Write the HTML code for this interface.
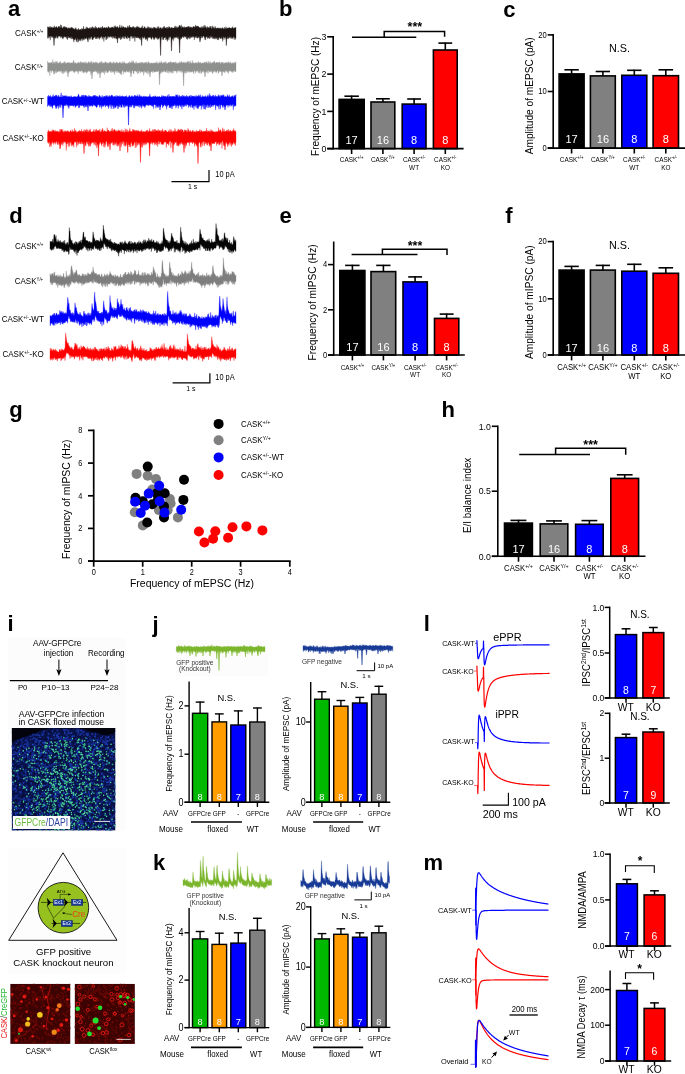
<!DOCTYPE html>
<html><head><meta charset="utf-8"><title>figure</title>
<style>html,body{margin:0;padding:0;background:#fff}svg{display:block;filter:grayscale(0)}text{font-family:"Liberation Sans",sans-serif}</style></head>
<body>
<svg width="685" height="1074" viewBox="0 0 685 1074" font-family='"Liberation Sans", sans-serif'>
<rect width="685" height="1074" fill="#fff"/>
<text x="7.9" y="15.9" font-size="22.00" font-weight="bold" fill="#000">a</text>
<text x="279.0" y="16.1" font-size="22.00" font-weight="bold" fill="#000">b</text>
<text x="503.3" y="16.6" font-size="22.00" font-weight="bold" fill="#000">c</text>
<text x="9.2" y="222.7" font-size="22.00" font-weight="bold" fill="#000">d</text>
<text x="279.6" y="223.2" font-size="22.00" font-weight="bold" fill="#000">e</text>
<text x="505.2" y="222.7" font-size="22.00" font-weight="bold" fill="#000">f</text>
<text x="9.2" y="417.2" font-size="22.00" font-weight="bold" fill="#000">g</text>
<text x="441.5" y="416.9" font-size="22.00" font-weight="bold" fill="#000">h</text>
<text x="7.5" y="630.8" font-size="22.00" font-weight="bold" fill="#000">i</text>
<text x="152.5" y="631.7" font-size="22.00" font-weight="bold" fill="#000">j</text>
<text x="423.7" y="631.0" font-size="22.00" font-weight="bold" fill="#000">l</text>
<text x="153.0" y="869.9" font-size="22.00" font-weight="bold" fill="#000">k</text>
<text x="423.6" y="869.9" font-size="22.00" font-weight="bold" fill="#000">m</text>
<path d="M47.5,26.6 L47.8,28.1 L48.2,26.8 L48.5,26.9 L48.8,28.0 L49.2,27.5 L49.5,28.2 L49.8,26.2 L50.2,27.8 L50.5,27.9 L50.8,26.6 L51.2,27.0 L51.5,27.9 L51.8,27.3 L52.2,26.8 L52.5,28.1 L52.8,27.9 L53.2,28.1 L53.5,27.3 L53.8,27.7 L54.2,25.6 L54.5,27.4 L54.8,27.8 L55.2,27.0 L55.5,27.3 L55.8,27.7 L56.2,26.4 L56.5,26.5 L56.8,27.3 L57.2,27.9 L57.5,27.5 L57.8,27.7 L58.2,27.3 L58.5,26.0 L58.8,27.0 L59.2,28.0 L59.5,26.3 L59.8,26.6 L60.2,27.7 L60.5,24.6 L60.8,28.1 L61.2,27.7 L61.5,25.1 L61.8,27.1 L62.2,28.2 L62.5,28.2 L62.8,27.9 L63.2,26.8 L63.5,27.8 L63.8,27.1 L64.2,26.0 L64.5,27.7 L64.8,27.0 L65.2,27.7 L65.5,26.7 L65.8,27.4 L66.2,27.6 L66.5,27.8 L66.9,27.1 L67.2,27.9 L67.5,28.5 L67.9,28.4 L68.2,28.4 L68.5,28.6 L68.9,27.3 L69.2,28.4 L69.5,27.9 L69.9,28.3 L70.2,28.5 L70.5,28.2 L70.9,27.6 L71.2,28.2 L71.5,26.9 L71.9,28.2 L72.2,27.3 L72.5,29.0 L72.9,28.0 L73.2,28.3 L73.5,28.7 L73.9,28.9 L74.2,29.2 L74.5,29.4 L74.9,28.4 L75.2,29.1 L75.5,28.9 L75.9,27.4 L76.2,29.2 L76.5,29.1 L76.9,30.2 L77.2,30.3 L77.5,30.1 L77.9,29.0 L78.2,29.7 L78.5,28.1 L78.9,30.1 L79.2,29.7 L79.5,30.0 L79.9,29.7 L80.2,29.0 L80.5,30.0 L80.9,29.2 L81.2,30.2 L81.5,29.9 L81.9,28.0 L82.2,29.7 L82.5,29.0 L82.9,28.9 L83.2,28.5 L83.5,26.1 L83.9,29.6 L84.2,29.1 L84.5,28.9 L84.9,29.5 L85.2,28.9 L85.5,28.9 L85.9,28.2 L86.2,26.8 L86.5,28.2 L86.9,29.0 L87.2,26.9 L87.5,28.6 L87.9,28.2 L88.2,28.9 L88.5,28.3 L88.9,28.2 L89.2,27.8 L89.5,27.8 L89.9,28.7 L90.2,28.9 L90.5,28.7 L90.9,27.0 L91.2,28.1 L91.5,27.6 L91.9,28.4 L92.2,28.8 L92.5,26.7 L92.9,26.5 L93.2,28.0 L93.5,28.9 L93.9,27.4 L94.2,28.7 L94.5,27.8 L94.9,27.7 L95.2,28.7 L95.5,25.9 L95.9,28.2 L96.2,28.5 L96.5,27.2 L96.9,28.1 L97.2,28.7 L97.5,28.5 L97.9,27.9 L98.2,27.4 L98.5,27.7 L98.9,27.6 L99.2,28.4 L99.5,27.7 L99.9,27.9 L100.2,27.9 L100.5,27.2 L100.9,28.7 L101.2,28.7 L101.5,28.2 L101.9,27.0 L102.2,28.1 L102.5,26.1 L102.9,27.8 L103.2,28.5 L103.5,27.8 L103.9,28.0 L104.2,28.1 L104.6,27.3 L104.9,27.6 L105.2,28.0 L105.6,28.3 L105.9,27.4 L106.2,27.6 L106.6,27.3 L106.9,28.2 L107.2,27.8 L107.6,28.0 L107.9,28.4 L108.2,26.1 L108.6,26.9 L108.9,27.6 L109.2,27.5 L109.6,28.4 L109.9,27.6 L110.2,28.0 L110.6,27.9 L110.9,27.6 L111.2,27.7 L111.6,26.9 L111.9,28.3 L112.2,26.8 L112.6,27.5 L112.9,27.5 L113.2,28.2 L113.6,27.4 L113.9,26.9 L114.2,25.8 L114.6,28.0 L114.9,27.8 L115.2,25.6 L115.6,27.1 L115.9,27.4 L116.2,27.3 L116.6,26.8 L116.9,28.1 L117.2,26.5 L117.6,26.6 L117.9,27.8 L118.2,27.9 L118.6,28.2 L118.9,27.3 L119.2,27.3 L119.6,27.1 L119.9,24.7 L120.2,27.5 L120.6,27.9 L120.9,27.5 L121.2,27.8 L121.6,27.1 L121.9,25.4 L122.2,26.9 L122.6,27.8 L122.9,27.6 L123.2,26.2 L123.6,27.6 L123.9,27.1 L124.2,27.4 L124.6,28.2 L124.9,27.4 L125.2,28.0 L125.6,27.0 L125.9,27.8 L126.2,27.9 L126.6,28.0 L126.9,28.2 L127.2,27.7 L127.6,26.7 L127.9,25.7 L128.2,28.1 L128.6,27.5 L128.9,26.5 L129.2,26.7 L129.6,25.1 L129.9,28.1 L130.2,27.3 L130.6,27.3 L130.9,27.1 L131.2,28.3 L131.6,27.0 L131.9,27.9 L132.2,28.0 L132.6,26.5 L132.9,27.8 L133.2,27.4 L133.6,26.2 L133.9,27.7 L134.2,27.0 L134.6,27.8 L134.9,28.4 L135.2,28.2 L135.6,27.3 L135.9,28.4 L136.2,27.5 L136.6,26.4 L136.9,26.7 L137.2,26.8 L137.6,26.4 L137.9,27.4 L138.2,27.7 L138.6,27.3 L138.9,26.5 L139.2,27.4 L139.6,27.9 L139.9,28.1 L140.2,28.0 L140.6,28.0 L140.9,28.0 L141.2,28.3 L141.6,26.6 L141.9,27.7 L142.3,28.6 L142.6,25.6 L142.9,28.3 L143.3,28.1 L143.6,28.6 L143.9,28.0 L144.3,26.6 L144.6,27.6 L144.9,26.7 L145.3,27.9 L145.6,28.3 L145.9,28.6 L146.3,28.7 L146.6,27.8 L146.9,28.1 L147.3,28.3 L147.6,28.2 L147.9,26.2 L148.3,28.1 L148.6,26.9 L148.9,28.7 L149.3,28.4 L149.6,27.6 L149.9,27.2 L150.3,28.2 L150.6,28.3 L150.9,27.6 L151.3,27.6 L151.6,28.9 L151.9,28.8 L152.3,28.0 L152.6,28.4 L152.9,28.8 L153.3,26.8 L153.6,28.9 L153.9,28.3 L154.3,27.3 L154.6,27.6 L154.9,27.5 L155.3,27.9 L155.6,27.7 L155.9,28.5 L156.3,28.4 L156.6,28.2 L156.9,28.7 L157.3,26.6 L157.6,28.6 L157.9,28.2 L158.3,28.4 L158.6,26.4 L158.9,26.8 L159.3,28.9 L159.6,28.8 L159.9,27.8 L160.3,27.8 L160.6,28.0 L160.9,27.4 L161.3,28.5 L161.6,28.7 L161.9,28.8 L162.3,28.7 L162.6,27.5 L162.9,27.9 L163.3,28.2 L163.6,26.6 L163.9,28.3 L164.3,26.1 L164.6,27.9 L164.9,27.5 L165.3,28.4 L165.6,28.0 L165.9,28.0 L166.3,27.1 L166.6,28.3 L166.9,28.4 L167.3,28.8 L167.6,27.1 L167.9,27.2 L168.3,28.2 L168.6,28.2 L168.9,26.2 L169.3,27.2 L169.6,28.1 L169.9,27.1 L170.3,28.5 L170.6,28.1 L170.9,28.5 L171.3,27.4 L171.6,28.5 L171.9,27.0 L172.3,27.7 L172.6,28.2 L172.9,28.5 L173.3,28.0 L173.6,27.9 L173.9,28.0 L174.3,27.7 L174.6,26.5 L174.9,27.5 L175.3,25.8 L175.6,28.0 L175.9,27.8 L176.3,27.9 L176.6,27.5 L176.9,26.2 L177.3,27.8 L177.6,28.1 L177.9,27.4 L178.3,26.8 L178.6,26.7 L178.9,27.9 L179.3,25.1 L179.6,25.5 L180.0,25.3 L180.3,27.2 L180.6,26.3 L181.0,27.3 L181.3,24.7 L181.6,27.9 L182.0,28.3 L182.3,26.6 L182.6,27.1 L183.0,26.7 L183.3,27.9 L183.6,27.6 L184.0,27.6 L184.3,26.5 L184.6,27.7 L185.0,27.3 L185.3,27.4 L185.6,27.2 L186.0,27.8 L186.3,27.1 L186.6,27.0 L187.0,27.0 L187.3,27.0 L187.6,27.6 L188.0,26.1 L188.3,27.1 L188.6,27.5 L189.0,26.0 L189.3,27.8 L189.6,27.2 L190.0,27.6 L190.3,28.0 L190.6,26.9 L191.0,26.5 L191.3,27.9 L191.6,27.3 L192.0,27.8 L192.3,28.2 L192.6,27.4 L193.0,26.6 L193.3,26.6 L193.6,26.7 L194.0,26.6 L194.3,26.9 L194.6,26.7 L195.0,27.8 L195.3,26.5 L195.6,24.9 L196.0,27.3 L196.3,26.1 L196.6,27.1 L197.0,25.8 L197.3,26.8 L197.6,25.9 L198.0,27.6 L198.3,26.0 L198.6,26.8 L199.0,27.2 L199.3,27.7 L199.6,27.5 L200.0,27.6 L200.3,28.2 L200.6,27.5 L201.0,27.4 L201.3,26.3 L201.6,27.9 L202.0,28.2 L202.3,28.1 L202.6,26.4 L203.0,27.9 L203.3,27.5 L203.6,27.5 L204.0,25.3 L204.3,26.8 L204.6,28.2 L205.0,25.2 L205.3,27.0 L205.6,26.7 L206.0,28.0 L206.3,27.3 L206.6,28.3 L207.0,28.5 L207.3,26.3 L207.6,27.2 L208.0,28.4 L208.3,27.1 L208.6,28.2 L209.0,28.1 L209.3,28.3 L209.6,26.5 L210.0,28.2 L210.3,26.4 L210.6,27.6 L211.0,26.0 L211.3,27.9 L211.6,28.7 L212.0,28.6 L212.3,26.9 L212.6,25.7 L213.0,28.6 L213.3,26.8 L213.6,28.3 L214.0,28.5 L214.3,28.3 L214.6,28.3 L215.0,26.2 L215.3,27.1 L215.6,28.1 L216.0,28.5 L216.3,28.8 L216.6,27.9 L217.0,28.0 L217.3,27.8 L217.7,28.4 L218.0,27.9 L218.3,28.2 L218.7,27.9 L219.0,28.3 L219.3,28.6 L219.7,28.3 L220.0,27.6 L220.3,28.5 L220.7,28.6 L221.0,28.5 L221.3,28.0 L221.7,28.7 L222.0,28.4 L222.3,28.2 L222.7,27.4 L223.0,28.0 L223.3,28.7 L223.7,28.7 L224.0,29.0 L224.3,28.8 L224.7,27.2 L225.0,28.1 L225.3,28.9 L225.7,28.3 L226.0,26.6 L226.3,28.4 L226.7,28.5 L227.0,27.9 L227.3,27.8 L227.7,28.4 L228.0,28.0 L228.3,28.1 L228.7,28.2 L229.0,27.3 L229.3,27.7 L229.7,27.5 L230.0,28.5 L230.3,28.1 L230.7,28.6 L231.0,28.0 L231.3,28.7 L231.7,27.6 L232.0,27.9 L232.3,28.0 L232.7,26.5 L233.0,28.6 L233.3,27.8 L233.7,28.6 L234.0,28.2 L234.3,28.2 L234.7,27.5 L235.0,27.4 L235.3,27.5 L235.7,27.8 L236.0,27.5 L236.0,38.0 L235.7,37.6 L235.3,39.4 L235.0,39.7 L234.7,39.4 L234.3,37.2 L234.0,36.8 L233.7,37.3 L233.3,36.6 L233.0,39.2 L232.7,37.3 L232.3,38.3 L232.0,37.5 L231.7,36.7 L231.3,38.7 L231.0,36.8 L230.7,38.4 L230.3,36.4 L230.0,36.6 L229.7,38.0 L229.3,36.8 L229.0,36.8 L228.7,38.8 L228.3,37.8 L228.0,38.6 L227.7,39.0 L227.3,37.0 L227.0,36.6 L226.7,37.8 L226.3,37.5 L226.0,39.1 L225.7,36.6 L225.3,37.0 L225.0,37.4 L224.7,37.9 L224.3,36.9 L224.0,39.7 L223.7,37.3 L223.3,36.4 L223.0,38.6 L222.7,41.5 L222.3,37.1 L222.0,38.9 L221.7,36.4 L221.3,37.7 L221.0,38.8 L220.7,37.7 L220.3,38.8 L220.0,37.6 L219.7,37.5 L219.3,37.2 L219.0,38.4 L218.7,40.1 L218.3,38.9 L218.0,36.9 L217.7,38.6 L217.3,40.0 L217.0,38.6 L216.6,37.9 L216.3,37.6 L216.0,39.2 L215.6,37.9 L215.3,36.8 L215.0,39.1 L214.6,38.6 L214.3,36.8 L214.0,39.2 L213.6,37.4 L213.3,37.4 L213.0,38.6 L212.6,38.5 L212.3,36.4 L212.0,36.2 L211.6,37.9 L211.3,36.5 L211.0,36.3 L210.6,36.2 L210.3,38.1 L210.0,38.3 L209.6,38.9 L209.3,36.8 L209.0,36.6 L208.6,38.3 L208.3,37.9 L208.0,36.8 L207.6,38.7 L207.3,36.4 L207.0,37.6 L206.6,36.8 L206.3,36.6 L206.0,36.1 L205.6,39.8 L205.3,36.7 L205.0,40.1 L204.6,36.6 L204.3,37.7 L204.0,36.5 L203.6,36.1 L203.3,36.2 L203.0,36.4 L202.6,36.4 L202.3,38.0 L202.0,38.0 L201.6,37.7 L201.3,36.1 L201.0,35.8 L200.6,36.6 L200.3,39.6 L200.0,35.9 L199.6,37.3 L199.3,36.0 L199.0,35.9 L198.6,38.0 L198.3,36.5 L198.0,37.3 L197.6,38.3 L197.3,37.5 L197.0,38.3 L196.6,36.4 L196.3,35.8 L196.0,38.0 L195.6,37.3 L195.3,35.7 L195.0,37.2 L194.6,37.1 L194.3,40.0 L194.0,36.0 L193.6,36.7 L193.3,36.1 L193.0,37.7 L192.6,36.7 L192.3,35.8 L192.0,37.1 L191.6,37.3 L191.3,35.9 L191.0,37.9 L190.6,35.8 L190.3,37.9 L190.0,38.7 L189.6,35.6 L189.3,39.1 L189.0,36.8 L188.6,37.8 L188.3,36.9 L188.0,37.9 L187.6,39.6 L187.3,38.1 L187.0,35.9 L186.6,39.1 L186.3,37.9 L186.0,36.0 L185.6,37.4 L185.3,36.6 L185.0,36.1 L184.6,35.9 L184.3,37.3 L184.0,36.3 L183.6,38.0 L183.3,36.6 L183.0,36.0 L182.6,36.9 L182.3,36.7 L182.0,37.6 L181.6,38.7 L181.3,38.5 L181.0,37.5 L180.6,37.4 L180.3,39.8 L180.0,38.0 L179.6,36.3 L179.3,38.1 L178.9,37.3 L178.6,39.3 L178.3,35.8 L177.9,38.7 L177.6,37.6 L177.3,37.2 L176.9,36.8 L176.6,38.0 L176.3,36.0 L175.9,37.5 L175.6,37.3 L175.3,36.8 L174.9,38.5 L174.6,36.2 L174.3,37.7 L173.9,36.4 L173.6,40.7 L173.3,37.5 L172.9,38.5 L172.6,37.9 L172.3,39.6 L171.9,38.6 L171.6,37.7 L171.3,36.5 L170.9,36.9 L170.6,36.2 L170.3,36.4 L169.9,38.0 L169.6,36.5 L169.3,36.7 L168.9,40.2 L168.6,38.2 L168.3,36.4 L167.9,39.2 L167.6,39.7 L167.3,41.5 L166.9,39.4 L166.6,39.3 L166.3,37.5 L165.9,40.0 L165.6,37.8 L165.3,36.3 L164.9,37.8 L164.6,37.2 L164.3,38.0 L163.9,37.4 L163.6,40.1 L163.3,38.0 L162.9,39.8 L162.6,38.8 L162.3,36.6 L161.9,37.3 L161.6,36.8 L161.3,36.5 L160.9,39.9 L160.6,37.9 L160.3,37.0 L159.9,38.6 L159.6,36.5 L159.3,37.5 L158.9,38.7 L158.6,38.5 L158.3,38.1 L157.9,40.1 L157.6,36.4 L157.3,38.8 L156.9,38.1 L156.6,37.0 L156.3,38.4 L155.9,37.6 L155.6,36.5 L155.3,37.5 L154.9,38.4 L154.6,39.5 L154.3,37.0 L153.9,39.8 L153.6,36.9 L153.3,38.7 L152.9,37.0 L152.6,36.4 L152.3,37.6 L151.9,38.0 L151.6,39.5 L151.3,38.9 L150.9,38.7 L150.6,36.5 L150.3,37.3 L149.9,38.0 L149.6,36.7 L149.3,37.2 L148.9,37.6 L148.6,37.7 L148.3,37.5 L147.9,37.1 L147.6,39.9 L147.3,41.2 L146.9,37.6 L146.6,39.3 L146.3,38.8 L145.9,38.9 L145.6,39.7 L145.3,38.7 L144.9,36.5 L144.6,36.5 L144.3,37.9 L143.9,37.2 L143.6,37.5 L143.3,38.6 L142.9,38.0 L142.6,36.4 L142.3,36.5 L141.9,37.0 L141.6,36.3 L141.2,36.2 L140.9,38.0 L140.6,36.4 L140.2,39.9 L139.9,37.3 L139.6,38.5 L139.2,38.8 L138.9,37.3 L138.6,38.0 L138.2,37.5 L137.9,38.2 L137.6,36.1 L137.2,37.9 L136.9,37.6 L136.6,38.1 L136.2,37.2 L135.9,36.0 L135.6,37.5 L135.2,37.0 L134.9,41.7 L134.6,37.6 L134.2,36.0 L133.9,37.9 L133.6,38.2 L133.2,35.9 L132.9,36.7 L132.6,35.9 L132.2,38.7 L131.9,37.6 L131.6,36.5 L131.2,35.8 L130.9,35.8 L130.6,36.5 L130.2,37.5 L129.9,41.0 L129.6,37.1 L129.2,37.9 L128.9,37.9 L128.6,36.8 L128.2,38.2 L127.9,35.9 L127.6,36.1 L127.2,39.1 L126.9,38.6 L126.6,38.2 L126.2,38.0 L125.9,36.8 L125.6,37.5 L125.2,35.8 L124.9,35.7 L124.6,38.9 L124.2,36.7 L123.9,36.8 L123.6,35.9 L123.2,38.7 L122.9,37.1 L122.6,37.6 L122.2,35.9 L121.9,37.1 L121.6,38.2 L121.2,39.3 L120.9,35.9 L120.6,39.9 L120.2,38.2 L119.9,37.0 L119.6,38.3 L119.2,37.5 L118.9,38.4 L118.6,36.2 L118.2,38.1 L117.9,36.9 L117.6,36.2 L117.2,38.9 L116.9,38.2 L116.6,37.8 L116.2,39.2 L115.9,36.8 L115.6,38.4 L115.2,35.9 L114.9,35.9 L114.6,38.4 L114.2,38.1 L113.9,37.0 L113.6,35.9 L113.2,38.0 L112.9,38.6 L112.6,37.4 L112.2,36.1 L111.9,36.0 L111.6,37.3 L111.2,37.5 L110.9,36.8 L110.6,36.6 L110.2,36.1 L109.9,37.4 L109.6,36.2 L109.2,36.9 L108.9,37.5 L108.6,36.6 L108.2,36.6 L107.9,36.6 L107.6,38.7 L107.2,36.3 L106.9,37.0 L106.6,38.6 L106.2,39.9 L105.9,39.8 L105.6,36.2 L105.2,36.6 L104.9,36.7 L104.6,37.4 L104.2,37.5 L103.9,41.6 L103.5,36.4 L103.2,36.8 L102.9,37.9 L102.5,36.2 L102.2,39.4 L101.9,37.3 L101.5,36.3 L101.2,36.8 L100.9,36.5 L100.5,37.4 L100.2,38.2 L99.9,37.2 L99.5,39.6 L99.2,37.8 L98.9,36.9 L98.5,38.5 L98.2,36.4 L97.9,37.0 L97.5,37.6 L97.2,38.7 L96.9,38.9 L96.5,36.5 L96.2,38.9 L95.9,36.4 L95.5,38.9 L95.2,36.9 L94.9,37.5 L94.5,36.5 L94.2,36.4 L93.9,38.0 L93.5,38.5 L93.2,37.2 L92.9,39.9 L92.5,38.9 L92.2,39.6 L91.9,37.2 L91.5,36.5 L91.2,36.7 L90.9,39.1 L90.5,37.2 L90.2,36.7 L89.9,39.8 L89.5,37.4 L89.2,38.1 L88.9,37.3 L88.5,37.1 L88.2,38.4 L87.9,38.8 L87.5,40.2 L87.2,38.4 L86.9,37.0 L86.5,38.6 L86.2,37.9 L85.9,38.8 L85.5,38.3 L85.2,38.5 L84.9,39.6 L84.5,37.8 L84.2,37.8 L83.9,40.3 L83.5,37.8 L83.2,39.4 L82.9,38.2 L82.5,40.8 L82.2,38.7 L81.9,37.9 L81.5,39.4 L81.2,38.0 L80.9,41.3 L80.5,40.0 L80.2,39.6 L79.9,38.4 L79.5,40.7 L79.2,39.2 L78.9,40.1 L78.5,41.8 L78.2,38.4 L77.9,42.4 L77.5,38.2 L77.2,38.0 L76.9,39.7 L76.5,41.9 L76.2,41.1 L75.9,38.2 L75.5,38.0 L75.2,39.8 L74.9,38.8 L74.5,39.9 L74.2,39.3 L73.9,42.2 L73.5,39.1 L73.2,39.3 L72.9,39.2 L72.5,36.7 L72.2,38.8 L71.9,36.6 L71.5,39.1 L71.2,37.0 L70.9,36.6 L70.5,38.3 L70.2,38.3 L69.9,37.5 L69.5,38.2 L69.2,36.7 L68.9,37.8 L68.5,37.5 L68.2,36.1 L67.9,36.7 L67.5,39.7 L67.2,39.4 L66.9,38.6 L66.5,38.2 L66.2,36.2 L65.8,37.3 L65.5,36.5 L65.2,37.3 L64.8,35.9 L64.5,36.4 L64.2,37.2 L63.8,36.6 L63.5,38.0 L63.2,37.9 L62.8,39.3 L62.5,35.8 L62.2,38.2 L61.8,36.8 L61.5,36.2 L61.2,36.8 L60.8,38.1 L60.5,35.8 L60.2,36.4 L59.8,36.0 L59.5,36.5 L59.2,35.7 L58.8,35.9 L58.5,35.9 L58.2,37.1 L57.8,38.5 L57.5,37.8 L57.2,37.6 L56.8,36.0 L56.5,35.7 L56.2,38.2 L55.8,38.1 L55.5,38.2 L55.2,36.4 L54.8,38.6 L54.5,36.8 L54.2,35.8 L53.8,36.6 L53.5,37.7 L53.2,36.0 L52.8,37.7 L52.5,37.0 L52.2,36.5 L51.8,35.9 L51.5,37.6 L51.2,36.3 L50.8,36.0 L50.5,35.9 L50.2,40.3 L49.8,36.7 L49.5,35.7 L49.2,37.4 L48.8,35.9 L48.5,38.4 L48.2,35.7 L47.8,37.1 L47.5,38.5Z" fill="#1c1412" stroke="#1c1412" stroke-width="0.3" stroke-linejoin="round"/>
<path d="M53.5,36.0 L54.0,45.6 L54.5,36.0Z M117.0,36.0 L117.5,43.0 L118.0,36.0Z M141.0,36.0 L141.6,45.6 L142.2,36.0Z M160.0,36.0 L160.6,55.5 L161.2,36.0Z M170.9,36.0 L171.5,51.0 L172.1,36.0Z M179.0,36.0 L179.6,53.0 L180.2,36.0Z M225.8,36.0 L226.3,45.6 L226.9,36.0Z M87.5,36.0 L88.0,42.0 L88.5,36.0Z M199.4,36.0 L200.0,42.0 L200.6,36.0Z " fill="#1c1412" stroke="#1c1412" stroke-width="0.45"/>
<path d="M47.5,61.0 L47.8,63.3 L48.2,62.8 L48.5,63.3 L48.8,62.5 L49.2,63.2 L49.5,62.7 L49.8,63.1 L50.2,62.4 L50.5,62.9 L50.8,63.5 L51.2,62.8 L51.5,62.0 L51.8,62.3 L52.2,63.8 L52.5,63.5 L52.8,59.4 L53.2,63.5 L53.5,62.1 L53.8,63.5 L54.2,63.6 L54.5,61.8 L54.8,63.1 L55.2,63.8 L55.5,62.4 L55.8,61.1 L56.2,61.5 L56.5,62.3 L56.8,62.7 L57.2,61.3 L57.5,63.6 L57.8,63.6 L58.2,63.6 L58.5,63.0 L58.8,62.9 L59.2,62.0 L59.5,62.4 L59.8,62.9 L60.2,63.5 L60.5,61.0 L60.8,63.5 L61.2,63.0 L61.5,63.1 L61.8,63.8 L62.2,63.3 L62.5,63.4 L62.8,62.7 L63.2,63.3 L63.5,63.2 L63.8,62.1 L64.2,62.7 L64.5,63.0 L64.8,61.2 L65.2,61.9 L65.5,62.9 L65.8,63.5 L66.2,63.1 L66.5,63.5 L66.9,63.1 L67.2,62.7 L67.5,62.3 L67.9,63.0 L68.2,62.5 L68.5,63.6 L68.9,62.2 L69.2,62.6 L69.5,63.0 L69.9,63.2 L70.2,62.8 L70.5,63.4 L70.9,62.8 L71.2,63.1 L71.5,62.9 L71.9,62.8 L72.2,62.3 L72.5,63.5 L72.9,63.1 L73.2,62.4 L73.5,60.4 L73.9,60.3 L74.2,63.7 L74.5,63.8 L74.9,62.3 L75.2,63.6 L75.5,62.5 L75.9,63.5 L76.2,63.3 L76.5,63.7 L76.9,63.2 L77.2,63.7 L77.5,62.5 L77.9,63.2 L78.2,63.2 L78.5,61.9 L78.9,62.5 L79.2,63.5 L79.5,62.5 L79.9,63.6 L80.2,63.4 L80.5,61.1 L80.9,63.0 L81.2,62.6 L81.5,62.0 L81.9,63.0 L82.2,62.8 L82.5,62.5 L82.9,62.6 L83.2,63.4 L83.5,62.9 L83.9,61.8 L84.2,62.0 L84.5,63.2 L84.9,62.8 L85.2,63.8 L85.5,63.4 L85.9,61.8 L86.2,61.9 L86.5,63.7 L86.9,62.7 L87.2,63.6 L87.5,63.0 L87.9,63.5 L88.2,62.5 L88.5,61.7 L88.9,61.7 L89.2,63.5 L89.5,62.9 L89.9,62.2 L90.2,62.4 L90.5,63.6 L90.9,61.2 L91.2,63.0 L91.5,63.3 L91.9,61.0 L92.2,63.4 L92.5,63.5 L92.9,62.9 L93.2,62.4 L93.5,62.7 L93.9,61.9 L94.2,62.6 L94.5,63.6 L94.9,62.7 L95.2,63.4 L95.5,61.7 L95.9,63.2 L96.2,63.5 L96.5,61.8 L96.9,63.2 L97.2,62.6 L97.5,63.1 L97.9,63.4 L98.2,62.8 L98.5,63.8 L98.9,63.6 L99.2,63.5 L99.5,62.3 L99.9,62.1 L100.2,62.5 L100.5,63.2 L100.9,62.5 L101.2,60.9 L101.5,63.6 L101.9,61.7 L102.2,62.0 L102.5,63.7 L102.9,63.7 L103.2,63.0 L103.5,62.7 L103.9,63.0 L104.2,62.6 L104.6,62.9 L104.9,63.7 L105.2,61.5 L105.6,62.7 L105.9,62.0 L106.2,63.3 L106.6,63.5 L106.9,62.0 L107.2,62.9 L107.6,63.5 L107.9,62.8 L108.2,63.4 L108.6,63.2 L108.9,62.8 L109.2,62.3 L109.6,62.7 L109.9,62.7 L110.2,61.5 L110.6,63.2 L110.9,62.3 L111.2,63.4 L111.6,63.3 L111.9,62.5 L112.2,63.1 L112.6,63.5 L112.9,63.0 L113.2,61.5 L113.6,63.3 L113.9,63.5 L114.2,63.0 L114.6,63.3 L114.9,62.1 L115.2,63.0 L115.6,63.6 L115.9,63.1 L116.2,62.9 L116.6,61.7 L116.9,62.2 L117.2,62.8 L117.6,63.1 L117.9,63.1 L118.2,63.0 L118.6,63.6 L118.9,63.2 L119.2,62.0 L119.6,62.5 L119.9,62.5 L120.2,62.7 L120.6,63.7 L120.9,61.9 L121.2,63.7 L121.6,63.4 L121.9,63.3 L122.2,63.2 L122.6,62.7 L122.9,61.3 L123.2,62.6 L123.6,63.6 L123.9,63.1 L124.2,61.6 L124.6,63.7 L124.9,62.9 L125.2,63.2 L125.6,63.4 L125.9,63.2 L126.2,63.3 L126.6,63.3 L126.9,63.8 L127.2,63.8 L127.6,63.8 L127.9,63.0 L128.2,62.4 L128.6,63.2 L128.9,63.0 L129.2,63.7 L129.6,61.5 L129.9,62.7 L130.2,62.9 L130.6,62.6 L130.9,62.2 L131.2,62.9 L131.6,62.5 L131.9,60.4 L132.2,61.5 L132.6,62.6 L132.9,63.4 L133.2,60.7 L133.6,61.8 L133.9,62.7 L134.2,62.9 L134.6,63.8 L134.9,62.9 L135.2,63.5 L135.6,63.5 L135.9,62.1 L136.2,61.4 L136.6,63.7 L136.9,63.2 L137.2,63.4 L137.6,63.0 L137.9,63.2 L138.2,62.8 L138.6,62.9 L138.9,63.4 L139.2,63.2 L139.6,63.0 L139.9,62.6 L140.2,62.2 L140.6,63.5 L140.9,63.2 L141.2,62.1 L141.6,63.2 L141.9,63.1 L142.3,62.6 L142.6,62.1 L142.9,63.2 L143.3,62.8 L143.6,63.5 L143.9,63.6 L144.3,63.2 L144.6,62.3 L144.9,63.6 L145.3,62.3 L145.6,62.4 L145.9,63.4 L146.3,61.8 L146.6,62.8 L146.9,63.5 L147.3,63.6 L147.6,62.8 L147.9,62.6 L148.3,61.3 L148.6,62.8 L148.9,63.2 L149.3,63.5 L149.6,62.5 L149.9,62.7 L150.3,63.6 L150.6,63.5 L150.9,63.5 L151.3,63.1 L151.6,63.1 L151.9,62.7 L152.3,63.1 L152.6,63.5 L152.9,63.5 L153.3,62.7 L153.6,62.9 L153.9,63.3 L154.3,63.3 L154.6,62.9 L154.9,63.0 L155.3,63.3 L155.6,62.5 L155.9,62.4 L156.3,63.5 L156.6,63.3 L156.9,61.4 L157.3,63.5 L157.6,63.4 L157.9,63.6 L158.3,62.6 L158.6,63.7 L158.9,63.2 L159.3,62.8 L159.6,63.5 L159.9,61.5 L160.3,62.9 L160.6,63.0 L160.9,63.2 L161.3,61.1 L161.6,63.3 L161.9,62.7 L162.3,63.4 L162.6,63.7 L162.9,62.2 L163.3,62.7 L163.6,62.8 L163.9,62.6 L164.3,62.6 L164.6,63.6 L164.9,61.6 L165.3,61.4 L165.6,63.6 L165.9,63.5 L166.3,63.2 L166.6,62.3 L166.9,63.5 L167.3,63.3 L167.6,63.8 L167.9,63.2 L168.3,63.1 L168.6,62.2 L168.9,62.1 L169.3,62.6 L169.6,62.3 L169.9,63.2 L170.3,63.1 L170.6,61.0 L170.9,63.1 L171.3,62.4 L171.6,62.2 L171.9,61.9 L172.3,62.4 L172.6,62.7 L172.9,63.5 L173.3,62.6 L173.6,62.0 L173.9,61.9 L174.3,63.5 L174.6,62.2 L174.9,62.6 L175.3,63.6 L175.6,62.3 L175.9,61.6 L176.3,63.3 L176.6,63.5 L176.9,63.8 L177.3,62.8 L177.6,63.3 L177.9,63.4 L178.3,63.7 L178.6,62.6 L178.9,62.8 L179.3,63.6 L179.6,62.3 L180.0,61.6 L180.3,62.9 L180.6,62.7 L181.0,62.3 L181.3,62.5 L181.6,61.1 L182.0,63.3 L182.3,63.0 L182.6,63.0 L183.0,61.9 L183.3,62.1 L183.6,63.0 L184.0,62.5 L184.3,63.0 L184.6,63.4 L185.0,61.7 L185.3,63.6 L185.6,63.1 L186.0,62.3 L186.3,62.1 L186.6,63.8 L187.0,62.3 L187.3,62.1 L187.6,62.4 L188.0,60.9 L188.3,63.8 L188.6,61.2 L189.0,63.8 L189.3,63.2 L189.6,62.4 L190.0,60.8 L190.3,62.6 L190.6,62.3 L191.0,63.4 L191.3,63.5 L191.6,62.7 L192.0,63.1 L192.3,60.2 L192.6,63.4 L193.0,62.5 L193.3,62.4 L193.6,63.3 L194.0,62.9 L194.3,63.5 L194.6,63.2 L195.0,62.7 L195.3,62.3 L195.6,62.8 L196.0,63.6 L196.3,62.8 L196.6,62.7 L197.0,63.6 L197.3,62.4 L197.6,63.7 L198.0,63.1 L198.3,61.3 L198.6,62.6 L199.0,63.0 L199.3,63.2 L199.6,63.1 L200.0,62.0 L200.3,62.9 L200.6,62.2 L201.0,63.7 L201.3,63.0 L201.6,63.7 L202.0,63.6 L202.3,63.0 L202.6,62.8 L203.0,63.1 L203.3,62.7 L203.6,63.3 L204.0,63.2 L204.3,61.7 L204.6,62.2 L205.0,63.2 L205.3,63.8 L205.6,62.0 L206.0,63.5 L206.3,62.0 L206.6,61.3 L207.0,63.3 L207.3,63.2 L207.6,63.1 L208.0,63.0 L208.3,60.9 L208.6,63.2 L209.0,63.3 L209.3,63.3 L209.6,63.5 L210.0,61.3 L210.3,63.5 L210.6,62.7 L211.0,63.0 L211.3,62.7 L211.6,63.7 L212.0,63.6 L212.3,62.4 L212.6,62.4 L213.0,62.3 L213.3,63.2 L213.6,62.2 L214.0,61.1 L214.3,60.9 L214.6,63.0 L215.0,61.9 L215.3,63.3 L215.6,63.6 L216.0,62.6 L216.3,62.5 L216.6,62.5 L217.0,62.0 L217.3,62.8 L217.7,62.3 L218.0,63.2 L218.3,62.7 L218.7,62.4 L219.0,63.2 L219.3,61.5 L219.7,63.3 L220.0,62.4 L220.3,63.6 L220.7,63.5 L221.0,63.3 L221.3,62.3 L221.7,63.3 L222.0,62.2 L222.3,63.4 L222.7,62.1 L223.0,62.0 L223.3,62.9 L223.7,63.7 L224.0,63.6 L224.3,63.4 L224.7,62.8 L225.0,63.0 L225.3,62.4 L225.7,62.8 L226.0,62.9 L226.3,62.6 L226.7,63.1 L227.0,63.1 L227.3,62.0 L227.7,63.7 L228.0,63.3 L228.3,61.9 L228.7,61.7 L229.0,63.5 L229.3,63.0 L229.7,63.7 L230.0,62.2 L230.3,63.4 L230.7,61.7 L231.0,63.0 L231.3,63.3 L231.7,63.7 L232.0,63.6 L232.3,63.4 L232.7,62.6 L233.0,62.7 L233.3,63.1 L233.7,63.5 L234.0,62.5 L234.3,62.9 L234.7,63.7 L235.0,61.6 L235.3,63.3 L235.7,63.1 L236.0,62.1 L236.0,70.7 L235.7,72.0 L235.3,70.4 L235.0,71.9 L234.7,70.3 L234.3,70.9 L234.0,71.2 L233.7,71.6 L233.3,70.3 L233.0,72.8 L232.7,71.2 L232.3,71.6 L232.0,72.4 L231.7,71.6 L231.3,71.4 L231.0,71.3 L230.7,70.2 L230.3,71.2 L230.0,71.5 L229.7,70.3 L229.3,71.1 L229.0,71.1 L228.7,71.6 L228.3,73.7 L228.0,71.3 L227.7,72.5 L227.3,71.4 L227.0,71.7 L226.7,71.0 L226.3,70.7 L226.0,70.2 L225.7,70.6 L225.3,72.2 L225.0,72.6 L224.7,72.7 L224.3,70.6 L224.0,72.4 L223.7,71.5 L223.3,71.5 L223.0,70.9 L222.7,70.9 L222.3,71.2 L222.0,71.4 L221.7,71.6 L221.3,71.6 L221.0,72.0 L220.7,70.9 L220.3,71.5 L220.0,71.2 L219.7,70.4 L219.3,71.7 L219.0,71.5 L218.7,73.0 L218.3,73.7 L218.0,70.4 L217.7,71.2 L217.3,70.4 L217.0,70.5 L216.6,72.4 L216.3,72.5 L216.0,72.4 L215.6,70.2 L215.3,72.4 L215.0,71.0 L214.6,71.3 L214.3,70.9 L214.0,70.3 L213.6,72.1 L213.3,70.4 L213.0,73.6 L212.6,73.0 L212.3,72.6 L212.0,72.7 L211.6,71.2 L211.3,70.6 L211.0,70.5 L210.6,71.9 L210.3,72.0 L210.0,70.8 L209.6,71.6 L209.3,72.3 L209.0,70.3 L208.6,70.6 L208.3,71.5 L208.0,73.7 L207.6,70.5 L207.3,70.4 L207.0,72.4 L206.6,70.4 L206.3,72.3 L206.0,71.3 L205.6,71.8 L205.3,70.3 L205.0,71.1 L204.6,72.3 L204.3,71.8 L204.0,72.8 L203.6,71.1 L203.3,71.3 L203.0,70.3 L202.6,72.0 L202.3,70.9 L202.0,71.5 L201.6,73.5 L201.3,70.3 L201.0,73.7 L200.6,70.3 L200.3,70.5 L200.0,71.4 L199.6,73.4 L199.3,70.9 L199.0,70.8 L198.6,72.0 L198.3,73.1 L198.0,72.0 L197.6,70.8 L197.3,70.6 L197.0,70.4 L196.6,71.2 L196.3,71.3 L196.0,70.9 L195.6,73.3 L195.3,72.0 L195.0,70.8 L194.6,70.4 L194.3,70.5 L194.0,72.5 L193.6,73.9 L193.3,71.7 L193.0,71.4 L192.6,71.9 L192.3,70.2 L192.0,71.7 L191.6,72.3 L191.3,71.8 L191.0,71.8 L190.6,72.2 L190.3,70.6 L190.0,71.5 L189.6,71.7 L189.3,70.4 L189.0,72.8 L188.6,70.3 L188.3,72.1 L188.0,71.3 L187.6,71.0 L187.3,70.8 L187.0,72.8 L186.6,73.0 L186.3,71.4 L186.0,70.6 L185.6,73.5 L185.3,70.5 L185.0,71.2 L184.6,73.1 L184.3,70.9 L184.0,70.9 L183.6,70.8 L183.3,70.6 L183.0,70.6 L182.6,71.4 L182.3,72.3 L182.0,72.7 L181.6,71.9 L181.3,70.4 L181.0,70.6 L180.6,70.6 L180.3,71.6 L180.0,72.5 L179.6,70.4 L179.3,70.7 L178.9,70.2 L178.6,70.3 L178.3,71.4 L177.9,70.6 L177.6,70.7 L177.3,71.3 L176.9,73.4 L176.6,70.5 L176.3,71.5 L175.9,70.9 L175.6,70.9 L175.3,71.2 L174.9,70.9 L174.6,70.8 L174.3,70.7 L173.9,70.2 L173.6,70.3 L173.3,73.1 L172.9,70.3 L172.6,71.5 L172.3,72.7 L171.9,73.5 L171.6,72.2 L171.3,71.3 L170.9,71.5 L170.6,70.9 L170.3,72.7 L169.9,70.6 L169.6,71.6 L169.3,71.6 L168.9,73.6 L168.6,70.8 L168.3,71.4 L167.9,70.3 L167.6,70.6 L167.3,73.0 L166.9,72.5 L166.6,70.3 L166.3,70.3 L165.9,72.0 L165.6,70.7 L165.3,72.5 L164.9,70.9 L164.6,71.5 L164.3,70.5 L163.9,70.5 L163.6,71.4 L163.3,72.1 L162.9,71.2 L162.6,71.4 L162.3,72.3 L161.9,71.9 L161.6,72.9 L161.3,71.1 L160.9,71.4 L160.6,74.0 L160.3,71.9 L159.9,72.3 L159.6,70.7 L159.3,72.2 L158.9,70.7 L158.6,70.5 L158.3,70.9 L157.9,71.8 L157.6,71.5 L157.3,71.7 L156.9,70.5 L156.6,71.5 L156.3,71.3 L155.9,72.0 L155.6,72.0 L155.3,71.2 L154.9,72.4 L154.6,70.9 L154.3,72.1 L153.9,72.1 L153.6,70.4 L153.3,70.7 L152.9,72.1 L152.6,72.9 L152.3,70.8 L151.9,71.6 L151.6,72.1 L151.3,70.9 L150.9,71.6 L150.6,71.0 L150.3,72.2 L149.9,71.2 L149.6,71.5 L149.3,71.6 L148.9,73.4 L148.6,70.5 L148.3,70.7 L147.9,74.3 L147.6,71.9 L147.3,71.0 L146.9,70.5 L146.6,73.3 L146.3,71.1 L145.9,72.2 L145.6,72.3 L145.3,71.4 L144.9,71.3 L144.6,70.6 L144.3,72.7 L143.9,73.0 L143.6,75.5 L143.3,70.5 L142.9,72.3 L142.6,72.1 L142.3,71.0 L141.9,71.3 L141.6,71.1 L141.2,72.2 L140.9,70.7 L140.6,72.3 L140.2,73.2 L139.9,71.9 L139.6,70.6 L139.2,71.0 L138.9,70.9 L138.6,71.8 L138.2,73.5 L137.9,72.2 L137.6,74.0 L137.2,70.2 L136.9,70.6 L136.6,72.3 L136.2,71.4 L135.9,70.7 L135.6,70.9 L135.2,71.1 L134.9,71.2 L134.6,70.4 L134.2,70.9 L133.9,73.8 L133.6,73.3 L133.2,73.9 L132.9,70.3 L132.6,70.7 L132.2,70.4 L131.9,71.5 L131.6,71.6 L131.2,73.3 L130.9,70.6 L130.6,70.2 L130.2,71.4 L129.9,72.8 L129.6,70.7 L129.2,71.1 L128.9,71.7 L128.6,70.6 L128.2,72.4 L127.9,71.2 L127.6,71.5 L127.2,71.8 L126.9,72.1 L126.6,71.1 L126.2,70.6 L125.9,71.5 L125.6,72.7 L125.2,71.7 L124.9,70.6 L124.6,72.1 L124.2,72.0 L123.9,71.6 L123.6,70.5 L123.2,74.4 L122.9,70.8 L122.6,70.6 L122.2,70.9 L121.9,71.7 L121.6,72.6 L121.2,75.2 L120.9,73.3 L120.6,73.2 L120.2,74.3 L119.9,71.2 L119.6,73.3 L119.2,72.2 L118.9,72.6 L118.6,71.5 L118.2,71.4 L117.9,72.7 L117.6,71.0 L117.2,70.9 L116.9,71.1 L116.6,72.7 L116.2,70.7 L115.9,70.5 L115.6,70.9 L115.2,71.4 L114.9,72.4 L114.6,74.7 L114.2,70.5 L113.9,71.4 L113.6,72.6 L113.2,70.9 L112.9,71.5 L112.6,70.9 L112.2,71.7 L111.9,72.8 L111.6,71.6 L111.2,70.6 L110.9,70.4 L110.6,72.6 L110.2,71.5 L109.9,70.6 L109.6,70.6 L109.2,70.4 L108.9,70.5 L108.6,71.7 L108.2,70.9 L107.9,73.0 L107.6,72.0 L107.2,72.9 L106.9,71.6 L106.6,70.2 L106.2,71.4 L105.9,70.5 L105.6,72.7 L105.2,70.5 L104.9,70.3 L104.6,74.7 L104.2,71.0 L103.9,70.8 L103.5,72.1 L103.2,73.2 L102.9,72.6 L102.5,71.4 L102.2,72.2 L101.9,72.3 L101.5,72.6 L101.2,70.7 L100.9,72.9 L100.5,73.8 L100.2,70.3 L99.9,70.6 L99.5,71.7 L99.2,72.7 L98.9,73.7 L98.5,72.8 L98.2,70.6 L97.9,72.2 L97.5,74.3 L97.2,70.4 L96.9,72.1 L96.5,72.3 L96.2,70.4 L95.9,70.6 L95.5,70.3 L95.2,72.0 L94.9,71.4 L94.5,71.6 L94.2,71.4 L93.9,71.1 L93.5,71.7 L93.2,71.0 L92.9,72.6 L92.5,71.5 L92.2,71.0 L91.9,73.5 L91.5,70.5 L91.2,71.7 L90.9,75.1 L90.5,70.9 L90.2,71.4 L89.9,71.4 L89.5,70.3 L89.2,71.5 L88.9,71.6 L88.5,71.1 L88.2,70.5 L87.9,71.6 L87.5,71.8 L87.2,72.3 L86.9,72.8 L86.5,70.6 L86.2,73.7 L85.9,71.9 L85.5,70.8 L85.2,72.0 L84.9,71.5 L84.5,72.4 L84.2,71.6 L83.9,73.2 L83.5,70.9 L83.2,72.5 L82.9,71.3 L82.5,70.4 L82.2,72.5 L81.9,71.1 L81.5,70.5 L81.2,70.4 L80.9,71.2 L80.5,70.7 L80.2,71.8 L79.9,70.9 L79.5,71.3 L79.2,70.5 L78.9,71.1 L78.5,70.9 L78.2,74.0 L77.9,72.6 L77.5,70.5 L77.2,71.5 L76.9,70.9 L76.5,71.5 L76.2,70.7 L75.9,70.2 L75.5,71.2 L75.2,71.5 L74.9,72.5 L74.5,72.6 L74.2,72.1 L73.9,72.5 L73.5,70.5 L73.2,71.6 L72.9,70.4 L72.5,70.7 L72.2,70.5 L71.9,71.4 L71.5,70.5 L71.2,70.3 L70.9,71.1 L70.5,70.9 L70.2,71.4 L69.9,71.5 L69.5,70.4 L69.2,72.3 L68.9,71.9 L68.5,73.1 L68.2,70.6 L67.9,71.3 L67.5,72.2 L67.2,70.6 L66.9,70.3 L66.5,70.6 L66.2,72.7 L65.8,71.2 L65.5,70.4 L65.2,70.7 L64.8,72.4 L64.5,72.6 L64.2,70.5 L63.8,71.5 L63.5,73.8 L63.2,71.3 L62.8,71.6 L62.5,73.8 L62.2,71.4 L61.8,70.8 L61.5,70.8 L61.2,72.8 L60.8,70.7 L60.5,70.5 L60.2,71.3 L59.8,72.2 L59.5,70.3 L59.2,70.9 L58.8,71.0 L58.5,71.0 L58.2,71.2 L57.8,71.8 L57.5,72.3 L57.2,71.9 L56.8,71.4 L56.5,73.2 L56.2,70.2 L55.8,70.5 L55.5,70.7 L55.2,73.1 L54.8,70.5 L54.5,74.2 L54.2,73.4 L53.8,74.1 L53.5,72.2 L53.2,71.2 L52.8,70.6 L52.5,71.1 L52.2,70.6 L51.8,70.6 L51.5,72.8 L51.2,70.5 L50.8,70.3 L50.5,70.7 L50.2,70.9 L49.8,76.0 L49.5,71.0 L49.2,70.7 L48.8,71.7 L48.5,71.6 L48.2,72.7 L47.8,70.5 L47.5,71.4Z" fill="#8f918f" stroke="#8f918f" stroke-width="0.3" stroke-linejoin="round"/>
<path d="M158.9,70.2 L159.5,84.7 L160.1,70.2Z M183.0,70.2 L183.6,85.8 L184.2,70.2Z M67.5,70.2 L68.0,77.0 L68.5,70.2Z M91.5,70.2 L92.0,79.0 L92.5,70.2Z M99.5,70.2 L100.0,78.0 L100.5,70.2Z M130.4,70.2 L131.0,77.0 L131.6,70.2Z M149.4,70.2 L150.0,77.0 L150.6,70.2Z M204.4,70.2 L205.0,77.0 L205.6,70.2Z M221.4,70.2 L222.0,76.0 L222.6,70.2Z " fill="#8f918f" stroke="#8f918f" stroke-width="0.45"/>
<path d="M47.5,97.3 L47.8,96.2 L48.2,97.1 L48.5,94.9 L48.8,97.3 L49.2,95.9 L49.5,96.6 L49.8,96.9 L50.2,95.7 L50.5,95.3 L50.8,97.2 L51.2,97.3 L51.5,97.3 L51.8,96.4 L52.2,96.9 L52.5,96.7 L52.8,95.6 L53.2,94.5 L53.5,97.0 L53.8,96.8 L54.2,96.0 L54.5,96.6 L54.8,96.1 L55.2,96.4 L55.5,95.0 L55.8,96.2 L56.2,94.9 L56.5,97.0 L56.8,95.2 L57.2,96.0 L57.5,97.2 L57.8,96.6 L58.2,97.3 L58.5,95.0 L58.8,95.4 L59.2,96.8 L59.5,96.8 L59.8,97.1 L60.2,97.1 L60.5,97.2 L60.8,94.7 L61.2,92.7 L61.5,97.2 L61.8,97.1 L62.2,97.0 L62.5,96.8 L62.8,94.9 L63.2,96.1 L63.5,96.4 L63.8,95.9 L64.2,96.3 L64.5,95.7 L64.8,96.0 L65.2,95.5 L65.5,97.3 L65.8,95.8 L66.2,97.2 L66.5,95.9 L66.9,95.6 L67.2,97.1 L67.5,96.4 L67.9,96.9 L68.2,96.8 L68.5,96.9 L68.9,95.9 L69.2,97.4 L69.5,96.4 L69.9,96.7 L70.2,96.2 L70.5,97.0 L70.9,97.4 L71.2,95.5 L71.5,97.1 L71.9,97.1 L72.2,96.9 L72.5,97.2 L72.9,96.9 L73.2,96.7 L73.5,96.9 L73.9,96.4 L74.2,96.3 L74.5,97.3 L74.9,96.6 L75.2,96.5 L75.5,97.0 L75.9,96.7 L76.2,97.0 L76.5,96.7 L76.9,97.1 L77.2,96.6 L77.5,96.2 L77.9,96.7 L78.2,94.3 L78.5,94.6 L78.9,94.5 L79.2,96.6 L79.5,97.3 L79.9,96.6 L80.2,97.1 L80.5,97.3 L80.9,96.5 L81.2,97.3 L81.5,95.8 L81.9,94.9 L82.2,96.0 L82.5,95.3 L82.9,96.9 L83.2,96.6 L83.5,94.8 L83.9,96.5 L84.2,97.4 L84.5,95.2 L84.9,96.9 L85.2,95.1 L85.5,96.3 L85.9,95.3 L86.2,97.3 L86.5,95.6 L86.9,96.4 L87.2,97.2 L87.5,96.1 L87.9,97.4 L88.2,96.8 L88.5,97.1 L88.9,94.9 L89.2,96.1 L89.5,96.9 L89.9,96.3 L90.2,96.3 L90.5,97.0 L90.9,96.2 L91.2,97.1 L91.5,96.7 L91.9,96.2 L92.2,97.1 L92.5,96.8 L92.9,96.3 L93.2,95.4 L93.5,95.6 L93.9,96.5 L94.2,95.4 L94.5,96.2 L94.9,95.0 L95.2,96.2 L95.5,95.6 L95.9,97.3 L96.2,95.7 L96.5,96.0 L96.9,96.9 L97.2,97.2 L97.5,96.0 L97.9,96.7 L98.2,97.3 L98.5,96.9 L98.9,96.8 L99.2,94.9 L99.5,95.6 L99.9,96.3 L100.2,95.8 L100.5,97.3 L100.9,97.2 L101.2,97.3 L101.5,97.4 L101.9,96.3 L102.2,95.2 L102.5,97.4 L102.9,97.4 L103.2,97.4 L103.5,96.5 L103.9,96.6 L104.2,96.1 L104.6,96.1 L104.9,97.4 L105.2,96.6 L105.6,96.7 L105.9,95.5 L106.2,96.8 L106.6,95.6 L106.9,96.0 L107.2,95.5 L107.6,97.0 L107.9,96.9 L108.2,97.0 L108.6,96.2 L108.9,96.8 L109.2,95.2 L109.6,96.5 L109.9,97.3 L110.2,96.1 L110.6,96.8 L110.9,96.4 L111.2,94.9 L111.6,95.7 L111.9,95.0 L112.2,96.7 L112.6,95.3 L112.9,96.6 L113.2,97.1 L113.6,96.5 L113.9,97.2 L114.2,95.9 L114.6,96.8 L114.9,97.0 L115.2,96.6 L115.6,95.6 L115.9,97.3 L116.2,96.9 L116.6,97.3 L116.9,95.3 L117.2,97.1 L117.6,95.7 L117.9,96.2 L118.2,96.0 L118.6,97.0 L118.9,96.2 L119.2,96.8 L119.6,97.1 L119.9,95.3 L120.2,96.9 L120.6,96.2 L120.9,97.1 L121.2,96.8 L121.6,96.1 L121.9,97.2 L122.2,95.5 L122.6,96.8 L122.9,96.2 L123.2,97.0 L123.6,96.6 L123.9,96.3 L124.2,96.2 L124.6,97.0 L124.9,96.7 L125.2,96.4 L125.6,96.0 L125.9,96.5 L126.2,97.1 L126.6,95.5 L126.9,97.4 L127.2,97.3 L127.6,97.3 L127.9,97.1 L128.2,96.4 L128.6,97.3 L128.9,96.7 L129.2,95.2 L129.6,95.9 L129.9,96.6 L130.2,96.9 L130.6,97.0 L130.9,97.1 L131.2,95.5 L131.6,96.5 L131.9,96.8 L132.2,96.7 L132.6,95.7 L132.9,97.1 L133.2,97.3 L133.6,96.5 L133.9,96.2 L134.2,95.8 L134.6,95.0 L134.9,97.0 L135.2,96.4 L135.6,95.7 L135.9,95.2 L136.2,96.6 L136.6,96.0 L136.9,96.8 L137.2,95.9 L137.6,96.5 L137.9,94.4 L138.2,96.9 L138.6,96.9 L138.9,96.2 L139.2,97.3 L139.6,94.5 L139.9,96.2 L140.2,97.2 L140.6,96.3 L140.9,95.6 L141.2,97.3 L141.6,96.3 L141.9,96.5 L142.3,97.3 L142.6,97.1 L142.9,96.6 L143.3,96.6 L143.6,96.9 L143.9,95.7 L144.3,96.9 L144.6,97.3 L144.9,96.2 L145.3,97.2 L145.6,96.3 L145.9,96.6 L146.3,96.5 L146.6,97.3 L146.9,96.6 L147.3,97.2 L147.6,96.8 L147.9,96.8 L148.3,96.7 L148.6,97.1 L148.9,96.1 L149.3,97.3 L149.6,96.3 L149.9,94.1 L150.3,97.3 L150.6,96.6 L150.9,96.5 L151.3,97.1 L151.6,97.3 L151.9,97.1 L152.3,96.4 L152.6,97.4 L152.9,96.7 L153.3,97.1 L153.6,96.0 L153.9,97.3 L154.3,96.8 L154.6,97.2 L154.9,95.6 L155.3,96.7 L155.6,95.9 L155.9,96.4 L156.3,97.1 L156.6,96.8 L156.9,96.9 L157.3,96.7 L157.6,96.4 L157.9,96.4 L158.3,96.7 L158.6,97.3 L158.9,96.6 L159.3,96.3 L159.6,96.6 L159.9,97.1 L160.3,97.3 L160.6,97.1 L160.9,97.1 L161.3,96.7 L161.6,97.3 L161.9,95.3 L162.3,97.1 L162.6,97.2 L162.9,95.7 L163.3,96.4 L163.6,95.7 L163.9,96.8 L164.3,96.2 L164.6,96.8 L164.9,96.8 L165.3,95.8 L165.6,97.4 L165.9,96.3 L166.3,97.2 L166.6,97.0 L166.9,97.1 L167.3,95.4 L167.6,95.6 L167.9,96.6 L168.3,97.2 L168.6,97.1 L168.9,94.1 L169.3,96.5 L169.6,96.2 L169.9,97.0 L170.3,96.0 L170.6,97.2 L170.9,96.4 L171.3,96.8 L171.6,96.5 L171.9,97.1 L172.3,96.0 L172.6,97.3 L172.9,96.5 L173.3,95.9 L173.6,97.3 L173.9,96.3 L174.3,97.1 L174.6,96.2 L174.9,96.9 L175.3,97.2 L175.6,95.5 L175.9,94.7 L176.3,95.1 L176.6,96.1 L176.9,94.7 L177.3,96.0 L177.6,97.2 L177.9,94.5 L178.3,96.6 L178.6,97.2 L178.9,97.2 L179.3,95.6 L179.6,95.3 L180.0,97.2 L180.3,96.2 L180.6,97.4 L181.0,96.5 L181.3,97.0 L181.6,96.1 L182.0,96.3 L182.3,94.8 L182.6,96.9 L183.0,96.8 L183.3,95.8 L183.6,95.8 L184.0,97.1 L184.3,95.6 L184.6,97.1 L185.0,97.3 L185.3,96.3 L185.6,96.6 L186.0,96.6 L186.3,97.2 L186.6,95.1 L187.0,97.1 L187.3,97.3 L187.6,96.3 L188.0,95.9 L188.3,96.5 L188.6,97.4 L189.0,96.5 L189.3,96.1 L189.6,96.0 L190.0,95.4 L190.3,97.4 L190.6,97.3 L191.0,95.0 L191.3,96.4 L191.6,97.3 L192.0,95.7 L192.3,96.2 L192.6,95.9 L193.0,96.7 L193.3,96.1 L193.6,97.0 L194.0,95.8 L194.3,96.1 L194.6,96.5 L195.0,96.9 L195.3,96.7 L195.6,96.8 L196.0,95.2 L196.3,96.0 L196.6,97.2 L197.0,95.9 L197.3,96.3 L197.6,96.7 L198.0,95.9 L198.3,96.3 L198.6,94.8 L199.0,96.9 L199.3,96.7 L199.6,95.6 L200.0,97.0 L200.3,94.4 L200.6,96.9 L201.0,97.3 L201.3,97.4 L201.6,96.6 L202.0,97.2 L202.3,95.3 L202.6,96.4 L203.0,97.3 L203.3,96.7 L203.6,96.5 L204.0,96.4 L204.3,97.0 L204.6,97.1 L205.0,95.7 L205.3,95.6 L205.6,96.5 L206.0,97.1 L206.3,97.4 L206.6,96.5 L207.0,97.1 L207.3,95.8 L207.6,96.9 L208.0,94.4 L208.3,97.3 L208.6,97.0 L209.0,95.7 L209.3,96.6 L209.6,93.3 L210.0,96.4 L210.3,95.5 L210.6,95.4 L211.0,97.3 L211.3,96.2 L211.6,97.1 L212.0,95.8 L212.3,95.9 L212.6,97.0 L213.0,94.9 L213.3,96.9 L213.6,95.0 L214.0,96.9 L214.3,97.3 L214.6,96.1 L215.0,97.0 L215.3,94.8 L215.6,96.3 L216.0,96.8 L216.3,97.3 L216.6,96.0 L217.0,96.3 L217.3,96.7 L217.7,96.6 L218.0,96.3 L218.3,94.4 L218.7,95.8 L219.0,96.6 L219.3,97.3 L219.7,95.3 L220.0,96.4 L220.3,96.7 L220.7,96.0 L221.0,94.8 L221.3,95.8 L221.7,95.7 L222.0,96.2 L222.3,96.1 L222.7,95.0 L223.0,94.7 L223.3,96.8 L223.7,94.8 L224.0,95.0 L224.3,97.1 L224.7,96.9 L225.0,96.4 L225.3,95.9 L225.7,96.8 L226.0,97.2 L226.3,96.9 L226.7,96.4 L227.0,97.3 L227.3,94.6 L227.7,95.3 L228.0,96.2 L228.3,96.2 L228.7,97.1 L229.0,96.5 L229.3,94.7 L229.7,97.2 L230.0,96.6 L230.3,97.1 L230.7,97.3 L231.0,97.0 L231.3,97.2 L231.7,96.0 L232.0,96.1 L232.3,96.9 L232.7,95.4 L233.0,96.2 L233.3,97.3 L233.7,97.2 L234.0,96.0 L234.3,95.5 L234.7,96.7 L235.0,95.1 L235.3,97.0 L235.7,95.8 L236.0,94.4 L236.0,105.0 L235.7,105.7 L235.3,106.1 L235.0,106.2 L234.7,106.0 L234.3,106.4 L234.0,104.5 L233.7,104.3 L233.3,110.2 L233.0,105.3 L232.7,104.6 L232.3,104.5 L232.0,106.3 L231.7,104.4 L231.3,106.1 L231.0,105.3 L230.7,104.4 L230.3,104.4 L230.0,106.6 L229.7,105.4 L229.3,104.8 L229.0,105.5 L228.7,105.1 L228.3,105.3 L228.0,107.5 L227.7,104.9 L227.3,105.3 L227.0,104.7 L226.7,105.0 L226.3,104.9 L226.0,106.0 L225.7,104.8 L225.3,107.4 L225.0,105.3 L224.7,106.4 L224.3,106.0 L224.0,105.8 L223.7,105.4 L223.3,105.2 L223.0,107.9 L222.7,105.6 L222.3,107.0 L222.0,105.1 L221.7,105.2 L221.3,104.4 L221.0,105.0 L220.7,104.8 L220.3,109.2 L220.0,106.6 L219.7,104.2 L219.3,105.2 L219.0,109.4 L218.7,107.0 L218.3,104.8 L218.0,106.3 L217.7,105.4 L217.3,106.3 L217.0,106.3 L216.6,104.7 L216.3,105.1 L216.0,106.4 L215.6,110.0 L215.3,104.5 L215.0,104.9 L214.6,104.5 L214.3,104.8 L214.0,105.5 L213.6,105.0 L213.3,105.2 L213.0,106.7 L212.6,105.3 L212.3,105.1 L212.0,104.7 L211.6,106.7 L211.3,106.9 L211.0,104.6 L210.6,104.5 L210.3,108.0 L210.0,104.4 L209.6,106.7 L209.3,104.8 L209.0,107.7 L208.6,105.0 L208.3,105.2 L208.0,107.9 L207.6,104.8 L207.3,104.8 L207.0,104.6 L206.6,107.6 L206.3,105.4 L206.0,104.7 L205.6,106.7 L205.3,109.7 L205.0,107.5 L204.6,109.1 L204.3,104.4 L204.0,104.4 L203.6,104.8 L203.3,109.1 L203.0,104.4 L202.6,106.5 L202.3,104.7 L202.0,105.0 L201.6,104.9 L201.3,109.7 L201.0,105.2 L200.6,106.0 L200.3,105.6 L200.0,105.6 L199.6,106.6 L199.3,104.8 L199.0,105.2 L198.6,107.2 L198.3,105.9 L198.0,105.9 L197.6,108.4 L197.3,104.3 L197.0,105.3 L196.6,104.5 L196.3,108.2 L196.0,106.2 L195.6,106.4 L195.3,104.5 L195.0,106.2 L194.6,105.9 L194.3,104.8 L194.0,109.8 L193.6,105.3 L193.3,105.4 L193.0,106.6 L192.6,108.1 L192.3,105.4 L192.0,107.5 L191.6,104.5 L191.3,104.7 L191.0,104.4 L190.6,107.6 L190.3,105.3 L190.0,106.1 L189.6,106.3 L189.3,104.8 L189.0,104.9 L188.6,107.7 L188.3,105.1 L188.0,105.0 L187.6,104.9 L187.3,104.5 L187.0,104.3 L186.6,104.6 L186.3,106.4 L186.0,104.6 L185.6,104.5 L185.3,106.0 L185.0,104.5 L184.6,105.6 L184.3,106.5 L184.0,106.3 L183.6,107.1 L183.3,104.6 L183.0,106.2 L182.6,105.0 L182.3,104.7 L182.0,109.3 L181.6,106.9 L181.3,104.6 L181.0,105.2 L180.6,105.8 L180.3,106.9 L180.0,106.2 L179.6,105.0 L179.3,104.5 L178.9,105.8 L178.6,105.0 L178.3,108.6 L177.9,104.3 L177.6,106.2 L177.3,104.9 L176.9,105.6 L176.6,104.7 L176.3,107.1 L175.9,108.3 L175.6,105.5 L175.3,105.3 L174.9,104.5 L174.6,104.2 L174.3,106.0 L173.9,106.3 L173.6,106.2 L173.3,105.3 L172.9,106.0 L172.6,105.0 L172.3,104.7 L171.9,105.4 L171.6,106.5 L171.3,104.5 L170.9,106.4 L170.6,108.1 L170.3,106.1 L169.9,107.8 L169.6,105.3 L169.3,108.1 L168.9,105.0 L168.6,105.0 L168.3,104.9 L167.9,104.5 L167.6,106.3 L167.3,105.8 L166.9,106.7 L166.6,109.3 L166.3,104.4 L165.9,106.5 L165.6,104.8 L165.3,105.6 L164.9,104.6 L164.6,104.5 L164.3,105.1 L163.9,105.8 L163.6,106.1 L163.3,105.7 L162.9,107.3 L162.6,107.9 L162.3,105.0 L161.9,104.9 L161.6,104.6 L161.3,104.3 L160.9,106.1 L160.6,106.8 L160.3,105.4 L159.9,106.4 L159.6,104.9 L159.3,105.1 L158.9,106.3 L158.6,107.4 L158.3,104.7 L157.9,106.7 L157.6,105.5 L157.3,107.9 L156.9,104.5 L156.6,106.7 L156.3,104.4 L155.9,108.3 L155.6,104.6 L155.3,105.0 L154.9,105.1 L154.6,104.7 L154.3,104.4 L153.9,104.3 L153.6,108.9 L153.3,104.9 L152.9,106.7 L152.6,105.7 L152.3,104.9 L151.9,106.3 L151.6,105.7 L151.3,104.6 L150.9,105.5 L150.6,104.4 L150.3,105.1 L149.9,105.0 L149.6,105.3 L149.3,104.8 L148.9,104.8 L148.6,104.4 L148.3,106.2 L147.9,104.4 L147.6,104.9 L147.3,105.4 L146.9,104.5 L146.6,105.3 L146.3,104.2 L145.9,105.0 L145.6,105.9 L145.3,106.0 L144.9,108.0 L144.6,106.2 L144.3,106.3 L143.9,105.5 L143.6,106.5 L143.3,106.1 L142.9,104.8 L142.6,104.6 L142.3,106.4 L141.9,105.8 L141.6,108.4 L141.2,106.0 L140.9,105.6 L140.6,106.3 L140.2,105.2 L139.9,107.7 L139.6,105.3 L139.2,105.0 L138.9,104.8 L138.6,106.8 L138.2,104.9 L137.9,106.2 L137.6,105.9 L137.2,104.7 L136.9,106.4 L136.6,104.5 L136.2,106.1 L135.9,104.2 L135.6,106.1 L135.2,105.9 L134.9,105.7 L134.6,108.2 L134.2,105.0 L133.9,104.8 L133.6,108.1 L133.2,104.7 L132.9,105.6 L132.6,104.6 L132.2,105.0 L131.9,104.8 L131.6,107.2 L131.2,105.8 L130.9,105.4 L130.6,107.3 L130.2,104.8 L129.9,105.2 L129.6,107.2 L129.2,105.1 L128.9,105.9 L128.6,106.0 L128.2,104.2 L127.9,104.6 L127.6,106.1 L127.2,106.0 L126.9,106.6 L126.6,105.5 L126.2,105.3 L125.9,105.9 L125.6,105.6 L125.2,106.9 L124.9,104.6 L124.6,105.0 L124.2,107.9 L123.9,106.4 L123.6,104.7 L123.2,107.1 L122.9,104.3 L122.6,104.4 L122.2,104.9 L121.9,107.5 L121.6,107.1 L121.2,107.0 L120.9,107.4 L120.6,104.9 L120.2,104.7 L119.9,106.8 L119.6,107.1 L119.2,104.5 L118.9,104.7 L118.6,106.7 L118.2,105.1 L117.9,104.3 L117.6,105.6 L117.2,106.0 L116.9,106.2 L116.6,105.0 L116.2,106.1 L115.9,108.1 L115.6,107.4 L115.2,107.0 L114.9,105.6 L114.6,105.4 L114.2,108.6 L113.9,107.3 L113.6,104.5 L113.2,109.1 L112.9,105.7 L112.6,104.6 L112.2,106.4 L111.9,104.9 L111.6,104.5 L111.2,108.9 L110.9,107.2 L110.6,105.8 L110.2,104.4 L109.9,104.6 L109.6,105.0 L109.2,106.2 L108.9,107.1 L108.6,108.7 L108.2,105.5 L107.9,106.7 L107.6,105.6 L107.2,105.3 L106.9,105.4 L106.6,106.0 L106.2,104.9 L105.9,104.5 L105.6,106.3 L105.2,107.3 L104.9,105.4 L104.6,104.5 L104.2,105.3 L103.9,105.8 L103.5,105.7 L103.2,106.2 L102.9,106.9 L102.5,105.4 L102.2,105.6 L101.9,104.8 L101.5,108.8 L101.2,105.1 L100.9,106.5 L100.5,104.7 L100.2,105.0 L99.9,107.5 L99.5,106.8 L99.2,104.8 L98.9,105.0 L98.5,104.7 L98.2,104.8 L97.9,104.2 L97.5,105.8 L97.2,106.7 L96.9,107.0 L96.5,107.7 L96.2,106.7 L95.9,106.4 L95.5,106.3 L95.2,104.9 L94.9,106.0 L94.5,105.1 L94.2,104.9 L93.9,104.6 L93.5,105.6 L93.2,104.3 L92.9,105.0 L92.5,106.8 L92.2,106.1 L91.9,106.1 L91.5,104.8 L91.2,106.1 L90.9,105.9 L90.5,105.8 L90.2,105.2 L89.9,106.5 L89.5,105.8 L89.2,105.4 L88.9,104.8 L88.5,104.7 L88.2,104.5 L87.9,104.3 L87.5,105.2 L87.2,106.6 L86.9,104.7 L86.5,107.0 L86.2,104.4 L85.9,105.9 L85.5,107.2 L85.2,105.0 L84.9,105.2 L84.5,104.7 L84.2,108.1 L83.9,105.4 L83.5,106.6 L83.2,106.2 L82.9,105.7 L82.5,104.5 L82.2,105.7 L81.9,106.1 L81.5,105.9 L81.2,104.8 L80.9,105.0 L80.5,104.9 L80.2,105.9 L79.9,106.2 L79.5,107.9 L79.2,104.8 L78.9,106.1 L78.5,108.1 L78.2,104.3 L77.9,104.7 L77.5,105.2 L77.2,105.9 L76.9,105.7 L76.5,105.4 L76.2,105.9 L75.9,106.8 L75.5,105.6 L75.2,107.7 L74.9,104.4 L74.5,105.2 L74.2,105.6 L73.9,106.6 L73.5,105.1 L73.2,106.0 L72.9,105.8 L72.5,105.1 L72.2,106.1 L71.9,105.6 L71.5,105.5 L71.2,105.5 L70.9,104.7 L70.5,106.0 L70.2,106.1 L69.9,105.5 L69.5,105.1 L69.2,106.4 L68.9,108.7 L68.5,104.3 L68.2,107.3 L67.9,105.8 L67.5,105.8 L67.2,104.7 L66.9,104.5 L66.5,105.5 L66.2,104.3 L65.8,104.5 L65.5,105.8 L65.2,105.5 L64.8,105.0 L64.5,105.2 L64.2,106.3 L63.8,104.8 L63.5,105.3 L63.2,108.7 L62.8,105.2 L62.5,104.9 L62.2,106.1 L61.8,104.5 L61.5,104.9 L61.2,104.4 L60.8,107.9 L60.5,105.9 L60.2,104.6 L59.8,104.6 L59.5,107.4 L59.2,104.8 L58.8,106.0 L58.5,108.9 L58.2,104.9 L57.8,106.4 L57.5,105.5 L57.2,105.6 L56.8,108.1 L56.5,105.2 L56.2,108.9 L55.8,108.3 L55.5,106.3 L55.2,106.3 L54.8,104.3 L54.5,105.4 L54.2,104.6 L53.8,105.2 L53.5,104.8 L53.2,105.8 L52.8,106.3 L52.5,108.5 L52.2,108.1 L51.8,105.9 L51.5,104.7 L51.2,106.8 L50.8,104.8 L50.5,104.7 L50.2,107.1 L49.8,105.1 L49.5,106.1 L49.2,104.3 L48.8,105.6 L48.5,104.5 L48.2,104.7 L47.8,106.1 L47.5,106.6Z" fill="#0000ff" stroke="#0000ff" stroke-width="0.3" stroke-linejoin="round"/>
<path d="M62.5,104.2 L63.0,117.8 L63.5,104.2Z M128.0,104.2 L128.5,125.0 L129.1,104.2Z M87.5,104.2 L88.0,111.0 L88.5,104.2Z M117.5,104.2 L118.0,109.0 L118.5,104.2Z M159.4,104.2 L160.0,110.0 L160.6,104.2Z M171.4,104.2 L172.0,109.0 L172.6,104.2Z M224.4,104.2 L225.0,110.0 L225.6,104.2Z M197.4,104.2 L198.0,109.0 L198.6,104.2Z " fill="#0000ff" stroke="#0000ff" stroke-width="0.45"/>
<path d="M47.5,132.4 L47.8,131.7 L48.2,130.9 L48.5,129.8 L48.8,132.4 L49.2,131.2 L49.5,132.1 L49.8,131.6 L50.2,131.0 L50.5,132.2 L50.8,131.6 L51.2,132.1 L51.5,132.0 L51.8,130.5 L52.2,131.4 L52.5,131.8 L52.8,129.4 L53.2,131.1 L53.5,130.6 L53.8,130.1 L54.2,130.7 L54.5,131.0 L54.8,131.7 L55.2,132.3 L55.5,130.2 L55.8,132.1 L56.2,131.0 L56.5,131.4 L56.8,131.5 L57.2,131.6 L57.5,130.8 L57.8,131.6 L58.2,131.9 L58.5,131.4 L58.8,132.3 L59.2,132.4 L59.5,131.7 L59.8,130.0 L60.2,129.1 L60.5,132.1 L60.8,131.1 L61.2,129.6 L61.5,129.1 L61.8,130.2 L62.2,132.2 L62.5,131.6 L62.8,129.3 L63.2,132.4 L63.5,131.5 L63.8,132.2 L64.2,132.3 L64.5,130.7 L64.8,132.3 L65.2,131.5 L65.5,132.1 L65.8,130.6 L66.2,132.5 L66.5,131.0 L66.9,132.2 L67.2,130.6 L67.5,132.4 L67.9,130.8 L68.2,132.5 L68.5,131.5 L68.9,131.2 L69.2,132.4 L69.5,132.1 L69.9,132.2 L70.2,130.5 L70.5,130.8 L70.9,130.5 L71.2,131.8 L71.5,131.7 L71.9,131.7 L72.2,129.4 L72.5,131.2 L72.9,131.8 L73.2,131.7 L73.5,131.0 L73.9,132.1 L74.2,131.9 L74.5,128.2 L74.9,132.2 L75.2,131.8 L75.5,130.0 L75.9,131.5 L76.2,131.0 L76.5,132.4 L76.9,132.5 L77.2,132.3 L77.5,131.9 L77.9,131.4 L78.2,131.0 L78.5,131.7 L78.9,131.8 L79.2,130.2 L79.5,130.5 L79.9,132.1 L80.2,130.9 L80.5,131.0 L80.9,131.5 L81.2,132.3 L81.5,129.3 L81.9,132.2 L82.2,130.9 L82.5,132.2 L82.9,132.3 L83.2,131.8 L83.5,130.7 L83.9,131.0 L84.2,129.4 L84.5,132.4 L84.9,131.7 L85.2,131.5 L85.5,129.8 L85.9,130.8 L86.2,132.1 L86.5,131.0 L86.9,128.9 L87.2,132.5 L87.5,131.7 L87.9,129.8 L88.2,131.8 L88.5,132.4 L88.9,130.7 L89.2,130.1 L89.5,131.5 L89.9,131.0 L90.2,128.8 L90.5,131.3 L90.9,132.0 L91.2,131.6 L91.5,132.3 L91.9,132.0 L92.2,131.7 L92.5,132.1 L92.9,131.2 L93.2,131.1 L93.5,132.0 L93.9,129.2 L94.2,131.4 L94.5,131.8 L94.9,132.2 L95.2,129.5 L95.5,131.5 L95.9,131.5 L96.2,130.8 L96.5,128.9 L96.9,132.2 L97.2,130.7 L97.5,131.2 L97.9,130.1 L98.2,131.2 L98.5,130.6 L98.9,130.4 L99.2,132.0 L99.5,131.4 L99.9,128.9 L100.2,131.1 L100.5,131.9 L100.9,132.3 L101.2,131.6 L101.5,131.7 L101.9,129.8 L102.2,131.8 L102.5,128.3 L102.9,128.7 L103.2,131.3 L103.5,131.4 L103.9,131.8 L104.2,130.2 L104.6,131.8 L104.9,131.2 L105.2,130.9 L105.6,131.6 L105.9,131.2 L106.2,131.5 L106.6,132.1 L106.9,132.1 L107.2,127.6 L107.6,131.6 L107.9,131.7 L108.2,130.1 L108.6,130.5 L108.9,130.1 L109.2,132.1 L109.6,131.5 L109.9,131.4 L110.2,131.6 L110.6,131.6 L110.9,130.5 L111.2,131.5 L111.6,131.1 L111.9,129.1 L112.2,128.2 L112.6,131.9 L112.9,130.7 L113.2,132.3 L113.6,129.8 L113.9,131.2 L114.2,129.8 L114.6,129.0 L114.9,130.1 L115.2,131.4 L115.6,130.7 L115.9,131.3 L116.2,130.3 L116.6,132.1 L116.9,131.6 L117.2,130.9 L117.6,131.2 L117.9,131.4 L118.2,130.7 L118.6,129.7 L118.9,131.1 L119.2,130.9 L119.6,130.9 L119.9,130.2 L120.2,130.4 L120.6,131.4 L120.9,132.3 L121.2,131.8 L121.6,132.2 L121.9,129.3 L122.2,132.4 L122.6,131.2 L122.9,132.3 L123.2,132.5 L123.6,131.6 L123.9,130.2 L124.2,132.5 L124.6,132.0 L124.9,132.1 L125.2,128.6 L125.6,132.4 L125.9,131.7 L126.2,131.9 L126.6,131.5 L126.9,129.0 L127.2,131.3 L127.6,132.4 L127.9,130.2 L128.2,131.5 L128.6,132.4 L128.9,131.2 L129.2,131.6 L129.6,130.6 L129.9,128.2 L130.2,132.1 L130.6,131.6 L130.9,130.8 L131.2,131.7 L131.6,131.5 L131.9,131.5 L132.2,132.4 L132.6,129.1 L132.9,131.9 L133.2,130.5 L133.6,129.6 L133.9,131.3 L134.2,129.6 L134.6,132.0 L134.9,131.0 L135.2,130.2 L135.6,131.2 L135.9,131.5 L136.2,131.6 L136.6,130.0 L136.9,131.9 L137.2,130.3 L137.6,130.9 L137.9,131.6 L138.2,131.2 L138.6,130.5 L138.9,130.7 L139.2,131.0 L139.6,131.5 L139.9,132.3 L140.2,131.5 L140.6,131.4 L140.9,130.8 L141.2,131.5 L141.6,129.7 L141.9,132.4 L142.3,131.4 L142.6,132.0 L142.9,132.0 L143.3,131.6 L143.6,131.8 L143.9,131.2 L144.3,131.4 L144.6,132.2 L144.9,131.9 L145.3,131.8 L145.6,131.9 L145.9,131.0 L146.3,130.4 L146.6,131.5 L146.9,130.6 L147.3,132.4 L147.6,129.7 L147.9,132.2 L148.3,131.9 L148.6,131.1 L148.9,131.8 L149.3,131.1 L149.6,128.4 L149.9,131.3 L150.3,131.4 L150.6,130.9 L150.9,131.8 L151.3,131.7 L151.6,130.8 L151.9,131.6 L152.3,131.9 L152.6,129.5 L152.9,132.0 L153.3,129.7 L153.6,130.8 L153.9,132.5 L154.3,129.1 L154.6,132.0 L154.9,132.0 L155.3,129.1 L155.6,132.1 L155.9,130.4 L156.3,130.5 L156.6,130.9 L156.9,130.9 L157.3,131.3 L157.6,130.1 L157.9,132.0 L158.3,129.1 L158.6,132.3 L158.9,131.1 L159.3,130.7 L159.6,130.5 L159.9,131.3 L160.3,130.4 L160.6,132.3 L160.9,131.7 L161.3,130.2 L161.6,131.8 L161.9,132.1 L162.3,130.7 L162.6,128.7 L162.9,130.9 L163.3,130.8 L163.6,132.0 L163.9,132.4 L164.3,131.3 L164.6,131.8 L164.9,130.0 L165.3,130.3 L165.6,131.5 L165.9,130.0 L166.3,131.9 L166.6,131.0 L166.9,132.0 L167.3,132.0 L167.6,132.0 L167.9,132.1 L168.3,131.7 L168.6,130.5 L168.9,131.0 L169.3,132.2 L169.6,132.1 L169.9,129.1 L170.3,130.0 L170.6,131.4 L170.9,132.4 L171.3,131.5 L171.6,129.9 L171.9,132.3 L172.3,132.3 L172.6,132.3 L172.9,130.7 L173.3,132.3 L173.6,131.0 L173.9,131.0 L174.3,130.9 L174.6,132.4 L174.9,128.5 L175.3,130.0 L175.6,131.9 L175.9,131.6 L176.3,131.1 L176.6,131.2 L176.9,132.3 L177.3,131.4 L177.6,130.8 L177.9,129.5 L178.3,129.4 L178.6,129.0 L178.9,131.2 L179.3,130.0 L179.6,130.9 L180.0,129.7 L180.3,132.2 L180.6,129.1 L181.0,130.8 L181.3,132.4 L181.6,129.1 L182.0,131.4 L182.3,129.6 L182.6,130.1 L183.0,129.9 L183.3,132.3 L183.6,132.4 L184.0,131.5 L184.3,132.2 L184.6,130.2 L185.0,129.6 L185.3,131.3 L185.6,130.0 L186.0,131.3 L186.3,132.4 L186.6,130.2 L187.0,131.9 L187.3,131.7 L187.6,131.9 L188.0,128.3 L188.3,131.5 L188.6,129.5 L189.0,132.4 L189.3,131.2 L189.6,131.3 L190.0,131.9 L190.3,130.0 L190.6,131.7 L191.0,132.3 L191.3,131.7 L191.6,131.4 L192.0,132.2 L192.3,130.6 L192.6,131.2 L193.0,130.1 L193.3,131.2 L193.6,131.9 L194.0,132.5 L194.3,131.5 L194.6,131.6 L195.0,131.6 L195.3,132.5 L195.6,132.0 L196.0,131.1 L196.3,130.2 L196.6,132.0 L197.0,132.0 L197.3,130.9 L197.6,131.8 L198.0,131.6 L198.3,131.1 L198.6,131.5 L199.0,131.3 L199.3,131.6 L199.6,130.8 L200.0,129.3 L200.3,131.6 L200.6,132.1 L201.0,131.8 L201.3,130.0 L201.6,130.9 L202.0,131.1 L202.3,131.2 L202.6,131.9 L203.0,132.3 L203.3,131.8 L203.6,131.1 L204.0,131.1 L204.3,131.3 L204.6,131.3 L205.0,132.3 L205.3,130.7 L205.6,131.5 L206.0,131.3 L206.3,132.2 L206.6,128.2 L207.0,131.0 L207.3,132.3 L207.6,131.8 L208.0,130.5 L208.3,131.8 L208.6,131.1 L209.0,131.7 L209.3,130.7 L209.6,131.5 L210.0,131.8 L210.3,132.4 L210.6,130.9 L211.0,129.4 L211.3,130.5 L211.6,131.8 L212.0,131.0 L212.3,130.6 L212.6,131.4 L213.0,131.7 L213.3,131.9 L213.6,131.3 L214.0,131.6 L214.3,131.8 L214.6,132.2 L215.0,132.3 L215.3,132.2 L215.6,131.6 L216.0,132.3 L216.3,131.2 L216.6,132.0 L217.0,132.1 L217.3,132.3 L217.7,131.4 L218.0,131.0 L218.3,131.8 L218.7,127.5 L219.0,132.2 L219.3,130.8 L219.7,130.5 L220.0,130.2 L220.3,131.1 L220.7,129.6 L221.0,130.2 L221.3,132.3 L221.7,131.9 L222.0,132.3 L222.3,130.8 L222.7,127.7 L223.0,132.1 L223.3,131.4 L223.7,131.5 L224.0,128.9 L224.3,131.0 L224.7,131.6 L225.0,132.2 L225.3,131.6 L225.7,131.0 L226.0,132.4 L226.3,130.3 L226.7,131.3 L227.0,130.7 L227.3,129.8 L227.7,131.9 L228.0,131.3 L228.3,132.1 L228.7,129.2 L229.0,130.8 L229.3,131.1 L229.7,131.7 L230.0,131.3 L230.3,130.1 L230.7,130.8 L231.0,131.8 L231.3,131.2 L231.7,130.9 L232.0,132.4 L232.3,131.4 L232.7,130.2 L233.0,131.8 L233.3,130.7 L233.7,128.4 L234.0,130.9 L234.3,131.3 L234.7,131.0 L235.0,130.2 L235.3,131.8 L235.7,131.5 L236.0,131.4 L236.0,141.8 L235.7,142.5 L235.3,145.5 L235.0,145.5 L234.7,142.5 L234.3,143.7 L234.0,142.5 L233.7,141.5 L233.3,143.4 L233.0,142.7 L232.7,144.9 L232.3,144.5 L232.0,143.6 L231.7,143.3 L231.3,146.7 L231.0,145.0 L230.7,144.4 L230.3,141.5 L230.0,143.3 L229.7,142.9 L229.3,141.3 L229.0,145.7 L228.7,142.9 L228.3,144.4 L228.0,143.0 L227.7,146.8 L227.3,144.3 L227.0,143.2 L226.7,142.0 L226.3,142.5 L226.0,143.8 L225.7,141.4 L225.3,141.8 L225.0,145.4 L224.7,142.7 L224.3,146.1 L224.0,143.2 L223.7,145.6 L223.3,143.2 L223.0,141.4 L222.7,141.1 L222.3,141.1 L222.0,148.6 L221.7,143.1 L221.3,141.8 L221.0,142.7 L220.7,141.5 L220.3,144.1 L220.0,143.9 L219.7,144.8 L219.3,142.4 L219.0,145.4 L218.7,142.6 L218.3,142.0 L218.0,143.7 L217.7,142.9 L217.3,143.9 L217.0,141.7 L216.6,145.7 L216.3,141.2 L216.0,141.7 L215.6,142.2 L215.3,141.9 L215.0,141.8 L214.6,144.0 L214.3,143.1 L214.0,143.8 L213.6,143.1 L213.3,143.3 L213.0,143.5 L212.6,143.8 L212.3,143.3 L212.0,143.5 L211.6,141.4 L211.3,141.2 L211.0,144.6 L210.6,144.9 L210.3,142.4 L210.0,144.0 L209.6,145.4 L209.3,146.4 L209.0,143.8 L208.6,143.5 L208.3,142.3 L208.0,141.8 L207.6,145.4 L207.3,141.7 L207.0,145.1 L206.6,142.2 L206.3,142.8 L206.0,142.8 L205.6,143.8 L205.3,143.3 L205.0,141.3 L204.6,142.2 L204.3,145.7 L204.0,145.2 L203.6,141.5 L203.3,141.4 L203.0,142.1 L202.6,141.4 L202.3,146.3 L202.0,144.1 L201.6,143.3 L201.3,142.1 L201.0,147.4 L200.6,142.6 L200.3,147.2 L200.0,143.3 L199.6,141.2 L199.3,142.8 L199.0,141.9 L198.6,143.2 L198.3,143.6 L198.0,143.7 L197.6,142.0 L197.3,146.6 L197.0,143.9 L196.6,146.1 L196.3,144.9 L196.0,144.2 L195.6,141.8 L195.3,144.3 L195.0,142.3 L194.6,146.5 L194.3,143.0 L194.0,142.3 L193.6,142.1 L193.3,142.4 L193.0,143.1 L192.6,144.0 L192.3,141.4 L192.0,142.9 L191.6,141.2 L191.3,142.2 L191.0,142.0 L190.6,142.6 L190.3,142.7 L190.0,141.4 L189.6,142.1 L189.3,145.8 L189.0,142.7 L188.6,142.5 L188.3,142.8 L188.0,141.9 L187.6,142.5 L187.3,142.3 L187.0,142.9 L186.6,143.7 L186.3,145.9 L186.0,143.7 L185.6,143.0 L185.3,148.1 L185.0,141.8 L184.6,142.7 L184.3,145.4 L184.0,143.1 L183.6,143.3 L183.3,144.2 L183.0,141.4 L182.6,144.9 L182.3,143.7 L182.0,143.4 L181.6,141.8 L181.3,142.8 L181.0,144.1 L180.6,142.3 L180.3,143.5 L180.0,145.4 L179.6,143.6 L179.3,142.8 L178.9,144.8 L178.6,146.3 L178.3,144.8 L177.9,144.8 L177.6,146.1 L177.3,142.7 L176.9,145.7 L176.6,143.2 L176.3,141.5 L175.9,142.3 L175.6,141.8 L175.3,142.9 L174.9,141.5 L174.6,144.6 L174.3,141.1 L173.9,144.4 L173.6,141.5 L173.3,144.6 L172.9,141.2 L172.6,141.2 L172.3,142.3 L171.9,142.2 L171.6,142.7 L171.3,142.4 L170.9,148.2 L170.6,141.8 L170.3,141.2 L169.9,141.3 L169.6,141.1 L169.3,142.2 L168.9,145.6 L168.6,144.8 L168.3,143.1 L167.9,143.6 L167.6,144.1 L167.3,143.4 L166.9,143.3 L166.6,141.8 L166.3,147.8 L165.9,142.2 L165.6,141.9 L165.3,142.1 L164.9,141.5 L164.6,142.3 L164.3,141.6 L163.9,144.4 L163.6,143.5 L163.3,141.9 L162.9,145.0 L162.6,144.0 L162.3,143.7 L161.9,144.7 L161.6,143.3 L161.3,143.9 L160.9,141.7 L160.6,142.0 L160.3,141.3 L159.9,144.4 L159.6,143.2 L159.3,141.4 L158.9,141.2 L158.6,141.1 L158.3,144.1 L157.9,142.8 L157.6,146.7 L157.3,142.3 L156.9,142.5 L156.6,142.4 L156.3,145.3 L155.9,141.2 L155.6,143.8 L155.3,142.5 L154.9,145.2 L154.6,144.1 L154.3,141.9 L153.9,142.0 L153.6,143.2 L153.3,142.8 L152.9,141.9 L152.6,142.7 L152.3,144.7 L151.9,141.2 L151.6,143.6 L151.3,141.3 L150.9,142.5 L150.6,141.8 L150.3,144.0 L149.9,141.9 L149.6,143.0 L149.3,144.5 L148.9,142.3 L148.6,142.0 L148.3,143.1 L147.9,141.7 L147.6,143.0 L147.3,141.7 L146.9,143.3 L146.6,144.5 L146.3,141.6 L145.9,143.0 L145.6,144.4 L145.3,141.8 L144.9,145.4 L144.6,141.6 L144.3,143.4 L143.9,143.2 L143.6,142.0 L143.3,145.2 L142.9,141.1 L142.6,147.5 L142.3,145.8 L141.9,141.7 L141.6,147.4 L141.2,141.7 L140.9,144.3 L140.6,142.9 L140.2,141.9 L139.9,143.1 L139.6,141.5 L139.2,145.0 L138.9,144.5 L138.6,142.1 L138.2,143.5 L137.9,142.2 L137.6,145.7 L137.2,143.5 L136.9,141.2 L136.6,142.3 L136.2,147.7 L135.9,141.2 L135.6,142.7 L135.2,147.9 L134.9,141.6 L134.6,142.8 L134.2,141.9 L133.9,145.0 L133.6,143.5 L133.2,146.1 L132.9,144.5 L132.6,145.9 L132.2,146.3 L131.9,141.2 L131.6,143.6 L131.2,141.1 L130.9,146.1 L130.6,147.2 L130.2,142.1 L129.9,145.2 L129.6,144.5 L129.2,147.0 L128.9,141.5 L128.6,144.4 L128.2,144.5 L127.9,144.9 L127.6,143.9 L127.2,142.0 L126.9,141.7 L126.6,141.7 L126.2,145.2 L125.9,145.1 L125.6,146.5 L125.2,145.0 L124.9,141.5 L124.6,143.7 L124.2,146.1 L123.9,145.5 L123.6,141.3 L123.2,141.8 L122.9,141.5 L122.6,144.3 L122.2,141.1 L121.9,141.8 L121.6,142.4 L121.2,146.9 L120.9,142.1 L120.6,142.3 L120.2,141.1 L119.9,143.2 L119.6,141.3 L119.2,143.1 L118.9,144.6 L118.6,144.6 L118.2,146.1 L117.9,142.9 L117.6,146.5 L117.2,144.2 L116.9,142.6 L116.6,141.5 L116.2,145.7 L115.9,142.3 L115.6,143.5 L115.2,144.2 L114.9,144.7 L114.6,144.1 L114.2,141.2 L113.9,145.8 L113.6,141.7 L113.2,144.5 L112.9,145.2 L112.6,142.4 L112.2,141.9 L111.9,142.1 L111.6,143.0 L111.2,143.0 L110.9,143.7 L110.6,142.6 L110.2,141.8 L109.9,143.7 L109.6,141.1 L109.2,144.5 L108.9,142.6 L108.6,144.1 L108.2,146.7 L107.9,145.3 L107.6,146.6 L107.2,144.3 L106.9,142.4 L106.6,141.5 L106.2,141.3 L105.9,141.6 L105.6,144.2 L105.2,145.2 L104.9,147.4 L104.6,142.7 L104.2,144.0 L103.9,147.2 L103.5,142.2 L103.2,142.5 L102.9,141.6 L102.5,144.1 L102.2,142.2 L101.9,146.1 L101.5,144.6 L101.2,144.2 L100.9,141.3 L100.5,143.1 L100.2,142.7 L99.9,141.2 L99.5,144.5 L99.2,142.9 L98.9,143.7 L98.5,143.1 L98.2,147.0 L97.9,144.6 L97.5,145.1 L97.2,143.7 L96.9,148.2 L96.5,144.0 L96.2,142.7 L95.9,141.6 L95.5,145.8 L95.2,142.7 L94.9,141.2 L94.5,143.1 L94.2,144.7 L93.9,144.8 L93.5,141.9 L93.2,142.3 L92.9,142.6 L92.5,142.7 L92.2,141.9 L91.9,142.3 L91.5,143.7 L91.2,141.6 L90.9,144.7 L90.5,146.2 L90.2,142.3 L89.9,146.6 L89.5,144.4 L89.2,141.4 L88.9,144.7 L88.5,146.4 L88.2,141.2 L87.9,141.5 L87.5,144.3 L87.2,141.4 L86.9,142.6 L86.5,141.2 L86.2,142.5 L85.9,145.9 L85.5,143.4 L85.2,146.0 L84.9,142.3 L84.5,142.1 L84.2,143.3 L83.9,143.3 L83.5,143.6 L83.2,141.4 L82.9,144.2 L82.5,143.4 L82.2,141.8 L81.9,142.1 L81.5,141.4 L81.2,144.4 L80.9,143.1 L80.5,143.9 L80.2,142.9 L79.9,141.2 L79.5,141.7 L79.2,144.0 L78.9,143.2 L78.5,142.4 L78.2,143.5 L77.9,145.5 L77.5,142.0 L77.2,141.3 L76.9,141.3 L76.5,147.3 L76.2,143.8 L75.9,141.7 L75.5,141.9 L75.2,141.9 L74.9,141.8 L74.5,142.4 L74.2,141.4 L73.9,147.2 L73.5,144.5 L73.2,144.2 L72.9,144.8 L72.5,144.5 L72.2,144.7 L71.9,146.5 L71.5,141.1 L71.2,145.4 L70.9,143.4 L70.5,141.3 L70.2,142.6 L69.9,141.8 L69.5,146.6 L69.2,143.0 L68.9,141.5 L68.5,143.9 L68.2,146.8 L67.9,141.8 L67.5,143.9 L67.2,141.3 L66.9,143.9 L66.5,143.4 L66.2,150.6 L65.8,141.9 L65.5,142.5 L65.2,141.7 L64.8,142.0 L64.5,141.4 L64.2,142.3 L63.8,143.6 L63.5,141.6 L63.2,141.4 L62.8,145.8 L62.5,141.6 L62.2,142.8 L61.8,144.5 L61.5,144.6 L61.2,142.1 L60.8,141.4 L60.5,148.0 L60.2,145.2 L59.8,142.2 L59.5,143.8 L59.2,143.5 L58.8,144.8 L58.5,141.8 L58.2,141.8 L57.8,144.2 L57.5,144.6 L57.2,142.7 L56.8,142.1 L56.5,141.1 L56.2,141.5 L55.8,144.4 L55.5,142.2 L55.2,141.8 L54.8,143.1 L54.5,142.8 L54.2,141.2 L53.8,144.7 L53.5,143.0 L53.2,141.8 L52.8,143.3 L52.5,141.3 L52.2,141.2 L51.8,143.6 L51.5,141.9 L51.2,146.4 L50.8,144.7 L50.5,142.8 L50.2,145.4 L49.8,147.2 L49.5,142.2 L49.2,141.6 L48.8,143.0 L48.5,143.5 L48.2,142.2 L47.8,142.1 L47.5,142.4Z" fill="#ff0000" stroke="#ff0000" stroke-width="0.3" stroke-linejoin="round"/>
<path d="M83.5,141.1 L84.0,153.6 L84.5,141.1Z M98.0,141.1 L98.5,156.0 L99.0,141.1Z M127.2,141.1 L127.7,152.5 L128.2,141.1Z M139.9,141.1 L140.5,162.4 L141.1,141.1Z M149.0,141.1 L149.6,156.0 L150.2,141.1Z M172.4,141.1 L173.0,152.5 L173.6,141.1Z M183.4,141.1 L184.0,152.5 L184.6,141.1Z M197.4,141.1 L198.0,163.5 L198.6,141.1Z M109.5,141.1 L110.0,150.0 L110.5,141.1Z M119.5,141.1 L120.0,151.0 L120.5,141.1Z M210.4,141.1 L211.0,151.0 L211.6,141.1Z M224.4,141.1 L225.0,150.0 L225.6,141.1Z M59.5,141.1 L60.0,149.0 L60.5,141.1Z " fill="#ff0000" stroke="#ff0000" stroke-width="0.45"/>
<text x="43.2" y="35.6" font-size="8.48" text-anchor="end" fill="#000" textLength="28.1" lengthAdjust="spacingAndGlyphs">CASK<tspan font-size="4.66" dy="-2.76">+/+</tspan></text>
<text x="43.2" y="70.4" font-size="8.48" text-anchor="end" fill="#000" textLength="28.5" lengthAdjust="spacingAndGlyphs">CASK<tspan font-size="4.66" dy="-2.76">Y/+</tspan></text>
<text x="43.8" y="104.4" font-size="8.48" text-anchor="end" fill="#000" textLength="42.1" lengthAdjust="spacingAndGlyphs">CASK<tspan font-size="4.66" dy="-2.76">+/-</tspan><tspan dy="2.76">-WT</tspan></text>
<text x="43.8" y="141.0" font-size="8.48" text-anchor="end" fill="#000" textLength="41.3" lengthAdjust="spacingAndGlyphs">CASK<tspan font-size="4.66" dy="-2.76">+/-</tspan><tspan dy="2.76">-KO</tspan></text>
<path d="M209.0,170.0 V181.7 H171.5" stroke="#000" stroke-width="1.2" fill="none" stroke-linejoin="miter" stroke-linecap="butt"/>
<text x="215.3" y="177.0" font-size="8.36" fill="#000" textLength="19.3" lengthAdjust="spacingAndGlyphs">10 pA</text>
<text x="192.7" y="189.0" font-size="7.91" text-anchor="middle" fill="#000" textLength="9.3" lengthAdjust="spacingAndGlyphs">1 s</text>
<path d="M50.0,241.5 L50.3,241.9 L50.7,241.3 L51.0,242.8 L51.3,241.5 L51.7,242.4 L52.0,240.9 L52.3,243.4 L52.7,238.9 L53.0,242.1 L53.3,242.9 L53.7,238.3 L54.0,234.3 L54.3,234.6 L54.7,234.8 L55.0,236.5 L55.3,237.3 L55.7,239.2 L56.0,235.2 L56.3,240.1 L56.7,241.4 L57.0,242.0 L57.3,242.2 L57.7,241.5 L58.0,239.3 L58.3,241.5 L58.7,241.2 L59.0,241.2 L59.3,240.8 L59.7,242.8 L60.0,241.8 L60.3,240.3 L60.7,242.3 L61.0,242.9 L61.3,243.1 L61.7,241.7 L62.0,242.5 L62.3,241.9 L62.7,242.4 L63.0,243.6 L63.3,240.8 L63.7,242.8 L64.0,243.7 L64.3,242.7 L64.7,240.0 L65.0,244.2 L65.3,244.4 L65.7,244.5 L66.0,242.8 L66.3,244.8 L66.7,243.7 L67.0,243.1 L67.3,242.0 L67.7,244.9 L68.0,242.6 L68.3,245.5 L68.7,243.7 L69.0,234.6 L69.3,227.5 L69.7,232.1 L70.0,231.1 L70.3,237.6 L70.7,239.4 L71.0,239.7 L71.3,240.7 L71.7,241.6 L72.0,240.2 L72.3,242.9 L72.7,243.3 L73.0,243.2 L73.3,244.2 L73.7,244.2 L74.0,244.2 L74.3,242.7 L74.7,242.6 L75.0,244.3 L75.3,244.8 L75.7,241.2 L76.0,243.6 L76.3,242.4 L76.7,242.0 L77.0,241.9 L77.3,242.7 L77.7,244.3 L78.0,244.3 L78.3,243.3 L78.7,242.6 L79.0,241.2 L79.3,241.3 L79.7,242.4 L80.0,242.6 L80.3,241.6 L80.7,241.4 L81.0,239.8 L81.3,243.2 L81.7,243.1 L82.0,240.1 L82.3,240.6 L82.7,238.0 L83.0,233.7 L83.3,232.1 L83.7,231.9 L84.0,236.6 L84.3,237.0 L84.7,238.6 L85.0,237.5 L85.3,236.8 L85.7,239.7 L86.0,240.7 L86.3,240.3 L86.7,240.6 L87.0,240.8 L87.3,240.9 L87.7,240.6 L88.0,241.5 L88.3,242.5 L88.7,241.4 L89.0,242.5 L89.3,241.5 L89.7,241.6 L90.0,241.1 L90.3,242.7 L90.7,242.8 L91.0,242.6 L91.3,242.1 L91.7,242.4 L92.0,243.0 L92.3,242.3 L92.7,237.7 L93.0,231.8 L93.3,233.6 L93.7,235.5 L94.0,237.9 L94.3,238.4 L94.7,238.3 L95.0,240.7 L95.3,241.2 L95.7,241.1 L96.0,239.9 L96.3,239.9 L96.7,241.9 L97.0,240.0 L97.3,241.3 L97.7,240.0 L98.0,241.1 L98.3,240.4 L98.7,240.8 L99.0,242.0 L99.3,242.1 L99.7,240.8 L100.0,241.7 L100.3,237.6 L100.7,239.3 L101.0,240.7 L101.3,241.3 L101.7,240.6 L102.0,239.3 L102.3,241.7 L102.7,240.4 L103.0,232.7 L103.3,225.1 L103.7,229.3 L104.0,229.6 L104.3,232.9 L104.7,234.0 L105.0,236.5 L105.3,237.8 L105.7,238.3 L106.0,238.2 L106.3,238.8 L106.7,239.9 L107.0,238.7 L107.3,240.2 L107.7,239.2 L108.0,240.5 L108.3,239.7 L108.7,241.6 L109.0,240.0 L109.3,239.7 L109.7,240.5 L110.0,242.3 L110.3,240.9 L110.7,238.9 L111.0,242.7 L111.3,241.8 L111.7,241.7 L112.0,241.8 L112.3,242.6 L112.7,242.8 L113.0,243.7 L113.3,243.5 L113.7,243.4 L114.0,242.6 L114.3,242.0 L114.7,242.9 L115.0,244.5 L115.3,242.7 L115.7,243.4 L116.0,243.8 L116.3,244.2 L116.7,243.6 L117.0,243.6 L117.3,244.3 L117.7,245.0 L118.0,244.0 L118.3,243.7 L118.7,244.1 L119.0,244.6 L119.3,245.1 L119.7,244.2 L120.0,242.2 L120.3,243.4 L120.7,241.8 L121.0,243.1 L121.3,242.8 L121.7,243.8 L122.0,241.7 L122.3,242.1 L122.7,244.6 L123.0,244.5 L123.3,242.8 L123.7,243.9 L124.0,244.3 L124.3,241.8 L124.7,244.0 L125.0,240.6 L125.3,241.7 L125.7,243.6 L126.0,242.6 L126.3,244.2 L126.7,243.4 L127.0,243.5 L127.3,244.2 L127.7,243.9 L128.0,243.9 L128.3,241.6 L128.7,243.1 L129.0,242.8 L129.3,242.3 L129.7,240.8 L130.0,243.8 L130.3,243.9 L130.7,243.3 L131.0,241.1 L131.3,243.0 L131.7,243.9 L132.0,243.9 L132.3,243.0 L132.7,242.4 L133.0,242.5 L133.3,243.7 L133.7,243.4 L134.0,243.0 L134.3,242.5 L134.7,241.7 L135.0,243.4 L135.3,244.0 L135.7,242.2 L136.0,244.4 L136.3,243.4 L136.7,244.0 L137.0,244.6 L137.3,242.6 L137.7,242.4 L138.0,242.1 L138.3,244.4 L138.7,242.2 L139.0,240.7 L139.3,243.6 L139.7,243.0 L140.0,243.0 L140.3,241.9 L140.7,241.5 L141.0,243.0 L141.3,242.8 L141.7,243.6 L142.0,244.1 L142.3,244.2 L142.7,242.5 L143.0,241.2 L143.3,244.1 L143.7,239.7 L144.0,240.5 L144.3,242.0 L144.7,242.5 L145.0,239.5 L145.3,243.3 L145.7,240.2 L146.0,242.7 L146.3,241.9 L146.7,243.0 L147.0,242.1 L147.3,240.4 L147.7,241.5 L148.0,241.1 L148.3,242.2 L148.7,238.1 L149.0,242.3 L149.3,239.5 L149.7,241.7 L150.0,241.3 L150.3,241.3 L150.7,240.0 L151.0,242.1 L151.3,242.1 L151.7,238.9 L152.0,241.5 L152.3,242.0 L152.7,241.7 L153.0,241.7 L153.3,240.1 L153.7,240.2 L154.0,241.3 L154.3,242.4 L154.7,242.9 L155.0,242.3 L155.3,242.4 L155.7,243.3 L156.0,242.4 L156.3,243.1 L156.7,240.8 L157.0,243.0 L157.3,244.1 L157.7,242.7 L158.0,241.4 L158.3,243.8 L158.7,242.6 L159.0,244.0 L159.3,244.5 L159.7,244.1 L160.0,243.3 L160.3,244.2 L160.7,244.4 L161.0,242.8 L161.3,244.0 L161.7,244.0 L162.0,240.8 L162.3,242.8 L162.7,244.0 L163.0,238.9 L163.3,228.1 L163.7,229.5 L164.0,231.5 L164.3,233.7 L164.7,236.2 L165.0,237.9 L165.3,238.5 L165.7,239.3 L166.0,240.3 L166.3,239.8 L166.7,240.2 L167.0,240.2 L167.3,242.8 L167.7,240.2 L168.0,242.8 L168.3,243.2 L168.7,241.4 L169.0,241.8 L169.3,242.9 L169.7,243.2 L170.0,240.7 L170.3,242.5 L170.7,241.1 L171.0,238.6 L171.3,235.4 L171.7,233.0 L172.0,235.3 L172.3,236.0 L172.7,237.3 L173.0,237.6 L173.3,238.0 L173.7,240.8 L174.0,241.0 L174.3,241.9 L174.7,241.7 L175.0,242.2 L175.3,241.7 L175.7,241.7 L176.0,241.3 L176.3,243.2 L176.7,241.6 L177.0,240.1 L177.3,242.8 L177.7,243.2 L178.0,243.6 L178.3,242.8 L178.7,243.4 L179.0,242.7 L179.3,243.3 L179.7,243.4 L180.0,244.1 L180.3,236.5 L180.7,227.1 L181.0,232.3 L181.3,231.8 L181.7,237.3 L182.0,237.3 L182.3,239.9 L182.7,241.0 L183.0,240.5 L183.3,240.9 L183.7,243.1 L184.0,243.5 L184.3,243.8 L184.7,243.2 L185.0,241.2 L185.3,244.9 L185.7,243.5 L186.0,242.1 L186.3,243.6 L186.7,244.3 L187.0,245.5 L187.3,243.7 L187.7,243.4 L188.0,244.7 L188.3,245.2 L188.7,245.0 L189.0,245.1 L189.3,243.5 L189.7,243.7 L190.0,244.9 L190.3,244.0 L190.7,242.5 L191.0,243.5 L191.3,243.7 L191.7,240.5 L192.0,243.7 L192.3,243.1 L192.7,244.4 L193.0,242.8 L193.3,238.9 L193.7,244.0 L194.0,243.1 L194.3,242.5 L194.7,243.5 L195.0,241.8 L195.3,243.7 L195.7,243.4 L196.0,241.3 L196.3,243.1 L196.7,242.9 L197.0,242.7 L197.3,241.8 L197.7,242.2 L198.0,241.6 L198.3,241.7 L198.7,242.2 L199.0,242.1 L199.3,240.3 L199.7,233.1 L200.0,229.1 L200.3,231.0 L200.7,234.1 L201.0,233.8 L201.3,234.2 L201.7,237.1 L202.0,237.7 L202.3,238.5 L202.7,239.1 L203.0,237.7 L203.3,240.1 L203.7,239.9 L204.0,239.9 L204.3,240.7 L204.7,240.4 L205.0,240.1 L205.3,241.7 L205.7,241.1 L206.0,241.8 L206.3,241.5 L206.7,240.3 L207.0,240.9 L207.3,241.6 L207.7,239.5 L208.0,240.5 L208.3,240.9 L208.7,241.8 L209.0,238.5 L209.3,242.2 L209.7,240.8 L210.0,242.3 L210.3,243.1 L210.7,242.7 L211.0,242.6 L211.3,242.2 L211.7,239.0 L212.0,242.4 L212.3,241.9 L212.7,241.5 L213.0,243.1 L213.3,242.6 L213.7,242.0 L214.0,242.1 L214.3,241.7 L214.7,241.5 L215.0,242.6 L215.3,241.6 L215.7,231.4 L216.0,223.5 L216.3,227.0 L216.7,231.7 L217.0,228.3 L217.3,234.0 L217.7,235.6 L218.0,234.7 L218.3,237.0 L218.7,236.2 L219.0,240.0 L219.3,240.1 L219.7,240.7 L220.0,241.2 L220.3,240.9 L220.7,240.2 L221.0,239.9 L221.3,239.2 L221.7,240.6 L222.0,241.4 L222.3,242.0 L222.7,238.2 L223.0,240.4 L223.3,239.4 L223.7,241.9 L224.0,236.3 L224.3,232.9 L224.7,232.8 L225.0,236.2 L225.3,237.7 L225.7,238.6 L226.0,237.3 L226.3,239.3 L226.7,240.8 L227.0,238.1 L227.3,241.5 L227.7,238.1 L228.0,241.8 L228.3,242.2 L228.7,242.6 L229.0,242.9 L229.3,242.9 L229.7,239.9 L230.0,243.6 L230.3,243.2 L230.7,243.8 L231.0,244.5 L231.3,242.0 L231.7,244.8 L232.0,243.7 L232.3,244.5 L232.7,245.1 L233.0,244.0 L233.3,240.1 L233.7,236.5 L234.0,237.9 L234.3,239.2 L234.7,241.8 L235.0,240.4 L235.3,243.0 L235.7,239.6 L236.0,242.2 L236.0,249.9 L235.7,251.6 L235.3,251.2 L235.0,249.6 L234.7,249.7 L234.3,249.7 L234.0,250.4 L233.7,252.4 L233.3,251.2 L233.0,251.1 L232.7,251.4 L232.3,250.0 L232.0,253.7 L231.7,250.5 L231.3,251.6 L231.0,250.9 L230.7,249.5 L230.3,252.5 L230.0,251.3 L229.7,252.7 L229.3,248.7 L229.0,249.7 L228.7,248.8 L228.3,251.8 L228.0,247.8 L227.7,249.3 L227.3,249.0 L227.0,247.4 L226.7,246.6 L226.3,246.9 L226.0,247.5 L225.7,245.7 L225.3,246.4 L225.0,245.1 L224.7,247.7 L224.3,249.0 L224.0,248.6 L223.7,249.9 L223.3,248.4 L223.0,249.9 L222.7,249.1 L222.3,247.3 L222.0,248.2 L221.7,246.6 L221.3,247.2 L221.0,246.2 L220.7,247.4 L220.3,246.3 L220.0,247.3 L219.7,248.0 L219.3,249.1 L219.0,245.6 L218.7,246.3 L218.3,244.6 L218.0,245.4 L217.7,244.4 L217.3,245.9 L217.0,243.1 L216.7,245.7 L216.3,245.9 L216.0,247.7 L215.7,248.1 L215.3,248.4 L215.0,248.0 L214.7,248.3 L214.3,247.8 L214.0,248.2 L213.7,249.1 L213.3,249.7 L213.0,248.1 L212.7,249.5 L212.3,250.5 L212.0,249.2 L211.7,248.2 L211.3,248.1 L211.0,248.1 L210.7,248.9 L210.3,250.2 L210.0,251.6 L209.7,250.2 L209.3,250.0 L209.0,250.8 L208.7,248.2 L208.3,248.3 L208.0,250.5 L207.7,251.0 L207.3,249.0 L207.0,251.0 L206.7,248.6 L206.3,247.9 L206.0,248.0 L205.7,251.1 L205.3,250.3 L205.0,247.0 L204.7,248.9 L204.3,248.2 L204.0,247.6 L203.7,248.7 L203.3,248.1 L203.0,245.8 L202.7,246.4 L202.3,247.1 L202.0,244.8 L201.7,246.2 L201.3,244.1 L201.0,245.2 L200.7,243.8 L200.3,245.6 L200.0,250.4 L199.7,247.3 L199.3,248.1 L199.0,247.6 L198.7,248.1 L198.3,248.1 L198.0,249.5 L197.7,249.2 L197.3,250.2 L197.0,248.4 L196.7,248.6 L196.3,249.6 L196.0,248.9 L195.7,249.8 L195.3,249.5 L195.0,250.1 L194.7,250.1 L194.3,250.3 L194.0,249.8 L193.7,250.1 L193.3,249.4 L193.0,250.0 L192.7,250.6 L192.3,249.6 L192.0,251.8 L191.7,250.7 L191.3,250.8 L191.0,251.9 L190.7,250.5 L190.3,250.7 L190.0,251.5 L189.7,252.9 L189.3,250.7 L189.0,251.3 L188.7,250.6 L188.3,252.0 L188.0,251.4 L187.7,250.9 L187.3,250.4 L187.0,250.9 L186.7,250.8 L186.3,252.8 L186.0,249.9 L185.7,252.3 L185.3,251.9 L185.0,253.8 L184.7,250.8 L184.3,250.3 L184.0,249.6 L183.7,250.8 L183.3,250.3 L183.0,247.7 L182.7,248.2 L182.3,252.0 L182.0,246.4 L181.7,247.4 L181.3,247.1 L181.0,246.8 L180.7,250.4 L180.3,249.9 L180.0,252.7 L179.7,250.7 L179.3,250.8 L179.0,251.3 L178.7,249.9 L178.3,249.2 L178.0,251.2 L177.7,249.4 L177.3,248.4 L177.0,250.1 L176.7,248.7 L176.3,249.0 L176.0,249.5 L175.7,248.2 L175.3,252.1 L175.0,249.1 L174.7,247.9 L174.3,252.5 L174.0,247.2 L173.7,248.2 L173.3,246.5 L173.0,246.5 L172.7,248.8 L172.3,248.1 L172.0,248.2 L171.7,248.0 L171.3,251.0 L171.0,248.4 L170.7,248.8 L170.3,249.3 L170.0,248.7 L169.7,251.3 L169.3,249.3 L169.0,250.5 L168.7,249.4 L168.3,251.9 L168.0,248.3 L167.7,248.7 L167.3,248.2 L167.0,247.9 L166.7,247.7 L166.3,247.1 L166.0,247.4 L165.7,248.7 L165.3,247.5 L165.0,247.1 L164.7,246.7 L164.3,245.5 L164.0,246.2 L163.7,248.7 L163.3,250.5 L163.0,250.7 L162.7,250.5 L162.3,250.1 L162.0,251.2 L161.7,251.4 L161.3,249.9 L161.0,251.5 L160.7,250.2 L160.3,252.0 L160.0,250.0 L159.7,251.8 L159.3,249.9 L159.0,250.6 L158.7,250.0 L158.3,249.4 L158.0,251.1 L157.7,249.7 L157.3,252.8 L157.0,250.7 L156.7,253.0 L156.3,250.0 L156.0,248.9 L155.7,249.3 L155.3,250.2 L155.0,248.1 L154.7,251.0 L154.3,249.0 L154.0,248.8 L153.7,248.0 L153.3,248.5 L153.0,247.1 L152.7,247.5 L152.3,248.7 L152.0,246.9 L151.7,248.6 L151.3,251.7 L151.0,247.9 L150.7,248.1 L150.3,248.9 L150.0,247.9 L149.7,249.3 L149.3,249.4 L149.0,248.4 L148.7,247.2 L148.3,249.4 L148.0,248.2 L147.7,247.8 L147.3,248.5 L147.0,247.8 L146.7,248.3 L146.3,249.3 L146.0,248.5 L145.7,248.5 L145.3,250.2 L145.0,248.9 L144.7,248.6 L144.3,249.4 L144.0,250.3 L143.7,248.9 L143.3,249.3 L143.0,251.2 L142.7,251.3 L142.3,249.4 L142.0,249.2 L141.7,251.7 L141.3,250.8 L141.0,250.0 L140.7,249.4 L140.3,249.7 L140.0,249.7 L139.7,251.2 L139.3,251.0 L139.0,250.5 L138.7,251.1 L138.3,250.0 L138.0,249.4 L137.7,249.7 L137.3,249.9 L137.0,253.1 L136.7,249.7 L136.3,249.5 L136.0,250.9 L135.7,251.0 L135.3,249.0 L135.0,251.9 L134.7,248.9 L134.3,249.2 L134.0,250.8 L133.7,250.2 L133.3,253.1 L133.0,250.7 L132.7,248.8 L132.3,250.4 L132.0,249.3 L131.7,250.5 L131.3,251.5 L131.0,250.9 L130.7,250.3 L130.3,251.7 L130.0,252.6 L129.7,249.0 L129.3,249.9 L129.0,250.0 L128.7,252.2 L128.3,250.8 L128.0,248.8 L127.7,249.9 L127.3,250.7 L127.0,250.7 L126.7,252.3 L126.3,249.2 L126.0,249.3 L125.7,251.0 L125.3,249.9 L125.0,251.0 L124.7,249.7 L124.3,254.0 L124.0,250.5 L123.7,249.9 L123.3,250.2 L123.0,249.8 L122.7,250.1 L122.3,249.5 L122.0,249.6 L121.7,249.6 L121.3,253.0 L121.0,249.5 L120.7,251.0 L120.3,250.5 L120.0,251.7 L119.7,250.8 L119.3,252.9 L119.0,250.6 L118.7,256.3 L118.3,253.7 L118.0,250.8 L117.7,253.1 L117.3,250.8 L117.0,251.7 L116.7,251.3 L116.3,252.0 L116.0,249.6 L115.7,250.6 L115.3,249.6 L115.0,250.3 L114.7,250.5 L114.3,250.7 L114.0,250.7 L113.7,250.1 L113.3,249.7 L113.0,248.7 L112.7,248.7 L112.3,250.4 L112.0,248.2 L111.7,251.3 L111.3,249.0 L111.0,249.5 L110.7,248.5 L110.3,247.7 L110.0,247.7 L109.7,247.7 L109.3,248.7 L109.0,247.0 L108.7,246.7 L108.3,246.8 L108.0,246.6 L107.7,246.3 L107.3,249.1 L107.0,248.6 L106.7,246.8 L106.3,246.7 L106.0,246.1 L105.7,246.9 L105.3,245.8 L105.0,243.4 L104.7,243.4 L104.3,244.7 L104.0,242.7 L103.7,244.1 L103.3,248.9 L103.0,247.7 L102.7,247.3 L102.3,246.8 L102.0,247.7 L101.7,247.8 L101.3,248.2 L101.0,250.5 L100.7,247.7 L100.3,247.7 L100.0,250.9 L99.7,249.4 L99.3,250.5 L99.0,248.2 L98.7,248.0 L98.3,249.5 L98.0,248.9 L97.7,250.1 L97.3,248.7 L97.0,248.4 L96.7,247.5 L96.3,248.9 L96.0,248.8 L95.7,248.7 L95.3,248.0 L95.0,247.2 L94.7,245.9 L94.3,245.7 L94.0,246.4 L93.7,249.6 L93.3,247.9 L93.0,249.4 L92.7,248.4 L92.3,249.1 L92.0,248.0 L91.7,248.0 L91.3,250.8 L91.0,250.1 L90.7,248.1 L90.3,247.9 L90.0,247.8 L89.7,250.7 L89.3,249.0 L89.0,249.2 L88.7,247.7 L88.3,248.3 L88.0,251.4 L87.7,250.0 L87.3,248.4 L87.0,247.5 L86.7,247.7 L86.3,250.0 L86.0,247.9 L85.7,248.1 L85.3,246.8 L85.0,246.6 L84.7,245.9 L84.3,247.1 L84.0,244.8 L83.7,247.6 L83.3,248.5 L83.0,247.8 L82.7,248.2 L82.3,249.3 L82.0,249.1 L81.7,250.3 L81.3,249.8 L81.0,248.3 L80.7,249.5 L80.3,249.5 L80.0,249.7 L79.7,250.3 L79.3,250.2 L79.0,250.9 L78.7,251.0 L78.3,252.8 L78.0,251.8 L77.7,253.0 L77.3,250.3 L77.0,255.6 L76.7,249.7 L76.3,249.8 L76.0,253.9 L75.7,250.0 L75.3,250.0 L75.0,251.9 L74.7,250.0 L74.3,252.5 L74.0,250.0 L73.7,251.0 L73.3,249.6 L73.0,249.3 L72.7,249.5 L72.3,249.6 L72.0,249.6 L71.7,248.4 L71.3,250.0 L71.0,247.7 L70.7,249.7 L70.3,248.8 L70.0,247.1 L69.7,247.3 L69.3,251.5 L69.0,254.4 L68.7,254.4 L68.3,251.2 L68.0,251.8 L67.7,250.9 L67.3,251.4 L67.0,250.2 L66.7,251.0 L66.3,252.0 L66.0,250.7 L65.7,250.0 L65.3,250.8 L65.0,250.4 L64.7,252.2 L64.3,250.9 L64.0,250.5 L63.7,252.2 L63.3,249.2 L63.0,249.9 L62.7,249.6 L62.3,250.2 L62.0,250.9 L61.7,248.8 L61.3,249.1 L61.0,248.3 L60.7,248.8 L60.3,248.5 L60.0,248.6 L59.7,249.0 L59.3,248.7 L59.0,247.7 L58.7,248.5 L58.3,247.3 L58.0,248.1 L57.7,248.6 L57.3,248.8 L57.0,247.5 L56.7,247.9 L56.3,248.8 L56.0,246.3 L55.7,246.4 L55.3,245.8 L55.0,245.9 L54.7,247.0 L54.3,246.7 L54.0,249.3 L53.7,248.2 L53.3,248.4 L53.0,250.2 L52.7,248.7 L52.3,248.7 L52.0,250.0 L51.7,249.1 L51.3,250.6 L51.0,250.2 L50.7,248.4 L50.3,249.2 L50.0,249.0Z" fill="#050505" stroke="#050505" stroke-width="0.3" stroke-linejoin="round"/>
<path d="M50.0,273.6 L50.3,275.9 L50.7,274.5 L51.0,275.9 L51.3,275.4 L51.7,273.7 L52.0,275.1 L52.3,274.1 L52.7,273.0 L53.0,273.7 L53.3,275.4 L53.7,276.3 L54.0,272.4 L54.3,275.7 L54.7,271.8 L55.0,275.1 L55.3,275.7 L55.7,276.0 L56.0,276.7 L56.3,275.3 L56.7,275.4 L57.0,275.4 L57.3,277.0 L57.7,276.7 L58.0,274.6 L58.3,276.4 L58.7,276.6 L59.0,276.7 L59.3,276.3 L59.7,277.1 L60.0,274.4 L60.3,276.0 L60.7,277.9 L61.0,275.7 L61.3,276.3 L61.7,277.0 L62.0,276.9 L62.3,276.9 L62.7,276.4 L63.0,278.1 L63.3,273.5 L63.7,273.5 L64.0,276.2 L64.3,277.6 L64.7,278.4 L65.0,276.8 L65.3,278.1 L65.7,278.2 L66.0,275.5 L66.3,270.9 L66.7,277.6 L67.0,276.4 L67.3,276.4 L67.7,277.4 L68.0,274.9 L68.3,277.2 L68.7,276.5 L69.0,276.3 L69.3,276.4 L69.7,274.1 L70.0,276.6 L70.3,276.6 L70.7,273.3 L71.0,267.2 L71.3,267.1 L71.7,265.5 L72.0,269.7 L72.3,269.0 L72.7,274.1 L73.0,271.2 L73.3,274.6 L73.7,274.4 L74.0,275.5 L74.3,272.7 L74.7,273.0 L75.0,272.6 L75.3,272.4 L75.7,272.8 L76.0,270.0 L76.3,269.8 L76.7,271.0 L77.0,272.7 L77.3,274.4 L77.7,275.4 L78.0,274.4 L78.3,275.5 L78.7,275.0 L79.0,276.2 L79.3,274.7 L79.7,274.3 L80.0,275.4 L80.3,275.7 L80.7,276.6 L81.0,276.5 L81.3,275.7 L81.7,276.1 L82.0,275.9 L82.3,273.6 L82.7,275.5 L83.0,273.7 L83.3,276.6 L83.7,274.3 L84.0,276.2 L84.3,276.4 L84.7,275.1 L85.0,273.9 L85.3,275.5 L85.7,276.1 L86.0,274.3 L86.3,275.7 L86.7,275.6 L87.0,275.9 L87.3,275.3 L87.7,273.3 L88.0,272.6 L88.3,274.2 L88.7,273.6 L89.0,274.0 L89.3,275.0 L89.7,274.2 L90.0,273.7 L90.3,273.8 L90.7,274.8 L91.0,274.8 L91.3,272.8 L91.7,271.6 L92.0,272.6 L92.3,272.9 L92.7,271.8 L93.0,266.9 L93.3,270.1 L93.7,270.7 L94.0,272.1 L94.3,272.3 L94.7,274.1 L95.0,274.2 L95.3,273.4 L95.7,273.0 L96.0,273.5 L96.3,273.0 L96.7,275.3 L97.0,274.7 L97.3,275.0 L97.7,274.4 L98.0,276.2 L98.3,274.6 L98.7,274.9 L99.0,274.0 L99.3,275.2 L99.7,274.5 L100.0,276.7 L100.3,276.5 L100.7,276.8 L101.0,276.0 L101.3,275.3 L101.7,273.7 L102.0,274.5 L102.3,277.3 L102.7,277.1 L103.0,276.4 L103.3,277.7 L103.7,276.1 L104.0,277.8 L104.3,273.9 L104.7,274.4 L105.0,276.0 L105.3,276.4 L105.7,275.3 L106.0,276.2 L106.3,274.4 L106.7,276.1 L107.0,276.5 L107.3,273.6 L107.7,276.1 L108.0,275.7 L108.3,276.4 L108.7,275.2 L109.0,275.5 L109.3,273.9 L109.7,275.5 L110.0,271.4 L110.3,274.0 L110.7,272.9 L111.0,274.2 L111.3,275.6 L111.7,274.7 L112.0,274.4 L112.3,275.8 L112.7,276.4 L113.0,275.7 L113.3,275.5 L113.7,275.7 L114.0,275.3 L114.3,276.8 L114.7,276.9 L115.0,277.3 L115.3,274.4 L115.7,276.5 L116.0,276.8 L116.3,277.5 L116.7,275.8 L117.0,275.8 L117.3,275.6 L117.7,276.0 L118.0,276.0 L118.3,277.2 L118.7,277.8 L119.0,277.6 L119.3,276.6 L119.7,277.6 L120.0,277.9 L120.3,275.3 L120.7,274.0 L121.0,277.1 L121.3,276.9 L121.7,277.4 L122.0,277.4 L122.3,276.9 L122.7,277.4 L123.0,275.0 L123.3,276.0 L123.7,273.9 L124.0,276.7 L124.3,274.5 L124.7,273.4 L125.0,273.2 L125.3,271.9 L125.7,272.0 L126.0,275.6 L126.3,275.1 L126.7,275.1 L127.0,274.1 L127.3,274.8 L127.7,273.8 L128.0,274.8 L128.3,272.0 L128.7,273.4 L129.0,273.5 L129.3,273.4 L129.7,274.6 L130.0,275.3 L130.3,274.9 L130.7,271.1 L131.0,275.1 L131.3,274.4 L131.7,272.0 L132.0,273.6 L132.3,274.3 L132.7,275.2 L133.0,275.0 L133.3,274.3 L133.7,274.6 L134.0,273.0 L134.3,273.6 L134.7,269.8 L135.0,271.0 L135.3,271.8 L135.7,270.7 L136.0,274.2 L136.3,274.7 L136.7,275.0 L137.0,275.2 L137.3,274.3 L137.7,273.9 L138.0,274.4 L138.3,273.8 L138.7,270.4 L139.0,274.9 L139.3,275.1 L139.7,275.8 L140.0,274.5 L140.3,274.8 L140.7,276.2 L141.0,275.8 L141.3,275.6 L141.7,275.3 L142.0,273.1 L142.3,272.5 L142.7,276.3 L143.0,272.6 L143.3,275.3 L143.7,276.1 L144.0,275.7 L144.3,272.2 L144.7,274.2 L145.0,275.3 L145.3,275.8 L145.7,272.4 L146.0,275.1 L146.3,275.1 L146.7,275.1 L147.0,275.5 L147.3,274.8 L147.7,273.3 L148.0,275.1 L148.3,274.2 L148.7,274.4 L149.0,273.5 L149.3,275.4 L149.7,274.9 L150.0,274.8 L150.3,275.4 L150.7,275.8 L151.0,275.2 L151.3,272.2 L151.7,273.8 L152.0,275.2 L152.3,274.0 L152.7,274.5 L153.0,270.3 L153.3,266.7 L153.7,269.6 L154.0,270.9 L154.3,269.4 L154.7,273.4 L155.0,271.6 L155.3,275.0 L155.7,272.7 L156.0,276.5 L156.3,276.8 L156.7,277.2 L157.0,277.1 L157.3,273.5 L157.7,276.5 L158.0,276.9 L158.3,277.0 L158.7,277.7 L159.0,275.7 L159.3,277.8 L159.7,277.9 L160.0,278.1 L160.3,276.3 L160.7,277.1 L161.0,278.3 L161.3,273.1 L161.7,274.4 L162.0,264.2 L162.3,260.3 L162.7,262.7 L163.0,268.0 L163.3,270.8 L163.7,272.8 L164.0,273.8 L164.3,273.7 L164.7,274.3 L165.0,275.6 L165.3,276.5 L165.7,276.1 L166.0,274.3 L166.3,277.1 L166.7,276.6 L167.0,277.1 L167.3,275.9 L167.7,275.8 L168.0,276.8 L168.3,276.5 L168.7,275.1 L169.0,276.7 L169.3,267.9 L169.7,261.9 L170.0,264.0 L170.3,268.7 L170.7,268.0 L171.0,271.5 L171.3,272.5 L171.7,274.4 L172.0,272.1 L172.3,275.4 L172.7,275.3 L173.0,275.0 L173.3,273.6 L173.7,275.8 L174.0,276.5 L174.3,275.6 L174.7,275.7 L175.0,275.6 L175.3,275.6 L175.7,276.3 L176.0,276.3 L176.3,276.6 L176.7,275.6 L177.0,276.0 L177.3,276.4 L177.7,276.7 L178.0,274.1 L178.3,276.4 L178.7,273.0 L179.0,276.6 L179.3,275.7 L179.7,275.5 L180.0,275.1 L180.3,275.1 L180.7,273.7 L181.0,275.3 L181.3,276.4 L181.7,271.4 L182.0,271.5 L182.3,272.5 L182.7,273.2 L183.0,273.4 L183.3,274.8 L183.7,273.7 L184.0,274.3 L184.3,272.4 L184.7,272.7 L185.0,270.6 L185.3,271.1 L185.7,271.7 L186.0,275.2 L186.3,274.9 L186.7,272.8 L187.0,272.6 L187.3,275.2 L187.7,273.3 L188.0,273.6 L188.3,274.1 L188.7,273.7 L189.0,271.2 L189.3,273.7 L189.7,274.8 L190.0,271.7 L190.3,274.2 L190.7,270.6 L191.0,271.2 L191.3,267.2 L191.7,261.9 L192.0,267.4 L192.3,268.8 L192.7,269.4 L193.0,272.1 L193.3,273.4 L193.7,273.5 L194.0,272.9 L194.3,275.1 L194.7,274.1 L195.0,274.6 L195.3,275.7 L195.7,275.9 L196.0,275.3 L196.3,274.8 L196.7,275.1 L197.0,274.0 L197.3,276.5 L197.7,273.1 L198.0,274.1 L198.3,276.7 L198.7,272.1 L199.0,275.5 L199.3,275.5 L199.7,277.0 L200.0,277.3 L200.3,275.0 L200.7,275.8 L201.0,275.8 L201.3,275.6 L201.7,275.7 L202.0,275.7 L202.3,275.9 L202.7,273.9 L203.0,276.8 L203.3,277.1 L203.7,276.1 L204.0,274.8 L204.3,275.9 L204.7,276.0 L205.0,275.2 L205.3,276.6 L205.7,277.0 L206.0,276.2 L206.3,276.4 L206.7,272.6 L207.0,276.7 L207.3,275.7 L207.7,276.0 L208.0,274.4 L208.3,275.5 L208.7,275.3 L209.0,275.7 L209.3,276.0 L209.7,276.9 L210.0,274.5 L210.3,276.5 L210.7,277.0 L211.0,276.9 L211.3,274.2 L211.7,274.4 L212.0,275.7 L212.3,272.6 L212.7,266.7 L213.0,265.5 L213.3,268.6 L213.7,271.3 L214.0,273.4 L214.3,273.4 L214.7,274.2 L215.0,274.3 L215.3,275.1 L215.7,276.1 L216.0,276.3 L216.3,276.5 L216.7,276.0 L217.0,277.7 L217.3,275.4 L217.7,276.9 L218.0,276.0 L218.3,277.4 L218.7,277.9 L219.0,277.5 L219.3,277.8 L219.7,276.6 L220.0,276.7 L220.3,275.1 L220.7,276.9 L221.0,275.4 L221.3,277.7 L221.7,275.4 L222.0,276.6 L222.3,276.3 L222.7,273.5 L223.0,267.9 L223.3,257.9 L223.7,262.7 L224.0,266.5 L224.3,268.2 L224.7,269.4 L225.0,269.9 L225.3,270.8 L225.7,273.6 L226.0,274.7 L226.3,273.8 L226.7,271.3 L227.0,275.5 L227.3,273.6 L227.7,273.9 L228.0,275.2 L228.3,272.0 L228.7,274.2 L229.0,274.1 L229.3,275.6 L229.7,275.5 L230.0,273.3 L230.3,273.8 L230.7,273.9 L231.0,275.4 L231.3,274.1 L231.7,275.3 L232.0,271.3 L232.3,272.6 L232.7,271.7 L233.0,272.3 L233.3,273.4 L233.7,272.4 L234.0,271.8 L234.3,274.5 L234.7,273.9 L235.0,275.0 L235.3,275.9 L235.7,275.6 L236.0,274.9 L236.0,281.6 L235.7,281.5 L235.3,281.3 L235.0,283.6 L234.7,284.7 L234.3,282.1 L234.0,281.3 L233.7,283.9 L233.3,283.5 L233.0,281.5 L232.7,284.6 L232.3,281.2 L232.0,281.9 L231.7,280.8 L231.3,283.1 L231.0,281.1 L230.7,280.7 L230.3,280.8 L230.0,281.8 L229.7,280.6 L229.3,281.1 L229.0,283.2 L228.7,284.6 L228.3,282.3 L228.0,281.4 L227.7,284.6 L227.3,281.8 L227.0,280.7 L226.7,281.2 L226.3,281.2 L226.0,284.3 L225.7,280.0 L225.3,280.9 L225.0,280.9 L224.7,280.7 L224.3,282.3 L224.0,280.5 L223.7,280.7 L223.3,283.6 L223.0,284.2 L222.7,283.6 L222.3,284.2 L222.0,283.2 L221.7,284.5 L221.3,283.8 L221.0,283.9 L220.7,284.2 L220.3,285.4 L220.0,283.5 L219.7,284.6 L219.3,285.7 L219.0,283.7 L218.7,284.8 L218.3,287.4 L218.0,284.6 L217.7,284.3 L217.3,287.5 L217.0,284.8 L216.7,285.0 L216.3,284.7 L216.0,284.2 L215.7,282.5 L215.3,283.6 L215.0,283.3 L214.7,281.6 L214.3,281.5 L214.0,282.2 L213.7,281.7 L213.3,283.2 L213.0,283.9 L212.7,285.2 L212.3,284.3 L212.0,283.8 L211.7,282.3 L211.3,283.7 L211.0,282.3 L210.7,283.4 L210.3,283.2 L210.0,285.3 L209.7,283.0 L209.3,285.8 L209.0,282.9 L208.7,284.1 L208.3,284.6 L208.0,283.9 L207.7,283.8 L207.3,284.5 L207.0,284.2 L206.7,284.4 L206.3,282.8 L206.0,282.6 L205.7,285.5 L205.3,285.6 L205.0,284.5 L204.7,287.9 L204.3,283.3 L204.0,285.1 L203.7,283.4 L203.3,285.3 L203.0,284.4 L202.7,285.0 L202.3,286.0 L202.0,283.8 L201.7,287.7 L201.3,284.3 L201.0,285.7 L200.7,284.7 L200.3,283.9 L200.0,283.6 L199.7,283.2 L199.3,283.6 L199.0,283.6 L198.7,282.5 L198.3,283.1 L198.0,282.3 L197.7,282.6 L197.3,282.6 L197.0,281.7 L196.7,281.6 L196.3,282.0 L196.0,281.4 L195.7,282.7 L195.3,281.5 L195.0,282.7 L194.7,281.8 L194.3,282.1 L194.0,280.8 L193.7,279.7 L193.3,281.9 L193.0,282.5 L192.7,278.3 L192.3,278.5 L192.0,279.6 L191.7,280.8 L191.3,281.5 L191.0,282.0 L190.7,281.9 L190.3,281.0 L190.0,281.3 L189.7,280.4 L189.3,281.5 L189.0,281.8 L188.7,284.1 L188.3,280.5 L188.0,282.1 L187.7,282.7 L187.3,280.5 L187.0,281.1 L186.7,281.2 L186.3,283.0 L186.0,282.0 L185.7,283.5 L185.3,281.2 L185.0,283.3 L184.7,280.8 L184.3,285.5 L184.0,283.4 L183.7,281.8 L183.3,283.3 L183.0,282.0 L182.7,282.8 L182.3,283.4 L182.0,282.2 L181.7,282.3 L181.3,284.1 L181.0,284.7 L180.7,283.2 L180.3,283.9 L180.0,282.6 L179.7,284.1 L179.3,283.9 L179.0,284.7 L178.7,285.3 L178.3,282.1 L178.0,282.4 L177.7,282.5 L177.3,282.4 L177.0,283.8 L176.7,286.7 L176.3,285.3 L176.0,282.0 L175.7,282.3 L175.3,283.5 L175.0,282.3 L174.7,283.8 L174.3,281.7 L174.0,283.3 L173.7,281.8 L173.3,281.8 L173.0,281.7 L172.7,283.2 L172.3,281.7 L172.0,280.5 L171.7,280.8 L171.3,282.4 L171.0,284.5 L170.7,281.9 L170.3,279.1 L170.0,280.5 L169.7,283.5 L169.3,282.3 L169.0,281.9 L168.7,284.0 L168.3,282.5 L168.0,283.2 L167.7,283.1 L167.3,283.3 L167.0,282.7 L166.7,283.6 L166.3,285.8 L166.0,283.0 L165.7,282.7 L165.3,282.6 L165.0,284.3 L164.7,282.2 L164.3,284.4 L164.0,284.9 L163.7,279.8 L163.3,279.3 L163.0,282.6 L162.7,284.3 L162.3,284.4 L162.0,287.1 L161.7,286.2 L161.3,285.7 L161.0,287.5 L160.7,285.8 L160.3,285.4 L160.0,286.6 L159.7,287.5 L159.3,283.9 L159.0,287.6 L158.7,283.3 L158.3,286.4 L158.0,283.5 L157.7,284.9 L157.3,284.3 L157.0,283.7 L156.7,283.3 L156.3,282.1 L156.0,282.4 L155.7,283.0 L155.3,282.0 L155.0,281.6 L154.7,282.0 L154.3,281.1 L154.0,280.9 L153.7,280.6 L153.3,285.3 L153.0,284.0 L152.7,282.0 L152.3,281.7 L152.0,281.7 L151.7,283.2 L151.3,283.7 L151.0,281.9 L150.7,283.4 L150.3,282.3 L150.0,283.4 L149.7,281.3 L149.3,281.9 L149.0,282.5 L148.7,285.9 L148.3,281.8 L148.0,283.3 L147.7,286.3 L147.3,283.6 L147.0,283.1 L146.7,281.5 L146.3,283.2 L146.0,283.7 L145.7,281.7 L145.3,284.4 L145.0,283.4 L144.7,282.4 L144.3,282.0 L144.0,281.8 L143.7,282.9 L143.3,283.5 L143.0,282.6 L142.7,282.2 L142.3,283.3 L142.0,281.6 L141.7,284.3 L141.3,283.5 L141.0,281.7 L140.7,282.5 L140.3,284.1 L140.0,285.6 L139.7,281.6 L139.3,282.6 L139.0,282.2 L138.7,282.2 L138.3,282.0 L138.0,281.8 L137.7,282.1 L137.3,281.9 L137.0,280.8 L136.7,282.4 L136.3,281.7 L136.0,283.6 L135.7,281.1 L135.3,281.3 L135.0,282.6 L134.7,284.8 L134.3,283.8 L134.0,281.0 L133.7,281.1 L133.3,280.6 L133.0,280.8 L132.7,281.2 L132.3,281.9 L132.0,284.0 L131.7,280.9 L131.3,283.6 L131.0,282.5 L130.7,284.8 L130.3,282.9 L130.0,280.9 L129.7,282.3 L129.3,281.5 L129.0,284.4 L128.7,281.3 L128.3,283.1 L128.0,282.6 L127.7,281.4 L127.3,282.8 L127.0,284.4 L126.7,282.0 L126.3,281.7 L126.0,283.7 L125.7,282.4 L125.3,283.4 L125.0,283.2 L124.7,283.4 L124.3,285.8 L124.0,283.7 L123.7,285.4 L123.3,284.3 L123.0,285.4 L122.7,283.9 L122.3,283.2 L122.0,283.3 L121.7,284.4 L121.3,284.8 L121.0,283.7 L120.7,286.4 L120.3,285.3 L120.0,283.5 L119.7,284.9 L119.3,285.4 L119.0,285.3 L118.7,285.4 L118.3,286.2 L118.0,283.3 L117.7,283.6 L117.3,283.3 L117.0,283.9 L116.7,284.8 L116.3,283.9 L116.0,286.3 L115.7,284.4 L115.3,282.6 L115.0,286.0 L114.7,283.1 L114.3,282.8 L114.0,283.6 L113.7,284.6 L113.3,282.7 L113.0,283.3 L112.7,283.6 L112.3,283.6 L112.0,281.7 L111.7,281.6 L111.3,283.3 L111.0,282.3 L110.7,282.2 L110.3,282.5 L110.0,284.1 L109.7,284.3 L109.3,283.2 L109.0,284.1 L108.7,284.1 L108.3,283.5 L108.0,284.2 L107.7,282.6 L107.3,287.1 L107.0,284.2 L106.7,285.6 L106.3,283.0 L106.0,282.8 L105.7,284.5 L105.3,287.1 L105.0,283.5 L104.7,283.1 L104.3,285.9 L104.0,283.7 L103.7,283.3 L103.3,284.9 L103.0,283.0 L102.7,287.3 L102.3,282.9 L102.0,283.5 L101.7,286.1 L101.3,284.5 L101.0,282.6 L100.7,282.8 L100.3,282.7 L100.0,283.1 L99.7,284.2 L99.3,282.9 L99.0,282.7 L98.7,284.2 L98.3,282.7 L98.0,283.1 L97.7,282.7 L97.3,282.8 L97.0,282.8 L96.7,283.2 L96.3,281.3 L96.0,281.1 L95.7,282.3 L95.3,282.3 L95.0,281.6 L94.7,281.0 L94.3,282.2 L94.0,279.3 L93.7,279.3 L93.3,283.3 L93.0,283.1 L92.7,281.3 L92.3,282.8 L92.0,282.9 L91.7,281.5 L91.3,280.7 L91.0,281.7 L90.7,281.4 L90.3,281.6 L90.0,281.4 L89.7,281.5 L89.3,282.5 L89.0,282.8 L88.7,282.6 L88.3,281.7 L88.0,283.3 L87.7,281.9 L87.3,282.4 L87.0,281.6 L86.7,283.5 L86.3,282.1 L86.0,281.2 L85.7,283.0 L85.3,283.0 L85.0,281.8 L84.7,284.1 L84.3,283.5 L84.0,284.0 L83.7,284.6 L83.3,283.9 L83.0,284.1 L82.7,283.6 L82.3,281.7 L82.0,286.1 L81.7,283.7 L81.3,282.9 L81.0,281.8 L80.7,283.4 L80.3,283.2 L80.0,282.0 L79.7,281.9 L79.3,282.2 L79.0,284.2 L78.7,284.0 L78.3,281.7 L78.0,283.6 L77.7,282.7 L77.3,282.3 L77.0,282.0 L76.7,280.9 L76.3,281.5 L76.0,282.6 L75.7,281.8 L75.3,281.8 L75.0,283.6 L74.7,283.0 L74.3,281.2 L74.0,283.3 L73.7,282.1 L73.3,282.9 L73.0,282.4 L72.7,281.9 L72.3,282.1 L72.0,280.5 L71.7,281.8 L71.3,281.5 L71.0,284.8 L70.7,284.7 L70.3,283.4 L70.0,283.4 L69.7,282.4 L69.3,287.0 L69.0,286.3 L68.7,283.2 L68.3,287.4 L68.0,283.0 L67.7,285.2 L67.3,285.3 L67.0,286.1 L66.7,283.0 L66.3,283.8 L66.0,283.9 L65.7,283.5 L65.3,285.1 L65.0,283.4 L64.7,287.8 L64.3,284.4 L64.0,287.4 L63.7,284.1 L63.3,284.2 L63.0,285.1 L62.7,284.2 L62.3,285.8 L62.0,283.8 L61.7,286.2 L61.3,284.9 L61.0,285.5 L60.7,285.3 L60.3,284.2 L60.0,283.7 L59.7,285.2 L59.3,284.7 L59.0,283.8 L58.7,285.5 L58.3,284.1 L58.0,283.0 L57.7,287.6 L57.3,282.7 L57.0,283.5 L56.7,283.4 L56.3,285.3 L56.0,282.6 L55.7,282.7 L55.3,283.1 L55.0,283.1 L54.7,282.1 L54.3,281.7 L54.0,283.2 L53.7,281.8 L53.3,283.2 L53.0,282.8 L52.7,282.8 L52.3,285.1 L52.0,283.1 L51.7,282.5 L51.3,283.9 L51.0,285.0 L50.7,281.6 L50.3,282.4 L50.0,281.9Z" fill="#7e7e7e" stroke="#7e7e7e" stroke-width="0.3" stroke-linejoin="round"/>
<path d="M50.0,316.7 L50.3,315.3 L50.7,316.3 L51.0,316.0 L51.3,316.7 L51.7,315.4 L52.0,316.1 L52.3,315.2 L52.7,315.0 L53.0,314.2 L53.3,315.2 L53.7,315.0 L54.0,313.1 L54.3,316.3 L54.7,313.0 L55.0,314.4 L55.3,314.9 L55.7,315.8 L56.0,314.7 L56.3,313.1 L56.7,313.0 L57.0,314.0 L57.3,314.8 L57.7,315.2 L58.0,315.8 L58.3,314.3 L58.7,314.2 L59.0,315.6 L59.3,314.9 L59.7,311.2 L60.0,310.2 L60.3,312.0 L60.7,312.4 L61.0,312.6 L61.3,313.4 L61.7,311.0 L62.0,311.9 L62.3,313.6 L62.7,312.6 L63.0,311.5 L63.3,312.5 L63.7,314.4 L64.0,312.7 L64.3,313.1 L64.7,314.2 L65.0,313.6 L65.3,314.1 L65.7,312.6 L66.0,312.8 L66.3,313.1 L66.7,314.7 L67.0,308.2 L67.3,305.2 L67.7,297.3 L68.0,298.6 L68.3,301.4 L68.7,304.7 L69.0,303.2 L69.3,307.8 L69.7,310.5 L70.0,309.9 L70.3,310.2 L70.7,313.4 L71.0,313.1 L71.3,312.8 L71.7,314.6 L72.0,314.4 L72.3,313.2 L72.7,312.4 L73.0,315.3 L73.3,315.4 L73.7,313.1 L74.0,314.9 L74.3,314.2 L74.7,308.7 L75.0,302.8 L75.3,305.7 L75.7,307.6 L76.0,309.0 L76.3,307.4 L76.7,310.4 L77.0,311.2 L77.3,312.4 L77.7,313.8 L78.0,313.7 L78.3,314.8 L78.7,313.9 L79.0,314.0 L79.3,315.5 L79.7,314.0 L80.0,312.0 L80.3,314.1 L80.7,313.9 L81.0,315.9 L81.3,315.1 L81.7,315.9 L82.0,315.3 L82.3,316.6 L82.7,316.4 L83.0,316.8 L83.3,315.9 L83.7,311.5 L84.0,311.0 L84.3,312.7 L84.7,314.0 L85.0,314.0 L85.3,313.5 L85.7,315.6 L86.0,316.1 L86.3,314.9 L86.7,314.2 L87.0,316.5 L87.3,315.4 L87.7,313.3 L88.0,315.2 L88.3,312.5 L88.7,315.4 L89.0,315.1 L89.3,315.7 L89.7,313.1 L90.0,316.2 L90.3,315.2 L90.7,314.8 L91.0,312.8 L91.3,315.2 L91.7,308.7 L92.0,303.5 L92.3,306.0 L92.7,308.2 L93.0,308.3 L93.3,310.4 L93.7,310.0 L94.0,310.0 L94.3,297.3 L94.7,292.0 L95.0,297.3 L95.3,301.0 L95.7,302.0 L96.0,303.7 L96.3,305.8 L96.7,309.1 L97.0,311.2 L97.3,311.3 L97.7,311.1 L98.0,313.2 L98.3,312.4 L98.7,310.9 L99.0,313.2 L99.3,313.8 L99.7,313.0 L100.0,313.0 L100.3,313.3 L100.7,313.0 L101.0,314.3 L101.3,313.1 L101.7,312.0 L102.0,313.9 L102.3,313.2 L102.7,312.1 L103.0,312.0 L103.3,305.7 L103.7,300.7 L104.0,304.0 L104.3,307.1 L104.7,308.4 L105.0,309.8 L105.3,309.9 L105.7,312.2 L106.0,310.1 L106.3,312.3 L106.7,310.2 L107.0,312.7 L107.3,313.5 L107.7,314.1 L108.0,312.3 L108.3,312.2 L108.7,314.0 L109.0,313.4 L109.3,311.7 L109.7,305.8 L110.0,295.5 L110.3,301.8 L110.7,302.1 L111.0,304.0 L111.3,305.8 L111.7,307.7 L112.0,308.6 L112.3,308.5 L112.7,309.0 L113.0,307.2 L113.3,310.0 L113.7,310.2 L114.0,309.7 L114.3,307.5 L114.7,309.5 L115.0,309.5 L115.3,308.0 L115.7,310.4 L116.0,310.1 L116.3,308.2 L116.7,310.3 L117.0,306.1 L117.3,298.4 L117.7,301.7 L118.0,304.0 L118.3,302.1 L118.7,305.2 L119.0,303.9 L119.3,306.9 L119.7,307.9 L120.0,305.7 L120.3,305.5 L120.7,303.8 L121.0,299.2 L121.3,303.7 L121.7,303.8 L122.0,305.7 L122.3,307.7 L122.7,304.2 L123.0,307.3 L123.3,309.4 L123.7,309.3 L124.0,310.0 L124.3,309.9 L124.7,307.8 L125.0,310.7 L125.3,310.6 L125.7,310.5 L126.0,310.9 L126.3,308.1 L126.7,308.1 L127.0,307.1 L127.3,309.9 L127.7,309.6 L128.0,311.2 L128.3,311.1 L128.7,311.9 L129.0,307.9 L129.3,310.5 L129.7,308.5 L130.0,311.2 L130.3,307.0 L130.7,310.1 L131.0,312.2 L131.3,310.8 L131.7,310.6 L132.0,311.2 L132.3,311.2 L132.7,311.4 L133.0,312.3 L133.3,311.2 L133.7,311.8 L134.0,309.7 L134.3,311.7 L134.7,309.6 L135.0,310.8 L135.3,311.8 L135.7,311.6 L136.0,309.1 L136.3,312.0 L136.7,309.8 L137.0,311.5 L137.3,311.6 L137.7,311.9 L138.0,312.7 L138.3,311.4 L138.7,311.1 L139.0,312.6 L139.3,311.5 L139.7,312.5 L140.0,312.0 L140.3,309.5 L140.7,311.2 L141.0,312.9 L141.3,312.5 L141.7,310.5 L142.0,312.5 L142.3,312.4 L142.7,310.7 L143.0,309.6 L143.3,311.1 L143.7,310.9 L144.0,312.3 L144.3,312.0 L144.7,311.5 L145.0,311.0 L145.3,313.2 L145.7,311.7 L146.0,312.6 L146.3,313.1 L146.7,311.3 L147.0,313.2 L147.3,313.0 L147.7,313.3 L148.0,313.8 L148.3,312.5 L148.7,311.5 L149.0,313.8 L149.3,313.5 L149.7,312.7 L150.0,314.6 L150.3,314.4 L150.7,314.0 L151.0,314.0 L151.3,315.0 L151.7,314.2 L152.0,314.6 L152.3,313.4 L152.7,315.0 L153.0,315.4 L153.3,314.1 L153.7,310.6 L154.0,314.3 L154.3,313.0 L154.7,313.9 L155.0,315.6 L155.3,315.7 L155.7,310.9 L156.0,313.0 L156.3,315.9 L156.7,314.5 L157.0,315.4 L157.3,314.2 L157.7,313.8 L158.0,313.2 L158.3,315.2 L158.7,315.6 L159.0,313.8 L159.3,315.3 L159.7,315.3 L160.0,314.2 L160.3,314.3 L160.7,314.8 L161.0,315.3 L161.3,315.5 L161.7,315.6 L162.0,314.0 L162.3,314.1 L162.7,314.3 L163.0,314.7 L163.3,314.3 L163.7,315.4 L164.0,315.3 L164.3,313.0 L164.7,315.7 L165.0,316.0 L165.3,315.1 L165.7,313.8 L166.0,315.9 L166.3,315.2 L166.7,314.8 L167.0,312.3 L167.3,298.1 L167.7,291.3 L168.0,295.7 L168.3,301.9 L168.7,304.8 L169.0,306.7 L169.3,306.8 L169.7,310.9 L170.0,311.6 L170.3,310.7 L170.7,311.8 L171.0,313.7 L171.3,314.3 L171.7,314.6 L172.0,314.8 L172.3,314.0 L172.7,314.2 L173.0,310.3 L173.3,314.2 L173.7,314.7 L174.0,313.1 L174.3,312.7 L174.7,314.0 L175.0,313.5 L175.3,315.4 L175.7,312.9 L176.0,311.7 L176.3,315.4 L176.7,313.4 L177.0,314.2 L177.3,314.0 L177.7,314.2 L178.0,315.6 L178.3,313.5 L178.7,314.6 L179.0,312.6 L179.3,313.6 L179.7,313.5 L180.0,310.5 L180.3,312.8 L180.7,311.5 L181.0,310.1 L181.3,314.8 L181.7,312.0 L182.0,313.5 L182.3,314.0 L182.7,315.6 L183.0,315.3 L183.3,313.9 L183.7,316.1 L184.0,313.0 L184.3,314.4 L184.7,316.1 L185.0,316.4 L185.3,313.8 L185.7,315.2 L186.0,313.7 L186.3,313.5 L186.7,315.2 L187.0,316.6 L187.3,316.4 L187.7,316.7 L188.0,315.9 L188.3,315.6 L188.7,316.7 L189.0,316.0 L189.3,316.6 L189.7,313.6 L190.0,316.5 L190.3,314.3 L190.7,316.5 L191.0,315.7 L191.3,317.1 L191.7,317.5 L192.0,316.4 L192.3,317.0 L192.7,318.0 L193.0,317.0 L193.3,317.3 L193.7,317.2 L194.0,316.7 L194.3,318.5 L194.7,312.8 L195.0,318.2 L195.3,318.2 L195.7,315.9 L196.0,318.5 L196.3,316.6 L196.7,314.2 L197.0,317.2 L197.3,318.5 L197.7,319.1 L198.0,318.0 L198.3,315.8 L198.7,316.6 L199.0,318.8 L199.3,316.7 L199.7,316.7 L200.0,317.5 L200.3,317.5 L200.7,319.1 L201.0,318.5 L201.3,318.6 L201.7,318.0 L202.0,316.3 L202.3,319.2 L202.7,318.5 L203.0,319.0 L203.3,316.9 L203.7,317.7 L204.0,317.8 L204.3,318.0 L204.7,318.8 L205.0,316.6 L205.3,317.3 L205.7,318.7 L206.0,317.0 L206.3,316.8 L206.7,317.6 L207.0,318.0 L207.3,316.7 L207.7,315.6 L208.0,313.9 L208.3,316.9 L208.7,313.5 L209.0,318.9 L209.3,316.8 L209.7,316.9 L210.0,318.9 L210.3,317.6 L210.7,312.3 L211.0,317.2 L211.3,318.4 L211.7,317.9 L212.0,315.8 L212.3,314.9 L212.7,318.6 L213.0,316.2 L213.3,317.8 L213.7,316.7 L214.0,318.0 L214.3,318.2 L214.7,315.4 L215.0,318.9 L215.3,315.8 L215.7,315.4 L216.0,314.7 L216.3,318.7 L216.7,317.6 L217.0,315.2 L217.3,317.2 L217.7,316.2 L218.0,316.2 L218.3,315.1 L218.7,318.7 L219.0,310.7 L219.3,303.3 L219.7,296.1 L220.0,297.9 L220.3,305.1 L220.7,307.2 L221.0,308.4 L221.3,309.4 L221.7,310.9 L222.0,311.4 L222.3,308.1 L222.7,304.8 L223.0,298.4 L223.3,301.4 L223.7,305.1 L224.0,306.4 L224.3,308.8 L224.7,311.2 L225.0,312.5 L225.3,310.2 L225.7,313.8 L226.0,314.3 L226.3,310.5 L226.7,304.0 L227.0,296.8 L227.3,303.9 L227.7,307.3 L228.0,308.9 L228.3,310.7 L228.7,310.6 L229.0,312.2 L229.3,314.2 L229.7,313.2 L230.0,314.2 L230.3,313.3 L230.7,314.6 L231.0,315.5 L231.3,313.7 L231.7,314.0 L232.0,312.5 L232.3,316.4 L232.7,316.7 L233.0,316.4 L233.3,310.8 L233.7,315.3 L234.0,316.3 L234.3,315.7 L234.7,316.5 L235.0,315.3 L235.3,312.1 L235.7,311.6 L236.0,316.7 L236.0,323.8 L235.7,323.1 L235.3,322.9 L235.0,323.0 L234.7,323.4 L234.3,322.3 L234.0,322.4 L233.7,322.5 L233.3,322.2 L233.0,323.0 L232.7,325.8 L232.3,323.0 L232.0,322.5 L231.7,322.0 L231.3,321.7 L231.0,321.9 L230.7,324.7 L230.3,323.0 L230.0,321.0 L229.7,320.3 L229.3,320.6 L229.0,319.7 L228.7,320.7 L228.3,320.5 L228.0,318.1 L227.7,319.2 L227.3,323.0 L227.0,320.6 L226.7,322.7 L226.3,322.5 L226.0,321.5 L225.7,321.1 L225.3,319.4 L225.0,320.8 L224.7,318.0 L224.3,318.0 L224.0,317.5 L223.7,318.1 L223.3,321.3 L223.0,321.3 L222.7,320.4 L222.3,323.8 L222.0,320.5 L221.7,318.4 L221.3,319.2 L221.0,317.8 L220.7,317.1 L220.3,316.6 L220.0,317.2 L219.7,320.0 L219.3,325.5 L219.0,321.9 L218.7,327.1 L218.3,328.0 L218.0,324.6 L217.7,325.5 L217.3,326.8 L217.0,325.5 L216.7,324.9 L216.3,324.6 L216.0,325.2 L215.7,325.0 L215.3,327.1 L215.0,327.3 L214.7,325.7 L214.3,324.9 L214.0,326.3 L213.7,325.2 L213.3,326.4 L213.0,325.7 L212.7,325.5 L212.3,325.8 L212.0,327.4 L211.7,325.1 L211.3,325.2 L211.0,324.5 L210.7,324.3 L210.3,324.8 L210.0,324.8 L209.7,324.9 L209.3,325.0 L209.0,325.0 L208.7,324.4 L208.3,325.9 L208.0,326.0 L207.7,327.3 L207.3,325.6 L207.0,328.5 L206.7,325.8 L206.3,327.8 L206.0,325.0 L205.7,325.8 L205.3,327.4 L205.0,326.9 L204.7,325.6 L204.3,326.4 L204.0,327.2 L203.7,326.5 L203.3,326.2 L203.0,325.4 L202.7,326.2 L202.3,326.9 L202.0,325.4 L201.7,325.2 L201.3,329.1 L201.0,327.0 L200.7,328.5 L200.3,325.8 L200.0,328.2 L199.7,326.2 L199.3,325.7 L199.0,325.7 L198.7,326.3 L198.3,329.8 L198.0,325.6 L197.7,326.9 L197.3,327.1 L197.0,324.7 L196.7,324.8 L196.3,325.4 L196.0,325.2 L195.7,330.2 L195.3,325.1 L195.0,325.2 L194.7,325.4 L194.3,325.3 L194.0,324.6 L193.7,325.3 L193.3,324.1 L193.0,324.8 L192.7,324.0 L192.3,324.3 L192.0,326.2 L191.7,324.1 L191.3,326.4 L191.0,324.9 L190.7,323.7 L190.3,326.7 L190.0,327.5 L189.7,324.2 L189.3,323.7 L189.0,323.7 L188.7,324.0 L188.3,324.9 L188.0,323.3 L187.7,322.8 L187.3,324.2 L187.0,323.3 L186.7,324.1 L186.3,322.7 L186.0,325.3 L185.7,323.3 L185.3,323.1 L185.0,324.6 L184.7,323.5 L184.3,323.0 L184.0,324.4 L183.7,321.7 L183.3,321.8 L183.0,323.8 L182.7,324.8 L182.3,321.6 L182.0,321.9 L181.7,324.0 L181.3,322.4 L181.0,323.3 L180.7,320.8 L180.3,321.2 L180.0,321.9 L179.7,323.3 L179.3,323.9 L179.0,322.8 L178.7,321.8 L178.3,322.3 L178.0,322.2 L177.7,322.0 L177.3,322.8 L177.0,323.3 L176.7,323.6 L176.3,323.1 L176.0,321.7 L175.7,321.3 L175.3,325.2 L175.0,322.5 L174.7,321.4 L174.3,322.9 L174.0,322.0 L173.7,321.0 L173.3,322.8 L173.0,321.8 L172.7,323.7 L172.3,320.9 L172.0,320.4 L171.7,320.7 L171.3,320.9 L171.0,319.6 L170.7,319.4 L170.3,319.9 L170.0,318.3 L169.7,319.0 L169.3,320.4 L169.0,317.0 L168.7,316.1 L168.3,316.5 L168.0,319.8 L167.7,321.6 L167.3,326.2 L167.0,323.4 L166.7,322.6 L166.3,323.6 L166.0,324.5 L165.7,321.8 L165.3,323.3 L165.0,322.7 L164.7,322.4 L164.3,323.3 L164.0,325.9 L163.7,322.1 L163.3,323.0 L163.0,323.8 L162.7,323.7 L162.3,324.8 L162.0,324.8 L161.7,321.9 L161.3,324.7 L161.0,322.4 L160.7,322.9 L160.3,322.2 L160.0,326.4 L159.7,321.8 L159.3,322.5 L159.0,323.3 L158.7,322.7 L158.3,322.5 L158.0,324.5 L157.7,324.8 L157.3,322.4 L157.0,323.9 L156.7,323.0 L156.3,322.3 L156.0,322.6 L155.7,323.0 L155.3,322.5 L155.0,321.4 L154.7,324.5 L154.3,324.4 L154.0,321.5 L153.7,324.4 L153.3,321.0 L153.0,324.8 L152.7,323.7 L152.3,323.4 L152.0,320.8 L151.7,321.1 L151.3,322.6 L151.0,323.5 L150.7,321.8 L150.3,320.4 L150.0,320.4 L149.7,322.0 L149.3,320.9 L149.0,320.3 L148.7,320.4 L148.3,324.8 L148.0,320.1 L147.7,322.0 L147.3,320.2 L147.0,323.0 L146.7,320.8 L146.3,319.6 L146.0,319.5 L145.7,321.0 L145.3,322.9 L145.0,322.3 L144.7,321.5 L144.3,323.5 L144.0,320.7 L143.7,320.0 L143.3,320.8 L143.0,322.4 L142.7,320.8 L142.3,319.2 L142.0,318.9 L141.7,321.7 L141.3,320.0 L141.0,320.6 L140.7,319.4 L140.3,318.4 L140.0,320.9 L139.7,320.8 L139.3,318.6 L139.0,321.4 L138.7,321.4 L138.3,318.7 L138.0,319.1 L137.7,320.2 L137.3,319.1 L137.0,318.2 L136.7,319.6 L136.3,320.6 L136.0,318.5 L135.7,319.1 L135.3,318.9 L135.0,320.1 L134.7,323.8 L134.3,322.0 L134.0,318.4 L133.7,318.1 L133.3,318.1 L133.0,318.5 L132.7,318.0 L132.3,318.7 L132.0,319.8 L131.7,322.5 L131.3,318.4 L131.0,318.0 L130.7,320.5 L130.3,317.6 L130.0,320.6 L129.7,318.3 L129.3,319.1 L129.0,319.7 L128.7,318.3 L128.3,320.0 L128.0,317.3 L127.7,318.1 L127.3,318.2 L127.0,319.7 L126.7,320.6 L126.3,319.2 L126.0,319.4 L125.7,318.6 L125.3,316.7 L125.0,318.8 L124.7,318.1 L124.3,316.1 L124.0,317.7 L123.7,316.3 L123.3,317.3 L123.0,315.2 L122.7,314.4 L122.3,316.1 L122.0,314.0 L121.7,314.9 L121.3,316.6 L121.0,315.0 L120.7,316.8 L120.3,315.9 L120.0,316.5 L119.7,316.6 L119.3,315.6 L119.0,314.0 L118.7,314.6 L118.3,314.3 L118.0,315.6 L117.7,316.6 L117.3,319.1 L117.0,318.2 L116.7,316.6 L116.3,318.2 L116.0,315.9 L115.7,316.9 L115.3,315.8 L115.0,316.3 L114.7,317.7 L114.3,317.8 L114.0,316.2 L113.7,315.7 L113.3,317.3 L113.0,316.9 L112.7,317.8 L112.3,315.4 L112.0,315.7 L111.7,315.9 L111.3,314.7 L111.0,317.6 L110.7,316.2 L110.3,318.7 L110.0,319.9 L109.7,321.3 L109.3,319.7 L109.0,321.3 L108.7,320.8 L108.3,320.2 L108.0,321.2 L107.7,321.0 L107.3,323.3 L107.0,322.3 L106.7,321.1 L106.3,319.6 L106.0,319.1 L105.7,319.6 L105.3,318.8 L105.0,318.2 L104.7,317.3 L104.3,318.4 L104.0,322.2 L103.7,324.8 L103.3,321.9 L103.0,321.2 L102.7,321.8 L102.3,321.1 L102.0,326.2 L101.7,322.3 L101.3,321.5 L101.0,322.1 L100.7,324.2 L100.3,320.8 L100.0,321.1 L99.7,321.0 L99.3,322.1 L99.0,321.2 L98.7,319.8 L98.3,321.5 L98.0,319.4 L97.7,321.0 L97.3,318.9 L97.0,320.4 L96.7,319.5 L96.3,317.6 L96.0,317.9 L95.7,316.3 L95.3,316.3 L95.0,315.9 L94.7,320.5 L94.3,319.8 L94.0,321.9 L93.7,319.3 L93.3,319.4 L93.0,319.3 L92.7,319.5 L92.3,320.2 L92.0,321.9 L91.7,323.6 L91.3,325.1 L91.0,322.4 L90.7,323.5 L90.3,322.9 L90.0,322.9 L89.7,322.8 L89.3,324.5 L89.0,323.7 L88.7,322.4 L88.3,323.1 L88.0,322.2 L87.7,322.2 L87.3,323.7 L87.0,325.9 L86.7,326.0 L86.3,322.1 L86.0,321.8 L85.7,325.2 L85.3,321.6 L85.0,322.6 L84.7,324.8 L84.3,324.5 L84.0,323.6 L83.7,322.4 L83.3,326.2 L83.0,323.2 L82.7,322.4 L82.3,323.1 L82.0,327.1 L81.7,324.4 L81.3,324.0 L81.0,322.6 L80.7,324.6 L80.3,322.8 L80.0,322.3 L79.7,325.7 L79.3,324.6 L79.0,324.3 L78.7,321.4 L78.3,321.8 L78.0,320.7 L77.7,320.6 L77.3,323.8 L77.0,322.2 L76.7,319.8 L76.3,322.9 L76.0,320.0 L75.7,318.5 L75.3,320.9 L75.0,322.6 L74.7,322.0 L74.3,321.6 L74.0,322.5 L73.7,321.3 L73.3,322.1 L73.0,320.8 L72.7,322.3 L72.3,320.9 L72.0,322.0 L71.7,321.6 L71.3,320.7 L71.0,320.7 L70.7,322.1 L70.3,320.4 L70.0,318.6 L69.7,319.0 L69.3,317.2 L69.0,316.5 L68.7,316.0 L68.3,318.8 L68.0,318.4 L67.7,323.3 L67.3,321.8 L67.0,320.7 L66.7,321.3 L66.3,321.1 L66.0,321.4 L65.7,321.7 L65.3,321.5 L65.0,323.1 L64.7,321.9 L64.3,323.0 L64.0,321.8 L63.7,323.1 L63.3,322.3 L63.0,324.4 L62.7,322.6 L62.3,324.0 L62.0,322.6 L61.7,322.2 L61.3,320.9 L61.0,323.6 L60.7,320.3 L60.3,324.9 L60.0,321.6 L59.7,322.3 L59.3,322.9 L59.0,322.6 L58.7,322.9 L58.3,322.5 L58.0,323.5 L57.7,323.7 L57.3,321.8 L57.0,323.7 L56.7,322.6 L56.3,321.8 L56.0,324.8 L55.7,322.6 L55.3,323.3 L55.0,322.6 L54.7,322.1 L54.3,325.7 L54.0,323.0 L53.7,324.8 L53.3,325.3 L53.0,325.2 L52.7,322.2 L52.3,324.4 L52.0,324.2 L51.7,322.4 L51.3,323.2 L51.0,323.4 L50.7,323.6 L50.3,325.8 L50.0,325.3Z" fill="#0000ff" stroke="#0000ff" stroke-width="0.3" stroke-linejoin="round"/>
<path d="M50.0,348.6 L50.3,348.3 L50.7,350.9 L51.0,350.9 L51.3,350.2 L51.7,348.5 L52.0,350.3 L52.3,349.9 L52.7,351.2 L53.0,350.8 L53.3,348.8 L53.7,350.2 L54.0,350.5 L54.3,350.7 L54.7,349.9 L55.0,349.8 L55.3,348.9 L55.7,351.7 L56.0,349.8 L56.3,351.8 L56.7,350.6 L57.0,351.5 L57.3,351.6 L57.7,351.4 L58.0,352.0 L58.3,352.3 L58.7,352.3 L59.0,351.5 L59.3,349.3 L59.7,350.1 L60.0,350.1 L60.3,351.4 L60.7,350.7 L61.0,348.9 L61.3,350.9 L61.7,351.1 L62.0,348.7 L62.3,349.7 L62.7,350.1 L63.0,350.0 L63.3,350.9 L63.7,349.7 L64.0,351.1 L64.3,349.3 L64.7,348.3 L65.0,349.8 L65.3,341.5 L65.7,333.0 L66.0,335.9 L66.3,337.9 L66.7,341.2 L67.0,341.5 L67.3,344.2 L67.7,342.9 L68.0,343.1 L68.3,343.1 L68.7,346.2 L69.0,345.5 L69.3,348.1 L69.7,346.3 L70.0,348.8 L70.3,347.3 L70.7,349.2 L71.0,348.4 L71.3,348.5 L71.7,347.2 L72.0,347.1 L72.3,349.7 L72.7,348.9 L73.0,349.8 L73.3,349.8 L73.7,349.4 L74.0,348.4 L74.3,347.1 L74.7,346.1 L75.0,343.0 L75.3,345.9 L75.7,343.3 L76.0,344.9 L76.3,346.0 L76.7,345.4 L77.0,344.1 L77.3,346.7 L77.7,348.9 L78.0,349.3 L78.3,348.6 L78.7,349.8 L79.0,346.8 L79.3,347.7 L79.7,348.6 L80.0,350.1 L80.3,350.1 L80.7,348.7 L81.0,345.6 L81.3,347.0 L81.7,348.4 L82.0,347.4 L82.3,349.0 L82.7,346.6 L83.0,348.6 L83.3,346.2 L83.7,346.0 L84.0,348.0 L84.3,346.8 L84.7,347.3 L85.0,347.9 L85.3,349.8 L85.7,348.5 L86.0,348.2 L86.3,349.0 L86.7,350.0 L87.0,349.2 L87.3,346.8 L87.7,349.9 L88.0,349.0 L88.3,348.4 L88.7,349.3 L89.0,350.5 L89.3,350.4 L89.7,348.7 L90.0,348.9 L90.3,347.8 L90.7,349.8 L91.0,350.5 L91.3,350.1 L91.7,348.9 L92.0,351.0 L92.3,350.6 L92.7,348.8 L93.0,349.1 L93.3,348.6 L93.7,350.5 L94.0,349.8 L94.3,351.1 L94.7,346.9 L95.0,348.3 L95.3,347.0 L95.7,349.2 L96.0,349.2 L96.3,348.8 L96.7,349.2 L97.0,349.8 L97.3,350.7 L97.7,350.7 L98.0,348.9 L98.3,351.6 L98.7,351.1 L99.0,351.6 L99.3,351.5 L99.7,348.6 L100.0,351.2 L100.3,350.6 L100.7,348.5 L101.0,349.9 L101.3,348.9 L101.7,348.9 L102.0,348.5 L102.3,349.2 L102.7,350.8 L103.0,349.5 L103.3,349.2 L103.7,348.4 L104.0,349.2 L104.3,349.6 L104.7,350.7 L105.0,347.5 L105.3,350.5 L105.7,350.6 L106.0,349.1 L106.3,350.8 L106.7,347.4 L107.0,346.9 L107.3,349.8 L107.7,348.9 L108.0,348.9 L108.3,346.3 L108.7,349.5 L109.0,348.2 L109.3,348.0 L109.7,350.5 L110.0,350.7 L110.3,350.1 L110.7,350.9 L111.0,350.7 L111.3,351.1 L111.7,347.8 L112.0,350.2 L112.3,349.0 L112.7,350.1 L113.0,350.6 L113.3,351.0 L113.7,349.8 L114.0,346.1 L114.3,349.5 L114.7,346.9 L115.0,347.8 L115.3,347.2 L115.7,346.3 L116.0,346.2 L116.3,350.1 L116.7,350.1 L117.0,348.6 L117.3,348.8 L117.7,349.1 L118.0,350.0 L118.3,349.2 L118.7,347.8 L119.0,345.4 L119.3,348.2 L119.7,348.5 L120.0,349.1 L120.3,346.9 L120.7,349.1 L121.0,344.6 L121.3,345.0 L121.7,348.9 L122.0,346.8 L122.3,346.1 L122.7,347.9 L123.0,346.1 L123.3,348.8 L123.7,348.8 L124.0,346.7 L124.3,349.0 L124.7,347.6 L125.0,346.2 L125.3,346.3 L125.7,349.5 L126.0,348.5 L126.3,348.2 L126.7,348.7 L127.0,349.5 L127.3,344.3 L127.7,348.9 L128.0,347.0 L128.3,349.2 L128.7,349.7 L129.0,350.6 L129.3,350.5 L129.7,350.7 L130.0,349.3 L130.3,350.9 L130.7,350.7 L131.0,351.1 L131.3,350.3 L131.7,345.5 L132.0,340.6 L132.3,340.7 L132.7,341.1 L133.0,344.5 L133.3,343.7 L133.7,346.5 L134.0,348.2 L134.3,348.5 L134.7,348.3 L135.0,348.5 L135.3,346.3 L135.7,348.4 L136.0,348.9 L136.3,348.6 L136.7,350.6 L137.0,350.4 L137.3,348.2 L137.7,347.8 L138.0,349.6 L138.3,350.4 L138.7,350.4 L139.0,350.3 L139.3,348.4 L139.7,350.0 L140.0,350.6 L140.3,348.9 L140.7,345.8 L141.0,346.5 L141.3,351.1 L141.7,349.2 L142.0,348.1 L142.3,350.0 L142.7,350.5 L143.0,350.5 L143.3,350.5 L143.7,349.7 L144.0,348.3 L144.3,351.3 L144.7,351.0 L145.0,350.0 L145.3,350.4 L145.7,351.7 L146.0,350.0 L146.3,351.9 L146.7,349.2 L147.0,351.7 L147.3,351.5 L147.7,351.7 L148.0,350.9 L148.3,351.3 L148.7,351.2 L149.0,351.1 L149.3,351.6 L149.7,350.4 L150.0,347.5 L150.3,348.6 L150.7,349.5 L151.0,348.2 L151.3,349.5 L151.7,349.6 L152.0,350.5 L152.3,350.6 L152.7,351.0 L153.0,348.9 L153.3,350.7 L153.7,350.8 L154.0,349.3 L154.3,349.5 L154.7,350.0 L155.0,348.4 L155.3,349.9 L155.7,349.5 L156.0,347.2 L156.3,346.9 L156.7,349.5 L157.0,349.1 L157.3,348.9 L157.7,349.1 L158.0,349.3 L158.3,348.0 L158.7,347.2 L159.0,349.0 L159.3,348.9 L159.7,349.1 L160.0,348.9 L160.3,349.0 L160.7,347.9 L161.0,346.5 L161.3,348.0 L161.7,349.4 L162.0,344.4 L162.3,348.5 L162.7,347.6 L163.0,349.4 L163.3,349.4 L163.7,348.5 L164.0,343.2 L164.3,345.2 L164.7,349.9 L165.0,348.0 L165.3,349.6 L165.7,349.8 L166.0,346.9 L166.3,350.3 L166.7,349.9 L167.0,350.0 L167.3,350.1 L167.7,348.3 L168.0,350.5 L168.3,350.4 L168.7,349.3 L169.0,350.3 L169.3,347.5 L169.7,346.7 L170.0,346.0 L170.3,348.7 L170.7,344.9 L171.0,348.9 L171.3,349.5 L171.7,347.5 L172.0,348.2 L172.3,349.1 L172.7,349.1 L173.0,348.2 L173.3,345.5 L173.7,349.6 L174.0,344.6 L174.3,350.0 L174.7,350.2 L175.0,346.6 L175.3,350.1 L175.7,349.6 L176.0,349.1 L176.3,350.1 L176.7,350.2 L177.0,348.4 L177.3,350.1 L177.7,349.8 L178.0,348.8 L178.3,349.2 L178.7,350.4 L179.0,349.9 L179.3,350.4 L179.7,350.4 L180.0,347.6 L180.3,350.7 L180.7,351.2 L181.0,349.0 L181.3,350.9 L181.7,351.3 L182.0,350.4 L182.3,351.1 L182.7,348.9 L183.0,349.9 L183.3,351.7 L183.7,351.2 L184.0,352.0 L184.3,351.9 L184.7,349.7 L185.0,345.9 L185.3,352.2 L185.7,351.5 L186.0,351.4 L186.3,351.4 L186.7,350.2 L187.0,345.0 L187.3,333.9 L187.7,337.6 L188.0,340.1 L188.3,340.5 L188.7,344.1 L189.0,344.0 L189.3,345.5 L189.7,344.9 L190.0,347.8 L190.3,346.2 L190.7,346.1 L191.0,347.6 L191.3,348.5 L191.7,349.7 L192.0,349.1 L192.3,348.4 L192.7,347.9 L193.0,347.9 L193.3,350.3 L193.7,348.0 L194.0,350.2 L194.3,349.2 L194.7,348.8 L195.0,348.7 L195.3,350.0 L195.7,349.5 L196.0,345.8 L196.3,350.1 L196.7,349.2 L197.0,348.9 L197.3,345.4 L197.7,344.3 L198.0,343.6 L198.3,346.8 L198.7,347.5 L199.0,347.8 L199.3,348.4 L199.7,347.1 L200.0,348.4 L200.3,348.6 L200.7,348.9 L201.0,346.2 L201.3,350.0 L201.7,350.2 L202.0,347.8 L202.3,350.0 L202.7,349.9 L203.0,347.4 L203.3,350.3 L203.7,349.7 L204.0,347.5 L204.3,348.8 L204.7,346.8 L205.0,349.1 L205.3,349.1 L205.7,349.6 L206.0,346.9 L206.3,349.6 L206.7,349.7 L207.0,349.8 L207.3,349.1 L207.7,350.0 L208.0,348.1 L208.3,348.8 L208.7,348.0 L209.0,349.8 L209.3,349.6 L209.7,349.5 L210.0,347.4 L210.3,348.4 L210.7,348.9 L211.0,348.3 L211.3,344.2 L211.7,336.7 L212.0,339.4 L212.3,340.4 L212.7,344.4 L213.0,345.3 L213.3,344.5 L213.7,346.8 L214.0,346.4 L214.3,347.9 L214.7,346.1 L215.0,347.7 L215.3,347.4 L215.7,347.6 L216.0,347.4 L216.3,349.6 L216.7,348.6 L217.0,344.4 L217.3,349.9 L217.7,346.3 L218.0,347.8 L218.3,347.4 L218.7,346.9 L219.0,348.7 L219.3,349.1 L219.7,350.1 L220.0,350.8 L220.3,351.1 L220.7,348.6 L221.0,351.4 L221.3,351.1 L221.7,351.5 L222.0,350.1 L222.3,350.7 L222.7,349.8 L223.0,351.1 L223.3,349.3 L223.7,351.1 L224.0,347.0 L224.3,350.5 L224.7,347.5 L225.0,349.3 L225.3,350.6 L225.7,349.4 L226.0,351.3 L226.3,350.6 L226.7,351.6 L227.0,350.4 L227.3,349.7 L227.7,348.4 L228.0,351.7 L228.3,348.9 L228.7,350.8 L229.0,350.8 L229.3,350.1 L229.7,346.3 L230.0,351.4 L230.3,350.0 L230.7,349.6 L231.0,349.5 L231.3,350.8 L231.7,348.4 L232.0,350.8 L232.3,347.7 L232.7,348.9 L233.0,351.2 L233.3,350.7 L233.7,351.0 L234.0,349.4 L234.3,349.0 L234.7,351.1 L235.0,349.3 L235.3,349.6 L235.7,348.4 L236.0,350.1 L236.0,356.9 L235.7,358.4 L235.3,359.0 L235.0,357.8 L234.7,356.9 L234.3,357.0 L234.0,360.8 L233.7,357.7 L233.3,356.7 L233.0,357.6 L232.7,357.6 L232.3,356.8 L232.0,358.0 L231.7,357.5 L231.3,357.5 L231.0,356.8 L230.7,360.1 L230.3,361.1 L230.0,358.1 L229.7,358.7 L229.3,357.1 L229.0,358.0 L228.7,359.4 L228.3,360.1 L228.0,359.3 L227.7,359.4 L227.3,358.3 L227.0,357.5 L226.7,360.5 L226.3,358.3 L226.0,360.4 L225.7,358.7 L225.3,358.7 L225.0,357.9 L224.7,359.9 L224.3,360.0 L224.0,359.0 L223.7,358.9 L223.3,358.3 L223.0,359.3 L222.7,358.1 L222.3,358.7 L222.0,357.3 L221.7,359.6 L221.3,357.6 L221.0,358.7 L220.7,361.3 L220.3,356.9 L220.0,360.1 L219.7,356.4 L219.3,358.7 L219.0,357.0 L218.7,358.4 L218.3,356.0 L218.0,355.9 L217.7,359.9 L217.3,357.3 L217.0,356.5 L216.7,355.5 L216.3,356.3 L216.0,357.5 L215.7,354.9 L215.3,356.6 L215.0,355.0 L214.7,355.6 L214.3,356.2 L214.0,356.7 L213.7,354.9 L213.3,354.2 L213.0,354.0 L212.7,353.6 L212.3,352.5 L212.0,355.4 L211.7,358.0 L211.3,355.2 L211.0,355.3 L210.7,356.9 L210.3,355.4 L210.0,355.9 L209.7,355.7 L209.3,357.1 L209.0,356.2 L208.7,360.1 L208.3,355.6 L208.0,356.0 L207.7,356.5 L207.3,356.2 L207.0,357.2 L206.7,356.5 L206.3,357.3 L206.0,356.8 L205.7,356.6 L205.3,357.0 L205.0,357.3 L204.7,356.3 L204.3,359.3 L204.0,358.9 L203.7,358.8 L203.3,358.3 L203.0,359.2 L202.7,361.4 L202.3,358.0 L202.0,356.5 L201.7,357.3 L201.3,358.4 L201.0,356.9 L200.7,357.7 L200.3,355.2 L200.0,355.1 L199.7,355.9 L199.3,356.6 L199.0,358.1 L198.7,360.2 L198.3,355.5 L198.0,356.3 L197.7,356.8 L197.3,355.9 L197.0,356.1 L196.7,358.6 L196.3,358.1 L196.0,357.9 L195.7,357.0 L195.3,358.1 L195.0,358.2 L194.7,358.5 L194.3,357.9 L194.0,358.2 L193.7,359.3 L193.3,357.2 L193.0,356.4 L192.7,356.5 L192.3,356.1 L192.0,356.4 L191.7,356.6 L191.3,357.4 L191.0,355.9 L190.7,356.9 L190.3,355.4 L190.0,356.7 L189.7,355.4 L189.3,355.8 L189.0,354.2 L188.7,355.5 L188.3,353.4 L188.0,354.9 L187.7,355.7 L187.3,360.0 L187.0,360.8 L186.7,358.9 L186.3,359.7 L186.0,358.8 L185.7,358.6 L185.3,357.9 L185.0,358.4 L184.7,358.2 L184.3,358.0 L184.0,357.7 L183.7,357.8 L183.3,358.1 L183.0,358.4 L182.7,358.9 L182.3,360.1 L182.0,359.5 L181.7,359.1 L181.3,358.5 L181.0,357.5 L180.7,357.5 L180.3,357.0 L180.0,356.5 L179.7,358.3 L179.3,356.3 L179.0,357.8 L178.7,356.6 L178.3,356.0 L178.0,360.0 L177.7,358.1 L177.3,358.1 L177.0,360.1 L176.7,356.7 L176.3,356.4 L176.0,356.2 L175.7,357.2 L175.3,357.0 L175.0,357.6 L174.7,356.8 L174.3,358.2 L174.0,357.7 L173.7,356.0 L173.3,357.7 L173.0,358.4 L172.7,356.1 L172.3,357.4 L172.0,356.8 L171.7,357.6 L171.3,356.6 L171.0,356.9 L170.7,358.6 L170.3,357.7 L170.0,356.3 L169.7,358.2 L169.3,358.5 L169.0,356.8 L168.7,360.4 L168.3,357.0 L168.0,357.1 L167.7,356.0 L167.3,356.4 L167.0,356.0 L166.7,356.0 L166.3,356.4 L166.0,356.9 L165.7,357.2 L165.3,356.5 L165.0,356.7 L164.7,356.2 L164.3,355.9 L164.0,356.7 L163.7,357.9 L163.3,355.3 L163.0,355.3 L162.7,356.6 L162.3,355.6 L162.0,356.0 L161.7,356.8 L161.3,355.6 L161.0,356.7 L160.7,356.6 L160.3,355.8 L160.0,357.1 L159.7,358.2 L159.3,355.6 L159.0,357.1 L158.7,355.7 L158.3,355.4 L158.0,356.5 L157.7,357.8 L157.3,356.4 L157.0,356.0 L156.7,356.4 L156.3,357.4 L156.0,356.2 L155.7,360.5 L155.3,356.6 L155.0,356.6 L154.7,360.7 L154.3,358.5 L154.0,357.4 L153.7,357.7 L153.3,357.7 L153.0,357.1 L152.7,358.6 L152.3,358.8 L152.0,358.4 L151.7,357.2 L151.3,360.5 L151.0,357.1 L150.7,358.5 L150.3,358.3 L150.0,358.1 L149.7,358.3 L149.3,359.5 L149.0,359.7 L148.7,358.5 L148.3,359.7 L148.0,357.6 L147.7,360.2 L147.3,358.5 L147.0,359.1 L146.7,360.9 L146.3,357.4 L146.0,358.5 L145.7,359.5 L145.3,359.9 L145.0,359.0 L144.7,359.5 L144.3,358.6 L144.0,357.8 L143.7,358.3 L143.3,357.9 L143.0,357.9 L142.7,357.0 L142.3,358.0 L142.0,359.3 L141.7,358.6 L141.3,361.2 L141.0,358.4 L140.7,360.4 L140.3,358.2 L140.0,359.3 L139.7,360.4 L139.3,359.3 L139.0,358.9 L138.7,357.2 L138.3,357.2 L138.0,357.7 L137.7,356.7 L137.3,358.0 L137.0,356.5 L136.7,356.4 L136.3,356.5 L136.0,356.2 L135.7,357.2 L135.3,358.1 L135.0,356.0 L134.7,358.7 L134.3,356.8 L134.0,355.0 L133.7,354.6 L133.3,354.5 L133.0,357.2 L132.7,356.2 L132.3,359.6 L132.0,362.0 L131.7,358.6 L131.3,360.5 L131.0,357.2 L130.7,357.4 L130.3,356.8 L130.0,357.7 L129.7,356.7 L129.3,356.4 L129.0,356.5 L128.7,358.7 L128.3,358.2 L128.0,358.1 L127.7,355.9 L127.3,359.2 L127.0,356.2 L126.7,355.5 L126.3,355.8 L126.0,359.7 L125.7,355.7 L125.3,357.3 L125.0,356.8 L124.7,355.6 L124.3,359.4 L124.0,355.8 L123.7,358.5 L123.3,357.0 L123.0,355.1 L122.7,356.0 L122.3,355.3 L122.0,357.8 L121.7,356.9 L121.3,356.4 L121.0,355.4 L120.7,358.1 L120.3,355.1 L120.0,356.6 L119.7,355.9 L119.3,356.4 L119.0,356.8 L118.7,355.9 L118.3,356.6 L118.0,355.8 L117.7,357.8 L117.3,356.4 L117.0,356.0 L116.7,356.2 L116.3,356.9 L116.0,356.1 L115.7,357.9 L115.3,360.5 L115.0,357.1 L114.7,357.5 L114.3,356.8 L114.0,356.4 L113.7,358.1 L113.3,356.6 L113.0,360.1 L112.7,361.6 L112.3,358.0 L112.0,357.9 L111.7,356.7 L111.3,357.9 L111.0,357.8 L110.7,359.3 L110.3,356.7 L110.0,357.6 L109.7,357.8 L109.3,357.2 L109.0,360.3 L108.7,361.0 L108.3,358.1 L108.0,359.4 L107.7,356.8 L107.3,356.8 L107.0,358.3 L106.7,356.5 L106.3,357.2 L106.0,357.0 L105.7,356.4 L105.3,356.7 L105.0,356.9 L104.7,358.6 L104.3,357.5 L104.0,356.8 L103.7,357.7 L103.3,356.9 L103.0,358.0 L102.7,361.0 L102.3,358.1 L102.0,358.4 L101.7,359.6 L101.3,359.9 L101.0,358.7 L100.7,357.9 L100.3,357.9 L100.0,358.5 L99.7,359.0 L99.3,360.6 L99.0,359.4 L98.7,357.9 L98.3,359.3 L98.0,359.9 L97.7,360.6 L97.3,357.9 L97.0,357.3 L96.7,357.1 L96.3,359.9 L96.0,358.9 L95.7,358.4 L95.3,357.5 L95.0,359.6 L94.7,360.0 L94.3,358.1 L94.0,357.9 L93.7,360.7 L93.3,361.1 L93.0,357.6 L92.7,357.6 L92.3,357.4 L92.0,361.3 L91.7,359.8 L91.3,359.4 L91.0,358.2 L90.7,358.5 L90.3,357.0 L90.0,358.2 L89.7,358.5 L89.3,357.4 L89.0,358.8 L88.7,356.6 L88.3,358.6 L88.0,358.5 L87.7,355.9 L87.3,357.8 L87.0,356.7 L86.7,357.0 L86.3,356.4 L86.0,357.0 L85.7,357.1 L85.3,355.8 L85.0,355.8 L84.7,356.8 L84.3,357.0 L84.0,356.3 L83.7,356.9 L83.3,355.9 L83.0,360.4 L82.7,356.4 L82.3,355.6 L82.0,359.3 L81.7,356.8 L81.3,357.8 L81.0,355.8 L80.7,355.6 L80.3,355.6 L80.0,358.6 L79.7,360.6 L79.3,355.6 L79.0,356.5 L78.7,355.5 L78.3,356.8 L78.0,356.9 L77.7,355.4 L77.3,357.6 L77.0,357.3 L76.7,356.9 L76.3,355.5 L76.0,355.5 L75.7,356.0 L75.3,356.9 L75.0,356.2 L74.7,357.7 L74.3,359.3 L74.0,357.8 L73.7,356.6 L73.3,356.5 L73.0,356.4 L72.7,355.7 L72.3,357.0 L72.0,357.4 L71.7,355.7 L71.3,356.0 L71.0,357.6 L70.7,355.4 L70.3,354.7 L70.0,358.8 L69.7,355.4 L69.3,355.5 L69.0,354.1 L68.7,354.6 L68.3,353.0 L68.0,353.6 L67.7,353.0 L67.3,353.4 L67.0,351.9 L66.7,353.6 L66.3,352.4 L66.0,354.1 L65.7,356.2 L65.3,357.3 L65.0,360.8 L64.7,356.6 L64.3,356.8 L64.0,358.5 L63.7,358.3 L63.3,358.0 L63.0,357.5 L62.7,359.1 L62.3,357.8 L62.0,357.6 L61.7,359.8 L61.3,357.8 L61.0,361.0 L60.7,357.7 L60.3,358.1 L60.0,357.8 L59.7,358.2 L59.3,358.1 L59.0,357.9 L58.7,358.7 L58.3,358.2 L58.0,358.5 L57.7,357.7 L57.3,361.2 L57.0,359.8 L56.7,359.4 L56.3,358.4 L56.0,359.1 L55.7,358.4 L55.3,360.0 L55.0,357.5 L54.7,357.6 L54.3,357.9 L54.0,358.4 L53.7,359.6 L53.3,357.9 L53.0,357.8 L52.7,360.5 L52.3,357.9 L52.0,357.7 L51.7,358.8 L51.3,359.5 L51.0,359.5 L50.7,358.1 L50.3,360.4 L50.0,358.4Z" fill="#ff0000" stroke="#ff0000" stroke-width="0.3" stroke-linejoin="round"/>
<text x="43.2" y="249.0" font-size="8.48" text-anchor="end" fill="#000" textLength="28.1" lengthAdjust="spacingAndGlyphs">CASK<tspan font-size="4.66" dy="-2.76">+/+</tspan></text>
<text x="43.2" y="284.0" font-size="8.48" text-anchor="end" fill="#000" textLength="28.5" lengthAdjust="spacingAndGlyphs">CASK<tspan font-size="4.66" dy="-2.76">Y/+</tspan></text>
<text x="43.8" y="322.0" font-size="8.48" text-anchor="end" fill="#000" textLength="42.1" lengthAdjust="spacingAndGlyphs">CASK<tspan font-size="4.66" dy="-2.76">+/-</tspan><tspan dy="2.76">-WT</tspan></text>
<text x="43.8" y="356.6" font-size="8.48" text-anchor="end" fill="#000" textLength="41.3" lengthAdjust="spacingAndGlyphs">CASK<tspan font-size="4.66" dy="-2.76">+/-</tspan><tspan dy="2.76">-KO</tspan></text>
<path d="M209.9,373.3 V382.8 H172.6" stroke="#000" stroke-width="1.2" fill="none" stroke-linejoin="miter" stroke-linecap="butt"/>
<text x="215.3" y="379.9" font-size="8.36" fill="#000" textLength="19.3" lengthAdjust="spacingAndGlyphs">10 pA</text>
<text x="190.9" y="390.8" font-size="7.91" text-anchor="middle" fill="#000" textLength="9.3" lengthAdjust="spacingAndGlyphs">1 s</text>
<line x1="351.6" y1="95.6" x2="351.6" y2="99.6" stroke="#000" stroke-width="1.6" stroke-linecap="butt"/>
<line x1="344.4" y1="96.2" x2="358.9" y2="96.2" stroke="#000" stroke-width="1.6" stroke-linecap="butt"/>
<rect x="339.1" y="99.4" width="25.1" height="49.2" fill="#000000" stroke="#000" stroke-width="1.6"/>
<line x1="351.6" y1="148.6" x2="351.6" y2="154.0" stroke="#000" stroke-width="1.6" stroke-linecap="butt"/>
<text x="351.6" y="143.8" font-size="11.00" text-anchor="middle" fill="#fff">17</text>
<line x1="382.9" y1="98.2" x2="382.9" y2="102.2" stroke="#000" stroke-width="1.6" stroke-linecap="butt"/>
<line x1="376.0" y1="98.8" x2="389.8" y2="98.8" stroke="#000" stroke-width="1.6" stroke-linecap="butt"/>
<rect x="371.0" y="102.0" width="23.8" height="46.6" fill="#808080" stroke="#000" stroke-width="1.6"/>
<line x1="382.9" y1="148.6" x2="382.9" y2="154.0" stroke="#000" stroke-width="1.6" stroke-linecap="butt"/>
<text x="382.9" y="143.8" font-size="11.00" text-anchor="middle" fill="#fff">16</text>
<line x1="414.1" y1="98.4" x2="414.1" y2="104.3" stroke="#000" stroke-width="1.6" stroke-linecap="butt"/>
<line x1="407.2" y1="99.0" x2="421.0" y2="99.0" stroke="#000" stroke-width="1.6" stroke-linecap="butt"/>
<rect x="402.2" y="104.1" width="23.8" height="44.5" fill="#0000ff" stroke="#000" stroke-width="1.6"/>
<line x1="414.1" y1="148.6" x2="414.1" y2="154.0" stroke="#000" stroke-width="1.6" stroke-linecap="butt"/>
<text x="414.1" y="143.8" font-size="11.00" text-anchor="middle" fill="#fff">8</text>
<line x1="445.3" y1="42.5" x2="445.3" y2="50.2" stroke="#000" stroke-width="1.6" stroke-linecap="butt"/>
<line x1="438.4" y1="43.1" x2="452.2" y2="43.1" stroke="#000" stroke-width="1.6" stroke-linecap="butt"/>
<rect x="433.4" y="50.0" width="23.8" height="98.6" fill="#ff0000" stroke="#000" stroke-width="1.6"/>
<line x1="445.3" y1="148.6" x2="445.3" y2="154.0" stroke="#000" stroke-width="1.6" stroke-linecap="butt"/>
<text x="445.3" y="143.8" font-size="11.00" text-anchor="middle" fill="#fff">8</text>
<line x1="333.2" y1="36.0" x2="333.2" y2="149.4" stroke="#000" stroke-width="1.6" stroke-linecap="butt"/>
<line x1="327.2" y1="148.6" x2="463.6" y2="148.6" stroke="#000" stroke-width="1.6" stroke-linecap="butt"/>
<line x1="327.2" y1="36.8" x2="333.2" y2="36.8" stroke="#000" stroke-width="1.6" stroke-linecap="butt"/>
<text x="326.3" y="40.0" font-size="9.94" text-anchor="end" fill="#000" textLength="4.9" lengthAdjust="spacingAndGlyphs">3</text>
<line x1="327.2" y1="74.1" x2="333.2" y2="74.1" stroke="#000" stroke-width="1.6" stroke-linecap="butt"/>
<text x="326.3" y="77.3" font-size="9.94" text-anchor="end" fill="#000" textLength="4.9" lengthAdjust="spacingAndGlyphs">2</text>
<line x1="327.2" y1="111.4" x2="333.2" y2="111.4" stroke="#000" stroke-width="1.6" stroke-linecap="butt"/>
<text x="326.3" y="114.6" font-size="9.94" text-anchor="end" fill="#000" textLength="4.9" lengthAdjust="spacingAndGlyphs">1</text>
<line x1="327.2" y1="148.6" x2="333.2" y2="148.6" stroke="#000" stroke-width="1.6" stroke-linecap="butt"/>
<text x="326.3" y="151.8" font-size="9.94" text-anchor="end" fill="#000" textLength="4.9" lengthAdjust="spacingAndGlyphs">0</text>
<line x1="352.0" y1="37.2" x2="416.3" y2="37.2" stroke="#000" stroke-width="1.5" stroke-linecap="butt"/>
<path d="M384.2,37.2 V31.4 H444.6 V36.8" stroke="#000" stroke-width="1.5" fill="none" stroke-linejoin="miter" stroke-linecap="butt"/>
<text x="414.9" y="31.4" font-size="12.50" text-anchor="middle" font-weight="bold" fill="#000">***</text>
<text transform="translate(318.6,96.5) rotate(-90)" font-size="11.30" text-anchor="middle" fill="#000" textLength="119.0" lengthAdjust="spacingAndGlyphs">Frequency of mEPSC (Hz)</text>
<text x="351.6" y="162.0" font-size="7.23" text-anchor="middle" fill="#000" textLength="23.5" lengthAdjust="spacingAndGlyphs">CASK<tspan font-size="4.75" dy="-2.60">+/+</tspan></text>
<text x="382.9" y="162.0" font-size="7.23" text-anchor="middle" fill="#000" textLength="23.9" lengthAdjust="spacingAndGlyphs">CASK<tspan font-size="4.75" dy="-2.60">Y/+</tspan></text>
<text x="414.1" y="162.0" font-size="7.23" text-anchor="middle" fill="#000" textLength="22.4" lengthAdjust="spacingAndGlyphs">CASK<tspan font-size="4.75" dy="-2.60">+/-</tspan></text>
<text x="414.1" y="170.0" font-size="7.23" text-anchor="middle" fill="#000" textLength="10.0" lengthAdjust="spacingAndGlyphs">WT</text>
<text x="445.3" y="162.0" font-size="7.23" text-anchor="middle" fill="#000" textLength="22.4" lengthAdjust="spacingAndGlyphs">CASK<tspan font-size="4.75" dy="-2.60">+/-</tspan></text>
<text x="445.3" y="170.0" font-size="7.23" text-anchor="middle" fill="#000" textLength="9.2" lengthAdjust="spacingAndGlyphs">KO</text>
<line x1="571.6" y1="69.2" x2="571.6" y2="74.1" stroke="#000" stroke-width="1.6" stroke-linecap="butt"/>
<line x1="564.4" y1="69.8" x2="578.8" y2="69.8" stroke="#000" stroke-width="1.6" stroke-linecap="butt"/>
<rect x="559.1" y="73.9" width="25.0" height="74.2" fill="#000000" stroke="#000" stroke-width="1.6"/>
<line x1="571.6" y1="148.1" x2="571.6" y2="153.5" stroke="#000" stroke-width="1.6" stroke-linecap="butt"/>
<text x="571.6" y="142.9" font-size="11.00" text-anchor="middle" fill="#fff">17</text>
<line x1="602.9" y1="70.9" x2="602.9" y2="76.1" stroke="#000" stroke-width="1.6" stroke-linecap="butt"/>
<line x1="595.7" y1="71.5" x2="610.0" y2="71.5" stroke="#000" stroke-width="1.6" stroke-linecap="butt"/>
<rect x="590.4" y="75.9" width="24.9" height="72.2" fill="#808080" stroke="#000" stroke-width="1.6"/>
<line x1="602.9" y1="148.1" x2="602.9" y2="153.5" stroke="#000" stroke-width="1.6" stroke-linecap="butt"/>
<text x="602.9" y="142.9" font-size="11.00" text-anchor="middle" fill="#fff">16</text>
<line x1="634.3" y1="69.7" x2="634.3" y2="75.5" stroke="#000" stroke-width="1.6" stroke-linecap="butt"/>
<line x1="627.1" y1="70.3" x2="641.5" y2="70.3" stroke="#000" stroke-width="1.6" stroke-linecap="butt"/>
<rect x="621.8" y="75.3" width="25.0" height="72.8" fill="#0000ff" stroke="#000" stroke-width="1.6"/>
<line x1="634.3" y1="148.1" x2="634.3" y2="153.5" stroke="#000" stroke-width="1.6" stroke-linecap="butt"/>
<text x="634.3" y="142.9" font-size="11.00" text-anchor="middle" fill="#fff">8</text>
<line x1="665.8" y1="69.2" x2="665.8" y2="75.9" stroke="#000" stroke-width="1.6" stroke-linecap="butt"/>
<line x1="658.5" y1="69.8" x2="673.1" y2="69.8" stroke="#000" stroke-width="1.6" stroke-linecap="butt"/>
<rect x="653.1" y="75.7" width="25.4" height="72.4" fill="#ff0000" stroke="#000" stroke-width="1.6"/>
<line x1="665.8" y1="148.1" x2="665.8" y2="153.5" stroke="#000" stroke-width="1.6" stroke-linecap="butt"/>
<text x="665.8" y="142.9" font-size="11.00" text-anchor="middle" fill="#fff">8</text>
<line x1="553.2" y1="34.1" x2="553.2" y2="148.9" stroke="#000" stroke-width="1.6" stroke-linecap="butt"/>
<line x1="547.7" y1="148.1" x2="685.0" y2="148.1" stroke="#000" stroke-width="1.6" stroke-linecap="butt"/>
<line x1="547.7" y1="34.9" x2="553.2" y2="34.9" stroke="#000" stroke-width="1.6" stroke-linecap="butt"/>
<text x="546.8" y="37.6" font-size="8.59" text-anchor="end" fill="#000" textLength="8.5" lengthAdjust="spacingAndGlyphs">20</text>
<line x1="547.7" y1="91.5" x2="553.2" y2="91.5" stroke="#000" stroke-width="1.6" stroke-linecap="butt"/>
<text x="546.8" y="94.2" font-size="8.59" text-anchor="end" fill="#000" textLength="8.5" lengthAdjust="spacingAndGlyphs">10</text>
<line x1="547.7" y1="148.1" x2="553.2" y2="148.1" stroke="#000" stroke-width="1.6" stroke-linecap="butt"/>
<text x="546.8" y="150.8" font-size="8.59" text-anchor="end" fill="#000" textLength="4.2" lengthAdjust="spacingAndGlyphs">0</text>
<text x="619.4" y="52.3" font-size="10.80" text-anchor="middle" fill="#000">N.S.</text>
<text transform="translate(533.2,95.8) rotate(-90)" font-size="11.30" text-anchor="middle" fill="#000" textLength="117.0" lengthAdjust="spacingAndGlyphs">Amplitude of mEPSC (pA)</text>
<text x="571.6" y="161.8" font-size="7.23" text-anchor="middle" fill="#000" textLength="23.5" lengthAdjust="spacingAndGlyphs">CASK<tspan font-size="4.75" dy="-2.60">+/+</tspan></text>
<text x="602.9" y="161.8" font-size="7.23" text-anchor="middle" fill="#000" textLength="23.9" lengthAdjust="spacingAndGlyphs">CASK<tspan font-size="4.75" dy="-2.60">Y/+</tspan></text>
<text x="634.3" y="161.8" font-size="7.23" text-anchor="middle" fill="#000" textLength="22.4" lengthAdjust="spacingAndGlyphs">CASK<tspan font-size="4.75" dy="-2.60">+/-</tspan></text>
<text x="634.3" y="170.4" font-size="7.23" text-anchor="middle" fill="#000" textLength="10.0" lengthAdjust="spacingAndGlyphs">WT</text>
<text x="665.8" y="161.8" font-size="7.23" text-anchor="middle" fill="#000" textLength="22.4" lengthAdjust="spacingAndGlyphs">CASK<tspan font-size="4.75" dy="-2.60">+/-</tspan></text>
<text x="665.8" y="170.4" font-size="7.23" text-anchor="middle" fill="#000" textLength="9.2" lengthAdjust="spacingAndGlyphs">KO</text>
<line x1="352.4" y1="264.8" x2="352.4" y2="270.7" stroke="#000" stroke-width="1.6" stroke-linecap="butt"/>
<line x1="345.1" y1="265.4" x2="359.6" y2="265.4" stroke="#000" stroke-width="1.6" stroke-linecap="butt"/>
<rect x="339.8" y="270.5" width="25.1" height="84.5" fill="#000000" stroke="#000" stroke-width="1.6"/>
<line x1="352.4" y1="355.0" x2="352.4" y2="360.4" stroke="#000" stroke-width="1.6" stroke-linecap="butt"/>
<text x="352.4" y="351.4" font-size="11.00" text-anchor="middle" fill="#fff">17</text>
<line x1="383.4" y1="264.8" x2="383.4" y2="271.8" stroke="#000" stroke-width="1.6" stroke-linecap="butt"/>
<line x1="376.2" y1="265.4" x2="390.5" y2="265.4" stroke="#000" stroke-width="1.6" stroke-linecap="butt"/>
<rect x="371.0" y="271.6" width="24.7" height="83.4" fill="#808080" stroke="#000" stroke-width="1.6"/>
<line x1="383.4" y1="355.0" x2="383.4" y2="360.4" stroke="#000" stroke-width="1.6" stroke-linecap="butt"/>
<text x="383.4" y="351.4" font-size="11.00" text-anchor="middle" fill="#fff">16</text>
<line x1="415.1" y1="276.3" x2="415.1" y2="282.1" stroke="#000" stroke-width="1.6" stroke-linecap="butt"/>
<line x1="408.2" y1="276.9" x2="422.1" y2="276.9" stroke="#000" stroke-width="1.6" stroke-linecap="butt"/>
<rect x="403.0" y="281.9" width="24.3" height="73.1" fill="#0000ff" stroke="#000" stroke-width="1.6"/>
<line x1="415.1" y1="355.0" x2="415.1" y2="360.4" stroke="#000" stroke-width="1.6" stroke-linecap="butt"/>
<text x="415.1" y="351.4" font-size="11.00" text-anchor="middle" fill="#fff">8</text>
<line x1="446.6" y1="313.5" x2="446.6" y2="318.6" stroke="#000" stroke-width="1.6" stroke-linecap="butt"/>
<line x1="439.7" y1="314.1" x2="453.6" y2="314.1" stroke="#000" stroke-width="1.6" stroke-linecap="butt"/>
<rect x="434.5" y="318.4" width="24.3" height="36.6" fill="#ff0000" stroke="#000" stroke-width="1.6"/>
<line x1="446.6" y1="355.0" x2="446.6" y2="360.4" stroke="#000" stroke-width="1.6" stroke-linecap="butt"/>
<text x="446.6" y="351.4" font-size="11.00" text-anchor="middle" fill="#fff">8</text>
<line x1="333.7" y1="241.5" x2="333.7" y2="355.8" stroke="#000" stroke-width="1.6" stroke-linecap="butt"/>
<line x1="328.0" y1="355.0" x2="464.8" y2="355.0" stroke="#000" stroke-width="1.6" stroke-linecap="butt"/>
<line x1="328.0" y1="264.6" x2="333.7" y2="264.6" stroke="#000" stroke-width="1.6" stroke-linecap="butt"/>
<text x="327.1" y="267.3" font-size="8.59" text-anchor="end" fill="#000" textLength="4.2" lengthAdjust="spacingAndGlyphs">4</text>
<line x1="328.0" y1="309.8" x2="333.7" y2="309.8" stroke="#000" stroke-width="1.6" stroke-linecap="butt"/>
<text x="327.1" y="312.5" font-size="8.59" text-anchor="end" fill="#000" textLength="4.2" lengthAdjust="spacingAndGlyphs">2</text>
<line x1="328.0" y1="355.0" x2="333.7" y2="355.0" stroke="#000" stroke-width="1.6" stroke-linecap="butt"/>
<text x="327.1" y="357.7" font-size="8.59" text-anchor="end" fill="#000" textLength="4.2" lengthAdjust="spacingAndGlyphs">0</text>
<line x1="351.6" y1="254.6" x2="417.5" y2="254.6" stroke="#000" stroke-width="1.5" stroke-linecap="butt"/>
<path d="M382.4,254.6 V249.2 H447.0 V255.0" stroke="#000" stroke-width="1.5" fill="none" stroke-linejoin="miter" stroke-linecap="butt"/>
<text x="415.0" y="249.6" font-size="12.50" text-anchor="middle" font-weight="bold" fill="#000">***</text>
<text transform="translate(316.1,302.4) rotate(-90)" font-size="11.30" text-anchor="middle" fill="#000" textLength="116.0" lengthAdjust="spacingAndGlyphs">Frequency of mIPSC (Hz)</text>
<text x="352.4" y="369.5" font-size="7.23" text-anchor="middle" fill="#000" textLength="23.5" lengthAdjust="spacingAndGlyphs">CASK<tspan font-size="4.75" dy="-2.60">+/+</tspan></text>
<text x="383.4" y="369.5" font-size="7.23" text-anchor="middle" fill="#000" textLength="23.9" lengthAdjust="spacingAndGlyphs">CASK<tspan font-size="4.75" dy="-2.60">Y/+</tspan></text>
<text x="415.1" y="369.5" font-size="7.23" text-anchor="middle" fill="#000" textLength="22.4" lengthAdjust="spacingAndGlyphs">CASK<tspan font-size="4.75" dy="-2.60">+/-</tspan></text>
<text x="415.1" y="377.3" font-size="7.23" text-anchor="middle" fill="#000" textLength="10.0" lengthAdjust="spacingAndGlyphs">WT</text>
<text x="446.6" y="369.5" font-size="7.23" text-anchor="middle" fill="#000" textLength="22.4" lengthAdjust="spacingAndGlyphs">CASK<tspan font-size="4.75" dy="-2.60">+/-</tspan></text>
<text x="446.6" y="377.3" font-size="7.23" text-anchor="middle" fill="#000" textLength="9.2" lengthAdjust="spacingAndGlyphs">KO</text>
<line x1="571.6" y1="265.8" x2="571.6" y2="270.3" stroke="#000" stroke-width="1.6" stroke-linecap="butt"/>
<line x1="564.4" y1="266.4" x2="578.8" y2="266.4" stroke="#000" stroke-width="1.6" stroke-linecap="butt"/>
<rect x="559.1" y="270.1" width="25.0" height="84.9" fill="#000000" stroke="#000" stroke-width="1.6"/>
<line x1="571.6" y1="355.0" x2="571.6" y2="360.4" stroke="#000" stroke-width="1.6" stroke-linecap="butt"/>
<text x="571.6" y="351.5" font-size="11.00" text-anchor="middle" fill="#fff">17</text>
<line x1="602.9" y1="264.8" x2="602.9" y2="270.3" stroke="#000" stroke-width="1.6" stroke-linecap="butt"/>
<line x1="595.7" y1="265.4" x2="610.0" y2="265.4" stroke="#000" stroke-width="1.6" stroke-linecap="butt"/>
<rect x="590.4" y="270.1" width="24.9" height="84.9" fill="#808080" stroke="#000" stroke-width="1.6"/>
<line x1="602.9" y1="355.0" x2="602.9" y2="360.4" stroke="#000" stroke-width="1.6" stroke-linecap="butt"/>
<text x="602.9" y="351.5" font-size="11.00" text-anchor="middle" fill="#fff">16</text>
<line x1="634.3" y1="263.7" x2="634.3" y2="271.4" stroke="#000" stroke-width="1.6" stroke-linecap="butt"/>
<line x1="627.1" y1="264.3" x2="641.5" y2="264.3" stroke="#000" stroke-width="1.6" stroke-linecap="butt"/>
<rect x="621.8" y="271.2" width="25.0" height="83.8" fill="#0000ff" stroke="#000" stroke-width="1.6"/>
<line x1="634.3" y1="355.0" x2="634.3" y2="360.4" stroke="#000" stroke-width="1.6" stroke-linecap="butt"/>
<text x="634.3" y="351.5" font-size="11.00" text-anchor="middle" fill="#fff">8</text>
<line x1="665.8" y1="267.2" x2="665.8" y2="273.5" stroke="#000" stroke-width="1.6" stroke-linecap="butt"/>
<line x1="658.5" y1="267.8" x2="673.1" y2="267.8" stroke="#000" stroke-width="1.6" stroke-linecap="butt"/>
<rect x="653.1" y="273.3" width="25.4" height="81.7" fill="#ff0000" stroke="#000" stroke-width="1.6"/>
<line x1="665.8" y1="355.0" x2="665.8" y2="360.4" stroke="#000" stroke-width="1.6" stroke-linecap="butt"/>
<text x="665.8" y="351.5" font-size="11.00" text-anchor="middle" fill="#fff">8</text>
<line x1="553.2" y1="240.8" x2="553.2" y2="355.8" stroke="#000" stroke-width="1.6" stroke-linecap="butt"/>
<line x1="547.7" y1="355.0" x2="685.0" y2="355.0" stroke="#000" stroke-width="1.6" stroke-linecap="butt"/>
<line x1="547.7" y1="241.6" x2="553.2" y2="241.6" stroke="#000" stroke-width="1.6" stroke-linecap="butt"/>
<text x="546.8" y="244.3" font-size="8.59" text-anchor="end" fill="#000" textLength="8.5" lengthAdjust="spacingAndGlyphs">20</text>
<line x1="547.7" y1="298.8" x2="553.2" y2="298.8" stroke="#000" stroke-width="1.6" stroke-linecap="butt"/>
<text x="546.8" y="301.5" font-size="8.59" text-anchor="end" fill="#000" textLength="8.5" lengthAdjust="spacingAndGlyphs">10</text>
<line x1="547.7" y1="355.0" x2="553.2" y2="355.0" stroke="#000" stroke-width="1.6" stroke-linecap="butt"/>
<text x="546.8" y="357.7" font-size="8.59" text-anchor="end" fill="#000" textLength="4.2" lengthAdjust="spacingAndGlyphs">0</text>
<text x="619.4" y="248.6" font-size="10.80" text-anchor="middle" fill="#000">N.S.</text>
<text transform="translate(533.1,302.2) rotate(-90)" font-size="11.30" text-anchor="middle" fill="#000" textLength="113.8" lengthAdjust="spacingAndGlyphs">Amplitude of mIPSC (pA)</text>
<text x="571.6" y="370.2" font-size="8.76" text-anchor="middle" fill="#000" textLength="28.9" lengthAdjust="spacingAndGlyphs">CASK<tspan font-size="6.10" dy="-3.16">+/+</tspan></text>
<text x="602.9" y="370.2" font-size="8.76" text-anchor="middle" fill="#000" textLength="29.4" lengthAdjust="spacingAndGlyphs">CASK<tspan font-size="6.10" dy="-3.16">Y/+</tspan></text>
<text x="634.3" y="370.2" font-size="8.76" text-anchor="middle" fill="#000" textLength="27.6" lengthAdjust="spacingAndGlyphs">CASK<tspan font-size="6.10" dy="-3.16">+/-</tspan></text>
<text x="634.3" y="378.6" font-size="8.76" text-anchor="middle" fill="#000" textLength="12.0" lengthAdjust="spacingAndGlyphs">WT</text>
<text x="665.8" y="370.2" font-size="8.76" text-anchor="middle" fill="#000" textLength="27.6" lengthAdjust="spacingAndGlyphs">CASK<tspan font-size="6.10" dy="-3.16">+/-</tspan></text>
<text x="665.8" y="378.6" font-size="8.76" text-anchor="middle" fill="#000" textLength="11.2" lengthAdjust="spacingAndGlyphs">KO</text>
<line x1="93.7" y1="429.5" x2="93.7" y2="562.0" stroke="#000" stroke-width="1.7" stroke-linecap="butt"/>
<line x1="88.0" y1="561.1" x2="290.7" y2="561.1" stroke="#000" stroke-width="1.7" stroke-linecap="butt"/>
<line x1="88.0" y1="430.4" x2="93.7" y2="430.4" stroke="#000" stroke-width="1.7" stroke-linecap="butt"/>
<text x="82.3" y="433.3" font-size="8.25" text-anchor="end" fill="#000" textLength="4.1" lengthAdjust="spacingAndGlyphs">8</text>
<line x1="88.0" y1="463.1" x2="93.7" y2="463.1" stroke="#000" stroke-width="1.7" stroke-linecap="butt"/>
<text x="82.3" y="466.0" font-size="8.25" text-anchor="end" fill="#000" textLength="4.1" lengthAdjust="spacingAndGlyphs">6</text>
<line x1="88.0" y1="495.8" x2="93.7" y2="495.8" stroke="#000" stroke-width="1.7" stroke-linecap="butt"/>
<text x="82.3" y="498.7" font-size="8.25" text-anchor="end" fill="#000" textLength="4.1" lengthAdjust="spacingAndGlyphs">4</text>
<line x1="88.0" y1="528.4" x2="93.7" y2="528.4" stroke="#000" stroke-width="1.7" stroke-linecap="butt"/>
<text x="82.3" y="531.3" font-size="8.25" text-anchor="end" fill="#000" textLength="4.1" lengthAdjust="spacingAndGlyphs">2</text>
<line x1="88.0" y1="561.1" x2="93.7" y2="561.1" stroke="#000" stroke-width="1.7" stroke-linecap="butt"/>
<text x="82.3" y="564.0" font-size="8.25" text-anchor="end" fill="#000" textLength="4.1" lengthAdjust="spacingAndGlyphs">0</text>
<line x1="93.7" y1="561.1" x2="93.7" y2="566.7" stroke="#000" stroke-width="1.7" stroke-linecap="butt"/>
<text x="93.7" y="574.6" font-size="8.25" text-anchor="middle" fill="#000" textLength="4.1" lengthAdjust="spacingAndGlyphs">0</text>
<line x1="142.7" y1="561.1" x2="142.7" y2="566.7" stroke="#000" stroke-width="1.7" stroke-linecap="butt"/>
<text x="142.7" y="574.6" font-size="8.25" text-anchor="middle" fill="#000" textLength="4.1" lengthAdjust="spacingAndGlyphs">1</text>
<line x1="191.7" y1="561.1" x2="191.7" y2="566.7" stroke="#000" stroke-width="1.7" stroke-linecap="butt"/>
<text x="191.7" y="574.6" font-size="8.25" text-anchor="middle" fill="#000" textLength="4.1" lengthAdjust="spacingAndGlyphs">2</text>
<line x1="240.6" y1="561.1" x2="240.6" y2="566.7" stroke="#000" stroke-width="1.7" stroke-linecap="butt"/>
<text x="240.6" y="574.6" font-size="8.25" text-anchor="middle" fill="#000" textLength="4.1" lengthAdjust="spacingAndGlyphs">3</text>
<line x1="289.8" y1="561.1" x2="289.8" y2="566.7" stroke="#000" stroke-width="1.7" stroke-linecap="butt"/>
<text x="289.8" y="574.6" font-size="8.25" text-anchor="middle" fill="#000" textLength="4.1" lengthAdjust="spacingAndGlyphs">4</text>
<text transform="translate(69.6,499.3) rotate(-90)" font-size="10.85" text-anchor="middle" fill="#000" textLength="119.6" lengthAdjust="spacingAndGlyphs">Frequency of mIPSC (Hz)</text>
<text x="192.0" y="587.3" font-size="10.85" text-anchor="middle" fill="#000" textLength="124.2" lengthAdjust="spacingAndGlyphs">Frequency of mEPSC (Hz)</text>
<circle cx="136.6" cy="473.9" r="5.0" fill="#808080"/>
<circle cx="147.7" cy="475.8" r="5.0" fill="#808080"/>
<circle cx="156.0" cy="479.1" r="5.0" fill="#808080"/>
<circle cx="152.3" cy="489.6" r="5.0" fill="#808080"/>
<circle cx="169.9" cy="499.1" r="5.0" fill="#808080"/>
<circle cx="170.6" cy="503.5" r="5.0" fill="#808080"/>
<circle cx="158.9" cy="510.1" r="5.0" fill="#808080"/>
<circle cx="167.7" cy="510.1" r="5.0" fill="#808080"/>
<circle cx="134.8" cy="512.3" r="5.0" fill="#808080"/>
<circle cx="177.9" cy="517.4" r="5.0" fill="#808080"/>
<circle cx="142.8" cy="525.4" r="5.0" fill="#808080"/>
<circle cx="147.7" cy="466.6" r="5.0" fill="#000000"/>
<circle cx="184.0" cy="479.7" r="5.0" fill="#000000"/>
<circle cx="183.4" cy="499.9" r="5.0" fill="#000000"/>
<circle cx="135.5" cy="497.7" r="5.0" fill="#000000"/>
<circle cx="142.8" cy="501.3" r="5.0" fill="#000000"/>
<circle cx="156.7" cy="493.3" r="5.0" fill="#000000"/>
<circle cx="164.7" cy="493.3" r="5.0" fill="#000000"/>
<circle cx="152.3" cy="504.2" r="5.0" fill="#000000"/>
<circle cx="164.0" cy="506.4" r="5.0" fill="#000000"/>
<circle cx="164.0" cy="517.4" r="5.0" fill="#000000"/>
<circle cx="147.2" cy="522.5" r="5.0" fill="#000000"/>
<circle cx="158.0" cy="499.0" r="5.0" fill="#000000"/>
<circle cx="159.2" cy="485.7" r="5.0" fill="#0000ff"/>
<circle cx="148.7" cy="493.6" r="5.0" fill="#0000ff"/>
<circle cx="135.1" cy="501.8" r="5.0" fill="#0000ff"/>
<circle cx="145.0" cy="505.7" r="5.0" fill="#0000ff"/>
<circle cx="159.6" cy="501.3" r="5.0" fill="#0000ff"/>
<circle cx="140.7" cy="513.0" r="5.0" fill="#0000ff"/>
<circle cx="164.5" cy="512.6" r="5.0" fill="#0000ff"/>
<circle cx="181.2" cy="509.8" r="5.0" fill="#0000ff"/>
<circle cx="198.9" cy="531.5" r="5.0" fill="#ff0000"/>
<circle cx="204.4" cy="542.5" r="5.0" fill="#ff0000"/>
<circle cx="213.1" cy="538.8" r="5.0" fill="#ff0000"/>
<circle cx="215.3" cy="531.2" r="5.0" fill="#ff0000"/>
<circle cx="228.1" cy="537.7" r="5.0" fill="#ff0000"/>
<circle cx="232.5" cy="527.2" r="5.0" fill="#ff0000"/>
<circle cx="246.4" cy="526.4" r="5.0" fill="#ff0000"/>
<circle cx="262.4" cy="530.4" r="5.0" fill="#ff0000"/>
<circle cx="218.6" cy="423.9" r="5.0" fill="#000000"/>
<text x="241.0" y="426.8" font-size="8.93" fill="#000" textLength="29.5" lengthAdjust="spacingAndGlyphs">CASK<tspan font-size="6.21" dy="-3.28">+/+</tspan></text>
<circle cx="218.6" cy="440.2" r="5.0" fill="#808080"/>
<text x="241.0" y="443.1" font-size="8.93" fill="#000" textLength="29.9" lengthAdjust="spacingAndGlyphs">CASK<tspan font-size="6.21" dy="-3.28">Y/+</tspan></text>
<circle cx="218.6" cy="457.4" r="5.0" fill="#0000ff"/>
<text x="241.0" y="460.3" font-size="8.93" fill="#000" textLength="43.0" lengthAdjust="spacingAndGlyphs">CASK<tspan font-size="6.21" dy="-3.28">+/-</tspan><tspan dy="3.28">-WT</tspan></text>
<circle cx="218.6" cy="475.0" r="5.0" fill="#ff0000"/>
<text x="241.0" y="477.9" font-size="8.93" fill="#000" textLength="42.1" lengthAdjust="spacingAndGlyphs">CASK<tspan font-size="6.21" dy="-3.28">+/-</tspan><tspan dy="3.28">-KO</tspan></text>
<line x1="518.5" y1="519.8" x2="518.5" y2="523.3" stroke="#000" stroke-width="1.6" stroke-linecap="butt"/>
<line x1="510.5" y1="520.4" x2="526.4" y2="520.4" stroke="#000" stroke-width="1.6" stroke-linecap="butt"/>
<rect x="504.5" y="523.1" width="27.9" height="33.2" fill="#000000" stroke="#000" stroke-width="1.6"/>
<line x1="518.5" y1="556.3" x2="518.5" y2="561.7" stroke="#000" stroke-width="1.6" stroke-linecap="butt"/>
<text x="518.5" y="553.0" font-size="11.00" text-anchor="middle" fill="#fff">17</text>
<line x1="554.0" y1="520.3" x2="554.0" y2="524.1" stroke="#000" stroke-width="1.6" stroke-linecap="butt"/>
<line x1="546.1" y1="520.9" x2="561.9" y2="520.9" stroke="#000" stroke-width="1.6" stroke-linecap="butt"/>
<rect x="540.2" y="523.9" width="27.6" height="32.4" fill="#808080" stroke="#000" stroke-width="1.6"/>
<line x1="554.0" y1="556.3" x2="554.0" y2="561.7" stroke="#000" stroke-width="1.6" stroke-linecap="butt"/>
<text x="554.0" y="553.0" font-size="11.00" text-anchor="middle" fill="#fff">16</text>
<line x1="589.4" y1="520.0" x2="589.4" y2="524.5" stroke="#000" stroke-width="1.6" stroke-linecap="butt"/>
<line x1="581.5" y1="520.6" x2="597.3" y2="520.6" stroke="#000" stroke-width="1.6" stroke-linecap="butt"/>
<rect x="575.6" y="524.3" width="27.6" height="32.0" fill="#0000ff" stroke="#000" stroke-width="1.6"/>
<line x1="589.4" y1="556.3" x2="589.4" y2="561.7" stroke="#000" stroke-width="1.6" stroke-linecap="butt"/>
<text x="589.4" y="553.0" font-size="11.00" text-anchor="middle" fill="#fff">8</text>
<line x1="624.7" y1="474.2" x2="624.7" y2="478.6" stroke="#000" stroke-width="1.6" stroke-linecap="butt"/>
<line x1="616.8" y1="474.8" x2="632.6" y2="474.8" stroke="#000" stroke-width="1.6" stroke-linecap="butt"/>
<rect x="610.8" y="478.4" width="27.8" height="77.9" fill="#ff0000" stroke="#000" stroke-width="1.6"/>
<line x1="624.7" y1="556.3" x2="624.7" y2="561.7" stroke="#000" stroke-width="1.6" stroke-linecap="butt"/>
<text x="624.7" y="553.0" font-size="11.00" text-anchor="middle" fill="#fff">8</text>
<line x1="497.8" y1="425.5" x2="497.8" y2="557.1" stroke="#000" stroke-width="1.6" stroke-linecap="butt"/>
<line x1="491.8" y1="556.3" x2="645.5" y2="556.3" stroke="#000" stroke-width="1.6" stroke-linecap="butt"/>
<line x1="491.8" y1="426.3" x2="497.8" y2="426.3" stroke="#000" stroke-width="1.6" stroke-linecap="butt"/>
<text x="490.9" y="429.5" font-size="9.94" text-anchor="end" fill="#000" textLength="12.2" lengthAdjust="spacingAndGlyphs">1.0</text>
<line x1="491.8" y1="491.2" x2="497.8" y2="491.2" stroke="#000" stroke-width="1.6" stroke-linecap="butt"/>
<text x="490.9" y="494.4" font-size="9.94" text-anchor="end" fill="#000" textLength="12.2" lengthAdjust="spacingAndGlyphs">0.5</text>
<line x1="491.8" y1="556.3" x2="497.8" y2="556.3" stroke="#000" stroke-width="1.6" stroke-linecap="butt"/>
<text x="490.9" y="559.5" font-size="9.94" text-anchor="end" fill="#000" textLength="12.2" lengthAdjust="spacingAndGlyphs">0.0</text>
<line x1="519.2" y1="454.5" x2="590.0" y2="454.5" stroke="#000" stroke-width="1.5" stroke-linecap="butt"/>
<path d="M555.6,454.5 V448.2 H625.7 V454.8" stroke="#000" stroke-width="1.5" fill="none" stroke-linejoin="miter" stroke-linecap="butt"/>
<text x="590.6" y="448.9" font-size="12.50" text-anchor="middle" font-weight="bold" fill="#000">***</text>
<text transform="translate(471.0,495.4) rotate(-90)" font-size="10.40" text-anchor="middle" fill="#000" textLength="75.3" lengthAdjust="spacingAndGlyphs">E/I balance index</text>
<text x="518.5" y="570.8" font-size="8.76" text-anchor="middle" fill="#000" textLength="28.9" lengthAdjust="spacingAndGlyphs">CASK<tspan font-size="6.10" dy="-3.16">+/+</tspan></text>
<text x="554.0" y="570.8" font-size="8.76" text-anchor="middle" fill="#000" textLength="29.4" lengthAdjust="spacingAndGlyphs">CASK<tspan font-size="6.10" dy="-3.16">Y/+</tspan></text>
<text x="589.4" y="570.8" font-size="8.76" text-anchor="middle" fill="#000" textLength="27.6" lengthAdjust="spacingAndGlyphs">CASK<tspan font-size="6.10" dy="-3.16">+/-</tspan></text>
<text x="589.4" y="579.2" font-size="8.76" text-anchor="middle" fill="#000" textLength="12.0" lengthAdjust="spacingAndGlyphs">WT</text>
<text x="624.7" y="570.8" font-size="8.76" text-anchor="middle" fill="#000" textLength="27.6" lengthAdjust="spacingAndGlyphs">CASK<tspan font-size="6.10" dy="-3.16">+/-</tspan></text>
<text x="624.7" y="579.2" font-size="8.76" text-anchor="middle" fill="#000" textLength="11.2" lengthAdjust="spacingAndGlyphs">KO</text>
<rect x="8.0" y="638.0" width="118.0" height="193.0" fill="#fcfcfc"/>
<text x="57.2" y="646.3" font-size="8.20" text-anchor="middle" fill="#000" textLength="48.5" lengthAdjust="spacingAndGlyphs">AAV-GFPCre</text>
<text x="58.4" y="655.6" font-size="8.20" text-anchor="middle" fill="#000" textLength="29.5" lengthAdjust="spacingAndGlyphs">injection</text>
<text x="106.3" y="655.6" font-size="8.20" text-anchor="middle" fill="#000" textLength="36.5" lengthAdjust="spacingAndGlyphs">Recording</text>
<line x1="58.9" y1="659.6" x2="58.9" y2="670.2" stroke="#000" stroke-width="1.0" stroke-linecap="butt"/>
<path d="M56.3,669.2 L58.9,676.0 L61.5,669.2 L58.9,670.4Z" fill="#000"/>
<line x1="107.0" y1="659.6" x2="107.0" y2="670.2" stroke="#000" stroke-width="1.0" stroke-linecap="butt"/>
<path d="M104.4,669.2 L107.0,676.0 L109.6,669.2 L107.0,670.4Z" fill="#000"/>
<line x1="9.8" y1="680.6" x2="108.0" y2="680.6" stroke="#000" stroke-width="1.2" stroke-linecap="butt"/>
<text x="22.7" y="690.2" font-size="7.80" text-anchor="middle" fill="#000">P0</text>
<text x="55.6" y="690.2" font-size="7.80" text-anchor="middle" fill="#000" textLength="28.0" lengthAdjust="spacingAndGlyphs">P10~13</text>
<text x="104.4" y="690.2" font-size="7.80" text-anchor="middle" fill="#000" textLength="28.0" lengthAdjust="spacingAndGlyphs">P24~28</text>
<text x="18.7" y="716.5" font-size="8.60" fill="#000" textLength="85.7" lengthAdjust="spacingAndGlyphs">AAV-GFPCre infection</text>
<text x="18.7" y="724.8" font-size="8.60" fill="#000" textLength="85.4" lengthAdjust="spacingAndGlyphs">in CASK floxed mouse</text>
<clipPath id="ci"><rect x="11.7" y="728" width="103.8" height="102.6"/></clipPath>
<g clip-path="url(#ci)">
<rect x="11.7" y="728.0" width="103.8" height="102.6" fill="#081248"/>
<path d="M45.3,743.5h0M19.2,783.0h0M17.7,780.1h0M56.7,735.2h0M55.8,812.8h0M34.9,792.4h0M71.6,768.7h0M16.5,816.1h0M26.7,740.1h0M96.4,746.5h0M78.0,766.2h0M82.3,771.9h0M72.5,774.5h0M94.2,799.7h0M71.3,781.9h0M87.4,757.5h0M24.0,770.9h0M27.5,778.2h0M81.1,806.4h0M102.6,760.2h0M73.4,787.5h0M98.9,824.9h0M80.6,734.2h0M78.9,829.9h0M41.2,767.6h0M14.0,775.4h0M25.1,753.4h0M102.2,736.3h0M68.7,818.6h0M101.4,756.6h0M48.9,818.7h0M27.4,746.1h0M35.9,777.8h0M50.0,786.1h0M83.4,780.9h0M81.9,733.5h0M92.7,817.7h0M52.4,768.9h0M77.5,734.4h0M33.4,744.7h0M22.2,765.3h0M102.5,791.0h0M37.9,763.6h0M24.5,815.1h0M60.1,777.6h0M22.3,763.2h0M97.7,744.6h0M110.4,782.2h0M68.1,730.8h0M113.3,816.6h0M38.8,765.6h0M91.8,782.6h0M45.9,750.9h0M113.9,815.5h0M96.6,803.9h0M65.4,764.5h0M14.6,756.7h0M83.6,826.1h0M109.0,829.4h0M49.5,750.6h0M32.1,749.0h0M105.2,814.2h0M79.5,810.0h0M80.3,821.3h0M89.6,777.0h0M93.6,762.1h0M112.6,768.6h0M110.0,802.4h0M24.9,743.5h0M95.4,743.0h0M113.5,795.4h0M68.7,741.4h0M112.5,794.7h0M108.6,772.5h0M97.5,749.7h0M42.1,752.7h0M38.6,771.0h0M106.2,764.3h0M72.3,820.8h0M107.0,779.5h0M66.0,729.9h0M29.6,776.6h0M69.5,761.4h0M69.4,808.5h0M69.9,753.5h0M91.9,780.1h0M90.6,821.6h0M75.3,779.9h0M83.6,774.4h0M61.3,824.6h0M102.7,824.7h0M69.8,824.8h0M25.9,740.5h0M19.2,752.7h0M81.2,808.4h0M27.7,801.5h0M26.5,818.6h0M34.5,825.7h0M62.3,829.6h0M28.5,772.3h0M46.9,748.1h0M57.4,729.9h0M76.5,780.6h0M114.0,808.9h0M22.6,755.2h0M92.6,755.7h0M55.5,821.5h0M38.5,743.3h0M70.9,799.9h0M17.7,798.6h0M19.2,824.3h0M94.9,736.6h0M18.6,816.5h0M46.9,784.7h0M39.5,741.3h0M36.4,739.2h0M16.9,748.7h0M43.4,805.9h0M63.6,746.3h0M13.6,753.7h0M87.8,784.5h0M61.0,823.9h0M96.7,772.3h0M98.3,768.3h0M83.1,828.8h0M98.1,800.5h0M53.7,763.7h0M38.2,744.7h0M99.0,817.3h0M41.0,752.9h0M59.4,744.2h0M39.0,826.7h0M68.5,753.1h0M43.8,764.6h0M51.3,776.7h0M32.6,779.8h0M39.1,737.2h0M35.9,788.1h0M89.6,795.5h0M102.9,768.0h0M113.9,743.3h0M78.5,732.5h0M104.3,792.4h0M96.0,742.3h0M64.1,813.7h0M97.5,787.9h0M82.6,799.1h0M22.6,813.8h0M76.9,792.3h0M89.4,779.6h0M80.1,734.8h0M37.9,735.6h0M87.4,749.1h0M113.0,778.7h0M61.4,798.1h0M75.7,793.9h0M27.0,754.1h0M43.3,786.3h0M18.0,755.6h0M83.5,797.3h0M65.3,775.7h0M24.0,819.7h0M113.2,824.1h0M59.3,812.1h0M58.4,755.6h0M109.9,749.6h0M26.4,781.8h0M25.5,812.2h0M103.8,800.2h0M104.9,777.9h0M12.1,778.4h0M43.0,742.4h0M44.5,814.2h0M89.6,814.1h0M107.9,801.2h0M41.8,766.2h0M115.4,788.4h0M56.1,756.2h0M22.3,813.6h0M108.8,753.6h0M64.7,747.5h0M110.9,818.7h0M77.2,821.7h0M68.7,801.8h0M87.7,774.3h0M78.6,757.4h0M107.9,741.1h0M47.4,758.6h0M113.0,754.7h0M42.9,785.2h0M29.1,744.6h0M105.7,779.0h0M105.8,830.2h0M26.2,747.7h0M47.2,737.3h0M38.5,786.4h0M89.5,770.4h0M66.1,766.7h0M18.1,756.5h0M24.8,779.6h0M101.3,750.2h0M37.5,769.0h0M110.7,815.1h0M104.7,776.6h0M11.7,768.2h0M97.4,815.8h0M37.5,739.2h0M65.9,798.0h0M86.6,794.4h0M59.2,784.6h0M92.9,751.9h0M78.7,759.2h0M37.8,793.3h0M72.2,767.8h0M74.1,729.1h0M59.5,826.4h0M103.4,776.8h0M37.3,826.6h0M81.7,771.1h0M81.0,822.9h0M15.2,762.7h0M82.6,748.3h0M88.4,779.8h0M112.4,760.0h0M35.7,750.7h0M42.3,825.7h0M31.1,750.9h0M80.8,825.3h0M52.5,749.8h0M52.5,820.2h0M87.8,830.3h0M45.9,747.0h0M51.0,766.4h0M48.2,826.0h0M111.8,749.3h0M97.0,812.3h0M16.8,776.6h0M107.1,747.8h0M96.0,806.7h0M38.4,804.7h0M46.9,755.9h0M75.7,754.9h0M44.6,756.3h0M90.1,822.0h0M61.0,826.2h0M51.8,753.8h0M62.9,823.2h0M95.0,803.8h0M91.9,790.3h0M44.9,765.1h0M19.9,748.2h0M37.4,734.6h0M69.1,761.4h0M103.4,829.4h0M85.4,773.9h0M55.0,791.6h0M89.3,814.9h0M24.3,814.3h0M70.5,766.3h0M32.4,753.4h0M27.6,818.7h0M45.6,768.6h0M64.4,751.7h0M79.5,829.7h0M61.0,812.0h0M24.1,747.5h0M72.2,823.4h0M101.6,774.1h0M92.4,825.0h0M73.6,791.6h0M50.0,742.5h0M38.2,789.5h0M82.1,747.0h0M32.8,809.6h0M68.8,793.6h0M28.7,799.3h0M41.1,759.6h0M44.1,786.1h0M54.9,816.7h0M49.5,748.2h0M55.7,812.2h0M103.3,775.3h0M13.2,784.6h0M106.1,737.1h0M50.2,779.8h0M41.1,781.5h0M23.0,778.3h0M112.1,748.2h0M109.6,828.1h0M17.2,823.0h0M105.6,791.6h0M28.3,808.6h0M53.7,814.8h0M30.7,750.4h0M65.5,767.4h0M37.3,802.4h0M16.0,785.7h0M15.7,814.0h0M73.9,784.4h0M43.5,771.1h0M55.9,795.6h0M57.2,730.4h0M62.5,752.1h0M92.7,775.0h0M60.8,739.0h0M56.4,737.4h0M64.7,732.2h0M20.2,803.3h0M64.8,733.6h0M50.9,825.6h0M100.7,830.2h0M96.3,747.9h0M62.8,826.2h0M28.8,808.9h0M18.5,764.0h0M28.2,820.0h0M96.4,742.7h0M107.2,749.4h0M64.2,760.7h0M30.6,744.5h0M82.3,819.9h0M93.2,739.8h0M77.7,764.9h0M69.3,787.5h0M22.6,829.9h0M52.6,809.8h0M114.5,787.2h0M91.1,773.4h0M38.0,793.6h0M72.5,796.1h0M75.6,772.3h0M104.7,741.5h0M79.5,730.3h0M48.5,738.9h0M35.0,787.9h0M32.9,792.0h0M25.7,824.1h0M27.2,737.8h0M102.1,808.2h0M70.1,763.9h0M57.8,824.2h0M37.5,820.7h0M66.9,769.7h0M17.8,807.9h0M68.9,824.5h0M32.4,790.4h0M78.3,811.5h0M43.8,758.8h0M104.0,808.3h0M12.4,814.6h0M60.0,804.1h0M35.2,738.8h0M15.7,762.4h0M83.9,814.7h0M39.3,784.8h0M93.5,781.7h0M78.3,827.0h0M36.2,804.3h0M89.2,761.5h0M45.8,752.5h0M77.2,799.1h0M113.3,776.2h0M84.1,816.0h0M86.9,786.5h0M33.7,791.9h0M106.2,742.8h0M22.8,823.3h0M83.6,793.0h0M88.2,734.7h0M49.4,811.9h0M106.6,824.9h0M33.1,739.5h0M99.7,811.3h0M97.3,792.8h0M33.0,760.7h0M13.9,754.3h0M86.0,765.8h0M111.8,779.7h0M75.9,731.2h0M57.0,807.3h0M84.8,783.2h0M101.2,737.3h0M90.8,828.3h0M62.6,778.4h0M30.9,778.7h0M98.0,754.7h0M41.2,750.0h0M63.4,739.3h0M20.1,808.8h0M93.4,792.4h0M53.4,768.5h0M20.6,819.2h0M33.1,755.0h0M63.7,766.9h0M35.9,775.3h0M90.0,805.3h0M47.9,761.5h0M99.2,795.9h0M29.3,773.0h0M71.8,740.9h0M103.6,752.4h0M43.0,800.1h0M27.7,744.0h0M45.6,781.6h0M45.8,747.4h0M87.3,738.4h0M22.3,767.4h0M94.2,803.2h0M32.1,793.5h0M33.1,767.8h0M53.1,809.2h0M63.7,792.9h0M26.4,789.9h0M88.6,821.2h0M71.3,804.9h0M35.4,802.1h0M92.0,799.8h0M82.2,793.8h0M44.2,792.5h0M55.3,808.3h0M77.1,753.7h0M58.9,791.8h0M81.8,823.4h0M79.6,807.8h0M62.5,828.0h0M68.1,744.5h0M109.3,781.3h0M71.3,783.5h0M64.9,793.6h0M65.9,770.1h0M33.5,798.2h0M90.9,740.6h0M48.6,733.8h0M53.2,729.4h0M55.4,799.6h0M39.2,751.0h0M109.3,782.1h0M94.9,768.2h0M25.1,807.7h0M77.5,776.1h0M35.2,826.9h0M78.0,812.0h0M60.3,758.2h0M24.7,813.5h0M100.0,755.4h0M38.0,771.7h0M12.0,802.1h0M37.1,759.0h0M56.2,793.4h0M49.3,823.3h0M17.6,812.9h0M93.1,742.4h0M77.4,729.5h0M110.5,795.3h0M22.2,742.6h0M92.3,763.5h0M105.5,809.2h0M104.2,790.4h0M81.1,819.7h0M98.8,748.3h0M66.8,804.1h0M103.3,784.9h0M36.0,742.3h0M17.8,775.9h0M62.7,779.1h0M60.3,785.7h0M99.0,766.5h0M77.7,730.9h0M82.6,823.6h0M113.6,780.4h0M76.6,762.7h0M49.7,776.7h0M91.7,749.6h0M55.5,784.8h0M42.1,812.9h0M64.0,755.9h0M112.9,795.2h0M46.0,760.5h0M72.6,793.1h0M15.9,802.1h0M68.3,733.1h0M12.3,747.5h0M74.9,795.5h0M106.1,790.8h0M76.8,799.5h0M82.4,749.8h0M59.2,806.3h0M106.6,795.3h0M97.1,808.7h0M38.5,759.0h0M44.8,772.2h0M71.4,822.3h0M13.2,767.7h0M109.0,828.6h0M54.5,738.5h0M33.7,743.6h0M12.2,798.2h0M112.0,737.0h0M36.8,803.3h0M16.9,807.4h0M100.5,802.9h0M77.0,800.8h0M108.5,754.1h0M79.2,811.9h0M44.0,802.8h0M101.1,777.9h0M49.9,787.0h0M82.0,742.9h0M49.4,794.2h0M55.1,767.6h0M109.8,808.5h0M42.0,734.2h0M84.7,812.9h0M74.6,828.3h0M74.1,759.7h0M103.9,766.6h0M74.2,819.9h0M55.6,788.2h0M96.0,817.0h0M40.1,815.3h0M82.8,821.8h0M20.5,784.8h0M32.5,805.0h0M36.0,790.3h0M60.0,749.2h0M89.7,809.2h0M20.8,810.8h0M35.9,787.5h0M103.6,781.5h0M72.9,747.4h0M30.5,799.9h0M70.3,769.3h0M50.5,738.9h0M93.4,744.0h0M47.5,781.3h0M15.2,829.6h0M62.2,786.2h0M92.6,771.7h0M91.3,812.0h0M30.5,736.6h0M69.6,817.3h0M110.0,821.4h0M73.8,768.8h0M111.3,754.4h0M78.2,826.1h0M52.5,774.0h0M111.9,829.8h0M15.7,754.3h0M105.4,820.8h0M16.6,808.7h0M78.8,829.1h0M26.7,805.5h0M82.0,758.7h0M90.4,738.8h0M38.4,740.7h0M29.2,752.5h0M34.6,823.8h0M103.9,742.3h0M21.8,823.3h0M76.9,774.4h0M97.1,777.0h0M26.5,750.7h0M85.8,784.8h0M102.1,755.3h0M27.9,755.8h0M46.4,745.2h0M44.7,820.7h0M81.1,749.7h0M41.4,754.4h0M49.5,829.7h0M107.7,738.0h0M42.2,828.4h0M95.5,763.0h0M11.9,813.4h0M31.0,772.7h0M34.4,786.6h0M30.4,807.0h0M32.1,736.1h0M74.9,778.8h0M33.1,790.8h0M95.9,787.8h0M18.5,803.2h0M86.6,733.7h0M46.5,814.4h0M61.2,817.5h0M31.0,813.3h0M28.7,766.1h0M12.2,781.3h0M65.2,740.4h0M96.5,816.8h0M85.5,767.1h0M18.1,817.5h0M63.1,780.7h0M34.9,746.7h0M37.7,811.8h0M21.7,799.7h0M13.5,789.5h0M66.0,800.1h0M102.0,801.6h0M24.5,778.6h0M40.7,740.5h0M25.9,788.7h0M27.0,786.8h0M28.8,812.7h0M52.1,771.1h0M66.3,768.6h0M92.3,762.7h0M46.5,772.7h0M95.2,821.7h0M111.1,823.9h0M55.5,792.9h0M66.8,735.1h0M64.1,730.1h0M112.4,807.7h0M77.4,811.0h0M39.3,797.6h0M68.0,822.8h0M37.7,781.4h0M110.4,757.5h0M78.9,740.4h0M110.9,780.7h0M60.1,782.8h0M24.6,741.5h0M53.9,757.6h0M20.8,784.1h0M75.0,786.5h0M32.6,800.9h0M68.6,790.9h0M43.9,752.9h0M64.9,767.3h0M12.9,764.2h0M36.5,785.1h0M41.3,829.3h0M91.8,744.3h0M102.1,773.1h0M52.0,773.1h0M23.0,751.1h0M88.4,743.9h0M48.3,797.3h0M99.9,812.3h0M88.4,804.3h0M61.0,808.5h0M106.6,741.1h0M12.1,806.6h0M63.4,826.8h0M55.1,808.4h0M74.7,766.9h0M59.2,802.2h0M52.3,785.0h0M45.1,808.8h0M63.6,773.6h0M43.3,742.9h0M72.1,737.0h0M45.3,814.5h0M111.2,749.0h0M70.3,779.0h0M92.0,783.3h0M65.4,781.1h0M52.1,764.7h0M48.1,825.3h0M66.2,738.2h0M53.3,785.6h0M103.0,827.0h0M57.4,792.1h0M47.3,782.4h0M29.4,760.6h0M97.4,780.6h0M104.6,798.8h0M114.5,819.1h0M27.9,757.7h0M64.1,747.3h0M77.1,789.9h0M114.9,793.3h0M54.4,808.8h0M99.1,788.1h0M32.1,779.1h0M39.3,794.4h0M115.2,786.9h0M24.3,744.1h0M22.8,738.3h0M65.9,812.5h0M95.4,734.4h0M91.7,761.1h0M48.4,745.4h0M22.0,820.7h0M47.9,774.2h0M17.4,819.4h0M111.3,773.1h0M100.4,760.3h0M96.4,759.2h0M111.4,778.8h0M36.9,768.0h0M34.7,759.7h0M62.0,809.3h0M29.7,764.8h0M112.5,757.8h0M23.6,782.8h0M53.6,734.7h0M97.4,764.0h0M31.5,757.1h0M15.3,796.2h0M27.9,800.4h0M39.7,813.7h0M57.7,813.8h0M28.2,764.2h0M50.8,826.3h0M110.4,779.8h0M58.7,741.4h0M38.8,820.3h0M49.9,753.3h0M33.8,817.5h0M65.0,783.7h0M91.8,767.5h0M70.6,759.9h0M20.6,746.2h0M45.0,796.0h0M70.0,765.1h0M42.5,734.8h0M35.2,740.9h0M41.0,769.4h0M92.1,818.6h0M25.4,756.4h0M82.2,796.1h0M54.5,795.6h0M37.5,814.9h0M77.0,746.6h0M106.4,803.3h0M32.3,759.1h0M15.8,759.9h0M30.3,814.1h0M86.1,754.1h0M82.7,763.8h0M98.3,807.7h0M16.2,815.6h0M16.6,753.1h0M93.9,749.6h0M89.5,736.8h0M52.6,804.7h0M40.9,737.2h0M55.7,823.4h0M88.4,813.2h0M58.7,733.6h0M56.2,780.5h0M24.9,806.2h0M84.6,810.7h0M68.4,827.5h0M68.2,753.6h0M48.8,770.2h0M43.9,742.0h0M81.3,752.4h0M65.2,773.7h0M48.2,758.7h0M26.4,785.8h0M96.3,784.3h0M29.3,796.4h0M59.6,806.6h0M23.6,757.7h0M33.1,734.2h0M32.2,800.0h0M23.4,761.3h0M49.4,745.2h0M12.8,829.8h0M20.4,801.6h0M70.2,739.2h0M56.8,747.5h0M12.6,822.3h0M76.9,824.0h0M37.8,753.2h0M14.6,807.5h0M42.5,747.1h0M99.5,823.1h0M93.1,813.2h0M45.6,746.9h0M44.9,765.8h0M50.0,813.3h0M16.0,786.2h0M96.8,800.4h0M109.8,778.7h0M28.0,758.7h0M20.0,798.6h0M57.7,827.5h0M15.8,773.1h0M100.5,808.7h0M41.1,795.9h0M55.4,762.7h0M80.8,812.8h0M28.8,758.3h0M70.2,763.7h0M20.5,761.2h0M112.5,821.2h0M112.8,826.7h0M74.9,758.5h0M110.6,777.3h0M42.8,763.2h0M14.6,747.4h0M58.1,736.7h0M50.3,787.6h0M66.7,786.0h0M23.6,746.5h0M68.6,739.5h0M38.0,737.7h0M37.8,778.2h0M35.2,786.8h0M65.0,788.4h0M54.1,735.5h0M101.3,784.5h0M90.3,739.8h0M86.6,738.5h0M52.4,745.6h0M70.1,807.5h0M92.3,733.9h0M33.8,758.8h0M55.9,819.2h0M102.2,785.8h0M102.1,745.2h0M47.1,806.3h0M97.4,740.6h0M88.2,825.3h0M16.2,789.9h0M68.7,810.4h0M107.8,797.3h0M31.7,773.8h0M72.0,739.7h0M23.2,810.2h0M69.2,757.8h0M51.2,742.8h0M67.6,798.7h0M27.4,779.5h0M96.6,797.7h0M61.1,744.2h0M52.5,817.6h0M19.6,761.8h0M104.5,788.5h0M29.3,765.0h0M71.6,767.8h0M12.3,787.4h0M13.8,775.1h0M16.4,743.0h0M40.0,756.0h0M38.9,786.4h0M111.0,829.8h0M69.9,807.1h0M92.1,793.0h0M49.4,756.9h0M102.3,824.3h0M43.3,806.3h0M64.5,793.2h0M68.9,769.7h0M46.7,761.2h0M61.7,765.7h0M36.1,763.8h0M12.5,817.4h0M57.9,786.4h0M43.7,802.6h0M109.0,762.9h0M72.3,736.2h0M72.0,829.3h0M92.1,771.9h0M18.7,777.7h0M40.3,754.4h0M28.8,755.5h0M34.4,769.0h0M74.3,816.7h0M32.1,803.3h0M74.1,736.1h0M102.6,763.0h0M31.2,783.1h0M78.1,822.7h0M45.6,804.9h0M53.8,797.7h0M17.7,770.5h0M76.7,762.3h0M73.8,754.4h0M13.1,822.9h0M86.9,761.8h0M27.9,742.6h0M21.0,811.5h0M67.6,788.4h0M79.9,789.7h0M88.6,754.5h0M90.9,807.6h0M91.9,828.3h0M40.6,781.7h0M79.7,807.4h0M114.4,751.4h0M17.9,779.5h0M30.6,824.4h0M27.2,746.2h0M107.3,744.6h0M92.5,752.9h0M63.5,793.3h0M94.8,775.2h0M105.5,739.1h0M18.5,794.2h0M54.3,822.3h0M76.8,751.0h0M38.9,772.5h0M32.8,805.9h0M42.7,830.0h0M70.8,744.1h0M101.9,755.4h0M97.1,757.0h0M62.1,819.4h0M82.6,789.3h0M71.8,818.6h0M103.4,765.0h0M101.3,746.7h0M115.0,758.5h0M23.3,828.0h0M106.3,743.5h0M21.8,745.3h0M21.1,762.8h0M86.1,818.5h0M15.1,752.1h0M83.3,731.9h0M35.7,772.2h0M13.8,829.7h0M102.9,740.4h0M25.8,772.0h0M82.8,743.2h0M63.7,739.5h0M63.2,822.3h0M34.0,827.3h0M87.6,756.0h0M39.2,735.1h0M64.5,769.9h0M79.5,783.8h0M83.4,828.8h0M86.2,769.0h0M55.2,827.8h0M51.7,770.1h0M107.8,754.1h0M50.8,752.7h0M23.8,814.5h0M45.4,794.3h0M44.5,827.7h0M89.2,815.6h0M73.2,830.1h0M77.0,804.3h0M85.6,768.4h0M75.3,797.5h0M77.0,783.7h0M75.3,755.2h0M60.8,802.0h0M61.2,750.7h0M108.0,782.2h0M66.5,811.5h0M29.6,812.3h0M78.2,812.9h0M98.1,811.9h0M27.7,753.8h0M48.7,810.4h0M58.7,737.0h0M115.2,799.3h0M61.4,809.9h0M27.3,797.8h0M65.7,752.4h0M47.0,767.1h0M32.5,786.5h0M30.2,801.7h0M45.3,752.8h0M21.2,793.3h0M32.6,771.4h0M75.8,766.1h0M57.6,765.7h0M42.3,769.9h0M95.9,764.2h0M71.8,822.9h0M112.5,801.0h0M80.8,761.8h0M90.2,766.9h0M63.2,820.5h0M14.4,788.8h0M59.7,814.1h0M60.9,819.4h0M62.7,780.5h0M81.3,804.0h0M15.9,797.8h0M91.5,807.0h0M34.6,735.9h0M70.3,733.6h0M85.5,777.5h0M83.4,770.9h0M115.3,811.8h0M26.8,762.3h0M12.3,829.4h0M38.9,760.1h0M100.9,785.0h0M55.3,733.2h0M101.7,810.3h0M38.4,748.7h0M67.4,766.4h0M62.5,787.9h0M94.9,748.5h0M69.4,733.2h0M67.0,770.0h0M45.3,756.1h0M42.0,800.9h0M73.2,774.6h0M57.9,818.1h0M56.7,793.6h0M30.4,822.6h0M94.8,779.1h0M81.8,758.3h0M98.7,743.0h0M33.2,738.3h0M93.1,825.6h0M80.1,754.4h0M82.9,743.9h0M83.9,732.3h0M42.2,751.9h0M44.8,785.5h0M106.4,761.3h0M27.5,810.0h0M52.3,731.4h0M78.2,750.9h0M21.4,775.7h0M56.3,797.7h0M97.7,740.5h0M115.1,824.4h0M41.9,763.7h0M63.2,823.4h0M62.0,816.6h0M67.8,737.1h0M39.8,819.6h0M35.3,822.9h0M73.9,827.3h0M109.7,795.4h0M46.3,774.1h0M88.8,746.4h0M42.7,735.1h0M21.6,784.6h0M73.5,775.3h0M65.0,738.0h0M25.4,787.3h0M50.6,796.0h0M29.3,824.6h0M99.1,817.6h0M23.9,778.9h0M23.9,776.0h0M67.3,780.0h0M32.2,769.4h0M24.9,752.6h0M63.8,819.4h0M109.6,778.1h0M70.9,798.7h0M89.6,743.8h0M14.9,768.3h0M42.0,819.4h0M71.8,752.0h0M93.1,800.9h0M37.2,789.5h0M16.0,791.4h0M96.3,763.1h0M59.6,822.5h0M109.3,770.3h0M20.8,753.1h0M82.2,743.5h0M26.3,748.3h0M46.1,828.1h0M93.9,777.2h0M92.6,821.2h0M77.8,748.4h0M99.5,808.7h0M86.2,763.8h0M111.9,797.0h0M25.7,813.0h0M105.6,804.4h0M95.0,788.6h0M97.4,808.5h0M42.7,826.6h0M109.9,739.9h0M93.4,753.9h0M35.8,748.3h0M36.3,778.5h0M82.8,800.9h0M93.1,809.4h0M109.4,812.7h0M20.7,794.9h0M46.9,789.0h0M55.2,790.0h0M46.5,749.9h0M99.4,791.5h0M20.8,755.8h0M57.6,795.8h0M24.2,798.1h0M97.1,746.9h0M111.1,765.2h0M104.1,790.6h0M52.6,779.3h0M64.3,829.4h0M97.9,744.6h0M11.7,746.0h0M58.9,811.0h0M48.3,738.4h0M101.2,780.7h0M108.1,819.7h0M19.6,792.0h0M111.1,765.1h0M77.3,766.6h0M81.9,821.1h0M49.5,828.2h0M98.4,798.1h0M58.2,805.1h0M87.4,804.9h0M45.5,742.1h0M104.2,742.8h0M71.6,732.8h0M89.3,793.8h0M90.8,757.9h0M55.4,828.4h0M95.2,797.4h0M111.7,800.8h0M40.5,744.6h0M97.4,809.4h0M26.2,780.9h0M28.5,803.8h0M44.1,733.5h0M51.5,827.2h0M31.1,759.7h0M32.2,760.9h0M23.0,754.7h0M51.7,826.9h0M32.9,821.2h0M98.6,793.4h0M44.4,743.6h0M60.5,785.3h0M89.8,756.3h0M106.9,782.3h0M77.1,754.6h0M16.0,812.8h0M48.4,824.4h0M37.0,735.2h0M89.9,797.6h0M95.5,739.4h0M78.6,827.2h0M83.5,807.5h0M109.3,804.2h0M52.4,810.7h0M31.0,817.4h0M65.8,796.7h0M25.6,762.8h0M54.6,779.5h0M81.0,787.3h0M71.3,756.1h0M93.5,814.0h0M81.4,805.4h0M104.9,820.2h0M96.9,794.6h0M25.3,800.2h0M75.3,756.2h0M74.3,812.6h0M33.8,751.0h0M81.9,828.0h0M49.0,799.8h0M98.7,761.4h0M77.0,742.2h0M17.8,773.7h0M23.2,751.0h0M47.0,762.0h0M34.3,809.4h0M98.8,811.0h0M14.9,807.8h0M64.1,771.5h0M77.1,802.3h0M53.2,780.5h0M35.2,817.0h0M95.2,826.6h0M25.6,774.6h0M85.2,774.6h0M31.4,769.3h0M31.9,803.5h0M57.2,748.3h0M32.1,755.3h0M84.5,827.8h0M110.1,822.4h0M86.4,734.4h0M13.1,816.6h0M77.1,755.1h0M28.7,792.9h0M43.4,732.5h0M48.6,820.2h0M58.9,738.5h0M27.7,807.8h0M114.5,821.5h0M61.1,812.3h0M23.0,785.8h0M33.4,753.8h0M106.0,800.9h0M113.5,772.8h0M51.6,811.3h0M72.5,766.9h0M97.9,808.6h0M16.2,819.2h0M19.1,761.2h0M103.6,777.7h0M33.1,753.0h0M51.4,738.7h0M24.8,748.5h0M72.5,793.3h0M57.3,734.9h0M17.3,776.3h0M81.5,801.2h0M79.1,799.0h0M26.4,821.3h0M18.2,752.5h0M35.4,768.3h0M97.2,793.0h0M36.7,823.5h0M81.4,823.5h0M107.1,755.0h0M13.6,805.7h0M112.7,800.8h0M95.5,744.7h0M22.7,808.7h0M69.4,812.3h0M76.0,789.0h0M41.9,768.7h0M95.9,775.0h0M79.2,749.3h0M23.2,828.2h0M48.3,737.6h0M99.9,815.0h0M49.9,759.1h0M27.0,790.2h0M23.5,799.0h0M65.7,774.7h0M75.1,794.5h0M87.8,809.7h0M98.6,801.5h0M82.4,815.2h0M102.9,746.4h0M57.6,800.5h0M42.9,763.8h0M21.5,773.4h0M79.6,823.6h0M98.6,830.0h0M40.2,753.6h0M13.9,751.7h0M107.3,761.7h0M92.1,819.3h0M66.9,738.8h0M44.3,792.3h0M67.5,827.1h0M66.8,794.7h0M109.1,769.8h0M83.3,827.3h0M33.7,757.5h0M13.1,754.7h0M114.4,746.1h0M83.0,798.9h0M89.9,753.5h0M14.6,798.9h0M38.6,826.9h0M73.1,795.3h0M83.8,759.2h0M26.5,739.6h0M112.3,798.5h0M91.6,746.3h0M43.2,770.0h0M57.9,802.7h0M108.5,763.1h0M14.9,813.0h0M100.5,810.4h0M105.6,744.2h0M72.6,795.8h0M51.5,794.9h0M34.9,734.6h0M100.2,741.3h0M49.4,802.1h0M93.5,753.8h0M66.0,739.4h0M94.3,757.3h0M91.1,751.0h0M34.4,767.4h0M78.3,776.4h0M16.9,796.1h0M23.7,775.2h0M21.4,740.1h0M29.7,751.7h0M60.4,824.1h0M19.1,750.8h0M70.1,817.3h0M100.8,739.3h0M66.2,752.6h0M101.5,749.8h0M39.2,822.8h0M87.6,735.6h0M44.7,749.1h0M49.2,740.3h0M61.7,746.5h0M79.5,780.8h0M60.5,804.0h0M36.0,779.2h0M79.3,742.9h0M109.9,804.0h0M49.9,820.6h0M35.3,789.4h0M20.2,750.3h0M57.3,742.4h0M89.4,787.8h0M53.4,797.7h0M110.1,751.9h0M64.8,825.3h0M114.7,791.7h0M98.3,748.7h0M59.1,751.2h0M45.1,769.8h0M81.1,730.4h0M28.5,813.0h0M74.8,754.5h0M70.0,801.0h0M36.7,740.4h0M27.2,742.1h0M72.1,819.0h0M36.0,745.2h0M58.7,770.0h0M80.4,816.3h0M39.6,824.7h0M17.1,821.9h0M13.5,757.7h0M112.1,817.3h0M66.6,815.1h0M79.5,780.6h0M37.0,795.5h0M94.9,820.2h0M70.9,746.6h0M38.2,752.3h0M66.1,797.5h0M88.6,792.0h0M81.5,810.0h0M61.0,797.6h0M78.9,746.5h0M93.3,751.9h0M111.1,749.3h0M111.5,820.3h0M88.0,764.9h0M91.3,741.1h0M34.0,755.3h0M25.8,769.7h0M19.8,787.7h0M71.6,764.5h0M57.1,746.0h0M13.5,797.4h0M50.1,826.8h0M98.4,793.9h0M84.9,827.1h0M91.2,758.9h0M97.0,789.7h0M102.5,788.4h0M13.3,782.9h0M40.0,735.2h0M29.7,799.4h0M35.6,755.2h0M108.7,827.5h0M46.5,781.6h0M55.0,777.1h0M21.2,792.0h0M39.0,809.2h0M47.2,778.5h0M108.1,785.5h0M27.7,799.1h0M86.1,751.5h0M94.9,737.7h0M31.6,800.6h0M93.8,751.7h0M80.6,786.0h0M31.7,787.8h0M77.5,752.7h0M55.7,782.7h0M14.9,802.3h0M41.9,793.6h0M75.5,820.5h0M44.0,796.0h0M28.0,751.2h0M97.5,801.5h0M94.2,759.8h0M86.6,733.7h0M27.4,823.6h0M59.6,748.3h0M64.3,781.5h0M86.1,782.3h0M61.9,753.9h0M34.7,760.7h0M85.6,807.0h0M58.1,823.2h0M75.9,738.8h0M77.8,756.6h0M113.5,821.3h0M60.1,791.5h0M18.8,805.0h0M57.1,736.8h0M21.5,826.9h0M41.6,806.8h0M66.9,813.5h0M29.7,806.5h0M46.8,740.6h0M112.6,740.0h0M88.6,819.5h0M60.8,826.1h0M41.7,775.7h0M87.9,741.3h0M111.2,739.0h0M46.9,753.4h0M60.4,829.6h0M100.4,761.0h0M89.0,763.0h0M55.1,812.3h0M74.7,820.3h0M45.6,815.1h0M39.3,765.5h0M48.3,766.8h0M35.3,821.3h0M77.7,819.0h0M37.1,822.3h0M114.5,802.7h0M96.1,754.0h0M51.2,814.2h0M67.7,762.5h0M47.5,814.6h0M102.9,742.3h0M89.0,797.5h0M16.7,817.3h0M59.0,762.8h0M92.9,817.2h0M47.0,753.6h0M35.3,735.2h0M88.6,748.4h0M53.4,810.3h0M43.9,792.9h0M60.5,820.3h0M44.0,817.7h0M22.7,788.3h0M65.5,777.7h0M103.1,796.3h0M49.3,765.3h0M83.9,740.8h0M15.3,788.6h0M86.2,772.0h0M66.1,812.2h0M48.7,750.8h0M94.9,750.5h0M114.7,772.5h0M85.4,823.4h0M43.0,761.8h0M31.1,784.1h0M81.1,742.7h0M115.5,785.6h0M30.7,821.4h0M90.5,817.1h0M107.6,749.3h0M63.8,820.2h0M110.8,780.4h0M69.8,742.7h0M95.1,771.5h0M38.6,756.3h0M65.0,776.0h0M12.3,762.9h0M89.4,752.3h0M65.3,746.0h0M105.5,748.7h0M86.5,804.9h0M85.5,756.0h0M57.6,736.9h0M94.4,797.5h0M59.4,793.5h0M46.6,806.7h0M32.3,744.5h0M75.9,759.1h0M34.4,736.7h0M44.5,779.8h0M61.5,773.1h0M62.2,824.9h0M32.2,788.7h0M112.1,769.4h0M55.8,764.1h0M52.4,743.6h0M87.3,764.4h0M107.2,769.2h0M42.7,784.9h0M88.0,825.4h0M49.7,815.4h0M72.9,797.5h0M109.8,784.4h0M30.6,739.8h0M61.5,778.9h0M104.6,763.9h0M108.2,793.6h0M46.2,767.7h0M93.3,754.7h0M51.9,765.2h0M67.6,756.3h0M97.0,744.4h0M14.0,747.8h0M95.3,743.1h0M17.7,755.1h0M86.5,821.4h0M68.9,822.6h0M107.7,772.5h0M89.3,816.1h0M21.4,817.6h0M73.7,828.2h0M17.5,740.7h0M85.2,792.6h0M28.5,746.6h0M81.5,827.5h0M113.3,772.6h0M38.0,751.9h0M115.0,800.4h0M30.4,743.6h0M88.2,734.0h0M82.4,731.4h0M93.8,787.1h0M103.2,789.7h0M52.8,824.8h0M106.7,785.5h0M29.9,767.3h0M12.2,810.3h0M54.7,796.7h0M87.3,769.9h0M110.9,823.3h0M44.5,766.6h0M105.5,809.3h0M96.9,829.7h0M44.7,805.7h0M75.1,744.3h0M62.4,756.2h0M20.3,823.4h0M27.2,806.1h0M105.9,788.2h0M108.6,737.0h0M22.4,756.4h0M102.1,773.3h0M38.3,802.9h0M21.8,778.7h0M34.0,795.1h0M50.2,822.4h0M115.3,771.8h0M95.6,805.8h0M101.3,769.2h0M60.8,740.2h0M26.7,797.7h0M114.3,783.5h0M25.3,793.3h0M37.6,811.6h0M61.3,736.9h0M60.4,801.7h0M47.3,823.7h0M25.9,811.6h0M31.0,779.3h0M28.7,823.4h0M93.3,753.7h0M34.7,821.0h0M112.5,807.1h0M67.0,815.7h0M21.9,821.8h0M82.5,804.4h0M59.8,812.4h0M107.5,744.5h0M69.2,769.6h0M25.9,776.3h0M39.5,765.7h0M90.8,788.5h0M103.7,765.7h0M113.6,742.4h0M112.1,767.5h0M44.3,730.9h0M24.6,757.2h0M70.1,825.3h0M49.3,825.4h0M68.1,816.5h0M49.1,790.1h0M112.3,753.1h0M33.1,780.1h0M98.6,796.6h0M107.9,829.8h0M56.0,827.4h0M105.4,788.5h0M13.1,748.8h0M98.1,738.4h0M39.5,818.3h0M45.3,827.2h0M84.1,734.9h0M113.6,739.3h0M39.8,743.2h0M80.4,825.8h0M114.8,791.9h0M28.4,802.5h0M49.0,820.3h0M26.4,744.2h0M72.8,810.2h0M63.9,786.9h0M54.5,783.8h0M17.7,771.4h0" stroke="#1a34a6" stroke-width="2.0" stroke-linecap="round" fill="none" opacity="0.75"/>
<path d="M45.3,743.5h0M56.7,735.2h0M71.6,768.7h0M96.4,746.5h0M72.5,774.5h0M87.4,757.5h0M81.1,806.4h0M98.9,824.9h0M41.2,767.6h0M102.2,736.3h0M48.9,818.7h0M50.0,786.1h0M92.7,817.7h0M33.4,744.7h0M37.9,763.6h0M22.3,763.2h0M68.1,730.8h0M91.8,782.6h0M96.6,803.9h0M83.6,826.1h0M32.1,749.0h0M80.3,821.3h0M112.6,768.6h0M95.4,743.0h0M112.5,794.7h0M42.1,752.7h0M72.3,820.8h0M29.6,776.6h0M69.9,753.5h0M75.3,779.9h0M102.7,824.7h0M19.2,752.7h0M26.5,818.6h0M28.5,772.3h0M76.5,780.6h0M92.6,755.7h0M70.9,799.9h0M94.9,736.6h0M39.5,741.3h0M43.4,805.9h0M87.8,784.5h0M98.3,768.3h0M53.7,763.7h0M41.0,752.9h0M68.5,753.1h0M32.6,779.8h0M89.6,795.5h0M78.5,732.5h0M64.1,813.7h0M22.6,813.8h0M80.1,734.8h0M113.0,778.7h0M27.0,754.1h0M83.5,797.3h0M113.2,824.1h0M109.9,749.6h0M103.8,800.2h0M43.0,742.4h0M107.9,801.2h0M56.1,756.2h0M64.7,747.5h0M68.7,801.8h0M107.9,741.1h0M42.9,785.2h0M105.8,830.2h0M38.5,786.4h0M18.1,756.5h0M37.5,769.0h0M11.7,768.2h0M65.9,798.0h0M92.9,751.9h0M72.2,767.8h0M103.4,776.8h0M81.0,822.9h0M88.4,779.8h0M42.3,825.7h0M52.5,749.8h0M45.9,747.0h0M111.8,749.3h0M107.1,747.8h0M46.9,755.9h0M90.1,822.0h0M62.9,823.2h0M44.9,765.1h0M69.1,761.4h0M55.0,791.6h0M70.5,766.3h0M45.6,768.6h0M61.0,812.0h0M101.6,774.1h0M50.0,742.5h0M32.8,809.6h0M41.1,759.6h0M49.5,748.2h0M13.2,784.6h0M41.1,781.5h0M109.6,828.1h0M28.3,808.6h0M65.5,767.4h0M15.7,814.0h0M55.9,795.6h0M92.7,775.0h0M64.7,732.2h0M50.9,825.6h0M62.8,826.2h0M28.2,820.0h0M64.2,760.7h0M93.2,739.8h0M22.6,829.9h0M91.1,773.4h0M75.6,772.3h0M48.5,738.9h0M25.7,824.1h0M70.1,763.9h0M66.9,769.7h0M32.4,790.4h0M104.0,808.3h0M35.2,738.8h0M39.3,784.8h0M36.2,804.3h0M77.2,799.1h0M86.9,786.5h0M22.8,823.3h0M49.4,811.9h0M99.7,811.3h0M13.9,754.3h0M75.9,731.2h0M101.2,737.3h0M30.9,778.7h0M63.4,739.3h0M53.4,768.5h0M63.7,766.9h0M47.9,761.5h0M71.8,740.9h0M27.7,744.0h0M87.3,738.4h0M32.1,793.5h0M63.7,792.9h0M71.3,804.9h0M82.2,793.8h0M77.1,753.7h0M79.6,807.8h0M109.3,781.3h0M65.9,770.1h0M48.6,733.8h0M39.2,751.0h0M25.1,807.7h0M78.0,812.0h0M100.0,755.4h0M37.1,759.0h0M17.6,812.9h0M110.5,795.3h0M105.5,809.2h0M98.8,748.3h0M36.0,742.3h0M60.3,785.7h0M82.6,823.6h0M49.7,776.7h0M42.1,812.9h0M46.0,760.5h0M68.3,733.1h0M106.1,790.8h0M59.2,806.3h0M38.5,759.0h0M13.2,767.7h0M33.7,743.6h0M36.8,803.3h0M77.0,800.8h0M44.0,802.8h0M82.0,742.9h0M109.8,808.5h0M74.6,828.3h0M74.2,819.9h0M40.1,815.3h0M32.5,805.0h0M89.7,809.2h0M103.6,781.5h0M70.3,769.3h0M47.5,781.3h0M92.6,771.7h0M69.6,817.3h0M111.3,754.4h0M111.9,829.8h0M16.6,808.7h0M82.0,758.7h0M29.2,752.5h0M21.8,823.3h0M26.5,750.7h0M27.9,755.8h0M81.1,749.7h0M107.7,738.0h0M11.9,813.4h0M30.4,807.0h0M33.1,790.8h0M86.6,733.7h0M31.0,813.3h0M65.2,740.4h0M18.1,817.5h0M37.7,811.8h0M66.0,800.1h0M40.7,740.5h0M28.8,812.7h0M92.3,762.7h0M111.1,823.9h0M64.1,730.1h0M39.3,797.6h0M110.4,757.5h0M60.1,782.8h0M20.8,784.1h0M68.6,790.9h0M12.9,764.2h0M91.8,744.3h0M23.0,751.1h0M99.9,812.3h0M106.6,741.1h0M55.1,808.4h0M52.3,785.0h0M43.3,742.9h0M111.2,749.0h0M65.4,781.1h0M66.2,738.2h0M57.4,792.1h0M97.4,780.6h0M27.9,757.7h0M114.9,793.3h0M32.1,779.1h0M24.3,744.1h0M95.4,734.4h0M22.0,820.7h0M111.3,773.1h0M111.4,778.8h0M62.0,809.3h0M23.6,782.8h0M31.5,757.1h0M39.7,813.7h0M50.8,826.3h0M38.8,820.3h0M65.0,783.7h0M20.6,746.2h0M42.5,734.8h0M92.1,818.6h0M54.5,795.6h0M106.4,803.3h0M30.3,814.1h0M98.3,807.7h0M93.9,749.6h0M40.9,737.2h0M58.7,733.6h0M84.6,810.7h0M48.8,770.2h0M65.2,773.7h0M96.3,784.3h0M23.6,757.7h0M23.4,761.3h0M20.4,801.6h0M12.6,822.3h0M14.6,807.5h0M93.1,813.2h0M50.0,813.3h0M109.8,778.7h0M57.7,827.5h0M41.1,795.9h0M28.8,758.3h0M112.5,821.2h0M110.6,777.3h0M58.1,736.7h0M23.6,746.5h0M37.8,778.2h0M54.1,735.5h0M86.6,738.5h0M92.3,733.9h0M102.2,785.8h0M97.4,740.6h0M68.7,810.4h0M72.0,739.7h0M51.2,742.8h0M96.6,797.7h0M19.6,761.8h0M71.6,767.8h0M16.4,743.0h0M111.0,829.8h0M49.4,756.9h0M64.5,793.2h0M61.7,765.7h0M57.9,786.4h0M72.3,736.2h0M18.7,777.7h0M34.4,769.0h0M74.1,736.1h0M78.1,822.7h0M17.7,770.5h0M13.1,822.9h0M21.0,811.5h0M88.6,754.5h0M40.6,781.7h0M17.9,779.5h0M107.3,744.6h0M94.8,775.2h0M54.3,822.3h0M32.8,805.9h0M101.9,755.4h0M82.6,789.3h0M101.3,746.7h0M106.3,743.5h0M86.1,818.5h0M35.7,772.2h0M25.8,772.0h0M63.2,822.3h0M39.2,735.1h0M83.4,828.8h0M51.7,770.1h0M23.8,814.5h0M89.2,815.6h0M85.6,768.4h0M75.3,755.2h0M108.0,782.2h0M78.2,812.9h0M48.7,810.4h0M61.4,809.9h0M47.0,767.1h0M45.3,752.8h0M75.8,766.1h0M95.9,764.2h0M80.8,761.8h0M14.4,788.8h0M62.7,780.5h0M91.5,807.0h0M85.5,777.5h0M26.8,762.3h0M100.9,785.0h0M38.4,748.7h0M94.9,748.5h0M45.3,756.1h0M57.9,818.1h0M94.8,779.1h0M33.2,738.3h0M82.9,743.9h0M44.8,785.5h0M52.3,731.4h0M56.3,797.7h0M41.9,763.7h0M67.8,737.1h0M73.9,827.3h0M88.8,746.4h0M73.5,775.3h0M50.6,796.0h0M23.9,778.9h0M32.2,769.4h0M109.6,778.1h0M14.9,768.3h0M93.1,800.9h0M96.3,763.1h0M20.8,753.1h0M46.1,828.1h0M77.8,748.4h0M111.9,797.0h0M95.0,788.6h0M109.9,739.9h0M36.3,778.5h0M109.4,812.7h0M55.2,790.0h0M20.8,755.8h0M97.1,746.9h0M52.6,779.3h0M11.7,746.0h0M101.2,780.7h0M111.1,765.1h0M49.5,828.2h0M87.4,804.9h0M71.6,732.8h0M55.4,828.4h0M40.5,744.6h0M28.5,803.8h0M31.1,759.7h0M51.7,826.9h0M44.4,743.6h0M106.9,782.3h0M48.4,824.4h0M95.5,739.4h0M109.3,804.2h0M65.8,796.7h0M81.0,787.3h0M81.4,805.4h0M25.3,800.2h0M33.8,751.0h0M98.7,761.4h0M23.2,751.0h0M98.8,811.0h0M77.1,802.3h0M95.2,826.6h0M31.4,769.3h0M32.1,755.3h0M86.4,734.4h0M28.7,792.9h0M58.9,738.5h0M61.1,812.3h0M106.0,800.9h0M72.5,766.9h0M19.1,761.2h0M51.4,738.7h0M57.3,734.9h0M79.1,799.0h0M35.4,768.3h0M81.4,823.5h0M112.7,800.8h0M69.4,812.3h0M95.9,775.0h0M48.3,737.6h0M27.0,790.2h0M75.1,794.5h0M82.4,815.2h0M42.9,763.8h0M98.6,830.0h0M107.3,761.7h0M44.3,792.3h0M109.1,769.8h0M13.1,754.7h0M89.9,753.5h0M73.1,795.3h0M112.3,798.5h0M57.9,802.7h0M100.5,810.4h0M51.5,794.9h0M49.4,802.1h0M94.3,757.3h0M78.3,776.4h0M21.4,740.1h0M19.1,750.8h0M66.2,752.6h0M87.6,735.6h0M61.7,746.5h0M36.0,779.2h0M49.9,820.6h0M57.3,742.4h0M110.1,751.9h0M98.3,748.7h0M81.1,730.4h0M70.0,801.0h0M72.1,819.0h0M80.4,816.3h0M13.5,757.7h0M79.5,780.6h0M70.9,746.6h0M88.6,792.0h0M78.9,746.5h0M111.5,820.3h0M34.0,755.3h0M71.6,764.5h0M50.1,826.8h0M91.2,758.9h0M13.3,782.9h0M35.6,755.2h0M55.0,777.1h0M47.2,778.5h0M86.1,751.5h0M93.8,751.7h0M77.5,752.7h0M41.9,793.6h0M28.0,751.2h0M86.6,733.7h0M64.3,781.5h0M34.7,760.7h0M75.9,738.8h0M60.1,791.5h0M21.5,826.9h0M29.7,806.5h0M88.6,819.5h0M87.9,741.3h0M60.4,829.6h0M55.1,812.3h0M39.3,765.5h0M77.7,819.0h0M96.1,754.0h0M47.5,814.6h0M16.7,817.3h0M47.0,753.6h0M53.4,810.3h0M44.0,817.7h0M103.1,796.3h0M15.3,788.6h0M48.7,750.8h0M85.4,823.4h0M81.1,742.7h0M90.5,817.1h0M110.8,780.4h0M38.6,756.3h0M89.4,752.3h0M86.5,804.9h0M94.4,797.5h0M32.3,744.5h0M44.5,779.8h0M32.2,788.7h0M52.4,743.6h0M42.7,784.9h0M72.9,797.5h0M61.5,778.9h0M46.2,767.7h0M67.6,756.3h0M95.3,743.1h0M68.9,822.6h0M21.4,817.6h0M85.2,792.6h0M113.3,772.6h0M30.4,743.6h0M93.8,787.1h0M106.7,785.5h0M54.7,796.7h0M44.5,766.6h0M44.7,805.7h0M20.3,823.4h0M108.6,737.0h0M38.3,802.9h0M50.2,822.4h0M101.3,769.2h0M114.3,783.5h0M61.3,736.9h0M25.9,811.6h0M93.3,753.7h0M67.0,815.7h0M59.8,812.4h0M25.9,776.3h0M103.7,765.7h0M44.3,730.9h0M49.3,825.4h0M112.3,753.1h0M107.9,829.8h0M13.1,748.8h0M45.3,827.2h0M39.8,743.2h0M28.4,802.5h0M72.8,810.2h0M17.7,771.4h0" stroke="#2446c8" stroke-width="1.3" stroke-linecap="round" fill="none" opacity="0.8"/>
<path d="M90.3,752.8h0M97.2,752.8h0M21.3,777.0h0M51.9,762.4h0M91.1,750.8h0M81.2,813.6h0M58.7,779.6h0M107.6,790.0h0M30.5,735.1h0M20.2,762.0h0M20.9,794.6h0M55.7,759.7h0M64.9,824.1h0M37.1,743.9h0M43.4,761.3h0M106.1,800.5h0M56.2,745.0h0M16.4,740.6h0M99.7,794.5h0M28.0,792.1h0M17.8,780.0h0M46.5,738.5h0M88.8,801.5h0M64.7,745.2h0M81.2,772.5h0M80.3,737.4h0M105.4,728.4h0M34.8,768.9h0M32.3,737.0h0M83.1,830.0h0M46.5,755.3h0M81.3,750.8h0M53.3,798.6h0M56.4,744.0h0M19.0,783.7h0M114.5,822.4h0M22.1,779.5h0M62.4,747.9h0M81.2,778.8h0M95.7,758.0h0M108.6,811.6h0M60.9,742.5h0M61.9,741.0h0M82.9,799.6h0M71.7,828.2h0M16.4,801.4h0M94.8,739.6h0M45.1,733.5h0M72.2,802.2h0M47.8,799.4h0M49.8,801.1h0M40.4,828.4h0M57.2,728.4h0M21.2,802.5h0M101.5,793.3h0M27.8,817.5h0M86.1,739.8h0M51.2,796.9h0M12.1,732.3h0M48.4,817.7h0M115.1,760.7h0M106.0,808.6h0M101.5,788.4h0M112.3,794.1h0M110.1,786.1h0M32.1,781.2h0M61.8,762.6h0M50.5,780.4h0M72.7,750.8h0M40.5,779.6h0M64.0,771.0h0M80.6,747.0h0M66.9,756.3h0M91.6,800.2h0M92.8,781.1h0M37.5,823.0h0M64.7,766.5h0M41.8,769.2h0M85.3,812.0h0M61.8,803.0h0M33.8,774.4h0M48.9,759.4h0M49.0,805.4h0M87.8,749.3h0M36.0,808.5h0M79.6,797.4h0M77.6,799.2h0M40.0,734.2h0M49.1,731.3h0M111.6,781.8h0M81.3,827.2h0M95.2,751.5h0M46.7,739.1h0M94.3,803.6h0M62.3,765.9h0M39.7,778.0h0M85.6,819.9h0M99.8,817.0h0M57.3,771.2h0M44.3,828.0h0M30.7,744.2h0M40.9,822.6h0M100.2,762.0h0M100.1,819.4h0M56.0,747.7h0M91.9,766.4h0M24.1,820.6h0M57.3,768.8h0M73.5,754.2h0M13.8,768.0h0M51.1,729.1h0M50.3,806.1h0M46.3,797.7h0M76.5,747.3h0M13.8,797.2h0M75.1,758.1h0M32.5,815.8h0M106.1,751.9h0M72.5,787.0h0M45.1,731.7h0M45.5,794.1h0M74.2,780.3h0M24.4,749.8h0M44.0,770.7h0M49.4,820.6h0M23.7,829.2h0M36.7,815.9h0M37.0,788.3h0M50.9,731.9h0M94.4,811.2h0M39.6,807.6h0M61.4,829.3h0M17.3,767.0h0M35.3,792.1h0M92.4,814.4h0M68.6,767.7h0M94.7,738.7h0M38.7,805.2h0M57.4,829.9h0M21.1,775.4h0M33.8,728.2h0M21.4,737.3h0M50.0,772.4h0M64.4,757.7h0M84.6,781.0h0M113.6,745.4h0M64.7,778.7h0M50.3,816.4h0M33.4,818.0h0M48.8,762.4h0M75.5,785.8h0M41.2,736.7h0M110.9,765.9h0M23.6,795.4h0M66.9,761.6h0M45.8,814.7h0M46.8,770.8h0M111.0,765.0h0M53.4,744.6h0M80.5,796.2h0M58.0,769.6h0M35.9,809.1h0M59.2,813.4h0M50.6,803.3h0M14.7,750.5h0M111.4,798.0h0M81.8,779.0h0M60.7,748.3h0M29.7,794.2h0M83.7,754.5h0M78.6,742.0h0M75.3,745.6h0M64.6,760.2h0M68.9,741.7h0M61.9,791.3h0M25.7,759.7h0M82.1,784.0h0M75.7,808.0h0M71.0,750.8h0M57.6,813.2h0M70.5,805.3h0M49.5,774.0h0M112.4,812.4h0M79.5,738.9h0M75.2,731.4h0M108.6,827.7h0M87.3,755.5h0M99.5,746.2h0M97.6,781.4h0M13.3,819.3h0M57.4,813.2h0M83.2,782.7h0M101.2,748.8h0M105.0,762.8h0M14.4,762.5h0M18.6,735.4h0M76.5,740.4h0M28.3,758.0h0M40.6,822.4h0M105.7,817.3h0M114.4,773.2h0M94.3,756.8h0M107.9,811.2h0M87.7,751.4h0M21.2,822.9h0M69.0,790.8h0M101.2,742.7h0M84.3,775.6h0M93.3,774.8h0M32.1,826.1h0M40.9,804.4h0M98.0,753.4h0M83.8,768.6h0M35.0,750.3h0M110.7,765.8h0M64.6,779.4h0M14.5,805.3h0M89.0,817.9h0M48.8,749.5h0M47.8,803.1h0M80.0,769.7h0M66.2,743.8h0M107.0,776.4h0M64.3,808.7h0M32.2,802.1h0M48.4,811.4h0M21.5,756.3h0M77.7,777.5h0M50.8,787.4h0M34.3,772.9h0M11.9,809.9h0M38.1,813.2h0M69.0,789.7h0M76.7,740.9h0M92.4,758.0h0M101.3,808.7h0M82.1,811.6h0M57.0,797.1h0M110.6,747.4h0M22.2,770.3h0M64.6,743.3h0M34.7,816.9h0M52.0,743.3h0M30.7,787.2h0M31.4,776.7h0M67.5,773.1h0M64.0,813.9h0M13.4,823.4h0M32.4,731.9h0M91.4,786.5h0M67.5,750.3h0M92.8,759.4h0M87.2,751.4h0M71.2,794.5h0M50.3,777.2h0M18.5,794.0h0M83.5,743.7h0M68.9,803.2h0M22.2,814.1h0M102.0,733.2h0M37.5,736.6h0M37.9,736.9h0M62.5,753.7h0M42.9,775.4h0M50.3,808.9h0M86.7,739.7h0M34.9,728.8h0M45.9,739.1h0M84.1,808.1h0M115.1,749.4h0M15.5,805.7h0M54.4,823.5h0M52.4,760.1h0M19.2,825.3h0M64.9,773.2h0M57.1,806.9h0M97.9,776.8h0M30.2,769.7h0M104.2,769.8h0M80.3,785.4h0M59.6,787.0h0M37.1,785.2h0M101.5,736.2h0M50.0,818.4h0M113.2,729.4h0M76.8,792.8h0M99.2,776.2h0M25.3,758.8h0M85.7,802.7h0M32.9,793.9h0M79.9,795.5h0M14.0,773.3h0M45.4,789.3h0M46.7,741.2h0M81.3,757.4h0M93.8,759.4h0M68.4,810.9h0M23.7,803.0h0M18.8,824.1h0M14.3,802.3h0M50.0,746.4h0M52.7,779.4h0M54.8,740.6h0M66.0,758.8h0M112.1,767.3h0M56.9,751.4h0M112.3,761.0h0M78.8,813.4h0M52.5,805.5h0M40.6,739.2h0M16.1,774.1h0M102.4,748.8h0M57.4,806.3h0M40.4,743.7h0M65.6,771.6h0M109.1,820.1h0M36.4,785.5h0M54.9,731.5h0M57.8,821.9h0M43.1,788.1h0M85.4,734.5h0M107.6,739.2h0M43.0,801.4h0M13.7,766.5h0M24.8,776.6h0M13.3,743.5h0M34.8,736.4h0M21.1,748.0h0M65.4,742.1h0M96.9,770.8h0M37.8,752.7h0M98.8,732.8h0M88.7,738.0h0M109.7,769.9h0M73.7,816.6h0M22.1,734.6h0M83.7,788.3h0M86.5,756.5h0M63.3,747.1h0M57.1,756.9h0M72.5,758.7h0M40.2,793.9h0M20.6,810.2h0M63.2,751.5h0M23.6,780.2h0M64.0,801.8h0M50.5,770.3h0M104.3,756.1h0M113.5,819.6h0M114.5,824.8h0M38.4,811.6h0M75.2,748.9h0M115.2,794.5h0M95.7,785.3h0M20.0,816.6h0M29.9,754.6h0M75.7,747.9h0M59.7,801.2h0M21.7,795.8h0M22.5,776.8h0M79.1,798.5h0M16.2,747.6h0M111.4,768.1h0M55.8,766.4h0M84.0,804.0h0M79.2,769.3h0M70.8,780.9h0M31.2,825.4h0M111.9,807.8h0M114.7,775.8h0M98.8,752.7h0M88.8,801.4h0M109.1,813.5h0M103.0,755.5h0M93.4,776.8h0M44.1,765.8h0M94.6,814.5h0M99.4,796.7h0M29.4,744.0h0M70.7,749.8h0M46.6,738.5h0M27.8,801.6h0M34.9,815.0h0M45.9,815.1h0M43.1,755.4h0M52.7,729.2h0M56.9,767.0h0M13.0,816.4h0M50.6,728.0h0M111.4,751.4h0M38.0,730.5h0M22.0,800.8h0M72.1,779.7h0M37.3,757.4h0M112.4,766.2h0M114.4,819.0h0M24.6,815.0h0M13.9,801.0h0M95.7,799.4h0M68.8,811.4h0M27.7,783.4h0M39.3,769.0h0M31.6,800.7h0M71.2,807.9h0M76.9,789.5h0M107.4,811.4h0M70.5,761.5h0M108.0,766.1h0M22.3,762.2h0M85.0,823.6h0M78.7,796.0h0M109.0,807.8h0M57.9,775.4h0M90.6,760.6h0M23.1,791.6h0M95.7,753.5h0M82.7,819.6h0M25.0,741.9h0M62.9,762.3h0M110.2,830.3h0M58.0,809.4h0M77.3,745.8h0M112.6,745.9h0M19.6,774.4h0M13.6,777.3h0M54.5,825.9h0M54.6,815.2h0M92.6,788.2h0M36.4,759.3h0M62.7,768.5h0M78.7,779.9h0M45.2,790.3h0M115.1,748.8h0M46.5,729.2h0M21.4,733.7h0M55.6,813.8h0M84.1,827.1h0M98.6,788.1h0M71.9,729.3h0M51.5,754.8h0M76.1,734.7h0M68.0,766.5h0M62.8,769.5h0M22.3,803.1h0M94.8,789.4h0M23.7,789.5h0M102.1,829.2h0M90.4,732.7h0M102.9,796.2h0M40.4,822.4h0M97.4,819.8h0M37.4,787.2h0M51.0,758.4h0M90.7,791.3h0M46.1,783.7h0M108.1,786.1h0M106.5,786.1h0M114.7,731.0h0M59.4,784.7h0M87.1,827.4h0M76.4,777.0h0M77.5,782.7h0M84.9,825.2h0M13.1,760.9h0M102.7,734.1h0M93.7,731.2h0M79.0,810.1h0M36.4,767.1h0M35.2,800.3h0M66.6,790.1h0M45.5,788.2h0M110.8,807.9h0M110.5,753.4h0M65.3,767.6h0M47.6,810.4h0M29.9,785.3h0M92.0,824.0h0M13.6,755.8h0M62.9,824.1h0M28.6,814.3h0M52.9,784.2h0M108.0,734.6h0M45.9,744.0h0M25.6,759.1h0M84.4,787.6h0M24.3,810.2h0M64.4,742.7h0M96.9,812.2h0M34.2,824.4h0M95.8,751.5h0M11.8,817.0h0M97.4,738.0h0M91.3,807.3h0M77.5,813.4h0M113.9,761.6h0M98.3,822.5h0M44.2,798.1h0M82.7,815.1h0M70.5,756.3h0M37.8,783.7h0M25.7,816.2h0M104.0,752.9h0M84.1,797.1h0M24.3,807.9h0M91.2,759.4h0M21.9,756.9h0M91.8,775.9h0M96.3,744.4h0M22.8,763.8h0M103.0,744.6h0M19.3,805.2h0M21.2,796.5h0M20.4,753.3h0M80.6,817.6h0M54.2,774.1h0M14.9,763.0h0M36.8,808.9h0M85.8,808.5h0M66.9,799.8h0M24.9,767.5h0M42.1,757.0h0M88.4,750.0h0M45.5,757.0h0M101.4,793.5h0M61.6,767.0h0M107.4,824.4h0M58.4,786.2h0M101.2,754.3h0M38.5,738.6h0M63.8,806.8h0M27.9,772.4h0M114.5,777.4h0M51.4,814.1h0M104.3,766.6h0M24.5,793.3h0M88.6,822.7h0M80.2,759.6h0M65.2,757.5h0M58.0,776.0h0M106.4,820.9h0M107.9,777.0h0M111.8,742.3h0M107.3,793.7h0M102.3,770.4h0M114.6,730.6h0M99.7,812.1h0M50.5,813.0h0M33.9,805.2h0M60.3,770.2h0M32.1,810.1h0M87.6,737.1h0M113.2,750.7h0M50.6,770.5h0M71.5,819.3h0M109.8,793.0h0M49.6,739.0h0M18.8,781.2h0M72.2,773.9h0M113.7,770.4h0M48.1,770.9h0M29.5,824.4h0M73.0,783.7h0M55.9,753.7h0M44.4,778.6h0M58.0,828.5h0M70.1,749.2h0M17.3,744.3h0M47.6,808.3h0M104.0,752.3h0M92.7,773.3h0M67.5,782.7h0M16.1,734.8h0M81.0,798.7h0M51.2,822.3h0M96.8,759.0h0M18.6,784.8h0M79.6,751.0h0M16.3,778.0h0M15.2,803.6h0M76.6,756.6h0M58.0,751.9h0M31.0,746.6h0M96.4,774.5h0M86.0,763.7h0M95.4,789.1h0M79.6,768.3h0M70.0,747.6h0M112.8,797.0h0M67.0,793.5h0M22.1,762.3h0M35.6,814.5h0M13.0,773.6h0M101.9,808.3h0M86.3,758.9h0M35.8,800.3h0M42.7,802.2h0M48.0,806.0h0M71.2,811.7h0M114.0,766.8h0M114.1,729.0h0M102.8,731.1h0M68.3,767.8h0M91.6,760.3h0M33.3,808.4h0M68.8,805.5h0M62.5,731.8h0M91.7,750.4h0M60.7,728.1h0M38.6,796.3h0M91.0,793.3h0M57.7,803.2h0M81.1,749.1h0M67.2,789.3h0M87.3,748.3h0M44.0,763.2h0M21.7,763.8h0M87.4,787.3h0M29.7,803.1h0M23.8,805.1h0M27.0,737.9h0M37.8,780.8h0M39.7,818.7h0M109.1,757.1h0M89.5,799.4h0M69.9,754.2h0M110.3,826.1h0M13.1,761.9h0M45.0,748.4h0M56.4,820.2h0M14.2,813.8h0M43.8,729.4h0M105.1,755.9h0M33.7,740.0h0M49.8,740.3h0M30.4,753.7h0M71.7,773.8h0M43.4,782.0h0M92.1,802.3h0M47.4,822.2h0M93.8,785.6h0M61.1,761.8h0M25.6,818.9h0M74.8,738.1h0M107.8,819.0h0M15.2,799.9h0M36.4,783.0h0M98.3,764.0h0M63.4,796.3h0M31.7,792.3h0M55.8,828.8h0M31.2,801.0h0M16.0,756.1h0M23.9,743.3h0M66.5,745.9h0M94.2,737.9h0M76.4,816.3h0M24.8,750.3h0M91.1,776.2h0M108.5,762.7h0M53.0,826.2h0M47.4,827.1h0M104.2,748.5h0M68.4,824.6h0M23.9,815.1h0M92.1,804.9h0M74.1,738.3h0M111.2,738.5h0M93.0,802.2h0M44.6,798.2h0M54.3,805.0h0M16.2,823.8h0M51.6,810.4h0M60.6,811.3h0M43.0,783.9h0M14.3,778.2h0M19.9,816.2h0M82.0,771.6h0M112.8,825.1h0M111.0,736.5h0M84.8,802.6h0M74.6,729.6h0M107.6,773.0h0M73.5,811.6h0M40.3,731.0h0M107.5,755.8h0M16.0,742.0h0M115.0,803.9h0M33.5,743.0h0M104.9,796.2h0M72.2,741.5h0M54.6,825.1h0M12.0,771.0h0M17.6,830.4h0M22.5,825.9h0M99.0,803.1h0M16.1,799.3h0M62.9,778.4h0M26.8,780.6h0M95.0,741.5h0M102.6,771.1h0" stroke="#050b30" stroke-width="1.7" stroke-linecap="round" fill="none" opacity="0.85"/>
<path d="M11.7,728 L11.7,743.1 L14.7,740.6 L17.7,739.3 L20.7,738.3 L23.7,736.9 L26.7,736.3 L29.7,734.7 L32.7,733.6 L35.7,733.4 L38.7,731.3 L41.7,730.1 L44.7,729.7 L47.7,728.8 L50.7,727.7 L53.7,727.9 L56.7,727.3 L59.7,728.7 L62.7,728.0 L65.7,728.6 L68.7,728.3 L71.7,728.4 L74.7,728.4 L77.7,727.7 L80.7,729.1 L83.7,729.1 L86.7,730.4 L89.7,731.3 L92.7,732.3 L95.7,732.1 L98.7,733.2 L101.7,734.8 L104.7,735.0 L107.7,735.3 L110.7,733.9 L113.7,734.0 L115.5,728 Z" fill="#02030c"/>
<path d="M79.0,795.3h0M90.3,786.7h0M55.4,772.4h0M52.7,774.1h0M114.0,801.4h0M45.4,773.1h0M45.7,790.2h0M76.4,793.5h0M75.9,820.4h0M72.5,756.3h0M38.9,773.0h0M46.2,768.5h0M66.2,798.0h0M59.5,782.0h0M46.6,797.9h0M85.5,772.4h0M33.7,812.4h0M79.6,739.6h0M48.7,819.2h0M82.5,756.9h0M64.7,746.4h0M69.2,802.6h0M26.6,789.8h0M42.3,815.3h0M83.0,809.5h0M80.1,760.8h0M69.0,769.4h0M45.1,769.8h0M83.7,766.1h0M98.0,775.3h0M90.6,785.0h0M103.6,810.2h0M66.6,784.8h0M85.8,778.2h0M46.7,801.2h0M114.9,794.5h0M98.7,785.3h0M87.1,812.7h0M98.3,826.4h0M60.6,775.6h0M46.8,821.2h0M102.7,754.3h0M54.9,824.9h0M72.1,752.3h0M54.1,785.3h0M101.1,818.5h0M90.0,789.4h0M45.4,760.4h0M81.2,766.0h0M75.0,771.4h0M68.8,820.0h0M37.4,798.8h0M32.8,763.5h0M108.2,796.7h0M77.4,748.8h0M39.0,808.0h0M45.0,818.5h0M42.7,790.5h0M92.6,768.1h0M88.1,799.8h0M97.9,797.1h0M39.4,822.5h0M93.9,740.4h0M99.1,813.1h0M71.2,769.9h0M21.8,759.9h0M86.1,803.0h0M86.6,812.7h0M70.3,768.5h0M101.5,792.9h0M39.1,780.3h0M67.8,777.4h0M77.9,788.0h0M11.8,828.6h0M23.3,750.8h0M51.4,749.1h0M88.3,778.6h0M81.6,792.5h0M38.7,786.9h0M89.8,749.5h0M103.7,795.3h0M73.1,782.4h0M36.6,788.5h0M90.6,750.2h0M81.2,778.8h0M67.0,759.6h0M47.8,779.3h0M88.8,778.6h0M51.7,827.1h0M50.0,756.3h0M39.8,778.0h0M93.0,801.1h0M104.2,777.0h0M102.5,786.9h0M61.6,776.1h0M101.1,825.9h0M102.2,744.9h0M64.9,787.8h0M112.1,819.2h0M59.1,781.1h0M34.9,818.0h0M112.6,764.4h0M65.2,783.3h0M76.5,816.0h0M75.4,807.1h0M34.8,795.0h0M37.7,809.7h0M45.1,776.6h0M60.2,792.6h0M105.3,824.3h0M72.5,738.6h0M69.2,822.2h0M73.6,794.9h0M58.6,813.7h0M24.6,820.8h0M78.8,820.8h0M67.7,820.6h0M80.4,800.8h0M55.3,801.3h0M61.9,795.5h0M64.8,800.8h0M79.3,790.1h0M38.1,770.1h0M82.9,782.9h0M78.8,767.9h0M66.4,817.0h0M49.5,776.5h0M77.0,796.6h0M45.5,816.1h0M40.5,781.9h0M55.5,805.5h0M49.5,823.1h0M54.4,800.7h0M69.5,801.7h0M47.1,821.2h0M71.7,753.8h0M56.2,790.4h0M109.7,814.0h0M57.0,771.6h0M71.4,817.9h0M69.3,761.4h0M66.0,811.9h0M52.3,785.2h0M51.0,789.9h0M61.1,750.2h0M72.0,750.5h0M97.4,806.3h0M67.7,817.6h0M20.9,818.5h0M69.1,825.3h0M59.7,770.3h0M95.5,777.2h0M46.5,780.8h0M43.1,816.9h0M41.6,784.0h0M57.8,751.9h0M65.7,794.5h0M15.6,826.0h0M62.9,827.0h0M29.3,760.9h0M75.4,761.3h0M53.8,802.0h0M68.3,801.3h0M61.2,804.9h0M38.6,788.5h0M88.0,755.6h0M71.2,803.4h0M63.5,780.1h0M64.6,786.8h0M57.8,827.5h0M19.7,754.2h0M94.6,809.9h0M68.2,797.9h0M37.6,826.2h0M85.5,760.6h0M70.1,741.8h0M75.8,767.7h0M79.4,818.5h0M67.5,788.4h0M60.8,797.9h0M22.4,810.1h0M95.2,814.5h0M26.9,796.3h0M61.2,749.7h0M72.3,787.4h0M82.3,740.3h0M102.8,810.5h0M29.9,765.9h0M47.0,746.2h0M90.0,818.1h0M79.5,784.3h0M55.6,828.6h0M89.5,746.4h0M29.8,822.4h0M68.2,809.9h0M84.7,743.9h0M54.7,762.4h0M44.1,804.6h0M89.0,808.1h0M87.1,796.4h0M91.4,793.7h0M81.0,817.0h0M109.2,763.1h0M69.7,825.8h0M66.3,781.9h0M81.9,769.5h0M50.4,830.6h0M85.1,790.0h0M66.4,766.8h0M55.4,829.3h0M89.9,811.3h0M85.6,748.5h0M79.0,807.7h0M66.0,790.2h0M60.2,740.8h0M58.2,753.0h0M62.1,806.2h0M83.8,784.3h0M51.2,741.9h0M74.7,751.4h0M72.1,778.0h0M62.8,779.2h0M58.8,826.1h0M65.6,745.2h0M31.7,777.0h0M88.0,787.0h0M112.8,810.4h0M89.1,789.1h0M89.4,811.8h0M42.6,801.0h0M26.3,821.6h0M50.9,782.2h0M52.9,816.0h0M64.4,783.2h0M109.4,797.9h0M70.7,801.7h0M72.6,775.1h0M46.7,794.6h0M61.9,805.9h0M99.9,751.6h0M55.4,794.0h0M103.4,818.8h0M105.3,799.5h0M96.0,827.4h0M110.7,782.5h0M43.6,823.6h0M70.0,810.5h0M62.0,803.5h0M92.3,766.5h0M48.2,772.5h0M65.1,765.3h0M98.0,765.2h0M47.2,770.3h0M42.8,806.5h0M78.4,773.9h0M49.2,804.2h0M82.9,784.3h0M54.5,786.9h0M99.4,759.9h0M48.4,796.7h0M71.9,802.3h0M83.4,744.5h0M47.5,772.4h0M48.5,809.0h0M41.2,787.3h0M39.0,753.7h0M19.7,784.9h0M54.4,828.8h0M84.9,812.0h0M13.0,782.2h0M64.8,815.1h0M83.4,772.5h0M90.8,747.9h0M54.8,830.1h0M43.5,824.1h0M89.5,784.0h0M32.1,805.3h0M84.8,765.5h0M78.5,748.4h0M58.9,757.9h0M20.1,813.0h0M115.3,786.2h0M53.9,785.0h0M44.6,805.5h0M95.4,755.3h0M95.3,770.7h0M65.8,742.9h0M94.5,784.0h0M90.9,756.5h0M81.3,788.8h0M53.7,751.1h0M41.5,818.4h0M53.6,770.7h0M48.6,779.7h0M89.3,779.8h0M70.9,751.8h0M49.5,746.8h0M60.1,808.8h0M45.9,799.1h0M59.4,818.5h0M62.6,820.7h0M76.5,754.4h0M103.8,807.7h0M48.8,811.8h0M100.5,754.9h0M83.6,830.5h0M49.7,825.8h0M82.2,814.2h0M48.5,790.3h0M60.3,773.3h0M60.8,786.8h0M78.1,829.0h0M22.4,757.7h0M82.6,782.8h0M84.8,745.1h0M51.0,799.8h0M88.2,798.4h0M68.5,823.7h0M97.6,780.1h0M84.7,796.3h0M58.9,822.3h0M57.0,743.9h0M33.7,757.1h0M86.9,756.1h0M82.6,754.8h0M52.6,805.1h0M67.6,819.9h0M56.5,751.5h0M57.7,818.0h0M52.2,743.2h0M64.4,827.2h0M47.4,772.5h0M88.7,778.7h0M92.1,754.1h0M66.0,753.1h0M88.6,746.3h0M78.9,752.3h0M83.6,806.0h0M38.6,777.1h0M50.1,783.5h0M34.5,790.4h0M57.1,774.5h0M84.0,766.0h0M56.6,743.7h0M84.6,813.3h0M105.2,813.5h0M55.6,813.5h0M106.9,764.1h0M60.0,787.6h0M97.6,784.4h0M65.5,825.0h0M55.9,783.5h0M34.9,826.1h0M41.3,799.0h0M106.4,754.2h0M84.5,799.1h0M73.5,762.6h0M71.2,822.2h0M82.1,757.3h0M39.0,747.7h0M34.1,818.0h0M54.7,808.7h0M58.5,783.9h0M12.1,767.8h0M65.5,789.5h0M74.7,825.7h0M81.8,767.5h0M54.9,828.0h0M53.3,784.2h0M64.9,764.0h0M39.2,804.6h0M56.8,762.7h0M61.8,778.5h0M96.2,784.9h0M54.9,771.7h0M61.6,786.9h0M85.4,748.0h0M60.7,797.3h0M64.3,822.9h0M91.1,768.3h0M104.1,800.4h0M66.8,755.1h0M72.1,770.7h0M51.4,780.1h0M62.5,795.8h0M83.4,744.8h0M64.0,804.5h0M65.7,741.1h0M48.8,795.6h0M35.4,777.5h0M71.0,782.1h0M40.0,811.1h0M59.9,788.6h0M79.1,824.8h0M56.1,768.5h0M72.4,827.2h0M59.8,810.3h0M36.3,810.3h0M58.7,829.4h0M93.0,769.5h0M33.7,791.8h0M62.0,772.8h0M60.5,758.2h0M55.5,828.7h0M70.7,799.3h0M40.7,785.9h0M44.2,751.3h0M41.6,780.1h0M89.3,761.1h0M86.3,778.9h0M20.3,768.8h0M56.7,788.1h0M82.3,741.1h0M76.1,803.2h0M56.2,766.3h0M86.6,751.3h0M106.6,816.4h0M71.9,753.3h0M26.4,815.3h0M56.0,798.1h0M66.3,825.5h0M61.8,829.0h0M78.3,742.2h0M63.6,829.9h0M64.9,780.9h0M74.0,818.6h0M54.8,752.4h0M28.4,771.4h0M47.2,743.3h0M56.4,745.8h0M47.9,779.4h0M66.8,746.2h0M95.4,774.1h0M79.7,803.2h0M58.4,821.8h0M88.4,810.8h0M46.1,745.6h0M103.9,804.6h0M37.7,819.2h0M14.1,770.8h0M70.6,780.5h0M90.1,773.4h0M52.3,787.2h0M99.7,795.4h0M98.9,793.1h0M65.5,828.2h0M43.2,752.6h0M77.5,821.8h0M89.3,755.4h0M33.6,825.9h0M73.7,793.3h0M109.1,762.5h0M97.7,742.4h0M74.1,754.7h0M66.9,744.6h0M31.6,788.5h0M34.6,749.0h0M95.5,816.8h0M84.4,782.4h0M23.6,801.1h0M63.8,755.1h0M58.4,814.2h0M65.1,819.4h0M69.3,809.9h0M55.7,812.8h0M47.9,792.2h0M73.0,792.8h0M108.2,755.9h0M37.1,807.0h0M85.9,751.2h0M53.2,773.8h0M67.0,775.0h0M113.5,769.7h0M73.9,755.9h0M88.6,827.4h0M54.6,825.2h0M71.5,814.5h0M90.5,783.3h0M47.4,810.9h0M60.9,743.2h0M51.2,774.2h0M110.8,798.9h0M28.6,793.7h0M115.2,782.8h0M85.6,823.2h0M36.4,796.0h0M55.2,745.4h0M56.1,760.9h0M26.6,749.3h0M63.3,804.0h0M49.9,757.8h0M37.5,751.2h0M73.8,824.1h0M36.3,827.5h0M39.9,830.1h0M75.3,817.5h0M57.7,798.7h0M51.3,801.2h0M27.7,754.6h0M51.8,801.7h0M71.3,779.5h0M111.0,793.2h0M37.7,797.1h0M47.1,825.0h0M58.1,815.3h0M110.4,827.7h0M57.6,813.6h0M80.1,745.5h0M29.0,748.2h0M64.3,829.6h0M100.9,827.2h0M106.8,790.1h0M51.4,755.2h0M86.7,810.0h0M72.7,769.5h0M104.2,757.6h0M13.0,775.3h0M17.3,761.3h0M83.4,813.9h0M94.4,745.2h0M85.1,786.8h0M81.0,827.8h0M75.8,818.2h0M104.3,760.4h0M71.3,791.4h0M63.2,768.1h0M51.1,809.8h0M53.2,814.2h0M54.2,804.0h0M100.2,787.2h0M69.6,780.3h0M60.1,773.9h0M51.5,783.7h0M66.4,824.4h0M15.3,781.1h0M66.2,790.1h0M47.4,801.6h0M35.4,792.5h0M85.5,806.9h0M34.7,819.9h0M71.6,761.1h0M66.5,760.4h0M67.3,814.3h0M63.3,756.8h0M67.9,781.8h0M19.9,759.0h0M77.9,775.2h0M34.4,747.1h0M36.4,758.7h0M79.6,764.0h0M61.3,773.8h0M23.6,788.3h0M70.6,823.8h0M74.3,767.4h0M58.0,773.2h0M66.9,793.4h0M62.5,774.5h0M66.6,758.1h0M68.9,829.1h0M85.8,823.8h0M39.0,752.1h0M44.6,812.4h0M64.4,744.2h0M32.9,760.3h0M75.5,794.9h0M26.7,780.6h0M84.8,740.7h0M46.2,776.1h0M100.8,759.3h0M92.6,758.6h0M45.9,817.2h0M92.0,802.6h0M24.9,787.6h0M62.1,762.4h0M77.5,749.1h0M26.7,803.8h0M61.0,753.6h0M83.2,758.1h0M67.1,789.2h0M85.9,738.0h0M50.0,824.2h0M88.9,761.2h0M96.0,807.8h0M55.9,751.3h0M33.9,801.0h0M53.3,768.8h0M89.6,779.6h0M48.8,806.7h0M96.5,812.4h0M42.5,816.4h0M32.5,809.7h0M72.6,817.5h0M31.0,790.6h0M13.8,803.0h0M45.1,747.7h0M77.3,742.7h0M80.3,830.5h0M81.1,798.1h0M68.2,822.2h0M51.5,789.2h0M114.7,774.6h0M81.6,810.8h0M54.4,789.4h0M39.4,802.4h0M69.2,747.3h0M53.6,779.2h0M98.4,774.1h0M55.3,788.5h0M100.0,751.2h0M62.2,817.0h0M59.9,827.6h0M87.4,813.8h0M79.0,817.4h0M43.4,799.0h0M73.7,767.3h0M52.6,828.8h0M84.9,769.2h0M99.2,827.6h0M23.8,778.7h0M81.3,752.8h0M62.4,802.9h0M92.3,807.9h0M57.9,829.0h0M85.1,788.1h0M76.9,805.8h0M83.8,762.3h0M51.0,811.9h0M80.3,797.9h0M79.5,786.4h0M13.3,802.6h0M71.6,793.2h0M84.9,801.2h0M86.5,786.3h0M42.8,772.1h0M95.7,803.1h0M89.6,817.2h0M81.3,758.5h0M53.6,781.7h0M54.6,804.2h0M78.5,776.6h0M57.6,813.3h0M65.3,768.7h0M35.4,817.5h0M69.6,799.5h0M50.8,757.9h0M27.3,761.4h0M17.9,770.4h0M42.4,773.3h0M51.1,820.4h0M33.7,808.6h0M100.0,766.4h0M72.0,748.0h0M73.0,809.5h0M85.6,776.7h0M94.4,801.5h0M94.2,789.2h0M86.2,825.1h0M41.3,816.4h0M91.3,762.8h0M56.3,800.9h0M81.0,754.4h0M63.2,819.4h0M57.5,789.5h0M74.4,824.4h0M86.2,807.6h0M41.3,763.7h0M72.2,825.5h0M50.4,815.5h0M37.6,751.3h0M81.3,801.8h0M97.0,817.8h0M75.6,764.6h0M55.9,749.3h0M106.2,824.6h0M115.1,750.8h0M53.7,791.6h0M83.8,804.9h0M69.1,796.5h0M35.9,800.4h0M45.8,752.8h0M38.9,825.3h0M46.1,830.0h0M54.7,769.9h0M53.8,787.6h0M23.8,786.9h0M81.2,759.1h0M31.5,805.5h0M28.6,767.3h0M56.8,822.5h0M48.5,762.4h0M50.3,816.4h0M71.3,749.9h0M57.9,777.4h0M84.6,743.7h0M107.5,770.3h0M115.2,826.5h0M76.6,769.7h0M84.2,800.6h0M31.5,789.0h0M65.1,787.0h0M87.2,755.7h0M23.2,769.2h0M16.0,806.4h0M49.5,828.1h0M94.1,764.4h0M83.6,826.9h0M102.0,784.0h0M32.0,767.4h0M107.3,805.0h0M62.2,817.1h0M66.0,815.2h0M65.8,767.9h0M111.4,750.8h0M115.4,760.9h0M34.7,763.3h0M49.3,801.3h0M31.2,763.3h0M105.1,815.2h0M105.9,769.2h0M53.2,806.8h0M79.2,824.7h0M18.1,747.3h0M57.1,772.5h0M51.2,798.5h0M36.0,777.4h0M79.7,789.8h0M74.6,823.3h0M93.0,827.3h0M61.5,790.5h0M25.1,777.7h0M51.2,800.9h0M82.6,806.3h0M63.2,799.4h0M63.8,758.6h0M78.4,739.7h0M45.8,742.8h0M34.9,755.2h0M73.4,784.5h0M60.6,815.7h0M60.3,765.1h0M109.3,810.6h0M79.0,798.8h0M58.9,754.0h0M55.0,756.6h0M28.7,822.8h0M84.1,747.0h0M69.0,826.7h0M24.3,820.2h0M66.5,801.6h0M63.1,806.8h0M43.1,779.3h0M26.2,762.4h0M104.4,769.6h0M53.4,809.8h0M79.6,752.5h0M38.6,806.5h0M87.3,757.8h0M77.7,816.3h0M23.5,801.9h0M59.7,741.2h0M25.1,815.0h0M31.0,788.4h0M81.6,794.3h0M19.3,805.6h0M99.2,753.4h0M69.7,773.7h0M65.0,751.6h0M38.8,756.5h0M27.7,827.8h0M67.1,742.3h0M59.8,784.7h0M70.1,802.8h0M71.1,760.1h0M109.9,789.5h0M107.0,761.0h0M71.3,785.3h0M85.2,815.5h0M91.0,812.6h0M99.9,757.1h0M100.6,746.3h0M107.8,776.3h0M74.2,804.5h0M60.5,817.9h0M32.4,786.8h0M83.1,805.9h0M90.0,809.7h0M71.4,812.6h0M62.0,794.6h0M67.8,755.7h0M93.6,823.8h0M66.3,778.4h0M50.2,773.2h0M71.0,789.9h0M100.1,792.5h0M50.6,773.0h0M35.3,780.1h0M68.4,810.3h0M86.9,785.5h0M89.7,772.5h0M42.5,785.7h0M52.3,824.7h0M46.0,747.8h0M79.1,751.5h0M57.5,829.4h0M79.1,799.2h0M30.0,776.7h0M16.3,770.9h0M27.2,777.2h0M69.5,779.3h0M83.3,746.7h0M55.2,781.3h0M75.2,756.7h0M51.2,773.7h0M68.1,805.9h0M31.5,807.3h0M71.8,817.7h0M100.1,819.7h0M53.1,749.5h0M82.8,790.4h0M64.6,774.4h0M93.6,799.1h0M45.1,822.5h0M101.7,784.1h0M95.6,772.0h0M61.4,778.0h0M88.4,802.7h0M47.7,781.6h0M107.4,770.4h0M66.5,791.2h0M72.2,829.7h0M72.1,774.3h0M69.6,782.6h0M40.7,804.1h0M98.1,826.0h0M80.8,764.4h0M48.9,755.5h0M36.2,808.0h0M93.7,816.8h0M96.7,754.7h0M66.9,783.1h0M81.5,754.6h0M54.6,809.9h0M89.8,801.9h0M90.6,753.6h0M101.0,751.9h0M77.6,781.1h0M104.4,809.4h0M65.7,820.2h0M114.2,825.3h0M85.8,792.1h0M91.1,761.4h0M81.7,770.8h0M111.1,744.3h0M47.1,793.0h0M72.6,817.7h0M99.1,798.3h0M59.0,784.4h0M77.4,740.7h0M40.9,760.1h0M46.2,761.4h0M44.8,825.8h0M92.0,808.6h0M79.3,787.3h0M66.3,822.1h0M88.3,751.5h0M70.6,770.7h0M96.9,751.4h0M32.2,787.6h0M82.1,793.6h0M92.3,792.0h0M43.6,772.0h0M36.5,782.0h0M59.1,756.5h0M83.9,762.7h0M82.9,775.5h0M69.2,778.7h0M71.0,769.6h0M72.4,805.8h0M106.8,793.9h0M67.5,793.4h0M80.6,811.4h0M63.9,814.7h0M98.1,751.1h0M61.7,785.9h0M52.8,749.3h0M58.1,790.2h0M45.9,780.7h0M113.4,791.0h0M75.5,775.6h0M74.8,814.8h0M52.2,745.6h0M89.1,772.6h0M80.6,794.5h0M64.6,740.8h0M55.5,779.1h0M73.3,805.2h0M33.5,777.5h0M32.1,814.3h0M60.5,783.5h0M62.1,776.6h0M104.7,758.0h0M72.3,804.6h0M99.8,803.6h0M41.3,771.3h0M34.8,778.4h0M71.6,773.2h0M55.0,742.3h0M78.9,773.5h0M54.2,786.8h0M54.9,808.1h0M35.8,823.2h0M63.8,737.6h0M50.2,794.6h0M93.4,772.2h0M107.7,796.3h0M28.1,827.4h0M69.9,773.0h0M105.9,801.2h0M97.1,748.1h0M48.2,762.2h0M78.3,778.4h0M80.7,783.7h0M35.1,770.0h0M27.8,827.5h0M94.0,799.3h0M70.4,779.3h0M64.4,786.8h0M84.8,761.7h0M60.0,791.7h0M93.3,758.8h0M41.3,783.6h0M29.6,774.0h0M70.0,788.3h0M64.2,827.1h0M13.6,758.9h0M60.7,776.2h0M35.9,777.0h0M89.6,797.7h0M61.6,744.9h0M13.8,776.0h0M41.9,799.3h0M62.9,802.7h0M14.2,824.1h0M59.2,816.0h0M27.9,826.7h0M34.1,798.9h0M84.7,813.0h0M42.5,818.4h0M80.4,811.3h0M55.1,806.1h0M44.6,779.6h0M77.9,748.0h0M45.0,746.1h0M94.0,793.3h0M14.5,809.6h0M108.2,747.8h0M62.8,798.5h0M43.2,804.7h0M47.9,797.4h0M78.8,739.1h0M37.4,782.0h0M80.3,812.4h0M26.7,807.5h0M92.0,762.8h0M100.3,764.2h0M48.4,788.6h0M52.9,749.8h0M53.2,806.9h0M106.0,828.6h0M65.3,748.8h0M51.8,779.5h0M38.5,795.4h0M46.5,780.3h0M99.5,752.0h0M113.8,752.2h0M35.1,781.3h0M64.6,816.8h0M62.4,765.1h0M46.8,779.2h0M43.2,767.3h0M64.1,803.3h0M86.1,764.9h0M54.1,766.8h0M91.0,807.2h0M63.2,790.6h0M108.8,829.9h0M113.0,751.5h0M47.3,803.7h0M97.4,754.1h0M89.9,785.2h0M45.8,793.6h0M72.8,818.8h0M59.0,746.8h0M72.4,802.3h0M63.5,822.9h0M81.7,825.6h0M64.0,765.6h0M106.6,751.7h0M55.4,820.5h0M38.4,823.1h0M34.2,750.6h0M40.9,819.7h0M40.7,768.3h0M94.1,798.2h0M68.2,772.1h0M49.9,818.5h0M50.0,782.5h0" stroke="#35b887" stroke-width="1.6" stroke-linecap="round" fill="none" opacity="0.95"/>
<path d="M79.0,795.3h0M55.4,772.4h0M114.0,801.4h0M45.7,790.2h0M75.9,820.4h0M38.9,773.0h0M66.2,798.0h0M46.6,797.9h0M33.7,812.4h0M48.7,819.2h0M64.7,746.4h0M26.6,789.8h0M83.0,809.5h0M69.0,769.4h0M83.7,766.1h0M90.6,785.0h0M66.6,784.8h0M46.7,801.2h0M98.7,785.3h0M98.3,826.4h0M46.8,821.2h0M54.9,824.9h0M54.1,785.3h0M90.0,789.4h0M81.2,766.0h0M68.8,820.0h0M32.8,763.5h0M77.4,748.8h0M45.0,818.5h0M92.6,768.1h0M97.9,797.1h0M93.9,740.4h0M71.2,769.9h0M86.1,803.0h0M70.3,768.5h0M39.1,780.3h0M77.9,788.0h0M23.3,750.8h0M88.3,778.6h0M38.7,786.9h0M103.7,795.3h0M36.6,788.5h0M81.2,778.8h0M47.8,779.3h0M51.7,827.1h0M39.8,778.0h0M104.2,777.0h0M61.6,776.1h0M102.2,744.9h0M112.1,819.2h0M34.9,818.0h0M65.2,783.3h0M75.4,807.1h0M37.7,809.7h0M60.2,792.6h0M72.5,738.6h0M73.6,794.9h0M24.6,820.8h0M67.7,820.6h0M55.3,801.3h0M64.8,800.8h0M38.1,770.1h0M78.8,767.9h0M49.5,776.5h0M45.5,816.1h0M55.5,805.5h0M54.4,800.7h0M47.1,821.2h0M56.2,790.4h0M57.0,771.6h0M69.3,761.4h0M52.3,785.2h0M61.1,750.2h0M97.4,806.3h0M20.9,818.5h0M59.7,770.3h0M46.5,780.8h0M41.6,784.0h0M65.7,794.5h0M62.9,827.0h0M75.4,761.3h0M68.3,801.3h0M38.6,788.5h0M71.2,803.4h0M64.6,786.8h0M19.7,754.2h0M68.2,797.9h0M85.5,760.6h0M75.8,767.7h0M67.5,788.4h0M22.4,810.1h0M26.9,796.3h0M72.3,787.4h0M102.8,810.5h0M47.0,746.2h0M79.5,784.3h0M89.5,746.4h0M68.2,809.9h0M54.7,762.4h0M89.0,808.1h0M91.4,793.7h0M109.2,763.1h0M66.3,781.9h0M50.4,830.6h0M66.4,766.8h0M89.9,811.3h0M79.0,807.7h0M60.2,740.8h0M62.1,806.2h0M51.2,741.9h0M72.1,778.0h0M58.8,826.1h0M31.7,777.0h0M112.8,810.4h0M89.4,811.8h0M26.3,821.6h0M52.9,816.0h0M109.4,797.9h0M72.6,775.1h0M61.9,805.9h0M55.4,794.0h0M105.3,799.5h0M110.7,782.5h0M70.0,810.5h0M92.3,766.5h0M65.1,765.3h0M47.2,770.3h0M78.4,773.9h0M82.9,784.3h0M99.4,759.9h0M71.9,802.3h0M47.5,772.4h0M41.2,787.3h0M19.7,784.9h0M84.9,812.0h0M64.8,815.1h0M90.8,747.9h0M43.5,824.1h0M32.1,805.3h0M78.5,748.4h0M20.1,813.0h0M53.9,785.0h0M95.4,755.3h0M65.8,742.9h0M90.9,756.5h0M53.7,751.1h0M53.6,770.7h0M89.3,779.8h0M49.5,746.8h0M45.9,799.1h0M62.6,820.7h0M103.8,807.7h0M100.5,754.9h0M49.7,825.8h0M48.5,790.3h0M60.8,786.8h0M22.4,757.7h0M84.8,745.1h0M88.2,798.4h0M97.6,780.1h0M58.9,822.3h0M33.7,757.1h0M82.6,754.8h0M67.6,819.9h0M57.7,818.0h0M64.4,827.2h0M88.7,778.7h0M66.0,753.1h0M78.9,752.3h0M38.6,777.1h0M34.5,790.4h0M84.0,766.0h0M84.6,813.3h0M55.6,813.5h0M60.0,787.6h0M65.5,825.0h0M34.9,826.1h0M106.4,754.2h0M73.5,762.6h0M82.1,757.3h0M34.1,818.0h0M58.5,783.9h0M65.5,789.5h0M81.8,767.5h0M53.3,784.2h0M39.2,804.6h0M61.8,778.5h0M54.9,771.7h0M85.4,748.0h0M64.3,822.9h0M104.1,800.4h0M72.1,770.7h0M62.5,795.8h0M64.0,804.5h0M48.8,795.6h0M71.0,782.1h0M59.9,788.6h0M56.1,768.5h0M59.8,810.3h0M58.7,829.4h0M33.7,791.8h0M60.5,758.2h0M70.7,799.3h0M44.2,751.3h0M89.3,761.1h0M20.3,768.8h0M82.3,741.1h0M56.2,766.3h0M106.6,816.4h0M26.4,815.3h0M66.3,825.5h0M78.3,742.2h0M64.9,780.9h0M54.8,752.4h0M47.2,743.3h0M47.9,779.4h0M95.4,774.1h0M58.4,821.8h0M46.1,745.6h0M37.7,819.2h0M70.6,780.5h0M52.3,787.2h0M98.9,793.1h0M43.2,752.6h0M89.3,755.4h0M73.7,793.3h0M97.7,742.4h0M66.9,744.6h0M34.6,749.0h0M84.4,782.4h0M63.8,755.1h0M65.1,819.4h0M55.7,812.8h0M73.0,792.8h0M37.1,807.0h0M53.2,773.8h0M113.5,769.7h0M88.6,827.4h0M71.5,814.5h0M47.4,810.9h0M51.2,774.2h0M28.6,793.7h0M85.6,823.2h0M55.2,745.4h0M26.6,749.3h0M49.9,757.8h0M73.8,824.1h0M39.9,830.1h0M57.7,798.7h0M27.7,754.6h0M71.3,779.5h0M37.7,797.1h0M58.1,815.3h0M57.6,813.6h0M29.0,748.2h0M100.9,827.2h0M51.4,755.2h0M72.7,769.5h0M13.0,775.3h0M83.4,813.9h0M85.1,786.8h0M75.8,818.2h0M71.3,791.4h0M51.1,809.8h0M54.2,804.0h0M69.6,780.3h0M51.5,783.7h0M15.3,781.1h0M47.4,801.6h0M85.5,806.9h0M71.6,761.1h0M67.3,814.3h0M67.9,781.8h0M77.9,775.2h0M36.4,758.7h0M61.3,773.8h0M70.6,823.8h0M58.0,773.2h0M62.5,774.5h0M68.9,829.1h0M39.0,752.1h0M64.4,744.2h0M75.5,794.9h0M84.8,740.7h0M100.8,759.3h0M45.9,817.2h0M24.9,787.6h0M77.5,749.1h0M61.0,753.6h0M67.1,789.2h0M50.0,824.2h0M96.0,807.8h0M33.9,801.0h0M89.6,779.6h0M96.5,812.4h0M32.5,809.7h0M31.0,790.6h0M45.1,747.7h0M80.3,830.5h0M68.2,822.2h0M114.7,774.6h0M54.4,789.4h0M69.2,747.3h0M98.4,774.1h0M100.0,751.2h0M59.9,827.6h0M79.0,817.4h0M73.7,767.3h0M84.9,769.2h0M23.8,778.7h0M62.4,802.9h0M57.9,829.0h0M76.9,805.8h0M51.0,811.9h0M79.5,786.4h0M71.6,793.2h0M86.5,786.3h0M95.7,803.1h0M81.3,758.5h0M54.6,804.2h0M57.6,813.3h0M35.4,817.5h0M50.8,757.9h0M17.9,770.4h0M51.1,820.4h0M100.0,766.4h0M73.0,809.5h0M94.4,801.5h0M86.2,825.1h0M91.3,762.8h0M81.0,754.4h0M57.5,789.5h0M86.2,807.6h0M72.2,825.5h0M37.6,751.3h0M97.0,817.8h0M55.9,749.3h0M115.1,750.8h0M83.8,804.9h0M35.9,800.4h0M38.9,825.3h0M54.7,769.9h0M23.8,786.9h0M31.5,805.5h0M56.8,822.5h0M50.3,816.4h0M57.9,777.4h0M107.5,770.3h0M76.6,769.7h0M31.5,789.0h0M87.2,755.7h0M16.0,806.4h0M94.1,764.4h0M102.0,784.0h0M107.3,805.0h0M66.0,815.2h0M111.4,750.8h0M34.7,763.3h0M31.2,763.3h0M105.9,769.2h0M79.2,824.7h0M57.1,772.5h0M36.0,777.4h0M74.6,823.3h0M61.5,790.5h0M51.2,800.9h0M63.2,799.4h0M78.4,739.7h0M34.9,755.2h0M60.6,815.7h0M109.3,810.6h0M58.9,754.0h0M28.7,822.8h0M69.0,826.7h0M66.5,801.6h0M43.1,779.3h0M104.4,769.6h0M79.6,752.5h0M87.3,757.8h0M23.5,801.9h0M25.1,815.0h0M81.6,794.3h0M99.2,753.4h0M65.0,751.6h0M27.7,827.8h0M59.8,784.7h0M71.1,760.1h0M107.0,761.0h0M85.2,815.5h0M99.9,757.1h0M107.8,776.3h0M60.5,817.9h0M83.1,805.9h0M71.4,812.6h0M67.8,755.7h0M66.3,778.4h0M71.0,789.9h0M50.6,773.0h0M68.4,810.3h0M89.7,772.5h0M52.3,824.7h0M79.1,751.5h0M79.1,799.2h0M16.3,770.9h0M69.5,779.3h0M55.2,781.3h0M51.2,773.7h0M31.5,807.3h0M100.1,819.7h0M82.8,790.4h0M93.6,799.1h0M101.7,784.1h0M61.4,778.0h0M47.7,781.6h0M66.5,791.2h0M72.1,774.3h0M40.7,804.1h0M80.8,764.4h0M36.2,808.0h0M96.7,754.7h0M81.5,754.6h0M89.8,801.9h0M101.0,751.9h0M104.4,809.4h0M114.2,825.3h0M91.1,761.4h0M111.1,744.3h0M72.6,817.7h0M59.0,784.4h0M40.9,760.1h0M44.8,825.8h0M79.3,787.3h0M88.3,751.5h0M96.9,751.4h0M82.1,793.6h0M43.6,772.0h0M59.1,756.5h0M82.9,775.5h0M71.0,769.6h0M106.8,793.9h0M80.6,811.4h0M98.1,751.1h0M52.8,749.3h0M45.9,780.7h0M75.5,775.6h0M52.2,745.6h0M80.6,794.5h0M55.5,779.1h0M33.5,777.5h0M60.5,783.5h0M104.7,758.0h0M99.8,803.6h0M34.8,778.4h0M55.0,742.3h0M54.2,786.8h0M35.8,823.2h0M50.2,794.6h0M107.7,796.3h0M69.9,773.0h0M97.1,748.1h0M78.3,778.4h0M35.1,770.0h0M94.0,799.3h0M64.4,786.8h0M60.0,791.7h0M41.3,783.6h0M70.0,788.3h0M13.6,758.9h0M35.9,777.0h0M61.6,744.9h0M41.9,799.3h0M14.2,824.1h0M27.9,826.7h0M84.7,813.0h0M80.4,811.3h0M44.6,779.6h0M45.0,746.1h0M14.5,809.6h0M62.8,798.5h0M47.9,797.4h0M37.4,782.0h0M26.7,807.5h0M100.3,764.2h0M52.9,749.8h0M106.0,828.6h0M51.8,779.5h0M46.5,780.3h0M113.8,752.2h0M64.6,816.8h0M46.8,779.2h0M64.1,803.3h0M54.1,766.8h0M63.2,790.6h0M113.0,751.5h0M97.4,754.1h0M45.8,793.6h0M59.0,746.8h0M63.5,822.9h0M64.0,765.6h0M55.4,820.5h0M34.2,750.6h0M40.7,768.3h0M68.2,772.1h0M50.0,782.5h0" stroke="#66e0a8" stroke-width="1.0" stroke-linecap="round" fill="none" opacity="1.0"/>
</g>
<rect x="12.9" y="816.0" width="57.3" height="13.0" fill="#fff"/>
<text x="14.6" y="826.3" font-size="10.17" fill="#000" textLength="53.5" lengthAdjust="spacingAndGlyphs"><tspan fill="#6abf3a">GFPCre</tspan><tspan fill="#2a3f9e">/DAPI</tspan></text>
<line x1="94.3" y1="821.4" x2="110.0" y2="821.4" stroke="#fff" stroke-width="0.9" stroke-linecap="butt"/>
<rect x="8.0" y="848.0" width="118.0" height="126.0" fill="#fdfdfd"/>
<path d="M63,852.8 L8.7,940.3 L117,940.3 Z" stroke="#000" stroke-width="0.9" fill="none" stroke-linejoin="miter" stroke-linecap="butt"/>
<circle cx="63.4" cy="907.7" r="25.3" fill="#96c11f" stroke="#111" stroke-width="0.9"/>
<line x1="41.0" y1="902.4" x2="86.2" y2="902.4" stroke="#000" stroke-width="0.6" stroke-linecap="butt"/>
<line x1="51.5" y1="923.4" x2="80.0" y2="923.4" stroke="#000" stroke-width="0.6" stroke-linecap="butt"/>
<path d="M51.0,902.4 L46.8,897.7 L47.8,902.4 L46.8,907.1Z" fill="#000"/>
<path d="M68.0,902.4 L63.8,897.7 L64.8,902.4 L63.8,907.1Z" fill="#000"/>
<path d="M56.8,923.4 L52.6,918.7 L53.6,923.4 L52.6,928.1Z" fill="#000"/>
<rect x="53.3" y="899.3" width="10.4" height="6.2" fill="#1d3d9d" stroke="#0c1a55" stroke-width="0.4"/>
<text x="58.5" y="904.2" font-size="4.90" text-anchor="middle" fill="#ffffff">Ex1</text>
<rect x="71.4" y="899.3" width="11.4" height="6.2" fill="#1d3d9d" stroke="#0c1a55" stroke-width="0.4"/>
<text x="77.1" y="904.2" font-size="4.90" text-anchor="middle" fill="#ffffff">Ex2</text>
<rect x="61.2" y="920.5" width="11.2" height="6.1" fill="#1d3d9d" stroke="#0c1a55" stroke-width="0.4"/>
<text x="66.8" y="925.3" font-size="4.90" text-anchor="middle" fill="#ffffff">Ex2</text>
<text x="61.1" y="892.7" font-size="4.40" text-anchor="middle" fill="#000">ATG</text>
<path d="M60.1,899.3 V894.4 H69" stroke="#000" stroke-width="0.45" fill="none" stroke-linejoin="miter" stroke-linecap="butt"/>
<path d="M68.2,893.2 L71.2,894.4 L68.2,895.6Z" fill="#000"/>
<path d="M47.4,906.7 L54,918.9 M64.7,906.7 L54,917.6" stroke="#000" stroke-width="0.5" fill="none" stroke-linejoin="miter" stroke-linecap="butt"/>
<path d="M72.2,914.4 C69,914.6 66,913.4 63.5,913.1" stroke="#000" stroke-width="0.45" fill="none" stroke-linejoin="miter" stroke-linecap="butt"/>
<path d="M62,912.9 L64.6,911.9 L64.2,914.2Z" fill="#000"/>
<text x="72.2" y="916.8" font-size="8.40" fill="#e8401a" textLength="13.0" lengthAdjust="spacingAndGlyphs">Cre</text>
<text x="63.6" y="955.0" font-size="9.40" text-anchor="middle" fill="#000" textLength="55.0" lengthAdjust="spacingAndGlyphs">GFP positive</text>
<text x="63.4" y="965.9" font-size="9.40" text-anchor="middle" fill="#000" textLength="100.4" lengthAdjust="spacingAndGlyphs">CASK knockout neuron</text>
<clipPath id="cf21"><rect x="10.2" y="983.8" width="60.3" height="60.1"/></clipPath>
<g clip-path="url(#cf21)">
<rect x="10.2" y="983.8" width="60.3" height="60.1" fill="#3c0302"/>
<path d="M20.1,1025.3h0 M48.5,1012.6h0 M23.2,1031.4h0 M58.9,1014.6h0 M40.7,998.0h0 M10.4,1006.1h0 M45.5,988.0h0 M58.1,997.8h0 M24.2,986.3h0 M70.4,1028.2h0 M63.0,1020.8h0 M12.3,1003.6h0 M40.2,990.8h0 M67.6,1005.9h0 M19.5,1032.9h0 M17.7,1039.6h0 M37.5,1017.0h0 M30.9,1012.9h0 M21.5,986.0h0 M62.4,997.9h0 M57.2,996.3h0 M68.6,1037.5h0 M55.7,1029.6h0 M45.2,1027.7h0 M17.6,1012.4h0 M60.1,995.9h0 M65.9,1037.1h0 M34.9,1005.7h0 M37.4,1007.0h0 M70.2,1007.0h0 M11.8,989.4h0 M53.5,1043.5h0 M40.1,1013.3h0 M43.4,1028.8h0 M23.6,1020.4h0 M43.8,1021.2h0 M21.1,994.0h0 M31.2,1039.5h0 M31.1,1019.7h0 M28.7,990.0h0 M14.2,1032.7h0 M57.1,1006.3h0 M51.4,1024.4h0 M64.4,1041.4h0 M34.7,1043.2h0 M68.2,1019.3h0 M63.5,1013.3h0 M32.8,998.7h0 M63.0,993.6h0 M14.4,1032.2h0 M56.9,1012.8h0 M60.7,986.9h0 M25.8,1001.2h0 M35.5,994.1h0 M14.4,1004.1h0 M64.4,1042.9h0 M55.2,1012.6h0 M25.4,1041.4h0 M41.9,1027.6h0 M11.9,996.5h0 M60.7,1031.6h0 M63.4,1019.9h0 M35.9,1018.7h0 M61.4,1002.3h0 M42.4,1000.4h0 M56.5,984.4h0 M51.5,1041.1h0 M11.6,1019.5h0 M49.0,1035.0h0 M45.4,999.3h0 M34.7,1041.4h0 M64.8,991.8h0 M15.9,989.4h0 M11.7,1010.7h0 M18.7,1035.9h0 M49.7,991.4h0 M42.7,1003.3h0 M40.0,997.0h0 M20.2,994.9h0 M33.0,1026.5h0 M43.4,986.6h0 M53.1,1036.3h0 M56.9,1031.3h0 M10.7,1011.7h0 M14.0,1029.7h0 M20.8,1026.6h0 M25.5,1025.7h0 M29.1,986.3h0 M33.6,1002.4h0 M64.5,1001.5h0 M40.5,1016.8h0 M67.4,989.7h0 M46.5,1014.3h0 M54.5,1041.9h0 M28.9,1025.8h0 M41.9,1017.5h0 M14.0,1032.8h0 M69.1,1005.1h0 M29.4,1043.5h0 M16.7,988.4h0 M14.6,1032.7h0 M56.0,1010.7h0 M47.7,985.0h0 M49.1,1010.4h0 M41.4,1007.2h0 M34.4,997.4h0 M13.1,1009.9h0 M25.1,1026.1h0 M59.5,1027.3h0 M37.7,998.0h0 M33.4,1013.1h0 M48.3,1041.7h0 M15.3,1012.6h0 M39.9,1026.9h0 M63.9,1030.6h0 M48.0,1029.4h0 M50.5,1035.4h0 M52.4,1024.8h0 M25.0,1038.9h0 M33.5,1020.7h0 M59.9,1041.7h0 M69.8,984.2h0 M29.1,1002.5h0 M33.8,992.5h0 M43.6,988.6h0 M28.4,1040.5h0 M55.0,1011.6h0 M16.7,1041.3h0 M52.6,996.2h0 M30.4,1022.4h0 M51.3,999.5h0 M67.6,1003.2h0 M25.5,1034.6h0 M19.5,1024.7h0 M22.3,1019.7h0 M26.9,1006.6h0 M66.9,1011.9h0 M36.5,1020.9h0 M27.1,994.3h0 M33.4,1000.2h0 M21.6,1041.5h0 M12.3,1032.5h0 M66.6,1026.1h0 M11.3,1013.9h0 M12.6,1020.3h0 M52.4,998.2h0 M10.7,1016.5h0 M15.9,1002.4h0 M37.6,1037.6h0 M32.5,991.9h0 M57.9,1033.2h0 M42.1,986.8h0 M21.5,1008.0h0 M43.5,997.3h0 M58.6,1034.5h0 M66.0,1036.9h0 M11.3,1018.8h0 M15.1,1037.9h0 M55.2,1029.4h0 M21.6,987.4h0 M59.4,1020.3h0 M47.6,1012.1h0 M58.4,1004.1h0 M26.5,1005.0h0 M28.2,1021.5h0 M63.9,988.1h0 M14.3,1014.6h0 M51.1,995.2h0 M26.5,987.3h0 M12.4,1013.6h0 M51.2,1023.1h0 M19.7,990.1h0 M66.3,1016.2h0 M34.8,1025.3h0 M54.1,1015.3h0 M14.9,1033.5h0 M23.1,986.2h0 M31.4,1015.8h0 M48.1,994.3h0 M53.0,1013.5h0 M20.0,1034.9h0 M58.8,1038.3h0 M51.2,996.9h0 M57.1,1038.1h0 M42.4,1038.4h0 M68.7,1007.2h0 M67.0,1040.1h0 M58.1,984.5h0 M31.4,1020.7h0 M46.8,1029.2h0 M49.2,993.5h0 M66.3,1016.0h0 M63.4,996.2h0 M70.4,1017.1h0 M57.0,1028.3h0 M63.4,1005.6h0 M15.2,1008.2h0 M20.9,1016.2h0 M59.3,1005.6h0 M18.1,985.4h0 M35.7,1018.7h0 M11.8,1023.8h0 M22.9,990.2h0 M66.1,1015.2h0 M64.2,1014.7h0 M17.6,998.2h0 M35.8,1022.3h0 M56.7,1029.0h0 M49.4,999.0h0 M36.1,1006.5h0 M39.7,999.8h0 M42.6,1011.4h0 M12.3,1033.3h0 M45.6,1032.0h0 M54.6,1027.7h0 M70.1,1006.5h0 M33.9,984.0h0 M50.3,1018.7h0 M45.0,1043.8h0 M22.1,997.5h0 M54.5,1032.6h0 M39.3,987.1h0 M32.5,1033.5h0 M40.3,1011.5h0 M33.7,1021.6h0 M46.3,1025.5h0 M62.4,1029.0h0 M32.8,998.8h0 M57.3,1031.5h0 M66.2,995.7h0 M61.3,1037.3h0 M14.9,1002.3h0 M48.4,992.6h0 M60.3,999.7h0 M51.3,1001.6h0 M23.4,996.2h0 M40.2,1026.7h0 M23.3,1025.1h0 M30.4,1022.8h0 M32.4,995.4h0 M18.7,987.3h0 M52.2,1008.7h0 M17.6,1036.7h0 M49.7,985.1h0 M53.9,1019.5h0 M37.0,1013.9h0 M68.2,1006.3h0 M48.6,1022.0h0 M32.3,1004.6h0 M55.7,1022.0h0 M37.8,1014.7h0 M23.7,1031.2h0 M11.4,1022.5h0 M37.6,997.1h0 M45.6,1018.8h0 M15.4,1013.3h0 M20.2,1031.8h0 M29.9,1003.5h0 M23.2,986.7h0 M21.5,992.9h0 " stroke="#6e0805" stroke-width="2.2" stroke-linecap="round" opacity="0.7" fill="none"/>
<path d="M47.8,1034.7h0 M23.5,990.5h0 M42.4,990.7h0 M34.6,1029.5h0 M22.5,1025.8h0 M42.7,988.9h0 M24.8,1019.8h0 M16.0,996.0h0 M45.0,1033.0h0 M41.6,1023.7h0 M10.7,1002.0h0 M29.4,1038.7h0 M31.8,1031.0h0 M12.3,1013.8h0 M64.0,1030.2h0 M45.2,994.7h0 M66.1,988.6h0 M68.4,1030.5h0 M53.6,1015.7h0 M20.1,1004.3h0 M50.2,1023.2h0 M33.7,1032.0h0 M13.4,1001.1h0 M15.7,1003.3h0 M58.0,1029.1h0 M19.2,1002.3h0 M17.0,1023.6h0 M36.9,997.7h0 M32.8,1035.8h0 M35.8,1025.3h0 M48.1,1012.3h0 M43.8,1005.7h0 M22.2,1013.5h0 M28.6,1003.6h0 M21.4,1038.7h0 M35.9,995.8h0 M12.1,996.7h0 M62.6,1004.0h0 M50.4,997.7h0 M49.4,1010.9h0 M54.6,1015.6h0 M32.8,1000.6h0 M46.0,1033.8h0 M51.9,1012.7h0 M30.0,1037.4h0 M61.2,992.6h0 M51.2,1030.2h0 M50.9,1041.8h0 M63.2,998.6h0 M70.3,1003.5h0 M33.1,1042.5h0 M20.3,1007.6h0 M47.9,1000.2h0 M26.3,1031.5h0 M47.1,1028.5h0 M57.8,1036.2h0 M64.1,1033.3h0 M69.2,1013.8h0 M52.5,1014.7h0 M68.6,1023.2h0 M36.2,1023.7h0 M28.0,991.6h0 M33.5,992.0h0 M10.4,989.4h0 M37.6,1029.7h0 M13.1,1022.1h0 M16.9,1014.5h0 M28.0,1010.6h0 M53.1,1008.6h0 M33.8,1027.6h0 M17.2,1004.8h0 M52.5,1034.0h0 M69.3,999.3h0 M47.9,1002.6h0 M52.5,1034.7h0 M18.3,1004.5h0 M66.7,1005.0h0 M48.3,1033.0h0 M27.0,1030.9h0 M10.4,1004.3h0 M20.3,1004.6h0 M23.1,985.3h0 M58.6,994.2h0 M44.8,1017.1h0 M61.4,1034.7h0 M47.7,994.0h0 M56.1,989.7h0 M66.2,1002.3h0 M25.4,996.8h0 M34.1,1031.4h0 M61.7,1028.6h0 M54.2,998.5h0 M29.6,1002.1h0 M36.3,1036.4h0 M70.3,988.8h0 M68.4,1039.0h0 M38.0,1025.4h0 M57.5,995.0h0 M47.3,1042.8h0 M63.3,1038.6h0 M15.3,1026.8h0 M39.5,1038.4h0 M20.3,1016.8h0 M17.5,1032.1h0 M53.8,985.7h0 M28.9,992.3h0 M48.5,1021.7h0 M14.0,1040.9h0 M68.4,1010.3h0 M44.8,1005.6h0 M46.8,1007.7h0 M36.8,1028.9h0 M21.4,1001.7h0 M56.2,997.3h0 M14.3,1038.6h0 M19.8,1008.5h0 M29.1,999.5h0 M31.5,1016.1h0 M17.2,1015.8h0 M13.3,988.5h0 " stroke="#a80e08" stroke-width="1.2" stroke-linecap="round" opacity="0.75" fill="none"/>
<circle cx="24.5" cy="996.5" r="1.9" fill="#e01810"/>
<circle cx="28.6" cy="988.3" r="1.5" fill="#e01810"/>
<circle cx="46.0" cy="996.9" r="1.5" fill="#e01810"/>
<circle cx="21.5" cy="1001.6" r="1.4" fill="#e01810"/>
<circle cx="48.0" cy="1007.7" r="1.7" fill="#e01810"/>
<circle cx="20.4" cy="1029.8" r="2.5" fill="#e01810"/>
<circle cx="61.3" cy="1025.1" r="2.0" fill="#e01810"/>
<circle cx="58.2" cy="1030.2" r="1.7" fill="#e01810"/>
<circle cx="66.4" cy="1020.0" r="1.7" fill="#e01810"/>
<circle cx="16.3" cy="1040.4" r="1.5" fill="#e01810"/>
<circle cx="43.9" cy="1026.1" r="1.4" fill="#e01810"/>
<circle cx="63.4" cy="988.3" r="1.7" fill="#e01810"/>
<circle cx="36.8" cy="999.5" r="1.3" fill="#e01810"/>
<circle cx="14.3" cy="1015.9" r="1.4" fill="#e01810"/>
<circle cx="32.7" cy="1036.3" r="1.4" fill="#e01810"/>
<circle cx="67.4" cy="999.5" r="1.3" fill="#e01810"/>
<circle cx="52.1" cy="1018.9" r="1.3" fill="#e01810"/>
<circle cx="12.3" cy="994.4" r="1.3" fill="#e01810"/>
<circle cx="40.9" cy="987.3" r="1.1" fill="#e01810"/>
<circle cx="68.5" cy="989.3" r="1.5" fill="#e01810"/>
<circle cx="26.6" cy="1011.8" r="1.2" fill="#e01810"/>
<circle cx="59.3" cy="1005.7" r="2.4" fill="#f07a18"/>
<circle cx="39.9" cy="1014.9" r="2.8" fill="#f2c81a"/>
<circle cx="27.6" cy="1024.0" r="2.6" fill="#f0b81c"/>
<circle cx="54.2" cy="1032.2" r="2.6" fill="#ee8a16"/>
<circle cx="57.2" cy="1009.7" r="1.8" fill="#ee5a14"/>
<circle cx="28.2" cy="1018.9" r="1.8" fill="#e8d020"/>
<circle cx="19.0" cy="1033.7" r="1.0" fill="#30c020"/>
<path d="M51,985 C49,993 46,999 48.5,1004 C51,1010 45,1020 47,1030" stroke="#d81410" stroke-width="0.6" fill="none" stroke-linejoin="miter" stroke-linecap="butt"/>
<path d="M40,986 C44,990 42,996 45,1000" stroke="#d81410" stroke-width="0.5" fill="none" stroke-linejoin="miter" stroke-linecap="butt"/>
<path d="M14,1040 C22,1036 30,1032 36,1024" stroke="#c01208" stroke-width="0.5" fill="none" stroke-linejoin="miter" stroke-linecap="butt"/>
</g>
<clipPath id="cf22"><rect x="74.6" y="983.8" width="60.3" height="60.1"/></clipPath>
<g clip-path="url(#cf22)">
<rect x="74.6" y="983.8" width="60.3" height="60.1" fill="#3c0302"/>
<path d="M132.4,992.2h0 M76.0,1043.8h0 M85.7,991.0h0 M113.9,1004.6h0 M128.2,997.7h0 M132.5,1003.0h0 M110.8,1039.8h0 M115.9,1039.3h0 M117.3,986.7h0 M127.7,1019.2h0 M93.3,995.2h0 M125.8,1018.8h0 M131.2,1030.3h0 M132.6,1017.8h0 M116.7,1020.6h0 M90.2,1041.3h0 M93.4,1030.7h0 M132.2,1022.9h0 M83.2,1033.4h0 M114.9,994.9h0 M77.6,1015.8h0 M76.5,1039.4h0 M105.1,1014.9h0 M99.3,1023.5h0 M129.9,1002.3h0 M97.1,1018.8h0 M92.5,1019.6h0 M107.4,1009.9h0 M115.2,1015.5h0 M79.9,1043.7h0 M96.0,1009.7h0 M98.9,1039.7h0 M132.0,1014.6h0 M98.8,989.6h0 M128.6,994.1h0 M107.6,1004.8h0 M94.4,1005.3h0 M86.1,986.0h0 M106.9,1031.6h0 M113.6,995.9h0 M116.4,986.9h0 M99.4,1033.6h0 M130.1,1011.5h0 M125.6,1013.8h0 M106.2,1018.9h0 M134.4,1028.5h0 M103.1,1027.5h0 M113.4,1005.1h0 M121.9,1033.1h0 M111.3,1040.5h0 M75.7,1013.9h0 M112.9,1004.3h0 M84.9,1025.4h0 M100.8,1000.0h0 M77.1,1041.9h0 M95.8,990.9h0 M87.6,999.1h0 M126.8,994.7h0 M91.3,989.7h0 M102.9,996.3h0 M95.4,1028.0h0 M130.4,1033.9h0 M76.9,1006.5h0 M125.8,985.8h0 M86.9,1013.2h0 M97.7,1028.9h0 M117.9,1011.7h0 M89.6,997.7h0 M90.7,987.7h0 M114.7,993.3h0 M128.2,1022.6h0 M78.0,1013.8h0 M111.0,986.3h0 M103.9,985.6h0 M120.8,984.0h0 M112.7,1043.0h0 M125.6,997.8h0 M106.8,992.2h0 M95.2,1035.7h0 M123.9,984.3h0 M97.5,1022.3h0 M85.2,1032.0h0 M128.5,1016.9h0 M96.4,1034.8h0 M105.5,995.1h0 M91.3,993.4h0 M125.2,1014.4h0 M116.6,1032.9h0 M133.3,995.2h0 M99.1,1036.3h0 M120.5,1007.0h0 M114.1,995.5h0 M84.4,986.8h0 M97.5,998.0h0 M105.8,1042.1h0 M83.8,1017.3h0 M126.7,1019.8h0 M106.4,1029.9h0 M75.9,1040.8h0 M116.0,1032.3h0 M124.4,989.7h0 M78.6,994.5h0 M105.0,1040.2h0 M129.4,1008.6h0 M112.1,1028.3h0 M94.6,1042.1h0 M131.4,1027.5h0 M129.0,1031.9h0 M113.9,1003.1h0 M91.6,998.1h0 M78.1,1039.4h0 M92.6,985.2h0 M93.7,990.0h0 M101.4,1003.8h0 M85.2,1012.5h0 M99.6,1005.1h0 M123.6,1002.2h0 M107.2,1036.6h0 M132.4,1006.3h0 M77.0,1040.9h0 M105.6,996.9h0 M82.3,998.2h0 M93.3,992.1h0 M77.6,1043.6h0 M124.1,990.6h0 M103.6,1032.0h0 M105.0,988.0h0 M95.1,1006.7h0 M129.7,1018.8h0 M102.3,1021.7h0 M77.5,1025.0h0 M123.3,1024.1h0 M96.4,1001.0h0 M75.2,988.7h0 M83.9,1011.0h0 M121.5,996.8h0 M103.1,1022.0h0 M112.6,985.0h0 M130.1,1019.0h0 M92.9,998.2h0 M116.1,1039.9h0 M94.9,1007.7h0 M108.2,994.3h0 M99.1,1038.9h0 M108.1,1033.3h0 M90.4,1036.0h0 M121.8,997.3h0 M106.6,1024.8h0 M109.1,1020.0h0 M89.1,1017.1h0 M96.0,1031.8h0 M97.1,1042.7h0 M109.6,997.5h0 M99.7,991.5h0 M119.0,986.6h0 M111.1,1002.3h0 M121.5,991.4h0 M115.6,1026.7h0 M88.7,991.6h0 M97.1,1022.8h0 M90.3,984.3h0 M101.2,1032.4h0 M84.1,1040.3h0 M105.2,993.4h0 M80.6,1006.1h0 M103.3,994.4h0 M79.7,1013.9h0 M89.9,1010.5h0 M101.8,1025.7h0 M109.4,997.5h0 M85.4,1035.4h0 M77.6,991.2h0 M78.8,1033.5h0 M107.2,1039.3h0 M112.4,1004.0h0 M100.6,1027.8h0 M88.5,1032.1h0 M99.2,986.3h0 M95.3,1017.5h0 M83.4,1038.2h0 M130.4,1014.5h0 M129.1,1025.3h0 M107.0,993.3h0 M132.1,1039.1h0 M101.9,1006.9h0 M79.0,1021.0h0 M126.1,1007.2h0 M92.0,1020.6h0 M122.4,994.0h0 M91.6,1022.4h0 M77.1,1032.9h0 M93.6,1033.8h0 M102.0,993.7h0 M75.8,990.6h0 M90.3,1029.3h0 M122.5,1021.7h0 M93.1,1023.7h0 M118.8,1005.9h0 M79.5,1012.0h0 M88.0,995.1h0 M98.2,988.3h0 M128.7,1000.7h0 M128.8,1028.1h0 M75.3,1037.8h0 M123.4,1015.4h0 M127.9,1012.5h0 M76.1,992.8h0 M93.3,1035.4h0 M124.6,990.9h0 M95.7,990.5h0 M88.4,1005.0h0 M99.6,992.8h0 M114.3,998.4h0 M128.3,1012.7h0 M100.5,1029.8h0 M95.4,999.2h0 M82.0,1001.5h0 M88.7,1028.0h0 M96.0,1026.3h0 M91.2,988.0h0 M93.0,1007.4h0 M129.5,995.8h0 M87.4,993.2h0 M89.9,1041.5h0 M130.8,997.5h0 M77.6,1013.0h0 M109.9,990.5h0 M99.8,1030.0h0 M74.7,1027.0h0 M115.9,1031.1h0 M104.0,1011.7h0 M105.9,992.0h0 M105.6,998.2h0 M94.0,986.5h0 M84.2,987.1h0 M107.2,998.0h0 M108.1,1014.1h0 M88.6,991.4h0 M110.5,1024.5h0 M116.2,1014.3h0 M109.6,985.3h0 M93.1,1031.9h0 M97.3,990.1h0 M100.0,1033.9h0 M80.5,990.5h0 M104.6,1036.2h0 M98.1,998.7h0 M120.9,989.5h0 M92.4,1019.8h0 M125.8,1035.6h0 M94.2,999.8h0 M96.5,991.1h0 M91.0,1029.9h0 M133.6,1000.0h0 M79.0,1028.2h0 M132.9,1031.5h0 M99.5,1028.5h0 M120.5,1028.5h0 M104.3,1043.8h0 M121.7,997.9h0 " stroke="#6e0805" stroke-width="2.2" stroke-linecap="round" opacity="0.7" fill="none"/>
<path d="M100.6,989.2h0 M97.2,1032.9h0 M103.9,1015.3h0 M121.6,989.0h0 M95.9,1012.9h0 M104.4,1025.0h0 M131.1,1032.0h0 M107.5,1024.9h0 M107.1,1043.1h0 M110.6,1019.5h0 M98.5,1009.0h0 M120.7,1006.2h0 M129.1,1027.5h0 M132.2,1026.3h0 M109.0,1005.8h0 M75.7,1023.6h0 M119.9,1027.3h0 M120.4,986.0h0 M115.9,1000.6h0 M98.0,1036.0h0 M99.0,1011.9h0 M77.7,994.7h0 M87.3,996.7h0 M106.1,986.7h0 M80.0,989.0h0 M118.8,1042.1h0 M119.8,1014.7h0 M82.5,1030.9h0 M82.4,988.4h0 M105.4,1035.6h0 M93.3,1035.7h0 M94.6,1041.9h0 M119.1,1035.8h0 M134.0,1032.9h0 M86.4,1014.8h0 M107.4,1027.2h0 M88.4,1018.5h0 M91.7,994.9h0 M101.7,1032.1h0 M108.0,1005.1h0 M88.2,1005.4h0 M98.7,1000.1h0 M93.4,997.5h0 M92.3,1024.3h0 M112.3,1021.5h0 M130.3,1023.8h0 M82.4,1008.1h0 M106.2,1028.7h0 M106.6,989.4h0 M103.3,1023.2h0 M122.0,1010.6h0 M87.5,985.8h0 M104.9,1028.9h0 M81.3,1015.2h0 M110.6,1017.5h0 M88.6,989.3h0 M75.9,1002.1h0 M128.7,1009.0h0 M134.1,1033.4h0 M109.8,1010.2h0 M108.5,1034.3h0 M94.8,993.2h0 M128.8,1021.7h0 M97.4,1007.8h0 M80.7,1017.9h0 M122.0,1013.8h0 M116.7,1028.2h0 M94.6,1022.1h0 M133.2,1026.8h0 M85.6,1023.6h0 M113.5,1030.4h0 M116.9,1038.6h0 M133.5,996.4h0 M103.5,986.5h0 M134.1,990.2h0 M100.3,1020.8h0 M100.5,994.1h0 M104.9,997.2h0 M104.1,1026.8h0 M92.6,1010.6h0 M112.7,1015.8h0 M122.9,1037.4h0 M132.9,993.7h0 M103.7,990.9h0 M116.7,1007.6h0 M125.8,1012.9h0 M122.7,985.7h0 M111.6,1008.6h0 M124.8,990.0h0 M80.0,1025.1h0 M94.3,1009.9h0 M99.0,1043.0h0 M112.2,1033.8h0 M125.2,1035.4h0 M101.6,1001.2h0 M105.7,1037.6h0 M127.9,1012.5h0 M129.3,1029.6h0 M77.0,1021.9h0 M122.5,986.4h0 M97.4,1022.6h0 M105.2,1015.7h0 M80.0,999.5h0 M127.0,1004.8h0 M103.5,1019.3h0 M91.6,1008.7h0 M105.1,1036.0h0 M125.4,994.4h0 M104.9,1029.0h0 M128.7,1015.7h0 M112.7,1022.6h0 M114.9,1037.5h0 M134.0,1043.4h0 M82.1,1026.9h0 M98.0,1000.6h0 M80.6,1038.5h0 M128.5,1015.6h0 M104.6,996.1h0 M130.5,1029.3h0 M84.7,1018.3h0 " stroke="#a80e08" stroke-width="1.2" stroke-linecap="round" opacity="0.75" fill="none"/>
<circle cx="132.7" cy="1000.6" r="1.6" fill="none" stroke="#e01810" stroke-width="0.9"/>
<circle cx="97.1" cy="1006.7" r="1.4" fill="none" stroke="#e01810" stroke-width="0.9"/>
<circle cx="112.0" cy="999.5" r="1.8" fill="none" stroke="#e01810" stroke-width="0.9"/>
<circle cx="102.9" cy="1033.1" r="1.8" fill="none" stroke="#e01810" stroke-width="0.9"/>
<circle cx="124.9" cy="994.5" r="1.9" fill="none" stroke="#e01810" stroke-width="0.9"/>
<circle cx="120.2" cy="1002.2" r="1.3" fill="none" stroke="#e01810" stroke-width="0.9"/>
<circle cx="82.2" cy="1029.1" r="2.0" fill="none" stroke="#e01810" stroke-width="0.9"/>
<circle cx="80.4" cy="999.4" r="1.6" fill="none" stroke="#e01810" stroke-width="0.9"/>
<circle cx="80.4" cy="1021.8" r="1.9" fill="none" stroke="#e01810" stroke-width="0.9"/>
<circle cx="124.0" cy="995.8" r="1.9" fill="none" stroke="#e01810" stroke-width="0.9"/>
<circle cx="120.8" cy="994.6" r="1.9" fill="none" stroke="#e01810" stroke-width="0.9"/>
<circle cx="129.0" cy="1035.1" r="1.8" fill="none" stroke="#e01810" stroke-width="0.9"/>
<circle cx="122.6" cy="1015.8" r="1.3" fill="none" stroke="#e01810" stroke-width="0.9"/>
<circle cx="114.8" cy="1013.8" r="1.4" fill="none" stroke="#e01810" stroke-width="0.9"/>
<circle cx="84.1" cy="1035.4" r="1.9" fill="none" stroke="#e01810" stroke-width="0.9"/>
<circle cx="79.5" cy="986.9" r="1.8" fill="none" stroke="#e01810" stroke-width="0.9"/>
<circle cx="93.0" cy="1034.6" r="1.6" fill="none" stroke="#e01810" stroke-width="0.9"/>
<circle cx="116.7" cy="988.4" r="1.8" fill="none" stroke="#e01810" stroke-width="0.9"/>
<circle cx="87.8" cy="1009.9" r="1.6" fill="none" stroke="#e01810" stroke-width="0.9"/>
<circle cx="94.9" cy="999.4" r="1.6" fill="none" stroke="#e01810" stroke-width="0.9"/>
<circle cx="79.5" cy="994.6" r="1.4" fill="none" stroke="#e01810" stroke-width="0.9"/>
<circle cx="124.7" cy="1003.3" r="2.0" fill="none" stroke="#e01810" stroke-width="0.9"/>
<circle cx="127.3" cy="995.1" r="1.9" fill="none" stroke="#e01810" stroke-width="0.9"/>
<circle cx="132.2" cy="1010.6" r="1.6" fill="none" stroke="#e01810" stroke-width="0.9"/>
<circle cx="114.6" cy="1013.3" r="1.5" fill="none" stroke="#e01810" stroke-width="0.9"/>
<circle cx="117.8" cy="998.1" r="1.6" fill="none" stroke="#e01810" stroke-width="0.9"/>
<circle cx="77.9" cy="1004.0" r="1.9" fill="none" stroke="#e01810" stroke-width="0.9"/>
<circle cx="84.4" cy="996.5" r="1.6" fill="none" stroke="#e01810" stroke-width="0.9"/>
<circle cx="93.4" cy="986.2" r="1.3" fill="none" stroke="#e01810" stroke-width="0.9"/>
<circle cx="87.9" cy="1030.3" r="1.8" fill="none" stroke="#e01810" stroke-width="0.9"/>
<circle cx="122.0" cy="1024.8" r="2.0" fill="none" stroke="#e01810" stroke-width="0.9"/>
<circle cx="91.1" cy="1025.5" r="1.6" fill="none" stroke="#e01810" stroke-width="0.9"/>
<circle cx="130.7" cy="1010.6" r="1.8" fill="none" stroke="#e01810" stroke-width="0.9"/>
<circle cx="120.3" cy="1039.9" r="1.8" fill="none" stroke="#e01810" stroke-width="0.9"/>
<circle cx="95.0" cy="1022.2" r="1.9" fill="none" stroke="#e01810" stroke-width="0.9"/>
<circle cx="129.5" cy="999.6" r="1.8" fill="none" stroke="#e01810" stroke-width="0.9"/>
<circle cx="117.2" cy="994.7" r="1.4" fill="none" stroke="#e01810" stroke-width="0.9"/>
<circle cx="108.2" cy="1019.4" r="1.5" fill="none" stroke="#e01810" stroke-width="0.9"/>
<circle cx="111.4" cy="994.1" r="1.7" fill="none" stroke="#e01810" stroke-width="0.9"/>
<circle cx="106.7" cy="1032.4" r="1.8" fill="none" stroke="#e01810" stroke-width="0.9"/>
<circle cx="81.1" cy="1017.0" r="1.4" fill="none" stroke="#e01810" stroke-width="0.9"/>
<circle cx="106.2" cy="1023.9" r="1.8" fill="none" stroke="#e01810" stroke-width="0.9"/>
<circle cx="77.1" cy="1015.6" r="1.4" fill="none" stroke="#e01810" stroke-width="0.9"/>
<circle cx="105.1" cy="1013.5" r="1.6" fill="none" stroke="#e01810" stroke-width="0.9"/>
<circle cx="119.6" cy="1002.5" r="1.6" fill="none" stroke="#e01810" stroke-width="0.9"/>
<circle cx="90.5" cy="996.9" r="1.7" fill="none" stroke="#e01810" stroke-width="0.9"/>
<circle cx="77.7" cy="1008.7" r="2.3" fill="#22e030"/>
<circle cx="100.1" cy="1007.7" r="2.2" fill="#22e030"/>
<circle cx="95.6" cy="1020.4" r="3.0" fill="#22e030"/>
<circle cx="99.1" cy="1028.1" r="1.9" fill="#22e030"/>
<circle cx="89.5" cy="1033.9" r="2.4" fill="#22e030"/>
<circle cx="120.6" cy="996.5" r="1.6" fill="#22e030"/>
<circle cx="127.7" cy="997.5" r="1.6" fill="#22e030"/>
<circle cx="133.9" cy="999.5" r="1.4" fill="#22e030"/>
<circle cx="125.1" cy="1004.2" r="1.2" fill="#22e030"/>
<line x1="116.5" y1="1039.4" x2="130.8" y2="1039.4" stroke="#fff" stroke-width="0.8" stroke-linecap="butt"/>
</g>
<text x="38.2" y="1054.3" font-size="8.59" text-anchor="middle" fill="#000" textLength="25.5" lengthAdjust="spacingAndGlyphs">CASK<tspan font-size="5.42" dy="-3.39">wt</tspan></text>
<text x="103.3" y="1054.3" font-size="8.59" text-anchor="middle" fill="#000" textLength="28.2" lengthAdjust="spacingAndGlyphs">CASK<tspan font-size="5.42" dy="-3.39">flox</tspan></text>
<text transform="translate(7.2,1038.6) rotate(-90)" font-size="9.72" fill="#000" textLength="50.5" lengthAdjust="spacingAndGlyphs"><tspan fill="#f01414">CASK</tspan><tspan fill="#222">/</tspan><tspan fill="#22b830">CreGFP</tspan></text>
<line x1="200.1" y1="701.6" x2="200.1" y2="713.6" stroke="#000" stroke-width="1.4" stroke-linecap="butt"/>
<line x1="195.7" y1="702.1" x2="204.5" y2="702.1" stroke="#000" stroke-width="1.4" stroke-linecap="butt"/>
<rect x="192.5" y="713.3" width="15.2" height="89.0" fill="#00b800" stroke="#000" stroke-width="1.4"/>
<line x1="200.1" y1="802.3" x2="200.1" y2="806.9" stroke="#000" stroke-width="1.4" stroke-linecap="butt"/>
<text x="200.1" y="799.6" font-size="9.20" text-anchor="middle" fill="#fff">8</text>
<line x1="219.3" y1="713.4" x2="219.3" y2="722.2" stroke="#000" stroke-width="1.4" stroke-linecap="butt"/>
<line x1="214.9" y1="713.9" x2="223.7" y2="713.9" stroke="#000" stroke-width="1.4" stroke-linecap="butt"/>
<rect x="212.0" y="721.9" width="14.6" height="80.4" fill="#ff9c00" stroke="#000" stroke-width="1.4"/>
<line x1="219.3" y1="802.3" x2="219.3" y2="806.9" stroke="#000" stroke-width="1.4" stroke-linecap="butt"/>
<text x="219.3" y="799.6" font-size="9.20" text-anchor="middle" fill="#fff">8</text>
<line x1="238.3" y1="710.4" x2="238.3" y2="725.3" stroke="#000" stroke-width="1.4" stroke-linecap="butt"/>
<line x1="233.9" y1="710.9" x2="242.7" y2="710.9" stroke="#000" stroke-width="1.4" stroke-linecap="butt"/>
<rect x="230.8" y="725.0" width="15.0" height="77.3" fill="#0000ff" stroke="#000" stroke-width="1.4"/>
<line x1="238.3" y1="802.3" x2="238.3" y2="806.9" stroke="#000" stroke-width="1.4" stroke-linecap="butt"/>
<text x="238.3" y="799.6" font-size="9.20" text-anchor="middle" fill="#fff">7</text>
<line x1="257.4" y1="707.5" x2="257.4" y2="722.3" stroke="#000" stroke-width="1.4" stroke-linecap="butt"/>
<line x1="253.0" y1="708.0" x2="261.8" y2="708.0" stroke="#000" stroke-width="1.4" stroke-linecap="butt"/>
<rect x="249.8" y="722.0" width="15.1" height="80.3" fill="#808080" stroke="#000" stroke-width="1.4"/>
<line x1="257.4" y1="802.3" x2="257.4" y2="806.9" stroke="#000" stroke-width="1.4" stroke-linecap="butt"/>
<text x="257.4" y="799.6" font-size="9.20" text-anchor="middle" fill="#fff">8</text>
<line x1="189.1" y1="681.4" x2="189.1" y2="803.0" stroke="#000" stroke-width="1.4" stroke-linecap="butt"/>
<line x1="184.5" y1="802.3" x2="269.3" y2="802.3" stroke="#000" stroke-width="1.4" stroke-linecap="butt"/>
<line x1="184.5" y1="705.9" x2="189.1" y2="705.9" stroke="#000" stroke-width="1.4" stroke-linecap="butt"/>
<text x="183.6" y="709.1" font-size="10.17" text-anchor="end" fill="#000" textLength="5.0" lengthAdjust="spacingAndGlyphs">2</text>
<line x1="184.5" y1="754.2" x2="189.1" y2="754.2" stroke="#000" stroke-width="1.4" stroke-linecap="butt"/>
<text x="183.6" y="757.4" font-size="10.17" text-anchor="end" fill="#000" textLength="5.0" lengthAdjust="spacingAndGlyphs">1</text>
<line x1="184.5" y1="802.3" x2="189.1" y2="802.3" stroke="#000" stroke-width="1.4" stroke-linecap="butt"/>
<text x="183.6" y="805.5" font-size="10.17" text-anchor="end" fill="#000" textLength="5.0" lengthAdjust="spacingAndGlyphs">0</text>
<text x="226.5" y="700.6" font-size="9.40" text-anchor="middle" fill="#000">N.S.</text>
<text transform="translate(171.8,743.5) rotate(-90)" font-size="8.93" text-anchor="middle" fill="#000" textLength="96.4" lengthAdjust="spacingAndGlyphs">Frequency of mEPSC (Hz)</text>
<text x="162.9" y="815.9" font-size="9.04" fill="#000" textLength="15.3" lengthAdjust="spacingAndGlyphs">AAV</text>
<text x="199.5" y="815.9" font-size="7.12" text-anchor="middle" fill="#000" textLength="22.8" lengthAdjust="spacingAndGlyphs">GFPCre</text>
<text x="219.3" y="815.9" font-size="7.12" text-anchor="middle" fill="#000" textLength="13.2" lengthAdjust="spacingAndGlyphs">GFP</text>
<text x="238.3" y="815.9" font-size="7.12" text-anchor="middle" fill="#000" textLength="2.1" lengthAdjust="spacingAndGlyphs">-</text>
<text x="257.6" y="815.9" font-size="7.12" text-anchor="middle" fill="#000" textLength="23.2" lengthAdjust="spacingAndGlyphs">GFPCre</text>
<line x1="191.0" y1="822.0" x2="241.9" y2="822.0" stroke="#000" stroke-width="1.6" stroke-linecap="butt"/>
<text x="158.9" y="832.0" font-size="9.04" fill="#000" textLength="24.1" lengthAdjust="spacingAndGlyphs">Mouse</text>
<text x="217.7" y="832.0" font-size="9.04" text-anchor="middle" fill="#000" textLength="20.8" lengthAdjust="spacingAndGlyphs">floxed</text>
<text x="246.7" y="832.0" font-size="9.04" fill="#000" textLength="12.1" lengthAdjust="spacingAndGlyphs">WT</text>
<line x1="321.9" y1="691.2" x2="321.9" y2="699.5" stroke="#000" stroke-width="1.4" stroke-linecap="butt"/>
<line x1="317.6" y1="691.7" x2="326.3" y2="691.7" stroke="#000" stroke-width="1.4" stroke-linecap="butt"/>
<rect x="314.6" y="699.2" width="14.7" height="103.1" fill="#00b800" stroke="#000" stroke-width="1.4"/>
<line x1="321.9" y1="802.3" x2="321.9" y2="806.9" stroke="#000" stroke-width="1.4" stroke-linecap="butt"/>
<text x="321.9" y="799.6" font-size="9.20" text-anchor="middle" fill="#fff">8</text>
<line x1="340.9" y1="700.0" x2="340.9" y2="706.5" stroke="#000" stroke-width="1.4" stroke-linecap="butt"/>
<line x1="336.5" y1="700.5" x2="345.2" y2="700.5" stroke="#000" stroke-width="1.4" stroke-linecap="butt"/>
<rect x="333.7" y="706.2" width="14.3" height="96.1" fill="#ff9c00" stroke="#000" stroke-width="1.4"/>
<line x1="340.9" y1="802.3" x2="340.9" y2="806.9" stroke="#000" stroke-width="1.4" stroke-linecap="butt"/>
<text x="340.9" y="799.6" font-size="9.20" text-anchor="middle" fill="#fff">8</text>
<line x1="359.8" y1="696.9" x2="359.8" y2="703.3" stroke="#000" stroke-width="1.4" stroke-linecap="butt"/>
<line x1="355.4" y1="697.4" x2="364.2" y2="697.4" stroke="#000" stroke-width="1.4" stroke-linecap="butt"/>
<rect x="352.5" y="703.0" width="14.6" height="99.3" fill="#0000ff" stroke="#000" stroke-width="1.4"/>
<line x1="359.8" y1="802.3" x2="359.8" y2="806.9" stroke="#000" stroke-width="1.4" stroke-linecap="butt"/>
<text x="359.8" y="799.6" font-size="9.20" text-anchor="middle" fill="#fff">7</text>
<line x1="378.9" y1="685.8" x2="378.9" y2="694.5" stroke="#000" stroke-width="1.4" stroke-linecap="butt"/>
<line x1="374.5" y1="686.3" x2="383.2" y2="686.3" stroke="#000" stroke-width="1.4" stroke-linecap="butt"/>
<rect x="371.6" y="694.2" width="14.5" height="108.1" fill="#808080" stroke="#000" stroke-width="1.4"/>
<line x1="378.9" y1="802.3" x2="378.9" y2="806.9" stroke="#000" stroke-width="1.4" stroke-linecap="butt"/>
<text x="378.9" y="799.6" font-size="9.20" text-anchor="middle" fill="#fff">8</text>
<line x1="310.7" y1="681.9" x2="310.7" y2="803.0" stroke="#000" stroke-width="1.4" stroke-linecap="butt"/>
<line x1="306.1" y1="802.3" x2="390.3" y2="802.3" stroke="#000" stroke-width="1.4" stroke-linecap="butt"/>
<line x1="306.1" y1="722.0" x2="310.7" y2="722.0" stroke="#000" stroke-width="1.4" stroke-linecap="butt"/>
<text x="305.8" y="725.2" font-size="10.17" text-anchor="end" fill="#000" textLength="10.0" lengthAdjust="spacingAndGlyphs">10</text>
<line x1="306.1" y1="802.3" x2="310.7" y2="802.3" stroke="#000" stroke-width="1.4" stroke-linecap="butt"/>
<text x="305.8" y="805.5" font-size="10.17" text-anchor="end" fill="#000" textLength="5.0" lengthAdjust="spacingAndGlyphs">0</text>
<text x="349.6" y="688.1" font-size="9.40" text-anchor="middle" fill="#000">N.S.</text>
<text transform="translate(289.4,744.0) rotate(-90)" font-size="8.93" text-anchor="middle" fill="#000" textLength="94.2" lengthAdjust="spacingAndGlyphs">Amplitude of mEPSC (pA)</text>
<text x="286.4" y="815.9" font-size="9.04" fill="#000" textLength="15.3" lengthAdjust="spacingAndGlyphs">AAV</text>
<text x="321.3" y="815.9" font-size="7.12" text-anchor="middle" fill="#000" textLength="22.8" lengthAdjust="spacingAndGlyphs">GFPCre</text>
<text x="340.9" y="815.9" font-size="7.12" text-anchor="middle" fill="#000" textLength="13.2" lengthAdjust="spacingAndGlyphs">GFP</text>
<text x="359.8" y="815.9" font-size="7.12" text-anchor="middle" fill="#000" textLength="2.1" lengthAdjust="spacingAndGlyphs">-</text>
<text x="379.1" y="815.9" font-size="7.12" text-anchor="middle" fill="#000" textLength="23.2" lengthAdjust="spacingAndGlyphs">GFPCre</text>
<line x1="313.1" y1="822.0" x2="363.2" y2="822.0" stroke="#000" stroke-width="1.6" stroke-linecap="butt"/>
<text x="281.8" y="832.0" font-size="9.04" fill="#000" textLength="24.1" lengthAdjust="spacingAndGlyphs">Mouse</text>
<text x="339.4" y="832.0" font-size="9.04" text-anchor="middle" fill="#000" textLength="20.8" lengthAdjust="spacingAndGlyphs">floxed</text>
<text x="368.5" y="832.0" font-size="9.04" fill="#000" textLength="12.1" lengthAdjust="spacingAndGlyphs">WT</text>
<line x1="200.1" y1="931.0" x2="200.1" y2="939.2" stroke="#000" stroke-width="1.4" stroke-linecap="butt"/>
<line x1="195.7" y1="931.5" x2="204.5" y2="931.5" stroke="#000" stroke-width="1.4" stroke-linecap="butt"/>
<rect x="192.5" y="938.9" width="15.2" height="88.7" fill="#00b800" stroke="#000" stroke-width="1.4"/>
<line x1="200.1" y1="1027.6" x2="200.1" y2="1032.2" stroke="#000" stroke-width="1.4" stroke-linecap="butt"/>
<text x="200.1" y="1024.9" font-size="9.20" text-anchor="middle" fill="#fff">8</text>
<line x1="219.3" y1="932.7" x2="219.3" y2="944.7" stroke="#000" stroke-width="1.4" stroke-linecap="butt"/>
<line x1="214.9" y1="933.2" x2="223.7" y2="933.2" stroke="#000" stroke-width="1.4" stroke-linecap="butt"/>
<rect x="212.0" y="944.4" width="14.6" height="83.2" fill="#ff9c00" stroke="#000" stroke-width="1.4"/>
<line x1="219.3" y1="1027.6" x2="219.3" y2="1032.2" stroke="#000" stroke-width="1.4" stroke-linecap="butt"/>
<text x="219.3" y="1024.9" font-size="9.20" text-anchor="middle" fill="#fff">8</text>
<line x1="238.3" y1="932.3" x2="238.3" y2="943.4" stroke="#000" stroke-width="1.4" stroke-linecap="butt"/>
<line x1="233.9" y1="932.8" x2="242.7" y2="932.8" stroke="#000" stroke-width="1.4" stroke-linecap="butt"/>
<rect x="230.8" y="943.1" width="15.0" height="84.5" fill="#0000ff" stroke="#000" stroke-width="1.4"/>
<line x1="238.3" y1="1027.6" x2="238.3" y2="1032.2" stroke="#000" stroke-width="1.4" stroke-linecap="butt"/>
<text x="238.3" y="1024.9" font-size="9.20" text-anchor="middle" fill="#fff">7</text>
<line x1="257.4" y1="917.8" x2="257.4" y2="930.5" stroke="#000" stroke-width="1.4" stroke-linecap="butt"/>
<line x1="253.0" y1="918.3" x2="261.8" y2="918.3" stroke="#000" stroke-width="1.4" stroke-linecap="butt"/>
<rect x="249.8" y="930.2" width="15.1" height="97.4" fill="#808080" stroke="#000" stroke-width="1.4"/>
<line x1="257.4" y1="1027.6" x2="257.4" y2="1032.2" stroke="#000" stroke-width="1.4" stroke-linecap="butt"/>
<text x="257.4" y="1024.9" font-size="9.20" text-anchor="middle" fill="#fff">8</text>
<line x1="189.1" y1="908.0" x2="189.1" y2="1028.3" stroke="#000" stroke-width="1.4" stroke-linecap="butt"/>
<line x1="184.5" y1="1027.6" x2="269.3" y2="1027.6" stroke="#000" stroke-width="1.4" stroke-linecap="butt"/>
<line x1="184.5" y1="932.8" x2="189.1" y2="932.8" stroke="#000" stroke-width="1.4" stroke-linecap="butt"/>
<text x="183.6" y="936.0" font-size="10.17" text-anchor="end" fill="#000" textLength="5.0" lengthAdjust="spacingAndGlyphs">4</text>
<line x1="184.5" y1="980.1" x2="189.1" y2="980.1" stroke="#000" stroke-width="1.4" stroke-linecap="butt"/>
<text x="183.6" y="983.3" font-size="10.17" text-anchor="end" fill="#000" textLength="5.0" lengthAdjust="spacingAndGlyphs">2</text>
<line x1="184.5" y1="1027.6" x2="189.1" y2="1027.6" stroke="#000" stroke-width="1.4" stroke-linecap="butt"/>
<text x="183.6" y="1030.8" font-size="10.17" text-anchor="end" fill="#000" textLength="5.0" lengthAdjust="spacingAndGlyphs">0</text>
<text x="227.8" y="920.1" font-size="9.40" text-anchor="middle" fill="#000">N.S.</text>
<text transform="translate(171.8,969.3) rotate(-90)" font-size="8.93" text-anchor="middle" fill="#000" textLength="91.8" lengthAdjust="spacingAndGlyphs">Frequency of mIPSC (Hz)</text>
<text x="164.1" y="1041.3" font-size="9.04" fill="#000" textLength="15.3" lengthAdjust="spacingAndGlyphs">AAV</text>
<text x="199.5" y="1041.3" font-size="7.12" text-anchor="middle" fill="#000" textLength="22.8" lengthAdjust="spacingAndGlyphs">GFPCre</text>
<text x="219.3" y="1041.3" font-size="7.12" text-anchor="middle" fill="#000" textLength="13.2" lengthAdjust="spacingAndGlyphs">GFP</text>
<text x="238.3" y="1041.3" font-size="7.12" text-anchor="middle" fill="#000" textLength="2.1" lengthAdjust="spacingAndGlyphs">-</text>
<text x="257.6" y="1041.3" font-size="7.12" text-anchor="middle" fill="#000" textLength="23.2" lengthAdjust="spacingAndGlyphs">GFPCre</text>
<line x1="191.0" y1="1047.4" x2="241.9" y2="1047.4" stroke="#000" stroke-width="1.6" stroke-linecap="butt"/>
<text x="159.9" y="1057.2" font-size="9.04" fill="#000" textLength="24.1" lengthAdjust="spacingAndGlyphs">Mouse</text>
<text x="217.7" y="1057.2" font-size="9.04" text-anchor="middle" fill="#000" textLength="20.8" lengthAdjust="spacingAndGlyphs">floxed</text>
<text x="250.1" y="1057.2" font-size="9.04" fill="#000" textLength="12.1" lengthAdjust="spacingAndGlyphs">WT</text>
<line x1="321.9" y1="933.1" x2="321.9" y2="939.2" stroke="#000" stroke-width="1.4" stroke-linecap="butt"/>
<line x1="317.6" y1="933.6" x2="326.3" y2="933.6" stroke="#000" stroke-width="1.4" stroke-linecap="butt"/>
<rect x="314.6" y="938.9" width="14.7" height="88.5" fill="#00b800" stroke="#000" stroke-width="1.4"/>
<line x1="321.9" y1="1027.4" x2="321.9" y2="1032.0" stroke="#000" stroke-width="1.4" stroke-linecap="butt"/>
<text x="321.9" y="1024.7" font-size="9.20" text-anchor="middle" fill="#fff">8</text>
<line x1="340.9" y1="928.3" x2="340.9" y2="934.6" stroke="#000" stroke-width="1.4" stroke-linecap="butt"/>
<line x1="336.5" y1="928.8" x2="345.2" y2="928.8" stroke="#000" stroke-width="1.4" stroke-linecap="butt"/>
<rect x="333.7" y="934.3" width="14.3" height="93.1" fill="#ff9c00" stroke="#000" stroke-width="1.4"/>
<line x1="340.9" y1="1027.4" x2="340.9" y2="1032.0" stroke="#000" stroke-width="1.4" stroke-linecap="butt"/>
<text x="340.9" y="1024.7" font-size="9.20" text-anchor="middle" fill="#fff">8</text>
<line x1="359.8" y1="932.3" x2="359.8" y2="937.5" stroke="#000" stroke-width="1.4" stroke-linecap="butt"/>
<line x1="355.4" y1="932.8" x2="364.2" y2="932.8" stroke="#000" stroke-width="1.4" stroke-linecap="butt"/>
<rect x="352.5" y="937.2" width="14.6" height="90.2" fill="#0000ff" stroke="#000" stroke-width="1.4"/>
<line x1="359.8" y1="1027.4" x2="359.8" y2="1032.0" stroke="#000" stroke-width="1.4" stroke-linecap="butt"/>
<text x="359.8" y="1024.7" font-size="9.20" text-anchor="middle" fill="#fff">7</text>
<line x1="378.9" y1="925.7" x2="378.9" y2="933.1" stroke="#000" stroke-width="1.4" stroke-linecap="butt"/>
<line x1="374.5" y1="926.2" x2="383.2" y2="926.2" stroke="#000" stroke-width="1.4" stroke-linecap="butt"/>
<rect x="371.6" y="932.8" width="14.5" height="94.6" fill="#808080" stroke="#000" stroke-width="1.4"/>
<line x1="378.9" y1="1027.4" x2="378.9" y2="1032.0" stroke="#000" stroke-width="1.4" stroke-linecap="butt"/>
<text x="378.9" y="1024.7" font-size="9.20" text-anchor="middle" fill="#fff">8</text>
<line x1="310.7" y1="906.2" x2="310.7" y2="1028.1" stroke="#000" stroke-width="1.4" stroke-linecap="butt"/>
<line x1="306.1" y1="1027.4" x2="390.3" y2="1027.4" stroke="#000" stroke-width="1.4" stroke-linecap="butt"/>
<line x1="306.1" y1="906.9" x2="310.7" y2="906.9" stroke="#000" stroke-width="1.4" stroke-linecap="butt"/>
<text x="305.8" y="910.1" font-size="10.17" text-anchor="end" fill="#000" textLength="10.0" lengthAdjust="spacingAndGlyphs">20</text>
<line x1="306.1" y1="967.1" x2="310.7" y2="967.1" stroke="#000" stroke-width="1.4" stroke-linecap="butt"/>
<text x="305.8" y="970.3" font-size="10.17" text-anchor="end" fill="#000" textLength="10.0" lengthAdjust="spacingAndGlyphs">10</text>
<line x1="306.1" y1="1027.4" x2="310.7" y2="1027.4" stroke="#000" stroke-width="1.4" stroke-linecap="butt"/>
<text x="305.8" y="1030.6" font-size="10.17" text-anchor="end" fill="#000" textLength="5.0" lengthAdjust="spacingAndGlyphs">0</text>
<text x="350.5" y="919.0" font-size="9.40" text-anchor="middle" fill="#000">N.S.</text>
<text transform="translate(289.4,969.5) rotate(-90)" font-size="8.93" text-anchor="middle" fill="#000" textLength="90.0" lengthAdjust="spacingAndGlyphs">Amplitude of mIPSC (pA)</text>
<text x="285.9" y="1041.3" font-size="9.04" fill="#000" textLength="15.3" lengthAdjust="spacingAndGlyphs">AAV</text>
<text x="321.3" y="1041.3" font-size="7.12" text-anchor="middle" fill="#000" textLength="22.8" lengthAdjust="spacingAndGlyphs">GFPCre</text>
<text x="340.9" y="1041.3" font-size="7.12" text-anchor="middle" fill="#000" textLength="13.2" lengthAdjust="spacingAndGlyphs">GFP</text>
<text x="359.8" y="1041.3" font-size="7.12" text-anchor="middle" fill="#000" textLength="2.1" lengthAdjust="spacingAndGlyphs">-</text>
<text x="379.1" y="1041.3" font-size="7.12" text-anchor="middle" fill="#000" textLength="23.2" lengthAdjust="spacingAndGlyphs">GFPCre</text>
<line x1="313.1" y1="1047.4" x2="363.2" y2="1047.4" stroke="#000" stroke-width="1.6" stroke-linecap="butt"/>
<text x="281.7" y="1057.2" font-size="9.04" fill="#000" textLength="24.1" lengthAdjust="spacingAndGlyphs">Mouse</text>
<text x="339.4" y="1057.2" font-size="9.04" text-anchor="middle" fill="#000" textLength="20.8" lengthAdjust="spacingAndGlyphs">floxed</text>
<text x="369.7" y="1057.2" font-size="9.04" fill="#000" textLength="12.1" lengthAdjust="spacingAndGlyphs">WT</text>
<rect x="176.0" y="640.0" width="92.0" height="36.0" fill="#fcfcfc"/>
<path d="M176.3,646.9 L176.6,646.4 L177.0,647.0 L177.3,647.1 L177.6,646.5 L178.0,647.1 L178.3,646.5 L178.6,645.0 L179.0,647.2 L179.3,646.5 L179.6,647.1 L180.0,646.0 L180.3,647.2 L180.6,646.4 L181.0,645.8 L181.3,647.0 L181.6,646.1 L182.0,646.0 L182.3,646.5 L182.6,647.0 L183.0,647.2 L183.3,646.9 L183.6,646.6 L184.0,646.9 L184.3,646.4 L184.6,645.2 L185.0,645.9 L185.3,647.1 L185.6,646.6 L186.0,647.1 L186.3,646.7 L186.6,646.3 L187.0,646.6 L187.3,646.3 L187.6,646.8 L188.0,645.9 L188.3,646.0 L188.6,646.9 L189.0,645.4 L189.3,646.9 L189.6,646.7 L190.0,646.7 L190.3,645.9 L190.6,647.2 L191.0,646.4 L191.3,646.9 L191.6,646.5 L192.0,646.5 L192.3,647.2 L192.6,647.1 L193.0,647.2 L193.3,646.8 L193.6,647.2 L194.0,646.2 L194.3,646.3 L194.6,647.2 L195.0,647.0 L195.3,646.9 L195.6,647.0 L196.0,646.8 L196.3,646.0 L196.6,646.1 L197.0,646.9 L197.3,646.3 L197.6,647.2 L198.0,646.9 L198.3,646.5 L198.6,646.7 L199.0,646.8 L199.3,647.0 L199.6,647.1 L200.0,647.2 L200.3,647.2 L200.6,646.2 L201.0,646.8 L201.3,646.9 L201.6,646.8 L202.0,647.0 L202.3,647.1 L202.6,646.6 L203.0,646.4 L203.3,646.7 L203.6,646.7 L204.0,645.4 L204.3,647.2 L204.6,646.4 L205.0,647.0 L205.3,647.3 L205.6,646.3 L206.0,646.7 L206.3,646.6 L206.6,647.2 L207.0,646.1 L207.3,646.6 L207.6,646.4 L208.0,647.0 L208.3,645.5 L208.6,646.9 L209.0,646.9 L209.3,646.4 L209.6,646.8 L210.0,646.0 L210.3,647.2 L210.6,645.4 L211.0,647.0 L211.3,645.9 L211.6,646.7 L212.0,644.5 L212.3,647.1 L212.6,647.2 L213.0,646.5 L213.3,646.9 L213.6,645.9 L214.0,646.4 L214.3,646.1 L214.6,646.1 L215.0,647.2 L215.3,647.1 L215.6,647.1 L216.0,645.7 L216.3,647.0 L216.6,645.6 L217.0,646.7 L217.3,646.0 L217.6,646.5 L218.0,646.8 L218.3,646.2 L218.6,646.6 L219.0,646.0 L219.3,646.9 L219.6,645.9 L220.0,647.0 L220.3,646.9 L220.7,646.2 L221.0,646.7 L221.3,647.2 L221.7,646.9 L222.0,647.1 L222.3,647.2 L222.7,646.7 L223.0,646.2 L223.3,647.2 L223.7,647.0 L224.0,646.1 L224.3,646.4 L224.7,646.6 L225.0,647.0 L225.3,646.7 L225.7,646.7 L226.0,647.2 L226.3,647.0 L226.7,646.3 L227.0,646.3 L227.3,647.2 L227.7,645.9 L228.0,646.5 L228.3,646.0 L228.7,647.3 L229.0,647.0 L229.3,646.4 L229.7,645.9 L230.0,647.0 L230.3,646.8 L230.7,646.9 L231.0,646.8 L231.3,646.0 L231.7,647.0 L232.0,646.1 L232.3,647.1 L232.7,647.0 L233.0,647.0 L233.3,646.7 L233.7,646.4 L234.0,645.8 L234.3,646.9 L234.7,647.1 L235.0,646.7 L235.3,647.0 L235.7,646.6 L236.0,647.2 L236.3,646.9 L236.7,646.6 L237.0,646.8 L237.3,647.0 L237.7,646.0 L238.0,646.5 L238.3,646.7 L238.7,647.3 L239.0,645.9 L239.3,646.8 L239.7,647.0 L240.0,647.0 L240.3,646.3 L240.7,646.4 L241.0,646.6 L241.3,647.1 L241.7,646.3 L242.0,646.6 L242.3,646.8 L242.7,646.9 L243.0,646.6 L243.3,645.3 L243.7,646.1 L244.0,646.7 L244.3,645.2 L244.7,646.4 L245.0,646.6 L245.3,646.4 L245.7,646.4 L246.0,646.3 L246.3,647.2 L246.7,646.0 L247.0,646.7 L247.3,646.5 L247.7,646.7 L248.0,646.7 L248.3,646.9 L248.7,646.7 L249.0,646.5 L249.3,646.5 L249.7,646.8 L250.0,645.5 L250.3,646.9 L250.7,645.9 L251.0,646.6 L251.3,646.5 L251.7,646.4 L252.0,646.7 L252.3,646.9 L252.7,646.3 L253.0,646.7 L253.3,647.0 L253.7,647.3 L254.0,646.9 L254.3,647.0 L254.7,647.3 L255.0,647.3 L255.3,647.1 L255.7,646.9 L256.0,646.5 L256.3,647.0 L256.7,646.8 L257.0,647.0 L257.3,646.3 L257.7,646.2 L258.0,646.8 L258.3,645.0 L258.7,645.7 L259.0,647.2 L259.3,647.1 L259.7,645.8 L260.0,646.8 L260.3,646.0 L260.7,646.8 L261.0,647.3 L261.3,646.4 L261.7,646.0 L262.0,647.0 L262.3,647.0 L262.7,647.3 L263.0,647.0 L263.3,646.7 L263.7,646.8 L264.0,646.6 L264.3,646.1 L264.7,647.3 L265.0,647.3 L265.0,651.3 L264.7,652.0 L264.3,651.7 L264.0,650.7 L263.7,651.4 L263.3,651.2 L263.0,652.3 L262.7,651.6 L262.3,650.6 L262.0,651.6 L261.7,652.1 L261.3,651.2 L261.0,650.8 L260.7,651.0 L260.3,654.5 L260.0,652.3 L259.7,650.7 L259.3,651.3 L259.0,651.9 L258.7,651.0 L258.3,652.1 L258.0,650.6 L257.7,654.7 L257.3,652.0 L257.0,651.3 L256.7,651.3 L256.3,650.6 L256.0,651.5 L255.7,650.6 L255.3,650.6 L255.0,651.7 L254.7,652.6 L254.3,651.8 L254.0,651.8 L253.7,650.8 L253.3,650.8 L253.0,651.2 L252.7,653.3 L252.3,650.7 L252.0,652.5 L251.7,650.8 L251.3,650.8 L251.0,651.3 L250.7,652.2 L250.3,652.2 L250.0,651.0 L249.7,651.0 L249.3,651.8 L249.0,653.6 L248.7,651.2 L248.3,650.5 L248.0,650.5 L247.7,650.7 L247.3,654.0 L247.0,650.5 L246.7,651.0 L246.3,651.9 L246.0,651.4 L245.7,651.2 L245.3,650.8 L245.0,652.5 L244.7,650.7 L244.3,652.0 L244.0,651.4 L243.7,650.8 L243.3,651.4 L243.0,652.0 L242.7,651.1 L242.3,651.7 L242.0,650.4 L241.7,651.4 L241.3,650.8 L241.0,652.1 L240.7,651.2 L240.3,650.5 L240.0,651.3 L239.7,653.2 L239.3,651.5 L239.0,652.3 L238.7,653.2 L238.3,651.1 L238.0,652.0 L237.7,653.4 L237.3,650.4 L237.0,650.4 L236.7,650.9 L236.3,652.9 L236.0,650.7 L235.7,651.0 L235.3,651.0 L235.0,652.9 L234.7,650.9 L234.3,651.2 L234.0,651.6 L233.7,652.3 L233.3,651.0 L233.0,652.6 L232.7,651.0 L232.3,651.0 L232.0,650.3 L231.7,651.5 L231.3,652.3 L231.0,651.2 L230.7,650.5 L230.3,650.6 L230.0,650.9 L229.7,650.9 L229.3,650.6 L229.0,650.8 L228.7,650.9 L228.3,653.4 L228.0,651.3 L227.7,651.0 L227.3,651.4 L227.0,650.9 L226.7,652.7 L226.3,652.2 L226.0,651.0 L225.7,651.8 L225.3,651.0 L225.0,650.4 L224.7,652.1 L224.3,650.7 L224.0,651.7 L223.7,650.5 L223.3,652.8 L223.0,651.9 L222.7,652.4 L222.3,653.4 L222.0,651.2 L221.7,651.5 L221.3,651.8 L221.0,650.9 L220.7,653.4 L220.3,651.0 L220.0,650.8 L219.6,651.8 L219.3,650.5 L219.0,651.2 L218.6,651.1 L218.3,651.6 L218.0,652.4 L217.6,650.7 L217.3,650.9 L217.0,652.8 L216.6,652.0 L216.3,651.6 L216.0,651.6 L215.6,650.7 L215.3,650.8 L215.0,651.6 L214.6,651.9 L214.3,650.6 L214.0,650.9 L213.6,650.7 L213.3,650.6 L213.0,651.3 L212.6,650.7 L212.3,650.6 L212.0,650.6 L211.6,650.7 L211.3,650.6 L211.0,651.5 L210.6,651.4 L210.3,652.6 L210.0,651.7 L209.6,650.6 L209.3,651.7 L209.0,651.3 L208.6,651.8 L208.3,651.2 L208.0,651.6 L207.6,651.4 L207.3,650.6 L207.0,652.0 L206.6,651.3 L206.3,651.0 L206.0,653.3 L205.6,652.0 L205.3,650.3 L205.0,651.9 L204.6,650.6 L204.3,651.2 L204.0,650.3 L203.6,651.5 L203.3,650.7 L203.0,652.1 L202.6,652.1 L202.3,651.2 L202.0,651.6 L201.6,651.4 L201.3,652.8 L201.0,651.0 L200.6,650.7 L200.3,653.0 L200.0,652.8 L199.6,652.0 L199.3,651.7 L199.0,651.4 L198.6,651.3 L198.3,652.7 L198.0,652.1 L197.6,653.7 L197.3,652.1 L197.0,650.5 L196.6,650.8 L196.3,650.6 L196.0,651.4 L195.6,652.0 L195.3,651.8 L195.0,651.4 L194.6,651.2 L194.3,650.9 L194.0,652.3 L193.6,650.7 L193.3,651.1 L193.0,650.5 L192.6,654.5 L192.3,651.4 L192.0,653.9 L191.6,652.1 L191.3,650.5 L191.0,651.6 L190.6,651.7 L190.3,650.3 L190.0,651.6 L189.6,652.3 L189.3,650.9 L189.0,652.7 L188.6,650.6 L188.3,651.2 L188.0,651.0 L187.6,650.3 L187.3,651.4 L187.0,651.1 L186.6,651.6 L186.3,653.3 L186.0,650.9 L185.6,651.6 L185.3,651.1 L185.0,650.4 L184.6,651.2 L184.3,652.5 L184.0,651.5 L183.6,650.6 L183.3,651.1 L183.0,651.2 L182.6,652.8 L182.3,651.8 L182.0,650.7 L181.6,654.0 L181.3,651.1 L181.0,651.1 L180.6,651.2 L180.3,651.3 L180.0,653.0 L179.6,651.5 L179.3,650.8 L179.0,650.5 L178.6,652.8 L178.3,650.6 L178.0,651.0 L177.6,652.2 L177.3,652.7 L177.0,650.8 L176.6,651.7 L176.3,650.4Z" fill="#7ab52b" stroke="#7ab52b" stroke-width="0.3" stroke-linejoin="round"/>
<path d="M218.4,650.3 L219.0,670.5 L219.6,650.3Z M216.2,650.3 L216.8,659.0 L217.4,650.3Z M225.4,650.3 L226.0,657.5 L226.6,650.3Z M236.4,650.3 L237.0,656.0 L237.6,650.3Z M244.9,650.3 L245.5,657.0 L246.1,650.3Z M189.4,650.3 L190.0,656.0 L190.6,650.3Z M195.4,650.3 L196.0,656.5 L196.6,650.3Z M202.4,650.3 L203.0,656.0 L203.6,650.3Z M209.4,650.3 L210.0,656.0 L210.6,650.3Z M231.4,650.3 L232.0,656.0 L232.6,650.3Z M251.4,650.3 L252.0,655.5 L252.6,650.3Z M257.4,650.3 L258.0,656.0 L258.6,650.3Z " fill="#7ab52b" stroke="#7ab52b" stroke-width="0.45"/>
<text x="176.3" y="664.5" font-size="6.60" fill="#333" textLength="37.2" lengthAdjust="spacingAndGlyphs">GFP positive</text>
<text x="179.0" y="671.2" font-size="6.60" fill="#333" textLength="31.7" lengthAdjust="spacingAndGlyphs">(Knockout)</text>
<path d="M303.0,646.1 L303.3,646.1 L303.7,645.4 L304.0,645.9 L304.3,646.2 L304.7,645.2 L305.0,646.7 L305.3,646.7 L305.7,645.6 L306.0,646.0 L306.3,646.4 L306.7,646.5 L307.0,646.5 L307.3,646.8 L307.7,646.7 L308.0,646.7 L308.3,646.4 L308.7,646.3 L309.0,647.0 L309.3,645.9 L309.7,646.6 L310.0,646.9 L310.3,645.4 L310.7,646.9 L311.0,645.8 L311.3,646.1 L311.7,647.0 L312.0,647.1 L312.3,647.1 L312.7,647.2 L313.0,645.5 L313.3,646.7 L313.7,645.5 L314.0,646.7 L314.4,646.5 L314.7,647.3 L315.0,647.4 L315.4,647.0 L315.7,646.4 L316.0,647.3 L316.4,647.5 L316.7,645.7 L317.0,645.9 L317.4,647.5 L317.7,645.9 L318.0,647.3 L318.4,647.4 L318.7,647.4 L319.0,647.2 L319.4,647.3 L319.7,646.9 L320.0,647.1 L320.4,647.6 L320.7,647.2 L321.0,646.2 L321.4,647.5 L321.7,647.6 L322.0,647.2 L322.4,645.7 L322.7,647.6 L323.0,646.2 L323.4,646.3 L323.7,647.7 L324.0,647.5 L324.4,647.1 L324.7,646.3 L325.0,647.7 L325.4,645.8 L325.7,647.5 L326.0,646.9 L326.4,647.2 L326.7,647.2 L327.0,647.3 L327.4,646.7 L327.7,647.6 L328.0,646.5 L328.4,647.6 L328.7,647.4 L329.0,647.1 L329.4,647.1 L329.7,647.3 L330.0,647.5 L330.4,647.0 L330.7,647.4 L331.0,646.8 L331.4,647.4 L331.7,647.1 L332.0,646.7 L332.4,646.9 L332.7,647.5 L333.0,647.5 L333.4,646.8 L333.7,647.5 L334.0,647.1 L334.4,647.3 L334.7,645.9 L335.0,647.1 L335.4,647.2 L335.7,646.8 L336.0,646.5 L336.4,647.2 L336.7,646.7 L337.1,646.2 L337.4,646.5 L337.7,646.7 L338.1,646.7 L338.4,646.2 L338.7,647.1 L339.1,646.3 L339.4,647.1 L339.7,646.6 L340.1,646.2 L340.4,646.8 L340.7,646.6 L341.1,646.4 L341.4,646.9 L341.7,646.5 L342.1,646.0 L342.4,646.5 L342.7,646.6 L343.1,646.2 L343.4,645.8 L343.7,646.4 L344.1,645.8 L344.4,646.6 L344.7,645.9 L345.1,646.2 L345.4,646.2 L345.7,645.0 L346.1,645.6 L346.4,646.5 L346.7,645.7 L347.1,646.1 L347.4,645.9 L347.7,646.1 L348.1,646.2 L348.4,646.1 L348.7,646.4 L349.1,646.1 L349.4,646.2 L349.7,646.3 L350.1,646.2 L350.4,645.3 L350.7,646.0 L351.1,645.9 L351.4,646.1 L351.7,645.6 L352.1,645.4 L352.4,645.3 L352.7,645.1 L353.1,644.7 L353.4,645.2 L353.7,645.2 L354.1,646.2 L354.4,645.2 L354.7,646.3 L355.1,646.2 L355.4,646.3 L355.7,645.9 L356.1,644.7 L356.4,646.3 L356.7,645.7 L357.1,645.2 L357.4,645.9 L357.7,645.8 L358.1,645.9 L358.4,646.1 L358.7,645.8 L359.1,646.2 L359.4,645.3 L359.8,645.1 L360.1,645.7 L360.4,646.0 L360.8,644.7 L361.1,645.9 L361.4,646.1 L361.8,646.1 L362.1,645.7 L362.4,644.7 L362.8,646.1 L363.1,645.4 L363.4,644.6 L363.8,645.3 L364.1,646.0 L364.4,645.4 L364.8,646.2 L365.1,644.9 L365.4,646.1 L365.8,645.2 L366.1,645.4 L366.4,645.4 L366.8,645.3 L367.1,645.0 L367.4,646.2 L367.8,646.1 L368.1,645.7 L368.4,645.9 L368.8,645.8 L369.1,646.0 L369.4,645.5 L369.8,645.3 L370.1,645.2 L370.4,644.9 L370.8,645.9 L371.1,645.8 L371.4,646.0 L371.8,645.7 L372.1,645.9 L372.4,645.3 L372.8,646.2 L373.1,645.7 L373.4,645.0 L373.8,645.9 L374.1,645.6 L374.4,645.9 L374.8,646.0 L375.1,646.2 L375.4,645.3 L375.8,644.8 L376.1,645.6 L376.4,645.6 L376.8,645.8 L377.1,646.0 L377.4,646.2 L377.8,645.4 L378.1,645.3 L378.4,645.9 L378.8,646.1 L379.1,646.1 L379.4,646.3 L379.8,645.3 L380.1,644.9 L380.4,645.8 L380.8,645.3 L381.1,646.0 L381.4,645.5 L381.8,645.5 L382.1,646.2 L382.5,646.1 L382.8,646.1 L383.1,645.5 L383.5,646.2 L383.8,646.2 L384.1,645.6 L384.5,646.0 L384.8,645.4 L385.1,646.2 L385.5,646.2 L385.8,646.3 L386.1,646.3 L386.5,645.7 L386.8,645.5 L387.1,644.8 L387.5,645.9 L387.8,645.9 L388.1,645.0 L388.5,646.4 L388.8,646.0 L389.1,645.3 L389.5,646.5 L389.8,645.6 L390.1,645.7 L390.5,646.1 L390.8,645.8 L391.1,646.0 L391.5,646.1 L391.8,646.5 L392.1,646.4 L392.5,646.3 L392.8,646.5 L392.8,651.4 L392.5,649.6 L392.1,649.4 L391.8,649.3 L391.5,649.9 L391.1,650.9 L390.8,649.4 L390.5,651.2 L390.1,650.3 L389.8,649.5 L389.5,651.0 L389.1,649.3 L388.8,651.1 L388.5,652.7 L388.1,650.7 L387.8,650.0 L387.5,649.3 L387.1,650.3 L386.8,649.8 L386.5,649.4 L386.1,649.8 L385.8,649.9 L385.5,650.3 L385.1,649.6 L384.8,650.0 L384.5,649.9 L384.1,650.6 L383.8,649.5 L383.5,650.9 L383.1,649.6 L382.8,649.6 L382.5,651.6 L382.1,650.7 L381.8,649.4 L381.4,650.9 L381.1,650.4 L380.8,651.1 L380.4,652.2 L380.1,649.4 L379.8,651.0 L379.4,650.7 L379.1,649.3 L378.8,649.4 L378.4,650.1 L378.1,649.0 L377.8,650.0 L377.4,649.2 L377.1,650.3 L376.8,649.5 L376.4,649.9 L376.1,649.0 L375.8,650.7 L375.4,650.1 L375.1,649.2 L374.8,650.1 L374.4,650.4 L374.1,650.9 L373.8,649.6 L373.4,650.7 L373.1,651.3 L372.8,649.9 L372.4,651.0 L372.1,650.8 L371.8,648.9 L371.4,650.9 L371.1,649.5 L370.8,649.4 L370.4,649.7 L370.1,650.0 L369.8,649.5 L369.4,649.9 L369.1,650.2 L368.8,649.1 L368.4,650.0 L368.1,649.3 L367.8,649.8 L367.4,649.1 L367.1,649.7 L366.8,649.1 L366.4,649.8 L366.1,649.2 L365.8,649.0 L365.4,650.1 L365.1,649.3 L364.8,649.1 L364.4,649.9 L364.1,649.3 L363.8,649.8 L363.4,649.1 L363.1,650.6 L362.8,649.7 L362.4,650.8 L362.1,650.1 L361.8,649.2 L361.4,650.7 L361.1,650.7 L360.8,650.3 L360.4,650.2 L360.1,649.4 L359.8,649.6 L359.4,650.7 L359.1,649.2 L358.7,649.8 L358.4,649.8 L358.1,649.4 L357.7,649.4 L357.4,649.3 L357.1,649.1 L356.7,649.4 L356.4,649.4 L356.1,650.9 L355.7,649.3 L355.4,651.4 L355.1,649.2 L354.7,650.2 L354.4,649.2 L354.1,649.7 L353.7,649.8 L353.4,649.7 L353.1,650.1 L352.7,649.8 L352.4,649.6 L352.1,649.8 L351.7,649.8 L351.4,649.4 L351.1,649.3 L350.7,649.4 L350.4,649.4 L350.1,649.4 L349.7,649.9 L349.4,649.9 L349.1,650.3 L348.7,649.7 L348.4,649.8 L348.1,649.5 L347.7,650.2 L347.4,650.4 L347.1,650.1 L346.7,650.6 L346.4,650.2 L346.1,650.9 L345.7,650.4 L345.4,650.4 L345.1,649.5 L344.7,649.9 L344.4,650.0 L344.1,649.5 L343.7,649.9 L343.4,650.7 L343.1,651.1 L342.7,649.8 L342.4,651.1 L342.1,650.6 L341.7,650.4 L341.4,650.2 L341.1,652.0 L340.7,651.2 L340.4,650.6 L340.1,650.5 L339.7,650.1 L339.4,650.0 L339.1,650.9 L338.7,651.6 L338.4,651.2 L338.1,650.6 L337.7,650.6 L337.4,651.5 L337.1,651.5 L336.7,650.9 L336.4,650.1 L336.0,650.3 L335.7,650.2 L335.4,650.3 L335.0,651.7 L334.7,651.7 L334.4,651.4 L334.0,650.4 L333.7,650.3 L333.4,654.0 L333.0,653.0 L332.7,651.6 L332.4,651.3 L332.0,650.5 L331.7,651.6 L331.4,651.2 L331.0,653.1 L330.7,652.6 L330.4,651.0 L330.0,651.1 L329.7,651.1 L329.4,651.5 L329.0,651.3 L328.7,653.1 L328.4,650.9 L328.0,650.6 L327.7,650.6 L327.4,650.6 L327.0,650.5 L326.7,652.2 L326.4,650.6 L326.0,653.7 L325.7,650.5 L325.4,652.4 L325.0,650.9 L324.7,650.9 L324.4,651.4 L324.0,650.8 L323.7,652.0 L323.4,650.5 L323.0,651.2 L322.7,651.7 L322.4,651.4 L322.0,651.1 L321.7,651.6 L321.4,652.2 L321.0,650.5 L320.7,650.6 L320.4,650.7 L320.0,651.0 L319.7,651.1 L319.4,652.4 L319.0,653.6 L318.7,650.7 L318.4,651.0 L318.0,650.4 L317.7,650.8 L317.4,651.3 L317.0,652.0 L316.7,650.8 L316.4,650.3 L316.0,650.7 L315.7,651.6 L315.4,651.3 L315.0,650.9 L314.7,651.3 L314.4,650.3 L314.0,651.4 L313.7,650.2 L313.3,652.8 L313.0,650.2 L312.7,650.3 L312.3,651.1 L312.0,650.3 L311.7,650.2 L311.3,650.6 L311.0,650.2 L310.7,650.1 L310.3,651.9 L310.0,650.6 L309.7,650.3 L309.3,650.7 L309.0,651.3 L308.7,651.6 L308.3,652.3 L308.0,650.2 L307.7,649.7 L307.3,649.8 L307.0,649.7 L306.7,649.9 L306.3,649.8 L306.0,651.4 L305.7,649.6 L305.3,650.1 L305.0,649.5 L304.7,650.2 L304.3,650.6 L304.0,650.2 L303.7,649.4 L303.3,651.7 L303.0,649.6Z" fill="#173a96" stroke="#173a96" stroke-width="0.3" stroke-linejoin="round"/>
<path d="M361.4,649.8 L362.0,665.0 L362.6,649.8Z M357.1,649.8 L357.7,658.5 L358.2,649.8Z M365.9,649.8 L366.5,655.0 L367.1,649.8Z M319.4,649.8 L320.0,654.0 L320.6,649.8Z M331.4,649.8 L332.0,654.0 L332.6,649.8Z M344.4,649.8 L345.0,654.0 L345.6,649.8Z M377.4,649.8 L378.0,654.0 L378.6,649.8Z " fill="#173a96" stroke="#173a96" stroke-width="0.45"/>
<text x="301.9" y="664.0" font-size="6.60" fill="#333" textLength="40.1" lengthAdjust="spacingAndGlyphs">GFP negative</text>
<path d="M374.6,662.4 V670.7 H356.6" stroke="#000" stroke-width="1.0" fill="none" stroke-linejoin="miter" stroke-linecap="butt"/>
<text x="377.4" y="667.8" font-size="6.20" fill="#000" textLength="15.8" lengthAdjust="spacingAndGlyphs">10 pA</text>
<text x="366.5" y="678.2" font-size="6.20" text-anchor="middle" fill="#000">1 s</text>
<path d="M183.0,879.7 L183.3,880.8 L183.7,879.7 L184.0,880.6 L184.3,880.3 L184.7,878.2 L185.0,880.1 L185.3,879.8 L185.7,881.2 L186.0,881.2 L186.3,880.2 L186.7,879.8 L187.0,880.6 L187.3,881.9 L187.7,879.2 L188.0,882.3 L188.3,881.0 L188.7,882.0 L189.0,882.8 L189.4,881.6 L189.7,882.7 L190.0,883.0 L190.4,881.0 L190.7,883.4 L191.0,883.0 L191.4,882.8 L191.7,882.7 L192.0,883.4 L192.4,882.0 L192.7,876.9 L193.0,871.9 L193.4,876.8 L193.7,877.8 L194.0,880.3 L194.4,881.2 L194.7,880.7 L195.0,881.3 L195.4,882.4 L195.7,881.1 L196.0,882.3 L196.4,881.3 L196.7,881.6 L197.0,881.9 L197.4,880.6 L197.7,882.5 L198.0,881.0 L198.4,882.5 L198.7,881.9 L199.0,882.0 L199.4,881.2 L199.7,880.4 L200.1,872.0 L200.4,860.4 L200.7,863.9 L201.1,867.4 L201.4,872.4 L201.7,876.5 L202.1,878.3 L202.4,876.0 L202.7,864.8 L203.1,856.1 L203.4,865.9 L203.7,869.5 L204.1,872.1 L204.4,875.1 L204.7,878.9 L205.1,880.0 L205.4,880.7 L205.7,881.5 L206.1,873.5 L206.4,866.4 L206.7,866.4 L207.1,872.6 L207.4,873.3 L207.7,876.9 L208.1,878.3 L208.4,879.1 L208.7,879.7 L209.1,880.1 L209.4,880.6 L209.7,880.6 L210.1,880.7 L210.4,879.5 L210.8,881.1 L211.1,880.2 L211.4,880.5 L211.8,880.3 L212.1,879.7 L212.4,880.3 L212.8,880.9 L213.1,880.3 L213.4,877.4 L213.8,869.5 L214.1,866.6 L214.4,871.4 L214.8,874.4 L215.1,876.8 L215.4,878.3 L215.8,879.3 L216.1,879.8 L216.4,876.7 L216.8,867.3 L217.1,865.2 L217.4,869.4 L217.8,874.3 L218.1,875.0 L218.4,877.8 L218.8,878.5 L219.1,880.6 L219.4,881.0 L219.8,881.2 L220.1,882.0 L220.4,882.8 L220.8,882.0 L221.1,880.9 L221.4,882.7 L221.8,880.6 L222.1,876.6 L222.5,870.9 L222.8,873.5 L223.1,875.8 L223.5,878.5 L223.8,879.4 L224.1,878.6 L224.5,881.6 L224.8,881.3 L225.1,881.6 L225.5,880.3 L225.8,882.3 L226.1,880.5 L226.5,882.7 L226.8,880.8 L227.1,882.4 L227.5,881.7 L227.8,881.8 L228.1,882.0 L228.5,877.3 L228.8,870.5 L229.1,868.6 L229.5,871.9 L229.8,876.2 L230.1,878.4 L230.5,879.1 L230.8,879.9 L231.1,880.6 L231.5,882.2 L231.8,882.4 L232.1,881.0 L232.5,882.6 L232.8,882.6 L233.2,877.2 L233.5,870.2 L233.8,872.1 L234.2,874.7 L234.5,877.3 L234.8,879.3 L235.2,879.8 L235.5,881.0 L235.8,880.3 L236.2,881.1 L236.5,880.6 L236.8,875.7 L237.2,860.1 L237.5,852.3 L237.8,861.5 L238.2,868.1 L238.5,871.8 L238.8,874.2 L239.2,876.1 L239.5,878.4 L239.8,878.0 L240.2,873.2 L240.5,866.5 L240.8,870.5 L241.2,873.8 L241.5,875.6 L241.8,876.7 L242.2,878.9 L242.5,877.8 L242.8,880.0 L243.2,880.0 L243.5,879.5 L243.8,878.8 L244.2,880.5 L244.5,880.8 L244.9,880.4 L245.2,881.0 L245.5,880.9 L245.9,881.3 L246.2,879.7 L246.5,881.9 L246.9,880.0 L247.2,871.8 L247.5,865.9 L247.9,871.6 L248.2,875.5 L248.5,877.5 L248.9,878.9 L249.2,880.3 L249.5,880.5 L249.9,881.3 L250.2,881.5 L250.5,881.9 L250.9,881.4 L251.2,882.6 L251.5,878.3 L251.9,872.9 L252.2,873.9 L252.5,875.4 L252.9,877.1 L253.2,879.2 L253.5,877.6 L253.9,879.6 L254.2,881.2 L254.5,880.2 L254.9,881.8 L255.2,881.1 L255.6,881.8 L255.9,880.3 L256.2,881.8 L256.6,881.4 L256.9,881.9 L257.2,882.2 L257.6,882.1 L257.9,882.7 L258.2,882.1 L258.6,882.7 L258.9,882.4 L259.2,882.3 L259.6,877.4 L259.9,873.7 L260.2,874.5 L260.6,878.0 L260.9,878.5 L261.2,879.3 L261.6,881.5 L261.9,882.0 L262.2,880.7 L262.6,883.0 L262.9,880.8 L263.2,881.8 L263.6,882.7 L263.9,883.3 L264.2,882.2 L264.6,882.0 L264.9,882.0 L265.2,882.5 L265.6,876.4 L265.9,874.2 L266.3,875.4 L266.6,877.8 L266.9,879.2 L267.3,880.1 L267.6,878.3 L267.9,880.8 L268.3,881.0 L268.6,881.4 L268.9,879.3 L269.3,881.3 L269.6,880.8 L269.9,877.8 L270.3,881.2 L270.6,880.8 L270.9,880.3 L271.3,879.1 L271.6,880.5 L271.6,884.5 L271.3,885.8 L270.9,885.3 L270.6,884.7 L270.3,884.3 L269.9,885.2 L269.6,885.5 L269.3,885.1 L268.9,884.7 L268.6,884.9 L268.3,885.9 L267.9,884.3 L267.6,884.3 L267.3,884.6 L266.9,887.4 L266.6,885.8 L266.3,884.6 L265.9,887.0 L265.6,887.4 L265.2,886.8 L264.9,887.6 L264.6,886.5 L264.2,889.2 L263.9,887.7 L263.6,886.8 L263.2,887.9 L262.9,887.1 L262.6,886.1 L262.2,887.1 L261.9,886.8 L261.6,886.4 L261.2,887.2 L260.9,886.3 L260.6,885.1 L260.2,886.1 L259.9,888.0 L259.6,887.0 L259.2,887.6 L258.9,886.5 L258.6,887.8 L258.2,888.7 L257.9,886.2 L257.6,887.4 L257.2,886.3 L256.9,886.3 L256.6,886.7 L256.2,886.3 L255.9,886.5 L255.6,887.4 L255.2,885.3 L254.9,887.0 L254.5,886.2 L254.2,884.7 L253.9,885.7 L253.5,885.3 L253.2,885.0 L252.9,883.7 L252.5,884.2 L252.2,884.5 L251.9,886.4 L251.5,886.2 L251.2,886.7 L250.9,885.9 L250.5,885.6 L250.2,886.4 L249.9,886.6 L249.5,885.3 L249.2,887.5 L248.9,883.9 L248.5,883.8 L248.2,882.3 L247.9,883.6 L247.5,885.0 L247.2,885.8 L246.9,885.3 L246.5,887.1 L246.2,885.5 L245.9,885.1 L245.5,885.0 L245.2,886.3 L244.9,884.9 L244.5,885.7 L244.2,885.2 L243.8,885.3 L243.5,885.7 L243.2,884.4 L242.8,884.2 L242.5,884.3 L242.2,885.0 L241.8,882.9 L241.5,882.5 L241.2,881.3 L240.8,882.2 L240.5,883.7 L240.2,883.1 L239.8,882.5 L239.5,882.7 L239.2,881.0 L238.8,881.5 L238.5,879.5 L238.2,878.4 L237.8,880.4 L237.5,884.0 L237.2,885.9 L236.8,885.6 L236.5,885.9 L236.2,887.2 L235.8,885.2 L235.5,884.8 L235.2,884.7 L234.8,884.8 L234.5,884.1 L234.2,885.3 L233.8,884.9 L233.5,888.9 L233.2,886.6 L232.8,886.1 L232.5,886.7 L232.1,886.3 L231.8,885.5 L231.5,886.1 L231.1,884.8 L230.8,885.0 L230.5,884.2 L230.1,883.5 L229.8,882.8 L229.5,884.1 L229.1,885.1 L228.8,887.4 L228.5,887.3 L228.1,887.3 L227.8,886.0 L227.5,885.9 L227.1,886.2 L226.8,887.7 L226.5,887.2 L226.1,886.3 L225.8,886.3 L225.5,886.5 L225.1,887.4 L224.8,887.3 L224.5,885.8 L224.1,885.2 L223.8,884.4 L223.5,885.2 L223.1,883.7 L222.8,888.0 L222.5,887.3 L222.1,887.1 L221.8,888.8 L221.4,886.3 L221.1,887.5 L220.8,886.9 L220.4,886.2 L220.1,886.5 L219.8,886.0 L219.4,884.8 L219.1,884.8 L218.8,884.7 L218.4,883.2 L218.1,882.6 L217.8,883.1 L217.4,882.2 L217.1,885.1 L216.8,885.2 L216.4,886.2 L216.1,884.0 L215.8,883.3 L215.4,883.5 L215.1,883.1 L214.8,881.6 L214.4,883.4 L214.1,885.5 L213.8,886.2 L213.4,884.2 L213.1,884.2 L212.8,884.8 L212.4,884.6 L212.1,884.1 L211.8,886.1 L211.4,884.7 L211.1,884.6 L210.8,884.3 L210.4,884.5 L210.1,885.5 L209.7,884.3 L209.4,884.3 L209.1,884.1 L208.7,883.7 L208.4,884.3 L208.1,883.4 L207.7,882.7 L207.4,881.6 L207.1,881.5 L206.7,882.8 L206.4,887.3 L206.1,886.3 L205.7,885.0 L205.4,886.0 L205.1,883.4 L204.7,883.2 L204.4,883.1 L204.1,880.8 L203.7,880.0 L203.4,881.7 L203.1,884.4 L202.7,886.6 L202.4,883.6 L202.1,884.0 L201.7,882.1 L201.4,882.2 L201.1,880.9 L200.7,884.0 L200.4,886.8 L200.1,886.5 L199.7,886.1 L199.4,887.1 L199.0,886.3 L198.7,887.4 L198.4,886.2 L198.0,887.0 L197.7,885.8 L197.4,887.9 L197.0,885.8 L196.7,886.1 L196.4,886.9 L196.0,885.9 L195.7,885.7 L195.4,886.3 L195.0,887.7 L194.7,885.5 L194.4,885.1 L194.0,885.2 L193.7,884.6 L193.4,885.3 L193.0,886.9 L192.7,886.9 L192.4,887.8 L192.0,887.4 L191.7,887.0 L191.4,887.3 L191.0,887.0 L190.7,888.0 L190.4,886.9 L190.0,886.8 L189.7,887.3 L189.4,886.1 L189.0,886.8 L188.7,886.5 L188.3,886.8 L188.0,886.3 L187.7,886.5 L187.3,885.7 L187.0,885.7 L186.7,885.9 L186.3,886.0 L186.0,884.6 L185.7,885.5 L185.3,885.0 L185.0,884.6 L184.7,884.4 L184.3,885.6 L184.0,884.6 L183.7,886.2 L183.3,885.1 L183.0,884.9Z" fill="#7ab52b" stroke="#7ab52b" stroke-width="0.3" stroke-linejoin="round"/>
<text x="186.6" y="897.6" font-size="6.60" fill="#333" textLength="37.2" lengthAdjust="spacingAndGlyphs">GFP positive</text>
<text x="189.4" y="904.8" font-size="6.60" fill="#333" textLength="31.7" lengthAdjust="spacingAndGlyphs">(Knockout)</text>
<path d="M300.8,880.4 L301.1,880.7 L301.5,881.3 L301.8,881.1 L302.1,882.2 L302.5,878.2 L302.8,871.5 L303.1,869.4 L303.5,873.5 L303.8,876.8 L304.1,877.8 L304.5,878.9 L304.8,880.8 L305.1,881.9 L305.5,881.1 L305.8,882.1 L306.1,882.6 L306.5,883.0 L306.8,883.7 L307.1,883.7 L307.5,883.4 L307.8,883.6 L308.1,883.7 L308.5,883.6 L308.8,883.7 L309.1,882.6 L309.5,883.1 L309.8,883.5 L310.1,882.6 L310.5,882.3 L310.8,882.7 L311.1,882.3 L311.5,880.7 L311.8,883.0 L312.1,881.2 L312.5,881.2 L312.8,882.4 L313.1,876.3 L313.5,869.6 L313.8,873.0 L314.1,875.7 L314.5,878.0 L314.8,879.7 L315.1,878.5 L315.5,879.6 L315.8,882.0 L316.1,881.7 L316.5,879.5 L316.8,881.4 L317.1,882.4 L317.5,881.6 L317.8,883.0 L318.1,883.3 L318.5,882.2 L318.8,882.4 L319.1,882.1 L319.5,882.3 L319.8,882.2 L320.1,882.6 L320.5,882.3 L320.8,880.7 L321.1,872.2 L321.5,860.8 L321.8,867.5 L322.1,872.5 L322.5,875.0 L322.8,877.3 L323.1,878.5 L323.5,878.4 L323.8,878.1 L324.1,880.4 L324.5,877.9 L324.8,880.2 L325.1,881.0 L325.5,876.6 L325.8,873.0 L326.1,871.4 L326.5,874.3 L326.8,876.2 L327.1,877.0 L327.5,877.2 L327.8,877.7 L328.1,878.8 L328.5,880.1 L328.8,879.9 L329.1,877.6 L329.5,881.5 L329.8,880.1 L330.1,881.2 L330.5,881.7 L330.8,881.0 L331.1,881.8 L331.5,881.6 L331.8,882.0 L332.1,882.3 L332.5,881.6 L332.8,881.3 L333.1,881.7 L333.5,881.4 L333.8,881.7 L334.1,882.0 L334.5,882.5 L334.8,882.0 L335.1,880.1 L335.5,879.7 L335.8,874.7 L336.1,872.3 L336.5,875.2 L336.8,877.9 L337.1,877.4 L337.5,880.0 L337.8,880.3 L338.1,881.1 L338.5,880.1 L338.8,881.6 L339.1,880.4 L339.5,880.0 L339.8,879.8 L340.1,881.5 L340.5,882.0 L340.8,881.6 L341.1,880.5 L341.5,880.7 L341.8,882.3 L342.1,881.6 L342.5,881.5 L342.8,882.1 L343.1,882.2 L343.5,883.3 L343.8,883.0 L344.1,882.8 L344.5,881.7 L344.8,882.5 L345.1,883.4 L345.5,883.1 L345.8,882.7 L346.2,882.5 L346.5,883.4 L346.8,881.9 L347.2,873.3 L347.5,864.1 L347.8,868.2 L348.2,873.0 L348.5,877.0 L348.8,877.6 L349.2,880.0 L349.5,879.8 L349.8,882.0 L350.2,881.4 L350.5,881.8 L350.8,881.9 L351.2,882.1 L351.5,882.5 L351.8,882.8 L352.2,879.8 L352.5,880.3 L352.8,881.8 L353.2,882.7 L353.5,882.5 L353.8,881.6 L354.2,882.1 L354.5,881.3 L354.8,882.8 L355.2,881.8 L355.5,882.5 L355.8,880.9 L356.2,882.9 L356.5,879.6 L356.8,872.7 L357.2,872.0 L357.5,873.9 L357.8,876.4 L358.2,879.1 L358.5,880.3 L358.8,881.5 L359.2,881.9 L359.5,880.8 L359.8,881.6 L360.2,881.9 L360.5,881.7 L360.8,882.1 L361.2,881.3 L361.5,880.6 L361.8,882.2 L362.2,881.0 L362.5,877.3 L362.8,868.3 L363.2,866.3 L363.5,871.1 L363.8,873.1 L364.2,875.2 L364.5,877.3 L364.8,877.3 L365.2,879.5 L365.5,880.1 L365.8,878.7 L366.2,880.7 L366.5,879.7 L366.8,880.8 L367.2,881.1 L367.5,880.9 L367.8,880.0 L368.2,880.5 L368.5,880.4 L368.8,880.5 L369.2,881.2 L369.5,880.7 L369.8,874.6 L370.2,866.4 L370.5,865.7 L370.8,870.7 L371.2,874.5 L371.5,876.6 L371.8,878.3 L372.2,879.8 L372.5,880.0 L372.8,880.9 L373.2,880.9 L373.5,881.9 L373.8,879.0 L374.2,879.3 L374.5,882.4 L374.8,881.7 L375.2,880.4 L375.5,877.0 L375.8,868.4 L376.2,867.4 L376.5,872.3 L376.8,875.6 L377.2,877.7 L377.5,878.6 L377.8,879.6 L378.2,879.6 L378.5,880.5 L378.8,879.7 L379.2,879.7 L379.5,881.0 L379.8,880.7 L380.2,881.6 L380.5,878.6 L380.8,872.5 L381.2,872.2 L381.5,875.9 L381.8,877.1 L382.2,878.0 L382.5,879.5 L382.8,881.4 L383.2,882.0 L383.5,882.1 L383.8,882.5 L384.2,883.4 L384.5,883.6 L384.8,883.1 L385.2,884.0 L385.5,883.5 L385.8,882.2 L386.2,883.3 L386.5,882.5 L386.8,884.0 L387.2,882.8 L387.5,877.0 L387.8,863.2 L388.2,861.2 L388.5,869.7 L388.8,872.8 L389.2,876.1 L389.5,876.6 L389.5,883.4 L389.2,882.6 L388.8,881.7 L388.5,882.6 L388.2,884.1 L387.8,888.4 L387.5,888.1 L387.2,888.1 L386.8,887.7 L386.5,889.3 L386.2,888.6 L385.8,887.7 L385.5,887.5 L385.2,889.2 L384.8,886.9 L384.5,886.8 L384.2,887.7 L383.8,886.3 L383.5,887.0 L383.2,886.5 L382.8,885.6 L382.5,886.2 L382.2,884.5 L381.8,885.1 L381.5,883.7 L381.2,884.9 L380.8,887.2 L380.5,885.8 L380.2,887.8 L379.8,886.0 L379.5,885.7 L379.2,885.7 L378.8,884.6 L378.5,884.7 L378.2,884.9 L377.8,885.1 L377.5,883.1 L377.2,883.3 L376.8,883.5 L376.5,882.5 L376.2,884.3 L375.8,887.8 L375.5,888.7 L375.2,885.6 L374.8,885.9 L374.5,885.5 L374.2,885.6 L373.8,886.7 L373.5,886.0 L373.2,885.2 L372.8,885.6 L372.5,884.8 L372.2,884.4 L371.8,884.0 L371.5,882.8 L371.2,883.2 L370.8,881.8 L370.5,883.3 L370.2,885.7 L369.8,885.2 L369.5,887.2 L369.2,886.0 L368.8,885.1 L368.5,884.6 L368.2,884.4 L367.8,885.7 L367.5,885.2 L367.2,885.5 L366.8,885.3 L366.5,885.6 L366.2,883.6 L365.8,885.6 L365.5,883.5 L365.2,885.4 L364.8,882.8 L364.5,882.3 L364.2,882.5 L363.8,883.1 L363.5,881.7 L363.2,884.6 L362.8,885.5 L362.5,887.2 L362.2,886.7 L361.8,886.4 L361.5,887.4 L361.2,885.7 L360.8,887.0 L360.5,886.8 L360.2,886.2 L359.8,886.8 L359.5,886.3 L359.2,885.9 L358.8,887.1 L358.5,886.5 L358.2,885.2 L357.8,883.9 L357.5,884.2 L357.2,886.9 L356.8,888.6 L356.5,886.4 L356.2,887.4 L355.8,888.7 L355.5,886.3 L355.2,886.3 L354.8,886.1 L354.5,887.1 L354.2,886.6 L353.8,885.7 L353.5,886.3 L353.2,888.5 L352.8,887.6 L352.5,886.1 L352.2,885.8 L351.8,887.5 L351.5,887.6 L351.2,886.0 L350.8,885.7 L350.5,885.6 L350.2,885.5 L349.8,885.1 L349.5,885.0 L349.2,885.1 L348.8,884.4 L348.5,883.5 L348.2,883.1 L347.8,884.1 L347.5,887.3 L347.2,889.0 L346.8,888.2 L346.5,888.1 L346.2,887.3 L345.8,887.2 L345.5,887.5 L345.1,887.1 L344.8,887.9 L344.5,887.8 L344.1,889.3 L343.8,887.4 L343.5,887.4 L343.1,886.9 L342.8,887.1 L342.5,886.2 L342.1,886.3 L341.8,888.0 L341.5,885.9 L341.1,885.8 L340.8,886.0 L340.5,885.6 L340.1,886.5 L339.8,886.9 L339.5,885.9 L339.1,886.1 L338.8,885.1 L338.5,884.5 L338.1,884.8 L337.8,884.5 L337.5,884.7 L337.1,883.5 L336.8,883.5 L336.5,885.2 L336.1,885.0 L335.8,885.9 L335.5,886.6 L335.1,886.3 L334.8,886.2 L334.5,887.7 L334.1,888.0 L333.8,886.0 L333.5,887.6 L333.1,886.5 L332.8,885.6 L332.5,885.7 L332.1,885.6 L331.8,886.1 L331.5,887.0 L331.1,885.9 L330.8,885.8 L330.5,885.9 L330.1,885.8 L329.8,884.6 L329.5,884.7 L329.1,885.0 L328.8,884.7 L328.5,884.8 L328.1,884.0 L327.8,884.0 L327.5,884.8 L327.1,883.4 L326.8,882.1 L326.5,881.9 L326.1,883.7 L325.8,884.5 L325.5,885.8 L325.1,885.1 L324.8,884.4 L324.5,884.3 L324.1,885.1 L323.8,883.7 L323.5,884.5 L323.1,883.5 L322.8,883.8 L322.5,882.2 L322.1,883.1 L321.8,884.1 L321.5,888.1 L321.1,886.3 L320.8,886.4 L320.5,886.6 L320.1,887.3 L319.8,886.4 L319.5,887.1 L319.1,886.8 L318.8,887.6 L318.5,887.9 L318.1,888.2 L317.8,887.1 L317.5,886.5 L317.1,886.0 L316.8,887.4 L316.5,887.1 L316.1,885.4 L315.8,886.9 L315.5,885.3 L315.1,884.7 L314.8,885.2 L314.5,883.4 L314.1,883.7 L313.8,886.5 L313.5,886.9 L313.1,887.9 L312.8,886.9 L312.5,886.8 L312.1,887.6 L311.8,889.3 L311.5,886.7 L311.1,886.7 L310.8,886.9 L310.5,887.4 L310.1,887.0 L309.8,887.6 L309.5,887.4 L309.1,887.4 L308.8,890.2 L308.5,887.3 L308.1,888.0 L307.8,888.1 L307.5,889.4 L307.1,887.4 L306.8,888.9 L306.5,888.0 L306.1,886.7 L305.8,886.6 L305.5,886.1 L305.1,886.0 L304.8,885.5 L304.5,884.8 L304.1,885.3 L303.8,884.5 L303.5,883.2 L303.1,886.3 L302.8,887.3 L302.5,885.6 L302.1,885.9 L301.8,885.7 L301.5,886.0 L301.1,887.2 L300.8,885.3Z" fill="#173a96" stroke="#173a96" stroke-width="0.3" stroke-linejoin="round"/>
<text x="304.7" y="897.6" font-size="6.60" fill="#333" textLength="40.3" lengthAdjust="spacingAndGlyphs">GFP negative</text>
<path d="M371.3,891.6 V899.9 H354.4" stroke="#000" stroke-width="1.0" fill="none" stroke-linejoin="miter" stroke-linecap="butt"/>
<text x="374.6" y="897.2" font-size="6.20" fill="#000" textLength="15.6" lengthAdjust="spacingAndGlyphs">10 pA</text>
<text x="363.6" y="907.5" font-size="6.20" text-anchor="middle" fill="#000">1 s</text>
<path d="M476.9,640.7 L477.2,647.2 L477.3,647.2 L477.5,652.3 L477.7,655.5 L477.8,657.3 L478.0,658.3 L478.2,658.6 L478.4,658.6 L478.6,658.3 L478.7,657.9 L478.9,657.3 L479.1,656.7 L479.3,656.1 L479.5,655.5 L479.6,654.9 L479.8,654.3 L480.0,653.8 L480.2,653.3 L480.4,652.8 L480.5,652.3 L480.7,651.9 L480.9,651.5 L481.1,651.2 L481.2,650.8 L481.4,650.5 L481.6,650.2 L481.8,649.9 L482.0,649.7 L482.1,649.4 L482.3,649.2 L482.5,649.0 L482.7,648.8 L482.9,648.6 L483.0,648.4 L483.2,648.3 L483.3,648.1 L483.5,641.2 L483.7,648.1 L483.4,648.1 L483.6,648.0 L483.8,647.9 L483.9,655.3 L484.1,660.7 L484.3,663.5 L484.5,664.6 L484.7,664.8 L484.8,664.5 L485.0,663.9 L485.2,663.1 L485.4,662.3 L485.6,661.4 L485.7,660.6 L485.9,659.8 L486.1,659.0 L486.3,658.2 L486.5,657.5 L486.6,656.9 L486.8,656.2 L487.0,655.6 L487.2,655.1 L487.4,654.5 L487.5,654.0 L487.7,653.6 L487.9,653.1 L488.1,652.7 L488.2,652.3 L488.4,651.9 L488.6,651.6 L488.8,651.2 L489.0,650.9 L489.1,650.6 L489.3,650.4 L489.5,650.1 L489.7,649.8 L489.9,649.6 L490.0,649.4 L490.2,649.2 L490.4,649.0 L490.6,648.8 L490.8,648.6 L490.9,648.5 L491.1,648.3 L491.3,648.1 L491.5,648.0 L491.7,647.9 L491.8,647.7 L492.0,647.6 L492.2,647.5 L492.4,647.4 L492.6,647.3 L492.7,647.2 L492.9,647.1 L493.1,647.0 L493.3,647.0 L493.5,646.9 L493.6,646.8 L493.8,646.7 L494.0,646.7 L494.2,646.6 L494.4,646.6 L494.5,646.5 L494.7,646.4 L494.9,646.4 L495.1,646.4 L495.2,646.3 L495.4,646.3 L495.6,646.2 L495.8,646.2 L496.0,646.1 L496.1,646.1 L496.3,646.1 L496.5,646.0 L496.7,646.0 L496.9,646.0 L497.0,646.0 L497.2,645.9 L497.4,645.9 L497.6,645.9 L497.8,645.9 L497.9,645.8 L498.1,645.8 L498.3,645.8 L498.5,645.8 L498.7,645.7 L498.8,645.7 L499.0,645.7 L499.2,645.7 L499.4,645.7 L499.6,645.7 L499.7,645.6 L499.9,645.6 L500.1,645.6 L500.3,645.6 L500.5,645.6 L500.6,645.6 L500.8,645.6 L501.0,645.6 L501.2,645.5 L501.4,645.5 L501.5,645.5 L501.7,645.5 L501.9,645.5 L502.1,645.5 L502.3,645.5 L502.4,645.5 L502.6,645.5 L502.8,645.4 L503.0,645.4 L503.1,645.4 L503.3,645.4 L503.5,645.4 L503.7,645.4 L503.9,645.4 L504.0,645.4 L504.2,645.4 L504.4,645.4 L504.6,645.4 L504.8,645.4 L504.9,645.4 L505.1,645.3 L505.3,645.3 L505.5,645.3 L505.7,645.3 L505.8,645.3 L506.0,645.3 L506.2,645.3 L506.4,645.3 L506.6,645.3 L506.7,645.3 L506.9,645.3 L507.1,645.3 L507.3,645.3 L507.5,645.3 L507.6,645.3 L507.8,645.3 L508.0,645.2 L508.2,645.2 L508.4,645.2 L508.5,645.2 L508.7,645.2 L508.9,645.2 L509.1,645.2 L509.3,645.2 L509.4,645.2 L509.6,645.2 L509.8,645.2 L510.0,645.2 L510.1,645.2 L510.3,645.2 L510.5,645.2 L510.7,645.2 L510.9,645.2 L511.0,645.2 L511.2,645.2 L511.4,645.2 L511.6,645.2 L511.8,645.1 L511.9,645.1 L512.1,645.1 L512.3,645.1 L512.5,645.1 L512.7,645.1 L512.8,645.1 L513.0,645.1 L513.2,645.1 L513.4,645.1 L513.6,645.1 L513.7,645.1 L513.9,645.1 L514.1,645.1 L514.3,645.1 L514.5,645.1 L514.6,645.1 L514.8,645.1 L515.0,645.1 L515.2,645.1 L515.4,645.1 L515.5,645.1 L515.7,645.1 L515.9,645.1 L516.1,645.1 L516.3,645.1 L516.4,645.1 L516.6,645.1 L516.8,645.0 L517.0,645.0 L517.1,645.0 L517.3,645.0 L517.5,645.0 L517.7,645.0 L517.9,645.0 L518.0,645.0 L518.2,645.0 L518.4,645.0 L518.6,645.0 L518.8,645.0 L518.9,645.0 L519.1,645.0 L519.3,645.0 L519.5,645.0 L519.7,645.0 L519.8,645.0 L520.0,645.0 L520.2,645.0 L520.4,645.0 L520.6,645.0 L520.7,645.0 L520.9,645.0 L521.1,645.0 L521.3,645.0 L521.5,645.0 L521.6,645.0 L521.8,645.0 L522.0,645.0 L522.2,645.0 L522.4,645.0 L522.5,645.0 L522.7,645.0 L522.9,645.0 L523.1,645.0 L523.3,645.0 L523.4,644.9 L523.6,644.9 L523.8,644.9 L524.0,644.9 L524.1,644.9 L524.3,644.9 L524.5,644.9 L524.7,644.9 L524.9,644.9 L525.0,644.9 L525.2,644.9 L525.4,644.9 L525.6,644.9 L525.8,644.9 L525.9,644.9 L526.1,644.9 L526.3,644.9 L526.5,644.9 L526.7,644.9 L526.8,644.9 L527.0,644.9 L527.2,644.9 L527.4,644.9 L527.6,644.9 L527.7,644.9 L527.9,644.9 L528.1,644.9 L528.3,644.9 L528.5,644.9 L528.6,644.9 L528.8,644.9 L529.0,644.9 L529.2,644.9 L529.4,644.9 L529.5,644.9 L529.7,644.9 L529.9,644.9 L530.1,644.9 L530.3,644.9 L530.4,644.9 L530.6,644.9 L530.8,644.9 L531.0,644.9 L531.1,644.9 L531.3,644.9 L531.5,644.9 L531.7,644.9 L531.9,644.9 L532.0,644.9 L532.2,644.9 L532.4,644.9 L532.6,644.9 L532.8,644.9 L532.9,644.9 L533.1,644.9 L533.3,644.9 L533.5,644.9 L533.7,644.8 L533.8,644.8 L534.0,644.8 L534.2,644.8 L534.4,644.8 L534.6,644.8 L534.7,644.8 L534.9,644.8 L535.1,644.8 L535.3,644.8 L535.5,644.8 L535.6,644.8 L535.8,644.8 L536.0,644.8 L536.2,644.8 L536.4,644.8 L536.5,644.8 L536.7,644.8 L536.9,644.8 L537.1,644.8 L537.3,644.8 L537.4,644.8 L537.6,644.8 L537.8,644.8 L538.0,644.8 L538.2,644.8 L538.3,644.8 L538.5,644.8 L538.7,644.8 L538.9,644.8 L539.0,644.8 L539.2,644.8 L539.4,644.8 L539.6,644.8 L539.8,644.8 L539.9,644.8 L540.1,644.8 L540.3,644.8 L540.5,644.8 L540.7,644.8 L540.8,644.8 L541.0,644.8 L541.2,644.8 L541.4,644.8 L541.6,644.8 L541.7,644.8 L541.9,644.8 L542.1,644.8 L542.3,644.8 L542.5,644.8 L542.6,644.8 L542.8,644.8 L543.0,644.8 L543.2,644.8 L543.4,644.8 L543.5,644.8 L543.7,644.8 L543.9,644.8 L544.1,644.8 L544.3,644.8 L544.4,644.8 L544.6,644.8 L544.8,644.8 L545.0,644.8 L545.2,644.8 L545.3,644.8 L545.5,644.8 L545.7,644.8 L545.9,644.8 L546.0,644.8 L546.2,644.8 L546.4,644.8 L546.6,644.8 L546.8,644.8 L546.9,644.8 L547.1,644.8 L547.3,644.8 L547.5,644.8 L547.7,644.8 L547.8,644.8 L548.0,644.8 L548.2,644.8 L548.4,644.8 L548.6,644.8 L548.7,644.8 L548.9,644.8 L549.1,644.8" stroke="#0000ff" stroke-width="1.2" fill="none" stroke-linejoin="round" stroke-linecap="round"/>
<path d="M476.9,666.0 L477.2,675.8 L477.3,675.8 L477.5,682.6 L477.7,686.9 L477.8,689.4 L478.0,690.6 L478.2,691.1 L478.4,691.1 L478.6,690.7 L478.7,690.1 L478.9,689.4 L479.1,688.6 L479.3,687.8 L479.5,687.0 L479.6,686.2 L479.8,685.4 L480.0,684.7 L480.2,684.0 L480.4,683.4 L480.5,682.8 L480.7,682.2 L480.9,681.7 L481.1,681.2 L481.2,680.8 L481.4,680.3 L481.6,679.9 L481.8,679.6 L482.0,679.2 L482.1,678.9 L482.3,678.6 L482.5,678.3 L482.7,678.1 L482.9,677.9 L483.0,677.6 L483.2,677.4 L483.3,677.2 L483.5,667.0 L483.7,677.2 L483.4,677.2 L483.6,677.1 L483.8,676.9 L483.9,689.6 L484.1,699.2 L484.3,704.2 L484.5,706.5 L484.7,707.2 L484.8,707.0 L485.0,706.3 L485.2,705.4 L485.4,704.2 L485.6,703.1 L485.7,701.9 L485.9,700.8 L486.1,699.7 L486.3,698.6 L486.5,697.6 L486.6,696.7 L486.8,695.8 L487.0,694.9 L487.2,694.1 L487.4,693.3 L487.5,692.6 L487.7,691.9 L487.9,691.2 L488.1,690.6 L488.2,690.0 L488.4,689.4 L488.6,688.9 L488.8,688.4 L489.0,687.9 L489.1,687.4 L489.3,687.0 L489.5,686.6 L489.7,686.2 L489.9,685.8 L490.0,685.5 L490.2,685.1 L490.4,684.8 L490.6,684.5 L490.8,684.2 L490.9,683.9 L491.1,683.6 L491.3,683.4 L491.5,683.1 L491.7,682.9 L491.8,682.7 L492.0,682.5 L492.2,682.3 L492.4,682.1 L492.6,681.9 L492.7,681.7 L492.9,681.5 L493.1,681.3 L493.3,681.2 L493.5,681.0 L493.6,680.9 L493.8,680.7 L494.0,680.6 L494.2,680.4 L494.4,680.3 L494.5,680.2 L494.7,680.1 L494.9,680.0 L495.1,679.8 L495.2,679.7 L495.4,679.6 L495.6,679.5 L495.8,679.4 L496.0,679.3 L496.1,679.2 L496.3,679.1 L496.5,679.0 L496.7,679.0 L496.9,678.9 L497.0,678.8 L497.2,678.7 L497.4,678.6 L497.6,678.6 L497.8,678.5 L497.9,678.4 L498.1,678.3 L498.3,678.3 L498.5,678.2 L498.7,678.1 L498.8,678.1 L499.0,678.0 L499.2,677.9 L499.4,677.9 L499.6,677.8 L499.7,677.8 L499.9,677.7 L500.1,677.7 L500.3,677.6 L500.5,677.5 L500.6,677.5 L500.8,677.4 L501.0,677.4 L501.2,677.3 L501.4,677.3 L501.5,677.2 L501.7,677.2 L501.9,677.1 L502.1,677.1 L502.3,677.1 L502.4,677.0 L502.6,677.0 L502.8,676.9 L503.0,676.9 L503.1,676.8 L503.3,676.8 L503.5,676.8 L503.7,676.7 L503.9,676.7 L504.0,676.6 L504.2,676.6 L504.4,676.6 L504.6,676.5 L504.8,676.5 L504.9,676.5 L505.1,676.4 L505.3,676.4 L505.5,676.3 L505.7,676.3 L505.8,676.3 L506.0,676.2 L506.2,676.2 L506.4,676.2 L506.6,676.1 L506.7,676.1 L506.9,676.1 L507.1,676.0 L507.3,676.0 L507.5,676.0 L507.6,676.0 L507.8,675.9 L508.0,675.9 L508.2,675.9 L508.4,675.8 L508.5,675.8 L508.7,675.8 L508.9,675.7 L509.1,675.7 L509.3,675.7 L509.4,675.7 L509.6,675.6 L509.8,675.6 L510.0,675.6 L510.1,675.6 L510.3,675.5 L510.5,675.5 L510.7,675.5 L510.9,675.5 L511.0,675.4 L511.2,675.4 L511.4,675.4 L511.6,675.4 L511.8,675.3 L511.9,675.3 L512.1,675.3 L512.3,675.3 L512.5,675.3 L512.7,675.2 L512.8,675.2 L513.0,675.2 L513.2,675.2 L513.4,675.1 L513.6,675.1 L513.7,675.1 L513.9,675.1 L514.1,675.1 L514.3,675.0 L514.5,675.0 L514.6,675.0 L514.8,675.0 L515.0,675.0 L515.2,674.9 L515.4,674.9 L515.5,674.9 L515.7,674.9 L515.9,674.9 L516.1,674.9 L516.3,674.8 L516.4,674.8 L516.6,674.8 L516.8,674.8 L517.0,674.8 L517.1,674.8 L517.3,674.7 L517.5,674.7 L517.7,674.7 L517.9,674.7 L518.0,674.7 L518.2,674.7 L518.4,674.6 L518.6,674.6 L518.8,674.6 L518.9,674.6 L519.1,674.6 L519.3,674.6 L519.5,674.6 L519.7,674.5 L519.8,674.5 L520.0,674.5 L520.2,674.5 L520.4,674.5 L520.6,674.5 L520.7,674.5 L520.9,674.4 L521.1,674.4 L521.3,674.4 L521.5,674.4 L521.6,674.4 L521.8,674.4 L522.0,674.4 L522.2,674.4 L522.4,674.3 L522.5,674.3 L522.7,674.3 L522.9,674.3 L523.1,674.3 L523.3,674.3 L523.4,674.3 L523.6,674.3 L523.8,674.2 L524.0,674.2 L524.1,674.2 L524.3,674.2 L524.5,674.2 L524.7,674.2 L524.9,674.2 L525.0,674.2 L525.2,674.2 L525.4,674.1 L525.6,674.1 L525.8,674.1 L525.9,674.1 L526.1,674.1 L526.3,674.1 L526.5,674.1 L526.7,674.1 L526.8,674.1 L527.0,674.1 L527.2,674.1 L527.4,674.0 L527.6,674.0 L527.7,674.0 L527.9,674.0 L528.1,674.0 L528.3,674.0 L528.5,674.0 L528.6,674.0 L528.8,674.0 L529.0,674.0 L529.2,674.0 L529.4,674.0 L529.5,673.9 L529.7,673.9 L529.9,673.9 L530.1,673.9 L530.3,673.9 L530.4,673.9 L530.6,673.9 L530.8,673.9 L531.0,673.9 L531.1,673.9 L531.3,673.9 L531.5,673.9 L531.7,673.9 L531.9,673.8 L532.0,673.8 L532.2,673.8 L532.4,673.8 L532.6,673.8 L532.8,673.8 L532.9,673.8 L533.1,673.8 L533.3,673.8 L533.5,673.8 L533.7,673.8 L533.8,673.8 L534.0,673.8 L534.2,673.8 L534.4,673.8 L534.6,673.8 L534.7,673.7 L534.9,673.7 L535.1,673.7 L535.3,673.7 L535.5,673.7 L535.6,673.7 L535.8,673.7 L536.0,673.7 L536.2,673.7 L536.4,673.7 L536.5,673.7 L536.7,673.7 L536.9,673.7 L537.1,673.7 L537.3,673.7 L537.4,673.7 L537.6,673.7 L537.8,673.7 L538.0,673.7 L538.2,673.6 L538.3,673.6 L538.5,673.6 L538.7,673.6 L538.9,673.6 L539.0,673.6 L539.2,673.6 L539.4,673.6 L539.6,673.6 L539.8,673.6 L539.9,673.6 L540.1,673.6 L540.3,673.6 L540.5,673.6 L540.7,673.6 L540.8,673.6 L541.0,673.6 L541.2,673.6 L541.4,673.6 L541.6,673.6 L541.7,673.6 L541.9,673.6 L542.1,673.6 L542.3,673.5 L542.5,673.5 L542.6,673.5 L542.8,673.5 L543.0,673.5 L543.2,673.5 L543.4,673.5 L543.5,673.5 L543.7,673.5 L543.9,673.5 L544.1,673.5 L544.3,673.5 L544.4,673.5 L544.6,673.5 L544.8,673.5 L545.0,673.5 L545.2,673.5 L545.3,673.5 L545.5,673.5 L545.7,673.5 L545.9,673.5 L546.0,673.5 L546.2,673.5 L546.4,673.5 L546.6,673.5 L546.8,673.5 L546.9,673.5 L547.1,673.5 L547.3,673.5 L547.5,673.5 L547.7,673.5 L547.8,673.5 L548.0,673.4 L548.2,673.4 L548.4,673.4 L548.6,673.4 L548.7,673.4 L548.9,673.4 L549.1,673.4" stroke="#ff0000" stroke-width="1.2" fill="none" stroke-linejoin="round" stroke-linecap="round"/>
<path d="M477.6,743.1 L477.8,748.7 L478.1,743.1 L478.1,743.1 L478.2,733.4 L478.4,726.6 L478.5,722.0 L478.7,718.9 L478.8,717.0 L479.0,715.9 L479.1,715.3 L479.2,715.2 L479.4,715.4 L479.5,715.7 L479.7,716.2 L479.8,716.8 L479.9,717.4 L480.1,718.1 L480.2,718.8 L480.4,719.4 L480.5,720.1 L480.7,720.8 L480.8,721.4 L480.9,722.1 L481.1,722.7 L481.2,723.3 L481.4,723.9 L481.5,724.4 L481.7,725.0 L481.8,725.5 L481.9,726.0 L482.1,726.4 L482.2,726.9 L482.4,727.3 L482.5,727.8 L482.6,728.2 L482.8,728.6 L482.9,729.0 L483.1,729.3 L483.2,729.7 L483.4,730.0 L483.5,730.3 L483.6,730.7 L483.8,731.0 L483.9,731.3 L484.1,731.5 L484.3,741.5 L484.5,728.3 L484.6,723.8 L484.8,720.8 L484.9,718.8 L485.1,717.6 L485.2,717.0 L485.3,716.7 L485.5,716.8 L485.6,717.0 L485.8,717.4 L485.9,717.8 L486.1,718.3 L486.2,718.9 L486.3,719.4 L486.5,720.0 L486.6,720.6 L486.8,721.2 L486.9,721.7 L487.0,722.3 L487.2,722.8 L487.3,723.3 L487.5,723.8 L487.6,724.3 L487.8,724.8 L487.9,725.2 L488.0,725.7 L488.2,726.1 L488.3,726.5 L488.5,726.9 L488.6,727.3 L488.8,727.6 L488.9,728.0 L489.0,728.3 L489.2,728.7 L489.3,729.0 L489.5,729.3 L489.6,729.6 L489.7,729.9 L489.9,730.2 L490.0,730.4 L490.2,730.7 L490.3,730.9 L490.5,731.2 L490.6,731.4 L490.7,731.7 L490.9,731.9 L491.0,732.1 L491.2,732.3 L491.3,732.5 L491.4,732.7 L491.6,732.9 L491.7,733.1 L491.9,733.3 L492.0,733.4 L492.2,733.6 L492.3,733.8 L492.4,734.0 L492.6,734.1 L492.7,734.3 L492.9,734.4 L493.0,734.6 L493.2,734.7 L493.3,734.8 L493.4,735.0 L493.6,735.1 L493.7,735.2 L493.9,735.4 L494.0,735.5 L494.1,735.6 L494.3,735.7 L494.4,735.8 L494.6,735.9 L494.7,736.1 L494.9,736.2 L495.0,736.3 L495.1,736.4 L495.3,736.5 L495.4,736.6 L495.6,736.7 L495.7,736.8 L495.9,736.8 L496.0,736.9 L496.1,737.0 L496.3,737.1 L496.4,737.2 L496.6,737.3 L496.7,737.4 L496.8,737.4 L497.0,737.5 L497.1,737.6 L497.3,737.7 L497.4,737.7 L497.6,737.8 L497.7,737.9 L497.8,738.0 L498.0,738.0 L498.1,738.1 L498.3,738.2 L498.4,738.2 L498.5,738.3 L498.7,738.4 L498.8,738.4 L499.0,738.5 L499.1,738.5 L499.3,738.6 L499.4,738.7 L499.5,738.7 L499.7,738.8 L499.8,738.8 L500.0,738.9 L500.1,738.9 L500.3,739.0 L500.4,739.0 L500.5,739.1 L500.7,739.1 L500.8,739.2 L501.0,739.2 L501.1,739.3 L501.2,739.3 L501.4,739.4 L501.5,739.4 L501.7,739.5 L501.8,739.5 L502.0,739.6 L502.1,739.6 L502.2,739.6 L502.4,739.7 L502.5,739.7 L502.7,739.8 L502.8,739.8 L503.0,739.9 L503.1,739.9 L503.2,739.9 L503.4,740.0 L503.5,740.0 L503.7,740.0 L503.8,740.1 L503.9,740.1 L504.1,740.2 L504.2,740.2 L504.4,740.2 L504.5,740.3 L504.7,740.3 L504.8,740.3 L504.9,740.4 L505.1,740.4 L505.2,740.4 L505.4,740.5 L505.5,740.5 L505.6,740.5 L505.8,740.6 L505.9,740.6 L506.1,740.6 L506.2,740.6 L506.4,740.7 L506.5,740.7 L506.6,740.7 L506.8,740.8 L506.9,740.8 L507.1,740.8 L507.2,740.8 L507.4,740.9 L507.5,740.9 L507.6,740.9 L507.8,741.0 L507.9,741.0 L508.1,741.0 L508.2,741.0 L508.3,741.1 L508.5,741.1 L508.6,741.1 L508.8,741.1 L508.9,741.1 L509.1,741.2 L509.2,741.2 L509.3,741.2 L509.5,741.2 L509.6,741.3 L509.8,741.3 L509.9,741.3 L510.1,741.3 L510.2,741.3 L510.3,741.4 L510.5,741.4 L510.6,741.4 L510.8,741.4 L510.9,741.4 L511.0,741.5 L511.2,741.5 L511.3,741.5 L511.5,741.5 L511.6,741.5 L511.8,741.6 L511.9,741.6 L512.0,741.6 L512.2,741.6 L512.3,741.6 L512.5,741.6 L512.6,741.7 L512.7,741.7 L512.9,741.7 L513.0,741.7 L513.2,741.7 L513.3,741.7 L513.5,741.8 L513.6,741.8 L513.7,741.8 L513.9,741.8 L514.0,741.8 L514.2,741.8 L514.3,741.9 L514.5,741.9 L514.6,741.9 L514.7,741.9 L514.9,741.9 L515.0,741.9 L515.2,741.9 L515.3,742.0 L515.4,742.0 L515.6,742.0 L515.7,742.0 L515.9,742.0 L516.0,742.0 L516.2,742.0 L516.3,742.0 L516.4,742.1 L516.6,742.1 L516.7,742.1 L516.9,742.1 L517.0,742.1 L517.1,742.1 L517.3,742.1 L517.4,742.1 L517.6,742.2 L517.7,742.2 L517.9,742.2 L518.0,742.2 L518.1,742.2 L518.3,742.2 L518.4,742.2 L518.6,742.2 L518.7,742.2 L518.9,742.2 L519.0,742.3 L519.1,742.3 L519.3,742.3 L519.4,742.3 L519.6,742.3 L519.7,742.3 L519.8,742.3 L520.0,742.3 L520.1,742.3 L520.3,742.3 L520.4,742.4 L520.6,742.4 L520.7,742.4 L520.8,742.4 L521.0,742.4 L521.1,742.4 L521.3,742.4 L521.4,742.4 L521.6,742.4 L521.7,742.4 L521.8,742.4 L522.0,742.4 L522.1,742.5 L522.3,742.5 L522.4,742.5 L522.5,742.5 L522.7,742.5 L522.8,742.5 L523.0,742.5 L523.1,742.5 L523.3,742.5 L523.4,742.5 L523.5,742.5 L523.7,742.5 L523.8,742.5 L524.0,742.5 L524.1,742.6 L524.2,742.6 L524.4,742.6 L524.5,742.6 L524.7,742.6 L524.8,742.6 L525.0,742.6 L525.1,742.6 L525.2,742.6 L525.4,742.6 L525.5,742.6 L525.7,742.6 L525.8,742.6 L526.0,742.6 L526.1,742.6 L526.2,742.6 L526.4,742.6 L526.5,742.7 L526.7,742.7 L526.8,742.7 L526.9,742.7 L527.1,742.7 L527.2,742.7 L527.4,742.7 L527.5,742.7 L527.7,742.7 L527.8,742.7 L527.9,742.7 L528.1,742.7 L528.2,742.7 L528.4,742.7 L528.5,742.7 L528.7,742.7 L528.8,742.7 L528.9,742.7 L529.1,742.7 L529.2,742.7 L529.4,742.7 L529.5,742.7 L529.6,742.8 L529.8,742.8 L529.9,742.8 L530.1,742.8 L530.2,742.8 L530.4,742.8 L530.5,742.8 L530.6,742.8 L530.8,742.8 L530.9,742.8 L531.1,742.8 L531.2,742.8 L531.4,742.8 L531.5,742.8 L531.6,742.8 L531.8,742.8 L531.9,742.8 L532.1,742.8 L532.2,742.8 L532.3,742.8 L532.5,742.8 L532.6,742.8 L532.8,742.8 L532.9,742.8 L533.1,742.8 L533.2,742.8 L533.3,742.8 L533.5,742.8 L533.6,742.9 L533.8,742.9 L533.9,742.9 L534.0,742.9 L534.2,742.9 L534.3,742.9 L534.5,742.9 L534.6,742.9 L534.8,742.9 L534.9,742.9 L535.0,742.9 L535.2,742.9 L535.3,742.9 L535.5,742.9 L535.6,742.9 L535.8,742.9 L535.9,742.9 L536.0,742.9 L536.2,742.9 L536.3,742.9 L536.5,742.9 L536.6,742.9 L536.7,742.9 L536.9,742.9 L537.0,742.9 L537.2,742.9 L537.3,742.9 L537.5,742.9 L537.6,742.9 L537.7,742.9 L537.9,742.9 L538.0,742.9 L538.2,742.9 L538.3,742.9 L538.5,742.9 L538.6,742.9 L538.7,742.9 L538.9,742.9 L539.0,742.9 L539.2,742.9 L539.3,742.9 L539.4,742.9 L539.6,742.9 L539.7,743.0 L539.9,743.0 L540.0,743.0 L540.2,743.0 L540.3,743.0 L540.4,743.0 L540.6,743.0 L540.7,743.0 L540.9,743.0 L541.0,743.0 L541.1,743.0 L541.3,743.0 L541.4,743.0 L541.6,743.0 L541.7,743.0 L541.9,743.0 L542.0,743.0 L542.1,743.0 L542.3,743.0 L542.4,743.0 L542.6,743.0 L542.7,743.0 L542.9,743.0 L543.0,743.0 L543.1,743.0 L543.3,743.0 L543.4,743.0 L543.6,743.0 L543.7,743.0 L543.8,743.0 L544.0,743.0 L544.1,743.0 L544.3,743.0 L544.4,743.0 L544.6,743.0 L544.7,743.0 L544.8,743.0 L545.0,743.0 L545.1,743.0 L545.3,743.0 L545.4,743.0 L545.6,743.0 L545.7,743.0 L545.8,743.0 L546.0,743.0 L546.1,743.0 L546.3,743.0 L546.4,743.0 L546.5,743.0 L546.7,743.0 L546.8,743.0 L547.0,743.0 L547.1,743.0 L547.3,743.0 L547.4,743.0 L547.5,743.0 L547.7,743.0 L547.8,743.0 L548.0,743.0 L548.1,743.0 L548.2,743.0 L548.4,743.0 L548.5,743.0 L548.7,743.0 L548.8,743.0 L549.0,743.0 L549.1,743.0" stroke="#0000ff" stroke-width="1.2" fill="none" stroke-linejoin="round" stroke-linecap="round"/>
<path d="M477.6,785.6 L477.8,793.6 L478.1,785.6 L478.1,785.6 L478.2,774.2 L478.4,766.2 L478.5,760.7 L478.7,757.1 L478.8,754.7 L479.0,753.2 L479.1,752.4 L479.2,752.1 L479.4,752.2 L479.5,752.4 L479.7,752.9 L479.8,753.4 L479.9,754.0 L480.1,754.7 L480.2,755.4 L480.4,756.1 L480.5,756.8 L480.7,757.5 L480.8,758.2 L480.9,758.8 L481.1,759.5 L481.2,760.1 L481.4,760.7 L481.5,761.3 L481.7,761.9 L481.8,762.5 L481.9,763.0 L482.1,763.5 L482.2,764.0 L482.4,764.5 L482.5,765.0 L482.6,765.4 L482.8,765.9 L482.9,766.3 L483.1,766.7 L483.2,767.1 L483.4,767.5 L483.5,767.9 L483.6,768.2 L483.8,768.6 L483.9,768.9 L484.1,769.2 L484.3,790.5 L484.5,765.8 L484.6,761.0 L484.8,757.7 L484.9,755.5 L485.1,754.2 L485.2,753.4 L485.3,753.1 L485.5,753.1 L485.6,753.3 L485.8,753.6 L485.9,754.1 L486.1,754.6 L486.2,755.1 L486.3,755.7 L486.5,756.3 L486.6,756.9 L486.8,757.4 L486.9,758.0 L487.0,758.6 L487.2,759.1 L487.3,759.7 L487.5,760.2 L487.6,760.7 L487.8,761.2 L487.9,761.7 L488.0,762.2 L488.2,762.6 L488.3,763.1 L488.5,763.5 L488.6,763.9 L488.8,764.3 L488.9,764.7 L489.0,765.1 L489.2,765.5 L489.3,765.8 L489.5,766.2 L489.6,766.5 L489.7,766.9 L489.9,767.2 L490.0,767.5 L490.2,767.8 L490.3,768.1 L490.5,768.4 L490.6,768.6 L490.7,768.9 L490.9,769.2 L491.0,769.4 L491.2,769.7 L491.3,769.9 L491.4,770.2 L491.6,770.4 L491.7,770.6 L491.9,770.8 L492.0,771.1 L492.2,771.3 L492.3,771.5 L492.4,771.7 L492.6,771.9 L492.7,772.1 L492.9,772.3 L493.0,772.4 L493.2,772.6 L493.3,772.8 L493.4,773.0 L493.6,773.1 L493.7,773.3 L493.9,773.5 L494.0,773.6 L494.1,773.8 L494.3,773.9 L494.4,774.1 L494.6,774.2 L494.7,774.4 L494.9,774.5 L495.0,774.6 L495.1,774.8 L495.3,774.9 L495.4,775.0 L495.6,775.2 L495.7,775.3 L495.9,775.4 L496.0,775.5 L496.1,775.7 L496.3,775.8 L496.4,775.9 L496.6,776.0 L496.7,776.1 L496.8,776.2 L497.0,776.3 L497.1,776.5 L497.3,776.6 L497.4,776.7 L497.6,776.8 L497.7,776.9 L497.8,777.0 L498.0,777.1 L498.1,777.2 L498.3,777.3 L498.4,777.3 L498.5,777.4 L498.7,777.5 L498.8,777.6 L499.0,777.7 L499.1,777.8 L499.3,777.9 L499.4,778.0 L499.5,778.0 L499.7,778.1 L499.8,778.2 L500.0,778.3 L500.1,778.4 L500.3,778.4 L500.4,778.5 L500.5,778.6 L500.7,778.7 L500.8,778.8 L501.0,778.8 L501.1,778.9 L501.2,779.0 L501.4,779.0 L501.5,779.1 L501.7,779.2 L501.8,779.2 L502.0,779.3 L502.1,779.4 L502.2,779.4 L502.4,779.5 L502.5,779.6 L502.7,779.6 L502.8,779.7 L503.0,779.8 L503.1,779.8 L503.2,779.9 L503.4,779.9 L503.5,780.0 L503.7,780.1 L503.8,780.1 L503.9,780.2 L504.1,780.2 L504.2,780.3 L504.4,780.3 L504.5,780.4 L504.7,780.4 L504.8,780.5 L504.9,780.6 L505.1,780.6 L505.2,780.7 L505.4,780.7 L505.5,780.8 L505.6,780.8 L505.8,780.9 L505.9,780.9 L506.1,781.0 L506.2,781.0 L506.4,781.1 L506.5,781.1 L506.6,781.1 L506.8,781.2 L506.9,781.2 L507.1,781.3 L507.2,781.3 L507.4,781.4 L507.5,781.4 L507.6,781.5 L507.8,781.5 L507.9,781.5 L508.1,781.6 L508.2,781.6 L508.3,781.7 L508.5,781.7 L508.6,781.7 L508.8,781.8 L508.9,781.8 L509.1,781.9 L509.2,781.9 L509.3,781.9 L509.5,782.0 L509.6,782.0 L509.8,782.0 L509.9,782.1 L510.1,782.1 L510.2,782.2 L510.3,782.2 L510.5,782.2 L510.6,782.3 L510.8,782.3 L510.9,782.3 L511.0,782.4 L511.2,782.4 L511.3,782.4 L511.5,782.5 L511.6,782.5 L511.8,782.5 L511.9,782.5 L512.0,782.6 L512.2,782.6 L512.3,782.6 L512.5,782.7 L512.6,782.7 L512.7,782.7 L512.9,782.8 L513.0,782.8 L513.2,782.8 L513.3,782.8 L513.5,782.9 L513.6,782.9 L513.7,782.9 L513.9,783.0 L514.0,783.0 L514.2,783.0 L514.3,783.0 L514.5,783.1 L514.6,783.1 L514.7,783.1 L514.9,783.1 L515.0,783.2 L515.2,783.2 L515.3,783.2 L515.4,783.2 L515.6,783.3 L515.7,783.3 L515.9,783.3 L516.0,783.3 L516.2,783.4 L516.3,783.4 L516.4,783.4 L516.6,783.4 L516.7,783.4 L516.9,783.5 L517.0,783.5 L517.1,783.5 L517.3,783.5 L517.4,783.5 L517.6,783.6 L517.7,783.6 L517.9,783.6 L518.0,783.6 L518.1,783.6 L518.3,783.7 L518.4,783.7 L518.6,783.7 L518.7,783.7 L518.9,783.7 L519.0,783.8 L519.1,783.8 L519.3,783.8 L519.4,783.8 L519.6,783.8 L519.7,783.9 L519.8,783.9 L520.0,783.9 L520.1,783.9 L520.3,783.9 L520.4,783.9 L520.6,784.0 L520.7,784.0 L520.8,784.0 L521.0,784.0 L521.1,784.0 L521.3,784.0 L521.4,784.1 L521.6,784.1 L521.7,784.1 L521.8,784.1 L522.0,784.1 L522.1,784.1 L522.3,784.1 L522.4,784.2 L522.5,784.2 L522.7,784.2 L522.8,784.2 L523.0,784.2 L523.1,784.2 L523.3,784.2 L523.4,784.3 L523.5,784.3 L523.7,784.3 L523.8,784.3 L524.0,784.3 L524.1,784.3 L524.2,784.3 L524.4,784.4 L524.5,784.4 L524.7,784.4 L524.8,784.4 L525.0,784.4 L525.1,784.4 L525.2,784.4 L525.4,784.4 L525.5,784.4 L525.7,784.5 L525.8,784.5 L526.0,784.5 L526.1,784.5 L526.2,784.5 L526.4,784.5 L526.5,784.5 L526.7,784.5 L526.8,784.5 L526.9,784.6 L527.1,784.6 L527.2,784.6 L527.4,784.6 L527.5,784.6 L527.7,784.6 L527.8,784.6 L527.9,784.6 L528.1,784.6 L528.2,784.7 L528.4,784.7 L528.5,784.7 L528.7,784.7 L528.8,784.7 L528.9,784.7 L529.1,784.7 L529.2,784.7 L529.4,784.7 L529.5,784.7 L529.6,784.7 L529.8,784.8 L529.9,784.8 L530.1,784.8 L530.2,784.8 L530.4,784.8 L530.5,784.8 L530.6,784.8 L530.8,784.8 L530.9,784.8 L531.1,784.8 L531.2,784.8 L531.4,784.8 L531.5,784.8 L531.6,784.9 L531.8,784.9 L531.9,784.9 L532.1,784.9 L532.2,784.9 L532.3,784.9 L532.5,784.9 L532.6,784.9 L532.8,784.9 L532.9,784.9 L533.1,784.9 L533.2,784.9 L533.3,784.9 L533.5,784.9 L533.6,785.0 L533.8,785.0 L533.9,785.0 L534.0,785.0 L534.2,785.0 L534.3,785.0 L534.5,785.0 L534.6,785.0 L534.8,785.0 L534.9,785.0 L535.0,785.0 L535.2,785.0 L535.3,785.0 L535.5,785.0 L535.6,785.0 L535.8,785.0 L535.9,785.1 L536.0,785.1 L536.2,785.1 L536.3,785.1 L536.5,785.1 L536.6,785.1 L536.7,785.1 L536.9,785.1 L537.0,785.1 L537.2,785.1 L537.3,785.1 L537.5,785.1 L537.6,785.1 L537.7,785.1 L537.9,785.1 L538.0,785.1 L538.2,785.1 L538.3,785.1 L538.5,785.1 L538.6,785.1 L538.7,785.2 L538.9,785.2 L539.0,785.2 L539.2,785.2 L539.3,785.2 L539.4,785.2 L539.6,785.2 L539.7,785.2 L539.9,785.2 L540.0,785.2 L540.2,785.2 L540.3,785.2 L540.4,785.2 L540.6,785.2 L540.7,785.2 L540.9,785.2 L541.0,785.2 L541.1,785.2 L541.3,785.2 L541.4,785.2 L541.6,785.2 L541.7,785.2 L541.9,785.2 L542.0,785.2 L542.1,785.2 L542.3,785.3 L542.4,785.3 L542.6,785.3 L542.7,785.3 L542.9,785.3 L543.0,785.3 L543.1,785.3 L543.3,785.3 L543.4,785.3 L543.6,785.3 L543.7,785.3 L543.8,785.3 L544.0,785.3 L544.1,785.3 L544.3,785.3 L544.4,785.3 L544.6,785.3 L544.7,785.3 L544.8,785.3 L545.0,785.3 L545.1,785.3 L545.3,785.3 L545.4,785.3 L545.6,785.3 L545.7,785.3 L545.8,785.3 L546.0,785.3 L546.1,785.3 L546.3,785.3 L546.4,785.3 L546.5,785.3 L546.7,785.3 L546.8,785.3 L547.0,785.4 L547.1,785.4 L547.3,785.4 L547.4,785.4 L547.5,785.4 L547.7,785.4 L547.8,785.4 L548.0,785.4 L548.1,785.4 L548.2,785.4 L548.4,785.4 L548.5,785.4 L548.7,785.4 L548.8,785.4 L549.0,785.4 L549.1,785.4" stroke="#ff0000" stroke-width="1.2" fill="none" stroke-linejoin="round" stroke-linecap="round"/>
<text x="507.4" y="640.8" font-size="10.60" text-anchor="middle" fill="#000" textLength="28.4" lengthAdjust="spacingAndGlyphs">ePPR</text>
<text x="507.2" y="718.0" font-size="10.60" text-anchor="middle" fill="#000" textLength="23.6" lengthAdjust="spacingAndGlyphs">iPPR</text>
<text x="474.8" y="646.0" font-size="7.10" text-anchor="end" fill="#000" textLength="32.6" lengthAdjust="spacingAndGlyphs">CASK-WT</text>
<line x1="474.9" y1="643.4" x2="476.6" y2="643.4" stroke="#000" stroke-width="0.6" stroke-linecap="butt"/>
<text x="473.6" y="673.5" font-size="7.10" text-anchor="end" fill="#000" textLength="31.4" lengthAdjust="spacingAndGlyphs">CASK-KO</text>
<line x1="474.0" y1="671.0" x2="476.6" y2="671.0" stroke="#ff0000" stroke-width="0.6" stroke-linecap="butt"/>
<text x="474.8" y="744.4" font-size="7.10" text-anchor="end" fill="#000" textLength="32.6" lengthAdjust="spacingAndGlyphs">CASK-WT</text>
<line x1="474.9" y1="742.6" x2="477.6" y2="742.6" stroke="#0000ff" stroke-width="0.6" stroke-linecap="butt"/>
<text x="473.6" y="785.3" font-size="7.10" text-anchor="end" fill="#000" textLength="31.4" lengthAdjust="spacingAndGlyphs">CASK-KO</text>
<line x1="474.0" y1="785.6" x2="477.6" y2="785.6" stroke="#ff0000" stroke-width="0.6" stroke-linecap="butt"/>
<path d="M508.4,792.8 V805.1 H482.7" stroke="#000" stroke-width="1.1" fill="none" stroke-linejoin="miter" stroke-linecap="butt"/>
<text x="512.2" y="805.9" font-size="10.60" fill="#000" textLength="33.6" lengthAdjust="spacingAndGlyphs">100 pA</text>
<text x="482.7" y="818.0" font-size="10.60" fill="#000" textLength="35.1" lengthAdjust="spacingAndGlyphs">200 ms</text>
<line x1="626.0" y1="628.3" x2="626.0" y2="634.9" stroke="#000" stroke-width="1.5" stroke-linecap="butt"/>
<line x1="621.6" y1="628.8" x2="630.4" y2="628.8" stroke="#000" stroke-width="1.5" stroke-linecap="butt"/>
<rect x="615.4" y="634.6" width="21.2" height="63.2" fill="#0000ff" stroke="#000" stroke-width="1.5"/>
<line x1="626.0" y1="697.9" x2="626.0" y2="702.7" stroke="#000" stroke-width="1.5" stroke-linecap="butt"/>
<text x="626.0" y="694.3" font-size="10.40" text-anchor="middle" fill="#fff">8</text>
<line x1="653.3" y1="627.0" x2="653.3" y2="632.9" stroke="#000" stroke-width="1.5" stroke-linecap="butt"/>
<line x1="648.9" y1="627.5" x2="657.7" y2="627.5" stroke="#000" stroke-width="1.5" stroke-linecap="butt"/>
<rect x="642.9" y="632.6" width="20.9" height="65.2" fill="#ff0000" stroke="#000" stroke-width="1.5"/>
<line x1="653.3" y1="697.9" x2="653.3" y2="702.7" stroke="#000" stroke-width="1.5" stroke-linecap="butt"/>
<text x="653.3" y="694.3" font-size="10.40" text-anchor="middle" fill="#fff">7</text>
<line x1="609.7" y1="606.6" x2="609.7" y2="698.6" stroke="#000" stroke-width="1.5" stroke-linecap="butt"/>
<line x1="604.7" y1="697.9" x2="669.8" y2="697.9" stroke="#000" stroke-width="1.5" stroke-linecap="butt"/>
<line x1="604.7" y1="607.4" x2="609.7" y2="607.4" stroke="#000" stroke-width="1.5" stroke-linecap="butt"/>
<text x="604.4" y="610.5" font-size="8.60" text-anchor="end" fill="#000">1.0</text>
<line x1="604.7" y1="653.0" x2="609.7" y2="653.0" stroke="#000" stroke-width="1.5" stroke-linecap="butt"/>
<text x="604.4" y="656.1" font-size="8.60" text-anchor="end" fill="#000">0.5</text>
<line x1="604.7" y1="697.9" x2="609.7" y2="697.9" stroke="#000" stroke-width="1.5" stroke-linecap="butt"/>
<text x="604.4" y="701.0" font-size="8.60" text-anchor="end" fill="#000">0.0</text>
<text x="639.9" y="618.2" font-size="10.00" text-anchor="middle" fill="#000">N.S.</text>
<text x="625.8" y="711.2" font-size="10.30" text-anchor="middle" fill="#000">WT</text>
<text x="653.3" y="711.2" font-size="10.30" text-anchor="middle" fill="#000">KO</text>
<text transform="translate(589.6,652.8) rotate(-90)" font-size="10.00" text-anchor="middle" fill="#000" textLength="67.5" lengthAdjust="spacingAndGlyphs">IPSC<tspan font-size="6.8" dy="-3.5">2nd</tspan><tspan dy="3.5">/IPSC</tspan><tspan font-size="6.8" dy="-3.5">1st</tspan></text>
<line x1="626.0" y1="733.7" x2="626.0" y2="737.9" stroke="#000" stroke-width="1.5" stroke-linecap="butt"/>
<line x1="621.6" y1="734.2" x2="630.4" y2="734.2" stroke="#000" stroke-width="1.5" stroke-linecap="butt"/>
<rect x="615.4" y="737.6" width="21.2" height="65.2" fill="#0000ff" stroke="#000" stroke-width="1.5"/>
<line x1="626.0" y1="802.9" x2="626.0" y2="807.7" stroke="#000" stroke-width="1.5" stroke-linecap="butt"/>
<text x="626.0" y="799.2" font-size="10.40" text-anchor="middle" fill="#fff">7</text>
<line x1="653.3" y1="728.2" x2="653.3" y2="732.3" stroke="#000" stroke-width="1.5" stroke-linecap="butt"/>
<line x1="648.9" y1="728.8" x2="657.7" y2="728.8" stroke="#000" stroke-width="1.5" stroke-linecap="butt"/>
<rect x="642.9" y="732.0" width="20.9" height="70.9" fill="#ff0000" stroke="#000" stroke-width="1.5"/>
<line x1="653.3" y1="802.9" x2="653.3" y2="807.7" stroke="#000" stroke-width="1.5" stroke-linecap="butt"/>
<text x="653.3" y="799.2" font-size="10.40" text-anchor="middle" fill="#fff">9</text>
<line x1="609.7" y1="712.5" x2="609.7" y2="803.6" stroke="#000" stroke-width="1.5" stroke-linecap="butt"/>
<line x1="604.7" y1="802.9" x2="669.8" y2="802.9" stroke="#000" stroke-width="1.5" stroke-linecap="butt"/>
<line x1="604.7" y1="713.3" x2="609.7" y2="713.3" stroke="#000" stroke-width="1.5" stroke-linecap="butt"/>
<text x="604.4" y="716.4" font-size="8.60" text-anchor="end" fill="#000">2</text>
<line x1="604.7" y1="758.2" x2="609.7" y2="758.2" stroke="#000" stroke-width="1.5" stroke-linecap="butt"/>
<text x="604.4" y="761.3" font-size="8.60" text-anchor="end" fill="#000">1</text>
<line x1="604.7" y1="802.9" x2="609.7" y2="802.9" stroke="#000" stroke-width="1.5" stroke-linecap="butt"/>
<text x="604.4" y="806.0" font-size="8.60" text-anchor="end" fill="#000">0</text>
<text x="639.9" y="719.9" font-size="10.00" text-anchor="middle" fill="#000">N.S.</text>
<text x="625.8" y="815.9" font-size="10.30" text-anchor="middle" fill="#000">WT</text>
<text x="653.3" y="815.9" font-size="10.30" text-anchor="middle" fill="#000">KO</text>
<text transform="translate(589.6,758.4) rotate(-90)" font-size="10.00" text-anchor="middle" fill="#000" textLength="73.0" lengthAdjust="spacingAndGlyphs">EPSC<tspan font-size="6.8" dy="-3.5">2nd</tspan><tspan dy="3.5">/EPSC</tspan><tspan font-size="6.8" dy="-3.5">1st</tspan></text>
<path d="M475.5,910.1 L475.7,888.0 L475.9,925.0 L476.0,910.1 L476.2,899.0 L476.5,890.9 L476.7,885.0 L477.0,880.8 L477.2,877.9 L477.4,875.8 L477.7,874.5 L477.9,873.6 L478.2,873.0 L478.4,872.8 L478.6,872.7 L478.9,872.8 L479.1,872.9 L479.4,873.2 L479.6,873.4 L479.8,873.8 L480.1,874.1 L480.3,874.5 L480.6,874.8 L480.8,875.2 L481.0,875.5 L481.3,875.9 L481.5,876.3 L481.8,876.6 L482.0,877.0 L482.2,877.3 L482.5,877.7 L482.7,878.0 L483.0,878.3 L483.2,878.6 L483.4,878.9 L483.7,879.2 L483.9,879.5 L484.2,879.8 L484.4,880.1 L484.6,880.4 L484.9,880.7 L485.1,880.9 L485.4,881.2 L485.6,881.5 L485.8,881.7 L486.1,882.0 L486.3,882.2 L486.6,882.4 L486.8,882.7 L487.0,882.9 L487.3,883.1 L487.5,883.4 L487.8,883.6 L488.0,883.8 L488.2,884.0 L488.5,884.2 L488.7,884.4 L489.0,884.6 L489.2,884.8 L489.4,885.0 L489.7,885.2 L489.9,885.4 L490.2,885.6 L490.4,885.7 L490.6,885.9 L490.9,886.1 L491.1,886.3 L491.4,886.4 L491.6,886.6 L491.8,886.8 L492.1,886.9 L492.3,887.1 L492.6,887.3 L492.8,887.4 L493.0,887.6 L493.3,887.7 L493.5,887.9 L493.8,888.0 L494.0,888.2 L494.2,888.3 L494.5,888.5 L494.7,888.6 L495.0,888.8 L495.2,888.9 L495.4,889.0 L495.7,889.2 L495.9,889.3 L496.2,889.4 L496.4,889.6 L496.6,889.7 L496.9,889.8 L497.1,890.0 L497.4,890.1 L497.6,890.2 L497.8,890.3 L498.1,890.5 L498.3,890.6 L498.6,890.7 L498.8,890.8 L499.0,890.9 L499.3,891.1 L499.5,891.2 L499.8,891.3 L500.0,891.4 L500.2,891.5 L500.5,891.6 L500.7,891.7 L501.0,891.8 L501.2,892.0 L501.4,892.1 L501.7,892.2 L501.9,892.3 L502.2,892.4 L502.4,892.5 L502.6,892.6 L502.9,892.7 L503.1,892.8 L503.4,892.9 L503.6,893.0 L503.8,893.1 L504.1,893.2 L504.3,893.3 L504.6,893.4 L504.8,893.5 L505.0,893.6 L505.3,893.7 L505.5,893.8 L505.8,893.9 L506.0,894.0 L506.2,894.1 L506.5,894.1 L506.7,894.2 L507.0,894.3 L507.2,894.4 L507.4,894.5 L507.7,894.6 L507.9,894.7 L508.2,894.8 L508.4,894.9 L508.6,894.9 L508.9,895.0 L509.1,895.1 L509.4,895.2 L509.6,895.3 L509.8,895.4 L510.1,895.5 L510.3,895.5 L510.6,895.6 L510.8,895.7 L511.0,895.8 L511.3,895.9 L511.5,895.9 L511.8,896.0 L512.0,896.1 L512.2,896.2 L512.5,896.3 L512.7,896.3 L513.0,896.4 L513.2,896.5 L513.4,896.6 L513.7,896.6 L513.9,896.7 L514.2,896.8 L514.4,896.9 L514.6,896.9 L514.9,897.0 L515.1,897.1 L515.4,897.2 L515.6,897.2 L515.8,897.3 L516.1,897.4 L516.3,897.4 L516.6,897.5 L516.8,897.6 L517.0,897.7 L517.3,897.7 L517.5,897.8 L517.8,897.9 L518.0,897.9 L518.2,898.0 L518.5,898.1 L518.7,898.1 L519.0,898.2 L519.2,898.3 L519.4,898.3 L519.7,898.4 L519.9,898.5 L520.2,898.5 L520.4,898.6 L520.6,898.7 L520.9,898.7 L521.1,898.8 L521.4,898.8 L521.6,898.9 L521.8,899.0 L522.1,899.0 L522.3,899.1 L522.6,899.1 L522.8,899.2 L523.0,899.3 L523.3,899.3 L523.5,899.4 L523.8,899.4 L524.0,899.5 L524.2,899.6 L524.5,899.6 L524.7,899.7 L525.0,899.7 L525.2,899.8 L525.4,899.9 L525.7,899.9 L525.9,900.0 L526.2,900.0 L526.4,900.1 L526.6,900.1 L526.9,900.2 L527.1,900.2 L527.4,900.3 L527.6,900.4 L527.8,900.4 L528.1,900.5 L528.3,900.5 L528.6,900.6 L528.8,900.6 L529.0,900.7 L529.3,900.7 L529.5,900.8 L529.8,900.8 L530.0,900.9 L530.2,900.9 L530.5,901.0 L530.7,901.0 L531.0,901.1 L531.2,901.1 L531.4,901.2 L531.7,901.2 L531.9,901.3 L532.2,901.3 L532.4,901.4 L532.6,901.4 L532.9,901.5 L533.1,901.5 L533.4,901.6 L533.6,901.6 L533.8,901.7 L534.1,901.7 L534.3,901.7 L534.6,901.8 L534.8,901.8 L535.0,901.9 L535.3,901.9 L535.5,902.0 L535.8,902.0 L536.0,902.1 L536.2,902.1 L536.5,902.2 L536.7,902.2 L537.0,902.2 L537.2,902.3 L537.4,902.3 L537.7,902.4 L537.9,902.4 L538.2,902.5 L538.4,902.5 L538.6,902.5 L538.9,902.6 L539.1,902.6 L539.4,902.7 L539.6,902.7 L539.8,902.7 L540.1,902.8 L540.3,902.8 L540.6,902.9 L540.8,902.9 L541.0,902.9 L541.3,903.0 L541.5,903.0 L541.8,903.1 L542.0,903.1 L542.2,903.1 L542.5,903.2 L542.7,903.2 L543.0,903.3 L543.2,903.3 L543.4,903.3 L543.7,903.4 L543.9,903.4 L544.2,903.4 L544.4,903.5 L544.6,903.5 L544.9,903.6 L545.1,903.6 L545.4,903.6 L545.6,903.7 L545.8,903.7 L546.1,903.7 L546.3,903.8 L546.6,903.8 L546.8,903.8 L547.0,903.9 L547.3,903.9 L547.5,903.9 L547.8,904.0 L548.0,904.0" stroke="#0000ff" stroke-width="1.2" fill="none" stroke-linejoin="round" stroke-linecap="round"/>
<path d="M475.5,910.2 L476.0,910.2 L476.2,931.5 L476.5,938.7 L476.7,939.4 L477.0,937.3 L477.2,934.3 L477.4,931.0 L477.7,928.0 L477.9,925.3 L478.2,923.0 L478.4,921.0 L478.6,919.4 L478.9,917.9 L479.1,916.8 L479.4,915.8 L479.6,915.0 L479.8,914.3 L480.1,913.7 L480.3,913.2 L480.6,912.8 L480.8,912.5 L481.0,912.2 L481.3,912.0 L481.5,911.8 L481.8,911.6 L482.0,911.4 L482.2,911.3 L482.5,911.2 L482.7,911.1 L483.0,911.1 L483.2,911.0 L483.4,910.9 L483.7,910.9 L483.9,910.8 L484.2,910.8 L484.4,910.8 L484.6,910.7 L484.9,910.7 L485.1,910.7 L485.4,910.7 L485.6,910.7 L485.8,910.6 L486.1,910.6 L486.3,910.6 L486.6,910.6 L486.8,910.6 L487.0,910.6 L487.3,910.6 L487.5,910.5 L487.8,910.5 L488.0,910.5 L488.2,910.5 L488.5,910.5 L488.7,910.5 L489.0,910.5 L489.2,910.5 L489.4,910.5 L489.7,910.5 L489.9,910.5 L490.2,910.5 L490.4,910.4 L490.6,910.4 L490.9,910.4 L491.1,910.4 L491.4,910.4 L491.6,910.4 L491.8,910.4 L492.1,910.4 L492.3,910.4 L492.6,910.4 L492.8,910.4 L493.0,910.4 L493.3,910.4 L493.5,910.4 L493.8,910.4 L494.0,910.4 L494.2,910.4 L494.5,910.4 L494.7,910.3 L495.0,910.3 L495.2,910.3 L495.4,910.3 L495.7,910.3 L495.9,910.3 L496.2,910.3 L496.4,910.3 L496.6,910.3 L496.9,910.3 L497.1,910.3 L497.4,910.3 L497.6,910.3 L497.8,910.3 L498.1,910.3 L498.3,910.3 L498.6,910.3 L498.8,910.3 L499.0,910.3 L499.3,910.3 L499.5,910.3 L499.8,910.3 L500.0,910.3 L500.2,910.3 L500.5,910.3 L500.7,910.3 L501.0,910.3 L501.2,910.3 L501.4,910.3 L501.7,910.3 L501.9,910.3 L502.2,910.3 L502.4,910.3 L502.6,910.3 L502.9,910.3 L503.1,910.3 L503.4,910.3 L503.6,910.3 L503.8,910.3 L504.1,910.3 L504.3,910.3 L504.6,910.3 L504.8,910.2 L505.0,910.2 L505.3,910.2 L505.5,910.2 L505.8,910.2 L506.0,910.2 L506.2,910.2 L506.5,910.2 L506.7,910.2 L507.0,910.2 L507.2,910.2 L507.4,910.2 L507.7,910.2 L507.9,910.2 L508.2,910.2 L508.4,910.2 L508.6,910.2 L508.9,910.2 L509.1,910.2 L509.4,910.2 L509.6,910.2 L509.8,910.2 L510.1,910.2 L510.3,910.2 L510.6,910.2 L510.8,910.2 L511.0,910.2 L511.3,910.2 L511.5,910.2 L511.8,910.2 L512.0,910.2 L512.2,910.2 L512.5,910.2 L512.7,910.2 L513.0,910.2 L513.2,910.2 L513.4,910.2 L513.7,910.2 L513.9,910.2 L514.2,910.2 L514.4,910.2 L514.6,910.2 L514.9,910.2 L515.1,910.2 L515.4,910.2 L515.6,910.2 L515.8,910.2 L516.1,910.2 L516.3,910.2 L516.6,910.2 L516.8,910.2 L517.0,910.2 L517.3,910.2 L517.5,910.2 L517.8,910.2 L518.0,910.2 L518.2,910.2 L518.5,910.2 L518.7,910.2 L519.0,910.2 L519.2,910.2 L519.4,910.2 L519.7,910.2 L519.9,910.2 L520.2,910.2 L520.4,910.2 L520.6,910.2 L520.9,910.2 L521.1,910.2 L521.4,910.2 L521.6,910.2 L521.8,910.2 L522.1,910.2 L522.3,910.2 L522.6,910.2 L522.8,910.2 L523.0,910.2 L523.3,910.2 L523.5,910.2 L523.8,910.2 L524.0,910.2 L524.2,910.2 L524.5,910.2 L524.7,910.2 L525.0,910.2 L525.2,910.2 L525.4,910.2 L525.7,910.2 L525.9,910.2 L526.2,910.2 L526.4,910.2 L526.6,910.2 L526.9,910.2 L527.1,910.2 L527.4,910.2 L527.6,910.2 L527.8,910.2 L528.1,910.2 L528.3,910.2 L528.6,910.2 L528.8,910.2 L529.0,910.2 L529.3,910.2 L529.5,910.2 L529.8,910.2 L530.0,910.2 L530.2,910.2 L530.5,910.2 L530.7,910.2 L531.0,910.2 L531.2,910.2 L531.4,910.2 L531.7,910.2 L531.9,910.2 L532.2,910.2 L532.4,910.2 L532.6,910.2 L532.9,910.2 L533.1,910.2 L533.4,910.2 L533.6,910.2 L533.8,910.2 L534.1,910.2 L534.3,910.2 L534.6,910.2 L534.8,910.2 L535.0,910.2 L535.3,910.2 L535.5,910.2 L535.8,910.2 L536.0,910.2 L536.2,910.2 L536.5,910.2 L536.7,910.2 L537.0,910.2 L537.2,910.2 L537.4,910.2 L537.7,910.2 L537.9,910.2 L538.2,910.2 L538.4,910.2 L538.6,910.2 L538.9,910.2 L539.1,910.2 L539.4,910.2 L539.6,910.2 L539.8,910.2 L540.1,910.2 L540.3,910.2 L540.6,910.2 L540.8,910.2 L541.0,910.2 L541.3,910.2 L541.5,910.2 L541.8,910.2 L542.0,910.2 L542.2,910.2 L542.5,910.2 L542.7,910.2 L543.0,910.2 L543.2,910.2 L543.4,910.2 L543.7,910.2 L543.9,910.2 L544.2,910.2 L544.4,910.2 L544.6,910.2 L544.9,910.2 L545.1,910.2 L545.4,910.2 L545.6,910.2 L545.8,910.2 L546.1,910.2 L546.3,910.2 L546.6,910.2 L546.8,910.2 L547.0,910.2 L547.3,910.2 L547.5,910.2 L547.8,910.2 L548.0,910.2" stroke="#0000ff" stroke-width="1.2" fill="none" stroke-linejoin="round" stroke-linecap="round"/>
<path d="M475.5,979.8 L475.7,958.0 L475.9,995.0 L475.9,979.8 L476.1,970.6 L476.4,963.9 L476.6,959.1 L476.9,955.7 L477.1,953.2 L477.3,951.5 L477.6,950.4 L477.8,949.6 L478.1,949.2 L478.3,949.0 L478.5,948.9 L478.8,949.0 L479.0,949.1 L479.3,949.3 L479.5,949.6 L479.7,949.8 L480.0,950.1 L480.2,950.5 L480.5,950.8 L480.7,951.1 L480.9,951.5 L481.2,951.8 L481.4,952.1 L481.7,952.5 L481.9,952.8 L482.1,953.2 L482.4,953.5 L482.6,953.8 L482.9,954.1 L483.1,954.4 L483.4,954.8 L483.6,955.1 L483.8,955.4 L484.1,955.7 L484.3,956.0 L484.6,956.2 L484.8,956.5 L485.0,956.8 L485.3,957.1 L485.5,957.4 L485.8,957.6 L486.0,957.9 L486.2,958.2 L486.5,958.4 L486.7,958.7 L487.0,958.9 L487.2,959.2 L487.4,959.4 L487.7,959.7 L487.9,959.9 L488.2,960.1 L488.4,960.4 L488.6,960.6 L488.9,960.8 L489.1,961.1 L489.4,961.3 L489.6,961.5 L489.8,961.7 L490.1,961.9 L490.3,962.1 L490.6,962.3 L490.8,962.5 L491.0,962.7 L491.3,962.9 L491.5,963.1 L491.8,963.3 L492.0,963.5 L492.2,963.7 L492.5,963.8 L492.7,964.0 L493.0,964.2 L493.2,964.4 L493.4,964.5 L493.7,964.7 L493.9,964.9 L494.2,965.0 L494.4,965.2 L494.6,965.4 L494.9,965.5 L495.1,965.7 L495.4,965.8 L495.6,966.0 L495.8,966.1 L496.1,966.3 L496.3,966.4 L496.6,966.6 L496.8,966.7 L497.0,966.8 L497.3,967.0 L497.5,967.1 L497.8,967.2 L498.0,967.4 L498.3,967.5 L498.5,967.6 L498.7,967.8 L499.0,967.9 L499.2,968.0 L499.5,968.1 L499.7,968.2 L499.9,968.4 L500.2,968.5 L500.4,968.6 L500.7,968.7 L500.9,968.8 L501.1,968.9 L501.4,969.0 L501.6,969.1 L501.9,969.2 L502.1,969.3 L502.3,969.4 L502.6,969.5 L502.8,969.6 L503.1,969.7 L503.3,969.8 L503.5,969.9 L503.8,970.0 L504.0,970.1 L504.3,970.2 L504.5,970.3 L504.7,970.4 L505.0,970.5 L505.2,970.6 L505.5,970.7 L505.7,970.7 L505.9,970.8 L506.2,970.9 L506.4,971.0 L506.7,971.1 L506.9,971.1 L507.1,971.2 L507.4,971.3 L507.6,971.4 L507.9,971.5 L508.1,971.5 L508.3,971.6 L508.6,971.7 L508.8,971.7 L509.1,971.8 L509.3,971.9 L509.5,971.9 L509.8,972.0 L510.0,972.1 L510.3,972.1 L510.5,972.2 L510.7,972.3 L511.0,972.3 L511.2,972.4 L511.5,972.5 L511.7,972.5 L511.9,972.6 L512.2,972.6 L512.4,972.7 L512.7,972.8 L512.9,972.8 L513.2,972.9 L513.4,972.9 L513.6,973.0 L513.9,973.0 L514.1,973.1 L514.4,973.1 L514.6,973.2 L514.8,973.2 L515.1,973.3 L515.3,973.3 L515.6,973.4 L515.8,973.4 L516.0,973.5 L516.3,973.5 L516.5,973.6 L516.8,973.6 L517.0,973.7 L517.2,973.7 L517.5,973.8 L517.7,973.8 L518.0,973.8 L518.2,973.9 L518.4,973.9 L518.7,974.0 L518.9,974.0 L519.2,974.1 L519.4,974.1 L519.6,974.1 L519.9,974.2 L520.1,974.2 L520.4,974.3 L520.6,974.3 L520.8,974.3 L521.1,974.4 L521.3,974.4 L521.6,974.4 L521.8,974.5 L522.0,974.5 L522.3,974.5 L522.5,974.6 L522.8,974.6 L523.0,974.6 L523.2,974.7 L523.5,974.7 L523.7,974.7 L524.0,974.8 L524.2,974.8 L524.4,974.8 L524.7,974.9 L524.9,974.9 L525.2,974.9 L525.4,975.0 L525.6,975.0 L525.9,975.0 L526.1,975.0 L526.4,975.1 L526.6,975.1 L526.9,975.1 L527.1,975.2 L527.3,975.2 L527.6,975.2 L527.8,975.2 L528.1,975.3 L528.3,975.3 L528.5,975.3 L528.8,975.3 L529.0,975.4 L529.3,975.4 L529.5,975.4 L529.7,975.4 L530.0,975.5 L530.2,975.5 L530.5,975.5 L530.7,975.5 L530.9,975.6 L531.2,975.6 L531.4,975.6 L531.7,975.6 L531.9,975.7 L532.1,975.7 L532.4,975.7 L532.6,975.7 L532.9,975.7 L533.1,975.8 L533.3,975.8 L533.6,975.8 L533.8,975.8 L534.1,975.8 L534.3,975.9 L534.5,975.9 L534.8,975.9 L535.0,975.9 L535.3,975.9 L535.5,976.0 L535.7,976.0 L536.0,976.0 L536.2,976.0 L536.5,976.0 L536.7,976.1 L536.9,976.1 L537.2,976.1 L537.4,976.1 L537.7,976.1 L537.9,976.1 L538.1,976.2 L538.4,976.2 L538.6,976.2 L538.9,976.2 L539.1,976.2 L539.3,976.2 L539.6,976.3 L539.8,976.3 L540.1,976.3 L540.3,976.3 L540.5,976.3 L540.8,976.3 L541.0,976.3 L541.3,976.4 L541.5,976.4 L541.8,976.4 L542.0,976.4 L542.2,976.4 L542.5,976.4 L542.7,976.5 L543.0,976.5 L543.2,976.5 L543.4,976.5 L543.7,976.5 L543.9,976.5 L544.2,976.5 L544.4,976.5 L544.6,976.6 L544.9,976.6 L545.1,976.6 L545.4,976.6 L545.6,976.6 L545.8,976.6 L546.1,976.6 L546.3,976.7 L546.6,976.7 L546.8,976.7 L547.0,976.7 L547.3,976.7 L547.5,976.7 L547.8,976.7 L548.0,976.7" stroke="#ff0000" stroke-width="1.2" fill="none" stroke-linejoin="round" stroke-linecap="round"/>
<path d="M475.5,979.8 L475.9,979.8 L476.1,1001.0 L476.4,1008.2 L476.6,1008.9 L476.9,1006.8 L477.1,1003.8 L477.3,1000.5 L477.6,997.5 L477.8,994.9 L478.1,992.5 L478.3,990.6 L478.5,988.9 L478.8,987.5 L479.0,986.3 L479.3,985.4 L479.5,984.5 L479.7,983.9 L480.0,983.3 L480.2,982.8 L480.5,982.4 L480.7,982.1 L480.9,981.8 L481.2,981.5 L481.4,981.3 L481.7,981.2 L481.9,981.0 L482.1,980.9 L482.4,980.8 L482.6,980.7 L482.9,980.6 L483.1,980.6 L483.4,980.5 L483.6,980.5 L483.8,980.4 L484.1,980.4 L484.3,980.4 L484.6,980.3 L484.8,980.3 L485.0,980.3 L485.3,980.3 L485.5,980.3 L485.8,980.2 L486.0,980.2 L486.2,980.2 L486.5,980.2 L486.7,980.2 L487.0,980.2 L487.2,980.2 L487.4,980.1 L487.7,980.1 L487.9,980.1 L488.2,980.1 L488.4,980.1 L488.6,980.1 L488.9,980.1 L489.1,980.1 L489.4,980.1 L489.6,980.1 L489.8,980.1 L490.1,980.0 L490.3,980.0 L490.6,980.0 L490.8,980.0 L491.0,980.0 L491.3,980.0 L491.5,980.0 L491.8,980.0 L492.0,980.0 L492.2,980.0 L492.5,980.0 L492.7,980.0 L493.0,980.0 L493.2,980.0 L493.4,980.0 L493.7,980.0 L493.9,980.0 L494.2,980.0 L494.4,980.0 L494.6,979.9 L494.9,979.9 L495.1,979.9 L495.4,979.9 L495.6,979.9 L495.8,979.9 L496.1,979.9 L496.3,979.9 L496.6,979.9 L496.8,979.9 L497.0,979.9 L497.3,979.9 L497.5,979.9 L497.8,979.9 L498.0,979.9 L498.3,979.9 L498.5,979.9 L498.7,979.9 L499.0,979.9 L499.2,979.9 L499.5,979.9 L499.7,979.9 L499.9,979.9 L500.2,979.9 L500.4,979.9 L500.7,979.9 L500.9,979.9 L501.1,979.9 L501.4,979.9 L501.6,979.9 L501.9,979.9 L502.1,979.9 L502.3,979.9 L502.6,979.9 L502.8,979.9 L503.1,979.9 L503.3,979.9 L503.5,979.9 L503.8,979.9 L504.0,979.9 L504.3,979.9 L504.5,979.9 L504.7,979.8 L505.0,979.8 L505.2,979.8 L505.5,979.8 L505.7,979.8 L505.9,979.8 L506.2,979.8 L506.4,979.8 L506.7,979.8 L506.9,979.8 L507.1,979.8 L507.4,979.8 L507.6,979.8 L507.9,979.8 L508.1,979.8 L508.3,979.8 L508.6,979.8 L508.8,979.8 L509.1,979.8 L509.3,979.8 L509.5,979.8 L509.8,979.8 L510.0,979.8 L510.3,979.8 L510.5,979.8 L510.7,979.8 L511.0,979.8 L511.2,979.8 L511.5,979.8 L511.7,979.8 L511.9,979.8 L512.2,979.8 L512.4,979.8 L512.7,979.8 L512.9,979.8 L513.2,979.8 L513.4,979.8 L513.6,979.8 L513.9,979.8 L514.1,979.8 L514.4,979.8 L514.6,979.8 L514.8,979.8 L515.1,979.8 L515.3,979.8 L515.6,979.8 L515.8,979.8 L516.0,979.8 L516.3,979.8 L516.5,979.8 L516.8,979.8 L517.0,979.8 L517.2,979.8 L517.5,979.8 L517.7,979.8 L518.0,979.8 L518.2,979.8 L518.4,979.8 L518.7,979.8 L518.9,979.8 L519.2,979.8 L519.4,979.8 L519.6,979.8 L519.9,979.8 L520.1,979.8 L520.4,979.8 L520.6,979.8 L520.8,979.8 L521.1,979.8 L521.3,979.8 L521.6,979.8 L521.8,979.8 L522.0,979.8 L522.3,979.8 L522.5,979.8 L522.8,979.8 L523.0,979.8 L523.2,979.8 L523.5,979.8 L523.7,979.8 L524.0,979.8 L524.2,979.8 L524.4,979.8 L524.7,979.8 L524.9,979.8 L525.2,979.8 L525.4,979.8 L525.6,979.8 L525.9,979.8 L526.1,979.8 L526.4,979.8 L526.6,979.8 L526.9,979.8 L527.1,979.8 L527.3,979.8 L527.6,979.8 L527.8,979.8 L528.1,979.8 L528.3,979.8 L528.5,979.8 L528.8,979.8 L529.0,979.8 L529.3,979.8 L529.5,979.8 L529.7,979.8 L530.0,979.8 L530.2,979.8 L530.5,979.8 L530.7,979.8 L530.9,979.8 L531.2,979.8 L531.4,979.8 L531.7,979.8 L531.9,979.8 L532.1,979.8 L532.4,979.8 L532.6,979.8 L532.9,979.8 L533.1,979.8 L533.3,979.8 L533.6,979.8 L533.8,979.8 L534.1,979.8 L534.3,979.8 L534.5,979.8 L534.8,979.8 L535.0,979.8 L535.3,979.8 L535.5,979.8 L535.7,979.8 L536.0,979.8 L536.2,979.8 L536.5,979.8 L536.7,979.8 L536.9,979.8 L537.2,979.8 L537.4,979.8 L537.7,979.8 L537.9,979.8 L538.1,979.8 L538.4,979.8 L538.6,979.8 L538.9,979.8 L539.1,979.8 L539.3,979.8 L539.6,979.8 L539.8,979.8 L540.1,979.8 L540.3,979.8 L540.5,979.8 L540.8,979.8 L541.0,979.8 L541.3,979.8 L541.5,979.8 L541.8,979.8 L542.0,979.8 L542.2,979.8 L542.5,979.8 L542.7,979.8 L543.0,979.8 L543.2,979.8 L543.4,979.8 L543.7,979.8 L543.9,979.8 L544.2,979.8 L544.4,979.8 L544.6,979.8 L544.9,979.8 L545.1,979.8 L545.4,979.8 L545.6,979.8 L545.8,979.8 L546.1,979.8 L546.3,979.8 L546.6,979.8 L546.8,979.8 L547.0,979.8 L547.3,979.8 L547.5,979.8 L547.8,979.8 L548.0,979.8" stroke="#ff0000" stroke-width="1.2" fill="none" stroke-linejoin="round" stroke-linecap="round"/>
<path d="M475.6,1066.4 L476.2,1066.4 L476.4,1052.7 L476.7,1042.8 L476.9,1035.6 L477.2,1030.4 L477.4,1026.8 L477.6,1024.2 L477.9,1022.5 L478.1,1021.4 L478.4,1020.7 L478.6,1020.4 L478.8,1020.3 L479.1,1020.4 L479.3,1020.6 L479.6,1020.9 L479.8,1021.2 L480.0,1021.6 L480.3,1022.1 L480.5,1022.5 L480.7,1023.0 L481.0,1023.5 L481.2,1024.0 L481.5,1024.4 L481.7,1024.9 L481.9,1025.4 L482.2,1025.9 L482.4,1026.3 L482.7,1026.8 L482.9,1027.2 L483.1,1027.7 L483.4,1028.1 L483.6,1028.6 L483.9,1029.0 L484.1,1029.4 L484.3,1029.8 L484.6,1030.2 L484.8,1030.6 L485.1,1031.0 L485.3,1031.4 L485.5,1031.7 L485.8,1032.1 L486.0,1032.5 L486.3,1032.8 L486.5,1033.2 L486.7,1033.5 L487.0,1033.9 L487.2,1034.2 L487.4,1034.5 L487.7,1034.9 L487.9,1035.2 L488.2,1035.5 L488.4,1035.8 L488.6,1036.1 L488.9,1036.4 L489.1,1036.7 L489.4,1037.0 L489.6,1037.3 L489.8,1037.5 L490.1,1037.8 L490.3,1038.1 L490.6,1038.4 L490.8,1038.6 L491.0,1038.9 L491.3,1039.1 L491.5,1039.4 L491.8,1039.6 L492.0,1039.9 L492.2,1040.1 L492.5,1040.3 L492.7,1040.6 L493.0,1040.8 L493.2,1041.0 L493.4,1041.2 L493.7,1041.5 L493.9,1041.7 L494.1,1041.9 L494.4,1042.1 L494.6,1042.3 L494.9,1042.5 L495.1,1042.7 L495.3,1042.9 L495.6,1043.1 L495.8,1043.3 L496.1,1043.5 L496.3,1043.7 L496.5,1043.8 L496.8,1044.0 L497.0,1044.2 L497.3,1044.4 L497.5,1044.5 L497.7,1044.7 L498.0,1044.9 L498.2,1045.0 L498.5,1045.2 L498.7,1045.4 L498.9,1045.5 L499.2,1045.7 L499.4,1045.8 L499.7,1046.0 L499.9,1046.2 L500.1,1046.3 L500.4,1046.4 L500.6,1046.6 L500.9,1046.7 L501.1,1046.9 L501.3,1047.0 L501.6,1047.2 L501.8,1047.3 L502.0,1047.4 L502.3,1047.6 L502.5,1047.7 L502.8,1047.8 L503.0,1048.0 L503.2,1048.1 L503.5,1048.2 L503.7,1048.3 L504.0,1048.5 L504.2,1048.6 L504.4,1048.7 L504.7,1048.8 L504.9,1048.9 L505.2,1049.0 L505.4,1049.2 L505.6,1049.3 L505.9,1049.4 L506.1,1049.5 L506.4,1049.6 L506.6,1049.7 L506.8,1049.8 L507.1,1049.9 L507.3,1050.0 L507.6,1050.1 L507.8,1050.2 L508.0,1050.3 L508.3,1050.4 L508.5,1050.5 L508.7,1050.6 L509.0,1050.7 L509.2,1050.8 L509.5,1050.9 L509.7,1051.0 L509.9,1051.1 L510.2,1051.2 L510.4,1051.3 L510.7,1051.4 L510.9,1051.5 L511.1,1051.6 L511.4,1051.7 L511.6,1051.7 L511.9,1051.8 L512.1,1051.9 L512.3,1052.0 L512.6,1052.1 L512.8,1052.2 L513.1,1052.3 L513.3,1052.3 L513.5,1052.4 L513.8,1052.5 L514.0,1052.6 L514.3,1052.7 L514.5,1052.7 L514.7,1052.8 L515.0,1052.9 L515.2,1053.0 L515.5,1053.0 L515.7,1053.1 L515.9,1053.2 L516.2,1053.3 L516.4,1053.3 L516.6,1053.4 L516.9,1053.5 L517.1,1053.5 L517.4,1053.6 L517.6,1053.7 L517.8,1053.8 L518.1,1053.8 L518.3,1053.9 L518.6,1054.0 L518.8,1054.0 L519.0,1054.1 L519.3,1054.2 L519.5,1054.2 L519.8,1054.3 L520.0,1054.4 L520.2,1054.4 L520.5,1054.5 L520.7,1054.6 L521.0,1054.6 L521.2,1054.7 L521.4,1054.7 L521.7,1054.8 L521.9,1054.9 L522.2,1054.9 L522.4,1055.0 L522.6,1055.0 L522.9,1055.1 L523.1,1055.2 L523.3,1055.2 L523.6,1055.3 L523.8,1055.3 L524.1,1055.4 L524.3,1055.4 L524.5,1055.5 L524.8,1055.6 L525.0,1055.6 L525.3,1055.7 L525.5,1055.7 L525.7,1055.8 L526.0,1055.8 L526.2,1055.9 L526.5,1055.9 L526.7,1056.0 L526.9,1056.0 L527.2,1056.1 L527.4,1056.1 L527.7,1056.2 L527.9,1056.3 L528.1,1056.3 L528.4,1056.4 L528.6,1056.4 L528.9,1056.5 L529.1,1056.5 L529.3,1056.6 L529.6,1056.6 L529.8,1056.7 L530.0,1056.7 L530.3,1056.7 L530.5,1056.8 L530.8,1056.8 L531.0,1056.9 L531.2,1056.9 L531.5,1057.0 L531.7,1057.0 L532.0,1057.1 L532.2,1057.1 L532.4,1057.2 L532.7,1057.2 L532.9,1057.3 L533.2,1057.3 L533.4,1057.3 L533.6,1057.4 L533.9,1057.4 L534.1,1057.5 L534.4,1057.5 L534.6,1057.6 L534.8,1057.6 L535.1,1057.7 L535.3,1057.7 L535.6,1057.7 L535.8,1057.8 L536.0,1057.8 L536.3,1057.9 L536.5,1057.9 L536.8,1057.9 L537.0,1058.0 L537.2,1058.0 L537.5,1058.1 L537.7,1058.1 L537.9,1058.1 L538.2,1058.2 L538.4,1058.2 L538.7,1058.3 L538.9,1058.3 L539.1,1058.3 L539.4,1058.4 L539.6,1058.4 L539.9,1058.5 L540.1,1058.5 L540.3,1058.5 L540.6,1058.6 L540.8,1058.6 L541.1,1058.6 L541.3,1058.7 L541.5,1058.7 L541.8,1058.8 L542.0,1058.8 L542.3,1058.8 L542.5,1058.9 L542.7,1058.9 L543.0,1058.9 L543.2,1059.0 L543.5,1059.0 L543.7,1059.0 L543.9,1059.1 L544.2,1059.1 L544.4,1059.1 L544.6,1059.2 L544.9,1059.2 L545.1,1059.2 L545.4,1059.3 L545.6,1059.3 L545.8,1059.3 L546.1,1059.4 L546.3,1059.4 L546.6,1059.4 L546.8,1059.5 L547.0,1059.5 L547.3,1059.5 L547.5,1059.6 L547.8,1059.6 L548.0,1059.6" stroke="#ff0000" stroke-width="1.2" fill="none" stroke-linejoin="round" stroke-linecap="round"/>
<path d="M475.4,1064.3 L475.5,1040.0 L475.7,1067.5 L476.2,1066.4 L476.4,1053.1 L476.7,1043.4 L476.9,1036.3 L477.2,1031.2 L477.4,1027.5 L477.6,1024.9 L477.9,1023.1 L478.1,1021.9 L478.4,1021.1 L478.6,1020.6 L478.8,1020.4 L479.1,1020.3 L479.3,1020.4 L479.6,1020.5 L479.8,1020.7 L480.0,1021.0 L480.3,1021.3 L480.5,1021.6 L480.7,1021.9 L481.0,1022.3 L481.2,1022.6 L481.5,1023.0 L481.7,1023.3 L481.9,1023.7 L482.2,1024.1 L482.4,1024.4 L482.7,1024.8 L482.9,1025.1 L483.1,1025.5 L483.4,1025.8 L483.6,1026.1 L483.9,1026.5 L484.1,1026.8 L484.3,1027.1 L484.6,1027.4 L484.8,1027.7 L485.1,1028.1 L485.3,1028.4 L485.5,1028.7 L485.8,1029.0 L486.0,1029.3 L486.3,1029.5 L486.5,1029.8 L486.7,1030.1 L487.0,1030.4 L487.2,1030.7 L487.4,1030.9 L487.7,1031.2 L487.9,1031.5 L488.2,1031.7 L488.4,1032.0 L488.6,1032.3 L488.9,1032.5 L489.1,1032.8 L489.4,1033.0 L489.6,1033.2 L489.8,1033.5 L490.1,1033.7 L490.3,1033.9 L490.6,1034.2 L490.8,1034.4 L491.0,1034.6 L491.3,1034.9 L491.5,1035.1 L491.8,1035.3 L492.0,1035.5 L492.2,1035.7 L492.5,1035.9 L492.7,1036.1 L493.0,1036.3 L493.2,1036.5 L493.4,1036.7 L493.7,1036.9 L493.9,1037.1 L494.1,1037.3 L494.4,1037.5 L494.6,1037.7 L494.9,1037.9 L495.1,1038.1 L495.3,1038.2 L495.6,1038.4 L495.8,1038.6 L496.1,1038.8 L496.3,1038.9 L496.5,1039.1 L496.8,1039.3 L497.0,1039.4 L497.3,1039.6 L497.5,1039.8 L497.7,1039.9 L498.0,1040.1 L498.2,1040.3 L498.5,1040.4 L498.7,1040.6 L498.9,1040.7 L499.2,1040.9 L499.4,1041.0 L499.7,1041.2 L499.9,1041.3 L500.1,1041.5 L500.4,1041.6 L500.6,1041.7 L500.9,1041.9 L501.1,1042.0 L501.3,1042.2 L501.6,1042.3 L501.8,1042.4 L502.0,1042.6 L502.3,1042.7 L502.5,1042.8 L502.8,1043.0 L503.0,1043.1 L503.2,1043.2 L503.5,1043.3 L503.7,1043.5 L504.0,1043.6 L504.2,1043.7 L504.4,1043.8 L504.7,1044.0 L504.9,1044.1 L505.2,1044.2 L505.4,1044.3 L505.6,1044.4 L505.9,1044.5 L506.1,1044.6 L506.4,1044.8 L506.6,1044.9 L506.8,1045.0 L507.1,1045.1 L507.3,1045.2 L507.6,1045.3 L507.8,1045.4 L508.0,1045.5 L508.3,1045.6 L508.5,1045.7 L508.7,1045.8 L509.0,1045.9 L509.2,1046.0 L509.5,1046.1 L509.7,1046.2 L509.9,1046.3 L510.2,1046.4 L510.4,1046.5 L510.7,1046.6 L510.9,1046.7 L511.1,1046.8 L511.4,1046.9 L511.6,1047.0 L511.9,1047.1 L512.1,1047.2 L512.3,1047.3 L512.6,1047.4 L512.8,1047.4 L513.1,1047.5 L513.3,1047.6 L513.5,1047.7 L513.8,1047.8 L514.0,1047.9 L514.3,1048.0 L514.5,1048.0 L514.7,1048.1 L515.0,1048.2 L515.2,1048.3 L515.5,1048.4 L515.7,1048.5 L515.9,1048.5 L516.2,1048.6 L516.4,1048.7 L516.6,1048.8 L516.9,1048.9 L517.1,1048.9 L517.4,1049.0 L517.6,1049.1 L517.8,1049.2 L518.1,1049.2 L518.3,1049.3 L518.6,1049.4 L518.8,1049.5 L519.0,1049.5 L519.3,1049.6 L519.5,1049.7 L519.8,1049.7 L520.0,1049.8 L520.2,1049.9 L520.5,1050.0 L520.7,1050.0 L521.0,1050.1 L521.2,1050.2 L521.4,1050.2 L521.7,1050.3 L521.9,1050.4 L522.2,1050.4 L522.4,1050.5 L522.6,1050.6 L522.9,1050.6 L523.1,1050.7 L523.3,1050.8 L523.6,1050.8 L523.8,1050.9 L524.1,1051.0 L524.3,1051.0 L524.5,1051.1 L524.8,1051.2 L525.0,1051.2 L525.3,1051.3 L525.5,1051.3 L525.7,1051.4 L526.0,1051.5 L526.2,1051.5 L526.5,1051.6 L526.7,1051.6 L526.9,1051.7 L527.2,1051.8 L527.4,1051.8 L527.7,1051.9 L527.9,1051.9 L528.1,1052.0 L528.4,1052.0 L528.6,1052.1 L528.9,1052.2 L529.1,1052.2 L529.3,1052.3 L529.6,1052.3 L529.8,1052.4 L530.0,1052.4 L530.3,1052.5 L530.5,1052.5 L530.8,1052.6 L531.0,1052.7 L531.2,1052.7 L531.5,1052.8 L531.7,1052.8 L532.0,1052.9 L532.2,1052.9 L532.4,1053.0 L532.7,1053.0 L532.9,1053.1 L533.2,1053.1 L533.4,1053.2 L533.6,1053.2 L533.9,1053.3 L534.1,1053.3 L534.4,1053.4 L534.6,1053.4 L534.8,1053.5 L535.1,1053.5 L535.3,1053.6 L535.6,1053.6 L535.8,1053.7 L536.0,1053.7 L536.3,1053.8 L536.5,1053.8 L536.8,1053.9 L537.0,1053.9 L537.2,1054.0 L537.5,1054.0 L537.7,1054.1 L537.9,1054.1 L538.2,1054.1 L538.4,1054.2 L538.7,1054.2 L538.9,1054.3 L539.1,1054.3 L539.4,1054.4 L539.6,1054.4 L539.9,1054.5 L540.1,1054.5 L540.3,1054.6 L540.6,1054.6 L540.8,1054.6 L541.1,1054.7 L541.3,1054.7 L541.5,1054.8 L541.8,1054.8 L542.0,1054.9 L542.3,1054.9 L542.5,1054.9 L542.7,1055.0 L543.0,1055.0 L543.2,1055.1 L543.5,1055.1 L543.7,1055.2 L543.9,1055.2 L544.2,1055.2 L544.4,1055.3 L544.6,1055.3 L544.9,1055.4 L545.1,1055.4 L545.4,1055.4 L545.6,1055.5 L545.8,1055.5 L546.1,1055.6 L546.3,1055.6 L546.6,1055.6 L546.8,1055.7 L547.0,1055.7 L547.3,1055.8 L547.5,1055.8 L547.8,1055.8 L548.0,1055.9" stroke="#0000ff" stroke-width="1.2" fill="none" stroke-linejoin="round" stroke-linecap="round"/>
<text x="471.8" y="913.0" font-size="7.80" text-anchor="end" fill="#000" textLength="33.7" lengthAdjust="spacingAndGlyphs">CASK-WT</text>
<line x1="472.2" y1="910.2" x2="475.2" y2="910.2" stroke="#0000ff" stroke-width="0.6" stroke-linecap="butt"/>
<text x="471.8" y="982.7" font-size="7.80" text-anchor="end" fill="#000" textLength="33.2" lengthAdjust="spacingAndGlyphs">CASK-KO</text>
<line x1="472.2" y1="979.8" x2="475.2" y2="979.8" stroke="#ff0000" stroke-width="0.6" stroke-linecap="butt"/>
<text x="440.9" y="1063.9" font-size="7.80" fill="#000" textLength="27.6" lengthAdjust="spacingAndGlyphs">Overlaid</text>
<line x1="470.5" y1="1064.3" x2="475.2" y2="1064.3" stroke="#0000ff" stroke-width="0.6" stroke-linecap="butt"/>
<text x="482.0" y="1063.9" font-size="7.80" fill="#000" textLength="9.6" lengthAdjust="spacingAndGlyphs">KO</text>
<text x="508.8" y="1034.5" font-size="7.80" fill="#000" textLength="10.9" lengthAdjust="spacingAndGlyphs">WT</text>
<text x="511.7" y="1012.0" font-size="8.20" fill="#000" textLength="25.4" lengthAdjust="spacingAndGlyphs">200 ms</text>
<line x1="509.5" y1="1015.0" x2="537.8" y2="1015.0" stroke="#000" stroke-width="1.3" stroke-linecap="butt"/>
<line x1="508.6" y1="1035.0" x2="506.4" y2="1037.3" stroke="#000" stroke-width="1.0" stroke-linecap="butt"/>
<path d="M503.2,1040.6 L504.9,1035.8 L507.9,1038.7Z" fill="#000"/>
<line x1="491.6" y1="1057.6" x2="494.0" y2="1054.9" stroke="#000" stroke-width="1.0" stroke-linecap="butt"/>
<path d="M497.0,1051.4 L495.6,1056.2 L492.4,1053.5Z" fill="#000"/>
<line x1="626.9" y1="878.9" x2="626.9" y2="884.0" stroke="#000" stroke-width="1.5" stroke-linecap="butt"/>
<line x1="622.5" y1="879.4" x2="631.3" y2="879.4" stroke="#000" stroke-width="1.5" stroke-linecap="butt"/>
<rect x="616.5" y="883.8" width="20.9" height="62.4" fill="#0000ff" stroke="#000" stroke-width="1.5"/>
<line x1="626.9" y1="946.1" x2="626.9" y2="950.9" stroke="#000" stroke-width="1.5" stroke-linecap="butt"/>
<text x="626.9" y="939.5" font-size="10.40" text-anchor="middle" fill="#fff">7</text>
<line x1="654.5" y1="890.2" x2="654.5" y2="895.1" stroke="#000" stroke-width="1.5" stroke-linecap="butt"/>
<line x1="650.1" y1="890.8" x2="658.9" y2="890.8" stroke="#000" stroke-width="1.5" stroke-linecap="butt"/>
<rect x="644.1" y="894.9" width="20.8" height="51.2" fill="#ff0000" stroke="#000" stroke-width="1.5"/>
<line x1="654.5" y1="946.1" x2="654.5" y2="950.9" stroke="#000" stroke-width="1.5" stroke-linecap="butt"/>
<text x="654.5" y="939.5" font-size="10.40" text-anchor="middle" fill="#fff">6</text>
<line x1="610.1" y1="853.5" x2="610.1" y2="946.9" stroke="#000" stroke-width="1.5" stroke-linecap="butt"/>
<line x1="605.1" y1="946.1" x2="671.2" y2="946.1" stroke="#000" stroke-width="1.5" stroke-linecap="butt"/>
<line x1="605.1" y1="854.2" x2="610.1" y2="854.2" stroke="#000" stroke-width="1.5" stroke-linecap="butt"/>
<text x="604.6" y="857.3" font-size="8.60" text-anchor="end" fill="#000">1.0</text>
<line x1="605.1" y1="899.9" x2="610.1" y2="899.9" stroke="#000" stroke-width="1.5" stroke-linecap="butt"/>
<text x="604.6" y="903.0" font-size="8.60" text-anchor="end" fill="#000">0.5</text>
<line x1="605.1" y1="946.1" x2="610.1" y2="946.1" stroke="#000" stroke-width="1.5" stroke-linecap="butt"/>
<text x="604.6" y="949.2" font-size="8.60" text-anchor="end" fill="#000">0.0</text>
<path d="M625.5,872 V865.7 H654.3 V873" stroke="#000" stroke-width="1.1" fill="none" stroke-linejoin="miter" stroke-linecap="butt"/>
<text x="640.1" y="865.4" font-size="12.00" text-anchor="middle" font-weight="bold" fill="#000">*</text>
<text x="626.6" y="957.9" font-size="10.30" text-anchor="middle" fill="#000">WT</text>
<text x="654.3" y="957.9" font-size="10.30" text-anchor="middle" fill="#000">KO</text>
<text transform="translate(586.4,900.0) rotate(-90)" font-size="10.20" text-anchor="middle" fill="#000" textLength="57.5" lengthAdjust="spacingAndGlyphs">NMDA/AMPA</text>
<line x1="626.9" y1="983.0" x2="626.9" y2="990.7" stroke="#000" stroke-width="1.5" stroke-linecap="butt"/>
<line x1="622.5" y1="983.5" x2="631.3" y2="983.5" stroke="#000" stroke-width="1.5" stroke-linecap="butt"/>
<rect x="616.5" y="990.5" width="20.9" height="70.5" fill="#0000ff" stroke="#000" stroke-width="1.5"/>
<line x1="626.9" y1="1061.0" x2="626.9" y2="1065.8" stroke="#000" stroke-width="1.5" stroke-linecap="butt"/>
<text x="626.9" y="1054.5" font-size="10.40" text-anchor="middle" fill="#fff">7</text>
<line x1="654.5" y1="1002.4" x2="654.5" y2="1008.6" stroke="#000" stroke-width="1.5" stroke-linecap="butt"/>
<line x1="650.1" y1="1002.9" x2="658.9" y2="1002.9" stroke="#000" stroke-width="1.5" stroke-linecap="butt"/>
<rect x="644.1" y="1008.4" width="20.8" height="52.6" fill="#ff0000" stroke="#000" stroke-width="1.5"/>
<line x1="654.5" y1="1061.0" x2="654.5" y2="1065.8" stroke="#000" stroke-width="1.5" stroke-linecap="butt"/>
<text x="654.5" y="1054.5" font-size="10.40" text-anchor="middle" fill="#fff">6</text>
<line x1="610.1" y1="970.5" x2="610.1" y2="1061.8" stroke="#000" stroke-width="1.5" stroke-linecap="butt"/>
<line x1="605.1" y1="1061.0" x2="671.2" y2="1061.0" stroke="#000" stroke-width="1.5" stroke-linecap="butt"/>
<line x1="605.1" y1="989.6" x2="610.1" y2="989.6" stroke="#000" stroke-width="1.5" stroke-linecap="butt"/>
<text x="604.6" y="992.7" font-size="8.60" text-anchor="end" fill="#000">200</text>
<line x1="605.1" y1="1025.2" x2="610.1" y2="1025.2" stroke="#000" stroke-width="1.5" stroke-linecap="butt"/>
<text x="604.6" y="1028.3" font-size="8.60" text-anchor="end" fill="#000">100</text>
<line x1="605.1" y1="1061.0" x2="610.1" y2="1061.0" stroke="#000" stroke-width="1.5" stroke-linecap="butt"/>
<text x="604.6" y="1064.1" font-size="8.60" text-anchor="end" fill="#000">0</text>
<path d="M625.5,979 V972.8 H653.6 V979.8" stroke="#000" stroke-width="1.1" fill="none" stroke-linejoin="miter" stroke-linecap="butt"/>
<text x="639.7" y="972.5" font-size="12.00" text-anchor="middle" font-weight="bold" fill="#000">*</text>
<text x="626.6" y="1072.9" font-size="10.30" text-anchor="middle" fill="#000">WT</text>
<text x="654.3" y="1072.9" font-size="10.30" text-anchor="middle" fill="#000">KO</text>
<text transform="translate(585.4,1017.0) rotate(-90)" font-size="10.20" text-anchor="middle" fill="#000" textLength="83.0" lengthAdjust="spacingAndGlyphs">NMDA Decay τ (ms)</text>
</svg>
</body></html>
